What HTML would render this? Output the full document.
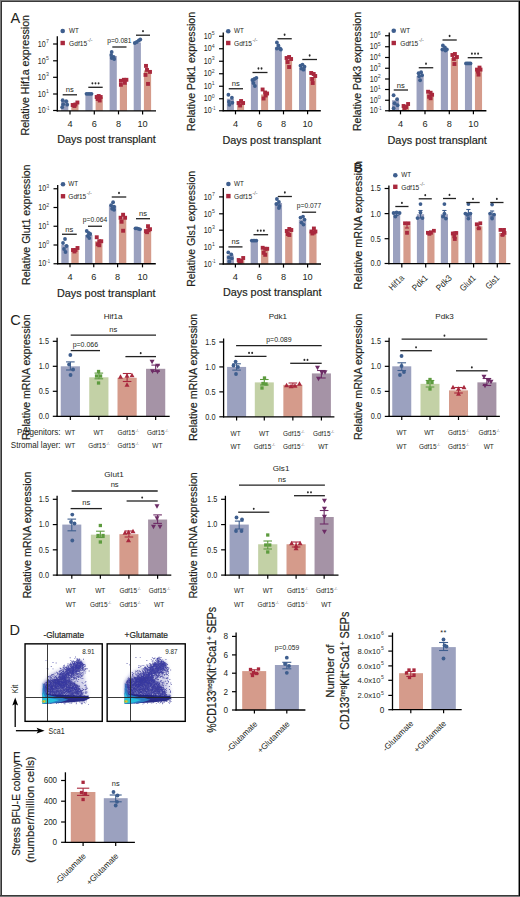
<!DOCTYPE html>
<html><head><meta charset="utf-8"><style>
html,body{margin:0;padding:0;background:#fff;width:520px;height:897px;overflow:hidden}
svg{display:block}
text{font-family:"Liberation Sans", sans-serif}
.b{stroke:#231f20;stroke-width:0.2px}
</style></head><body>
<svg width="520" height="897" viewBox="0 0 520 897">
<rect width="520" height="897" fill="#fff"/>
<text transform="translate(28.80,75.25) rotate(-90)" font-size="11.6" text-anchor="middle" fill="#231f20" textLength="120.5" lengthAdjust="spacingAndGlyphs" class="b">Relative Hif1a expression</text>
<rect x="61.10" y="100.20" width="7.20" height="10.60" fill="#9ba1bf"/>
<rect x="71.30" y="103.50" width="7.20" height="7.30" fill="#d59b8b"/>
<rect x="85.40" y="93.80" width="7.20" height="17.00" fill="#9ba1bf"/>
<rect x="95.60" y="97.00" width="7.20" height="13.80" fill="#d59b8b"/>
<rect x="109.60" y="56.00" width="7.20" height="54.80" fill="#9ba1bf"/>
<rect x="119.80" y="83.80" width="7.20" height="27.00" fill="#d59b8b"/>
<rect x="133.70" y="42.50" width="7.20" height="68.30" fill="#9ba1bf"/>
<rect x="143.90" y="70.40" width="7.20" height="40.40" fill="#d59b8b"/>
<circle cx="62.70" cy="100.20" r="1.9" fill="#3e5e8e"/>
<circle cx="66.20" cy="101.20" r="1.9" fill="#3e5e8e"/>
<circle cx="63.20" cy="104.20" r="1.9" fill="#3e5e8e"/>
<circle cx="67.20" cy="104.70" r="1.9" fill="#3e5e8e"/>
<circle cx="62.20" cy="107.20" r="1.9" fill="#3e5e8e"/>
<rect x="70.75" y="103.05" width="3.9" height="3.9" fill="#a9283d"/>
<rect x="73.45" y="102.55" width="3.9" height="3.9" fill="#a9283d"/>
<rect x="75.45" y="100.55" width="3.9" height="3.9" fill="#a9283d"/>
<rect x="72.45" y="104.05" width="3.9" height="3.9" fill="#a9283d"/>
<circle cx="86.50" cy="93.80" r="1.9" fill="#3e5e8e"/>
<circle cx="88.20" cy="93.80" r="1.9" fill="#3e5e8e"/>
<circle cx="89.80" cy="93.80" r="1.9" fill="#3e5e8e"/>
<circle cx="91.50" cy="93.80" r="1.9" fill="#3e5e8e"/>
<rect x="94.75" y="95.05" width="3.9" height="3.9" fill="#a9283d"/>
<rect x="96.75" y="94.05" width="3.9" height="3.9" fill="#a9283d"/>
<rect x="98.75" y="95.05" width="3.9" height="3.9" fill="#a9283d"/>
<rect x="95.75" y="97.05" width="3.9" height="3.9" fill="#a9283d"/>
<rect x="97.75" y="98.55" width="3.9" height="3.9" fill="#a9283d"/>
<circle cx="111.70" cy="52.00" r="1.9" fill="#3e5e8e"/>
<circle cx="111.20" cy="55.00" r="1.9" fill="#3e5e8e"/>
<circle cx="113.70" cy="57.00" r="1.9" fill="#3e5e8e"/>
<circle cx="111.70" cy="58.00" r="1.9" fill="#3e5e8e"/>
<circle cx="114.20" cy="59.00" r="1.9" fill="#3e5e8e"/>
<rect x="118.95" y="78.85" width="3.9" height="3.9" fill="#a9283d"/>
<rect x="121.95" y="77.85" width="3.9" height="3.9" fill="#a9283d"/>
<rect x="124.45" y="77.85" width="3.9" height="3.9" fill="#a9283d"/>
<rect x="118.95" y="82.85" width="3.9" height="3.9" fill="#a9283d"/>
<rect x="122.95" y="80.85" width="3.9" height="3.9" fill="#a9283d"/>
<circle cx="134.80" cy="43.00" r="1.9" fill="#3e5e8e"/>
<circle cx="136.80" cy="42.00" r="1.9" fill="#3e5e8e"/>
<circle cx="138.80" cy="40.50" r="1.9" fill="#3e5e8e"/>
<circle cx="140.30" cy="39.50" r="1.9" fill="#3e5e8e"/>
<rect x="144.05" y="63.95" width="3.9" height="3.9" fill="#a9283d"/>
<rect x="145.05" y="67.95" width="3.9" height="3.9" fill="#a9283d"/>
<rect x="148.05" y="69.95" width="3.9" height="3.9" fill="#a9283d"/>
<rect x="143.55" y="72.95" width="3.9" height="3.9" fill="#a9283d"/>
<rect x="146.05" y="81.95" width="3.9" height="3.9" fill="#a9283d"/>
<line x1="57.30" y1="36.30" x2="57.30" y2="111.40" stroke="#000" stroke-width="1.3"/>
<line x1="56.70" y1="110.80" x2="156.00" y2="110.80" stroke="#000" stroke-width="1.3"/>
<line x1="53.10" y1="44.00" x2="57.30" y2="44.00" stroke="#000" stroke-width="1.2"/>
<text x="45.70" y="46.70" font-size="8.2" text-anchor="end" fill="#231f20" textLength="7.9" lengthAdjust="spacingAndGlyphs">10</text>
<text x="45.90" y="43.10" font-size="5.4" fill="#444" textLength="2.9" lengthAdjust="spacingAndGlyphs">7</text>
<line x1="53.10" y1="60.80" x2="57.30" y2="60.80" stroke="#000" stroke-width="1.2"/>
<text x="45.70" y="63.50" font-size="8.2" text-anchor="end" fill="#231f20" textLength="7.9" lengthAdjust="spacingAndGlyphs">10</text>
<text x="45.90" y="59.90" font-size="5.4" fill="#444" textLength="2.9" lengthAdjust="spacingAndGlyphs">5</text>
<line x1="53.10" y1="77.30" x2="57.30" y2="77.30" stroke="#000" stroke-width="1.2"/>
<text x="45.70" y="80.00" font-size="8.2" text-anchor="end" fill="#231f20" textLength="7.9" lengthAdjust="spacingAndGlyphs">10</text>
<text x="45.90" y="76.40" font-size="5.4" fill="#444" textLength="2.9" lengthAdjust="spacingAndGlyphs">3</text>
<line x1="53.10" y1="94.00" x2="57.30" y2="94.00" stroke="#000" stroke-width="1.2"/>
<text x="45.70" y="96.70" font-size="8.2" text-anchor="end" fill="#231f20" textLength="7.9" lengthAdjust="spacingAndGlyphs">10</text>
<text x="45.90" y="93.10" font-size="5.4" fill="#444" textLength="2.9" lengthAdjust="spacingAndGlyphs">1</text>
<line x1="53.10" y1="110.50" x2="57.30" y2="110.50" stroke="#000" stroke-width="1.2"/>
<text x="45.70" y="113.20" font-size="8.2" text-anchor="end" fill="#231f20" textLength="7.9" lengthAdjust="spacingAndGlyphs">10</text>
<text x="45.90" y="109.60" font-size="5.4" fill="#444" textLength="3.6" lengthAdjust="spacingAndGlyphs">-1</text>
<line x1="70.00" y1="110.80" x2="70.00" y2="114.40" stroke="#000" stroke-width="1.2"/>
<text x="70.00" y="127.10" font-size="9.2" text-anchor="middle" fill="#231f20">4</text>
<line x1="94.30" y1="110.80" x2="94.30" y2="114.40" stroke="#000" stroke-width="1.2"/>
<text x="94.30" y="127.10" font-size="9.2" text-anchor="middle" fill="#231f20">6</text>
<line x1="118.50" y1="110.80" x2="118.50" y2="114.40" stroke="#000" stroke-width="1.2"/>
<text x="118.50" y="127.10" font-size="9.2" text-anchor="middle" fill="#231f20">8</text>
<line x1="142.60" y1="110.80" x2="142.60" y2="114.40" stroke="#000" stroke-width="1.2"/>
<text x="142.60" y="127.10" font-size="9.2" text-anchor="middle" fill="#231f20">10</text>
<text x="57.30" y="143.40" font-size="11.3" text-anchor="start" fill="#231f20" textLength="98.5" lengthAdjust="spacingAndGlyphs" class="b">Days post transplant</text>
<line x1="62.70" y1="94.80" x2="77.00" y2="94.80" stroke="#222" stroke-width="1.3"/>
<text x="69.85" y="92.30" font-size="7.6" text-anchor="middle" fill="#231f20">ns</text>
<line x1="88.30" y1="87.30" x2="102.70" y2="87.30" stroke="#222" stroke-width="1.3"/>
<ellipse cx="92.40" cy="83.30" rx="0.95" ry="1.15" fill="#2a2a2a"/>
<ellipse cx="95.50" cy="83.30" rx="0.95" ry="1.15" fill="#2a2a2a"/>
<ellipse cx="98.60" cy="83.30" rx="0.95" ry="1.15" fill="#2a2a2a"/>
<line x1="112.30" y1="47.00" x2="126.50" y2="47.00" stroke="#222" stroke-width="1.3"/>
<text x="119.40" y="43.20" font-size="6.8" text-anchor="middle" fill="#231f20" textLength="24.3" lengthAdjust="spacingAndGlyphs">p=0.081</text>
<line x1="136.00" y1="35.20" x2="150.00" y2="35.20" stroke="#222" stroke-width="1.3"/>
<ellipse cx="143.00" cy="31.20" rx="0.95" ry="1.15" fill="#2a2a2a"/>
<circle cx="62.70" cy="31.00" r="2.3" fill="#3e5e8e"/>
<rect x="60.50" y="40.80" width="4.4" height="4.4" fill="#a9283d"/>
<text x="69.10" y="33.10" font-size="7.0" text-anchor="start" fill="#231f20" textLength="9.8" lengthAdjust="spacingAndGlyphs">WT</text>
<text x="69.10" y="45.70" font-size="7.4" text-anchor="start" fill="#231f20" textLength="18.0" lengthAdjust="spacingAndGlyphs">Gdf15</text>
<text x="87.60" y="41.80" font-size="4.8" text-anchor="start" fill="#555" textLength="5.0" lengthAdjust="spacingAndGlyphs">-/-</text>
<text transform="translate(194.50,71.50) rotate(-90)" font-size="11.6" text-anchor="middle" fill="#231f20" textLength="119" lengthAdjust="spacingAndGlyphs" class="b">Relative Pdk1 expression</text>
<rect x="226.90" y="98.75" width="7.00" height="12.00" fill="#9ba1bf"/>
<rect x="237.10" y="103.00" width="7.00" height="7.75" fill="#d59b8b"/>
<rect x="250.90" y="80.00" width="7.00" height="30.75" fill="#9ba1bf"/>
<rect x="261.10" y="94.50" width="7.00" height="16.25" fill="#d59b8b"/>
<rect x="274.90" y="47.50" width="7.00" height="63.25" fill="#9ba1bf"/>
<rect x="285.10" y="60.00" width="7.00" height="50.75" fill="#d59b8b"/>
<rect x="299.00" y="67.70" width="7.00" height="43.05" fill="#9ba1bf"/>
<rect x="309.20" y="77.00" width="7.00" height="33.75" fill="#d59b8b"/>
<circle cx="228.40" cy="94.75" r="1.9" fill="#3e5e8e"/>
<circle cx="231.90" cy="97.75" r="1.9" fill="#3e5e8e"/>
<circle cx="228.90" cy="101.75" r="1.9" fill="#3e5e8e"/>
<circle cx="232.40" cy="102.75" r="1.9" fill="#3e5e8e"/>
<circle cx="229.40" cy="104.75" r="1.9" fill="#3e5e8e"/>
<rect x="236.65" y="101.05" width="3.9" height="3.9" fill="#a9283d"/>
<rect x="239.15" y="99.05" width="3.9" height="3.9" fill="#a9283d"/>
<rect x="241.15" y="101.05" width="3.9" height="3.9" fill="#a9283d"/>
<rect x="238.15" y="103.55" width="3.9" height="3.9" fill="#a9283d"/>
<circle cx="252.40" cy="80.00" r="1.9" fill="#3e5e8e"/>
<circle cx="254.40" cy="79.00" r="1.9" fill="#3e5e8e"/>
<circle cx="256.40" cy="78.00" r="1.9" fill="#3e5e8e"/>
<circle cx="253.40" cy="83.00" r="1.9" fill="#3e5e8e"/>
<circle cx="254.90" cy="86.00" r="1.9" fill="#3e5e8e"/>
<rect x="260.65" y="87.55" width="3.9" height="3.9" fill="#a9283d"/>
<rect x="263.15" y="90.55" width="3.9" height="3.9" fill="#a9283d"/>
<rect x="265.15" y="91.55" width="3.9" height="3.9" fill="#a9283d"/>
<rect x="261.65" y="96.55" width="3.9" height="3.9" fill="#a9283d"/>
<rect x="263.65" y="93.55" width="3.9" height="3.9" fill="#a9283d"/>
<circle cx="276.90" cy="42.50" r="1.9" fill="#3e5e8e"/>
<circle cx="278.40" cy="45.50" r="1.9" fill="#3e5e8e"/>
<circle cx="276.90" cy="48.50" r="1.9" fill="#3e5e8e"/>
<circle cx="279.90" cy="48.50" r="1.9" fill="#3e5e8e"/>
<circle cx="280.90" cy="49.50" r="1.9" fill="#3e5e8e"/>
<rect x="284.65" y="56.05" width="3.9" height="3.9" fill="#a9283d"/>
<rect x="287.15" y="55.05" width="3.9" height="3.9" fill="#a9283d"/>
<rect x="289.15" y="57.05" width="3.9" height="3.9" fill="#a9283d"/>
<rect x="285.65" y="60.05" width="3.9" height="3.9" fill="#a9283d"/>
<rect x="287.15" y="65.05" width="3.9" height="3.9" fill="#a9283d"/>
<circle cx="300.50" cy="65.70" r="1.9" fill="#3e5e8e"/>
<circle cx="302.50" cy="64.70" r="1.9" fill="#3e5e8e"/>
<circle cx="304.50" cy="66.70" r="1.9" fill="#3e5e8e"/>
<circle cx="301.50" cy="68.70" r="1.9" fill="#3e5e8e"/>
<circle cx="303.50" cy="69.70" r="1.9" fill="#3e5e8e"/>
<rect x="309.25" y="71.05" width="3.9" height="3.9" fill="#a9283d"/>
<rect x="311.75" y="72.05" width="3.9" height="3.9" fill="#a9283d"/>
<rect x="313.25" y="74.05" width="3.9" height="3.9" fill="#a9283d"/>
<rect x="310.25" y="77.05" width="3.9" height="3.9" fill="#a9283d"/>
<rect x="310.75" y="81.05" width="3.9" height="3.9" fill="#a9283d"/>
<line x1="223.25" y1="32.50" x2="223.25" y2="111.35" stroke="#000" stroke-width="1.3"/>
<line x1="222.65" y1="110.75" x2="320.80" y2="110.75" stroke="#000" stroke-width="1.3"/>
<line x1="219.05" y1="36.25" x2="223.25" y2="36.25" stroke="#000" stroke-width="1.2"/>
<text x="211.65" y="38.95" font-size="8.2" text-anchor="end" fill="#231f20" textLength="7.9" lengthAdjust="spacingAndGlyphs">10</text>
<text x="211.85" y="35.35" font-size="5.4" fill="#444" textLength="2.9" lengthAdjust="spacingAndGlyphs">5</text>
<line x1="219.05" y1="48.75" x2="223.25" y2="48.75" stroke="#000" stroke-width="1.2"/>
<text x="211.65" y="51.45" font-size="8.2" text-anchor="end" fill="#231f20" textLength="7.9" lengthAdjust="spacingAndGlyphs">10</text>
<text x="211.85" y="47.85" font-size="5.4" fill="#444" textLength="2.9" lengthAdjust="spacingAndGlyphs">4</text>
<line x1="219.05" y1="61.25" x2="223.25" y2="61.25" stroke="#000" stroke-width="1.2"/>
<text x="211.65" y="63.95" font-size="8.2" text-anchor="end" fill="#231f20" textLength="7.9" lengthAdjust="spacingAndGlyphs">10</text>
<text x="211.85" y="60.35" font-size="5.4" fill="#444" textLength="2.9" lengthAdjust="spacingAndGlyphs">3</text>
<line x1="219.05" y1="73.75" x2="223.25" y2="73.75" stroke="#000" stroke-width="1.2"/>
<text x="211.65" y="76.45" font-size="8.2" text-anchor="end" fill="#231f20" textLength="7.9" lengthAdjust="spacingAndGlyphs">10</text>
<text x="211.85" y="72.85" font-size="5.4" fill="#444" textLength="2.9" lengthAdjust="spacingAndGlyphs">2</text>
<line x1="219.05" y1="86.25" x2="223.25" y2="86.25" stroke="#000" stroke-width="1.2"/>
<text x="211.65" y="88.95" font-size="8.2" text-anchor="end" fill="#231f20" textLength="7.9" lengthAdjust="spacingAndGlyphs">10</text>
<text x="211.85" y="85.35" font-size="5.4" fill="#444" textLength="2.9" lengthAdjust="spacingAndGlyphs">1</text>
<line x1="219.05" y1="98.75" x2="223.25" y2="98.75" stroke="#000" stroke-width="1.2"/>
<text x="211.65" y="101.45" font-size="8.2" text-anchor="end" fill="#231f20" textLength="7.9" lengthAdjust="spacingAndGlyphs">10</text>
<text x="211.85" y="97.85" font-size="5.4" fill="#444" textLength="2.9" lengthAdjust="spacingAndGlyphs">0</text>
<line x1="219.05" y1="110.75" x2="223.25" y2="110.75" stroke="#000" stroke-width="1.2"/>
<text x="211.65" y="113.45" font-size="8.2" text-anchor="end" fill="#231f20" textLength="7.9" lengthAdjust="spacingAndGlyphs">10</text>
<text x="211.85" y="109.85" font-size="5.4" fill="#444" textLength="3.6" lengthAdjust="spacingAndGlyphs">-1</text>
<line x1="235.50" y1="110.75" x2="235.50" y2="114.35" stroke="#000" stroke-width="1.2"/>
<text x="235.50" y="127.10" font-size="9.2" text-anchor="middle" fill="#231f20">4</text>
<line x1="259.50" y1="110.75" x2="259.50" y2="114.35" stroke="#000" stroke-width="1.2"/>
<text x="259.50" y="127.10" font-size="9.2" text-anchor="middle" fill="#231f20">6</text>
<line x1="283.50" y1="110.75" x2="283.50" y2="114.35" stroke="#000" stroke-width="1.2"/>
<text x="283.50" y="127.10" font-size="9.2" text-anchor="middle" fill="#231f20">8</text>
<line x1="307.60" y1="110.75" x2="307.60" y2="114.35" stroke="#000" stroke-width="1.2"/>
<text x="307.60" y="127.10" font-size="9.2" text-anchor="middle" fill="#231f20">10</text>
<text x="222.50" y="143.90" font-size="11.3" text-anchor="start" fill="#231f20" textLength="98.5" lengthAdjust="spacingAndGlyphs" class="b">Days post transplant</text>
<line x1="228.75" y1="88.75" x2="243.00" y2="88.75" stroke="#222" stroke-width="1.3"/>
<text x="235.88" y="86.25" font-size="7.6" text-anchor="middle" fill="#231f20">ns</text>
<line x1="252.50" y1="72.50" x2="267.50" y2="72.50" stroke="#222" stroke-width="1.3"/>
<ellipse cx="258.45" cy="68.50" rx="0.95" ry="1.15" fill="#2a2a2a"/>
<ellipse cx="261.55" cy="68.50" rx="0.95" ry="1.15" fill="#2a2a2a"/>
<line x1="277.50" y1="38.75" x2="291.75" y2="38.75" stroke="#222" stroke-width="1.3"/>
<ellipse cx="284.62" cy="34.75" rx="0.95" ry="1.15" fill="#2a2a2a"/>
<line x1="302.30" y1="59.50" x2="317.00" y2="59.50" stroke="#222" stroke-width="1.3"/>
<ellipse cx="309.65" cy="55.50" rx="0.95" ry="1.15" fill="#2a2a2a"/>
<circle cx="228.25" cy="31.25" r="2.3" fill="#3e5e8e"/>
<rect x="226.05" y="40.80" width="4.4" height="4.4" fill="#a9283d"/>
<text x="234.05" y="33.35" font-size="7.0" text-anchor="start" fill="#231f20" textLength="9.8" lengthAdjust="spacingAndGlyphs">WT</text>
<text x="234.05" y="45.70" font-size="7.4" text-anchor="start" fill="#231f20" textLength="18.0" lengthAdjust="spacingAndGlyphs">Gdf15</text>
<text x="252.55" y="41.80" font-size="4.8" text-anchor="start" fill="#555" textLength="5.0" lengthAdjust="spacingAndGlyphs">-/-</text>
<text transform="translate(360.50,71.50) rotate(-90)" font-size="11.6" text-anchor="middle" fill="#231f20" textLength="119" lengthAdjust="spacingAndGlyphs" class="b">Relative Pdk3 expression</text>
<rect x="392.05" y="100.25" width="7.10" height="10.50" fill="#9ba1bf"/>
<rect x="402.05" y="106.00" width="7.10" height="4.75" fill="#d59b8b"/>
<rect x="416.55" y="76.25" width="7.10" height="34.50" fill="#9ba1bf"/>
<rect x="426.55" y="93.75" width="7.10" height="17.00" fill="#d59b8b"/>
<rect x="440.85" y="49.50" width="7.10" height="61.25" fill="#9ba1bf"/>
<rect x="450.85" y="58.00" width="7.10" height="52.75" fill="#d59b8b"/>
<rect x="464.95" y="63.40" width="7.10" height="47.35" fill="#9ba1bf"/>
<rect x="474.95" y="69.60" width="7.10" height="41.15" fill="#d59b8b"/>
<circle cx="393.60" cy="95.25" r="1.9" fill="#3e5e8e"/>
<circle cx="397.10" cy="99.25" r="1.9" fill="#3e5e8e"/>
<circle cx="394.60" cy="103.25" r="1.9" fill="#3e5e8e"/>
<circle cx="397.60" cy="105.25" r="1.9" fill="#3e5e8e"/>
<circle cx="393.60" cy="108.25" r="1.9" fill="#3e5e8e"/>
<rect x="401.65" y="104.05" width="3.9" height="3.9" fill="#a9283d"/>
<rect x="404.15" y="105.05" width="3.9" height="3.9" fill="#a9283d"/>
<rect x="406.15" y="102.05" width="3.9" height="3.9" fill="#a9283d"/>
<rect x="402.65" y="106.05" width="3.9" height="3.9" fill="#a9283d"/>
<circle cx="418.60" cy="73.25" r="1.9" fill="#3e5e8e"/>
<circle cx="421.10" cy="72.25" r="1.9" fill="#3e5e8e"/>
<circle cx="422.10" cy="75.25" r="1.9" fill="#3e5e8e"/>
<circle cx="419.10" cy="76.25" r="1.9" fill="#3e5e8e"/>
<circle cx="420.10" cy="80.25" r="1.9" fill="#3e5e8e"/>
<rect x="426.15" y="89.80" width="3.9" height="3.9" fill="#a9283d"/>
<rect x="428.65" y="90.80" width="3.9" height="3.9" fill="#a9283d"/>
<rect x="430.15" y="92.80" width="3.9" height="3.9" fill="#a9283d"/>
<rect x="427.15" y="94.80" width="3.9" height="3.9" fill="#a9283d"/>
<rect x="428.65" y="96.30" width="3.9" height="3.9" fill="#a9283d"/>
<circle cx="442.90" cy="45.50" r="1.9" fill="#3e5e8e"/>
<circle cx="444.90" cy="47.50" r="1.9" fill="#3e5e8e"/>
<circle cx="442.40" cy="49.50" r="1.9" fill="#3e5e8e"/>
<circle cx="445.40" cy="50.50" r="1.9" fill="#3e5e8e"/>
<circle cx="446.90" cy="49.50" r="1.9" fill="#3e5e8e"/>
<rect x="450.45" y="53.05" width="3.9" height="3.9" fill="#a9283d"/>
<rect x="452.95" y="52.05" width="3.9" height="3.9" fill="#a9283d"/>
<rect x="454.95" y="55.05" width="3.9" height="3.9" fill="#a9283d"/>
<rect x="451.95" y="57.05" width="3.9" height="3.9" fill="#a9283d"/>
<rect x="452.45" y="62.05" width="3.9" height="3.9" fill="#a9283d"/>
<circle cx="466.00" cy="63.40" r="1.9" fill="#3e5e8e"/>
<circle cx="467.50" cy="63.40" r="1.9" fill="#3e5e8e"/>
<circle cx="469.00" cy="63.40" r="1.9" fill="#3e5e8e"/>
<circle cx="470.50" cy="63.40" r="1.9" fill="#3e5e8e"/>
<rect x="475.05" y="67.65" width="3.9" height="3.9" fill="#a9283d"/>
<rect x="477.55" y="65.65" width="3.9" height="3.9" fill="#a9283d"/>
<rect x="478.55" y="67.65" width="3.9" height="3.9" fill="#a9283d"/>
<rect x="476.05" y="69.65" width="3.9" height="3.9" fill="#a9283d"/>
<rect x="476.55" y="72.65" width="3.9" height="3.9" fill="#a9283d"/>
<line x1="389.25" y1="32.50" x2="389.25" y2="111.35" stroke="#000" stroke-width="1.3"/>
<line x1="388.65" y1="110.75" x2="486.40" y2="110.75" stroke="#000" stroke-width="1.3"/>
<line x1="385.05" y1="35.75" x2="389.25" y2="35.75" stroke="#000" stroke-width="1.2"/>
<text x="377.65" y="38.45" font-size="8.2" text-anchor="end" fill="#231f20" textLength="7.9" lengthAdjust="spacingAndGlyphs">10</text>
<text x="377.85" y="34.85" font-size="5.4" fill="#444" textLength="2.9" lengthAdjust="spacingAndGlyphs">6</text>
<line x1="385.05" y1="46.75" x2="389.25" y2="46.75" stroke="#000" stroke-width="1.2"/>
<text x="377.65" y="49.45" font-size="8.2" text-anchor="end" fill="#231f20" textLength="7.9" lengthAdjust="spacingAndGlyphs">10</text>
<text x="377.85" y="45.85" font-size="5.4" fill="#444" textLength="2.9" lengthAdjust="spacingAndGlyphs">5</text>
<line x1="385.05" y1="57.50" x2="389.25" y2="57.50" stroke="#000" stroke-width="1.2"/>
<text x="377.65" y="60.20" font-size="8.2" text-anchor="end" fill="#231f20" textLength="7.9" lengthAdjust="spacingAndGlyphs">10</text>
<text x="377.85" y="56.60" font-size="5.4" fill="#444" textLength="2.9" lengthAdjust="spacingAndGlyphs">4</text>
<line x1="385.05" y1="68.25" x2="389.25" y2="68.25" stroke="#000" stroke-width="1.2"/>
<text x="377.65" y="70.95" font-size="8.2" text-anchor="end" fill="#231f20" textLength="7.9" lengthAdjust="spacingAndGlyphs">10</text>
<text x="377.85" y="67.35" font-size="5.4" fill="#444" textLength="2.9" lengthAdjust="spacingAndGlyphs">3</text>
<line x1="385.05" y1="79.00" x2="389.25" y2="79.00" stroke="#000" stroke-width="1.2"/>
<text x="377.65" y="81.70" font-size="8.2" text-anchor="end" fill="#231f20" textLength="7.9" lengthAdjust="spacingAndGlyphs">10</text>
<text x="377.85" y="78.10" font-size="5.4" fill="#444" textLength="2.9" lengthAdjust="spacingAndGlyphs">2</text>
<line x1="385.05" y1="89.50" x2="389.25" y2="89.50" stroke="#000" stroke-width="1.2"/>
<text x="377.65" y="92.20" font-size="8.2" text-anchor="end" fill="#231f20" textLength="7.9" lengthAdjust="spacingAndGlyphs">10</text>
<text x="377.85" y="88.60" font-size="5.4" fill="#444" textLength="2.9" lengthAdjust="spacingAndGlyphs">1</text>
<line x1="385.05" y1="100.25" x2="389.25" y2="100.25" stroke="#000" stroke-width="1.2"/>
<text x="377.65" y="102.95" font-size="8.2" text-anchor="end" fill="#231f20" textLength="7.9" lengthAdjust="spacingAndGlyphs">10</text>
<text x="377.85" y="99.35" font-size="5.4" fill="#444" textLength="2.9" lengthAdjust="spacingAndGlyphs">0</text>
<line x1="385.05" y1="110.75" x2="389.25" y2="110.75" stroke="#000" stroke-width="1.2"/>
<text x="377.65" y="113.45" font-size="8.2" text-anchor="end" fill="#231f20" textLength="7.9" lengthAdjust="spacingAndGlyphs">10</text>
<text x="377.85" y="109.85" font-size="5.4" fill="#444" textLength="3.6" lengthAdjust="spacingAndGlyphs">-1</text>
<line x1="400.50" y1="110.75" x2="400.50" y2="114.35" stroke="#000" stroke-width="1.2"/>
<text x="400.50" y="127.10" font-size="9.2" text-anchor="middle" fill="#231f20">4</text>
<line x1="425.00" y1="110.75" x2="425.00" y2="114.35" stroke="#000" stroke-width="1.2"/>
<text x="425.00" y="127.10" font-size="9.2" text-anchor="middle" fill="#231f20">6</text>
<line x1="449.30" y1="110.75" x2="449.30" y2="114.35" stroke="#000" stroke-width="1.2"/>
<text x="449.30" y="127.10" font-size="9.2" text-anchor="middle" fill="#231f20">8</text>
<line x1="473.40" y1="110.75" x2="473.40" y2="114.35" stroke="#000" stroke-width="1.2"/>
<text x="473.40" y="127.10" font-size="9.2" text-anchor="middle" fill="#231f20">10</text>
<text x="387.50" y="143.90" font-size="11.3" text-anchor="start" fill="#231f20" textLength="99.3" lengthAdjust="spacingAndGlyphs" class="b">Days post transplant</text>
<line x1="393.75" y1="90.00" x2="408.00" y2="90.00" stroke="#222" stroke-width="1.3"/>
<text x="400.88" y="87.50" font-size="7.6" text-anchor="middle" fill="#231f20">ns</text>
<line x1="418.75" y1="67.75" x2="433.25" y2="67.75" stroke="#222" stroke-width="1.3"/>
<ellipse cx="426.00" cy="63.75" rx="0.95" ry="1.15" fill="#2a2a2a"/>
<line x1="442.50" y1="40.00" x2="456.75" y2="40.00" stroke="#222" stroke-width="1.3"/>
<ellipse cx="449.62" cy="36.00" rx="0.95" ry="1.15" fill="#2a2a2a"/>
<line x1="467.70" y1="57.70" x2="482.30" y2="57.70" stroke="#222" stroke-width="1.3"/>
<ellipse cx="471.90" cy="53.70" rx="0.95" ry="1.15" fill="#2a2a2a"/>
<ellipse cx="475.00" cy="53.70" rx="0.95" ry="1.15" fill="#2a2a2a"/>
<ellipse cx="478.10" cy="53.70" rx="0.95" ry="1.15" fill="#2a2a2a"/>
<circle cx="393.75" cy="30.75" r="2.3" fill="#3e5e8e"/>
<rect x="391.55" y="40.80" width="4.4" height="4.4" fill="#a9283d"/>
<text x="400.30" y="32.85" font-size="7.0" text-anchor="start" fill="#231f20" textLength="9.8" lengthAdjust="spacingAndGlyphs">WT</text>
<text x="400.30" y="45.70" font-size="7.4" text-anchor="start" fill="#231f20" textLength="18.0" lengthAdjust="spacingAndGlyphs">Gdf15</text>
<text x="418.80" y="41.80" font-size="4.8" text-anchor="start" fill="#555" textLength="5.0" lengthAdjust="spacingAndGlyphs">-/-</text>
<text transform="translate(29.50,224.75) rotate(-90)" font-size="11.6" text-anchor="middle" fill="#231f20" textLength="120.5" lengthAdjust="spacingAndGlyphs" class="b">Relative Glut1 expression</text>
<rect x="61.30" y="245.00" width="7.40" height="18.75" fill="#9ba1bf"/>
<rect x="71.30" y="250.00" width="7.40" height="13.75" fill="#d59b8b"/>
<rect x="85.05" y="235.00" width="7.40" height="28.75" fill="#9ba1bf"/>
<rect x="95.05" y="241.25" width="7.40" height="22.50" fill="#d59b8b"/>
<rect x="108.90" y="205.75" width="7.40" height="58.00" fill="#9ba1bf"/>
<rect x="118.90" y="218.75" width="7.40" height="45.00" fill="#d59b8b"/>
<rect x="133.80" y="228.30" width="7.40" height="35.45" fill="#9ba1bf"/>
<rect x="143.80" y="229.20" width="7.40" height="34.55" fill="#d59b8b"/>
<circle cx="65.00" cy="239.00" r="1.9" fill="#3e5e8e"/>
<circle cx="63.00" cy="243.00" r="1.9" fill="#3e5e8e"/>
<circle cx="66.50" cy="246.00" r="1.9" fill="#3e5e8e"/>
<circle cx="64.00" cy="249.00" r="1.9" fill="#3e5e8e"/>
<circle cx="65.50" cy="252.00" r="1.9" fill="#3e5e8e"/>
<rect x="71.05" y="248.05" width="3.9" height="3.9" fill="#a9283d"/>
<rect x="73.55" y="248.05" width="3.9" height="3.9" fill="#a9283d"/>
<rect x="75.55" y="246.05" width="3.9" height="3.9" fill="#a9283d"/>
<rect x="72.55" y="249.55" width="3.9" height="3.9" fill="#a9283d"/>
<circle cx="86.75" cy="231.00" r="1.9" fill="#3e5e8e"/>
<circle cx="88.75" cy="233.00" r="1.9" fill="#3e5e8e"/>
<circle cx="90.25" cy="234.00" r="1.9" fill="#3e5e8e"/>
<circle cx="87.75" cy="236.00" r="1.9" fill="#3e5e8e"/>
<circle cx="89.25" cy="238.00" r="1.9" fill="#3e5e8e"/>
<rect x="94.80" y="235.30" width="3.9" height="3.9" fill="#a9283d"/>
<rect x="97.30" y="239.30" width="3.9" height="3.9" fill="#a9283d"/>
<rect x="99.30" y="239.30" width="3.9" height="3.9" fill="#a9283d"/>
<rect x="95.80" y="242.30" width="3.9" height="3.9" fill="#a9283d"/>
<rect x="97.30" y="243.30" width="3.9" height="3.9" fill="#a9283d"/>
<circle cx="113.10" cy="202.25" r="1.9" fill="#3e5e8e"/>
<circle cx="111.10" cy="205.25" r="1.9" fill="#3e5e8e"/>
<circle cx="114.10" cy="206.75" r="1.9" fill="#3e5e8e"/>
<circle cx="112.10" cy="208.75" r="1.9" fill="#3e5e8e"/>
<circle cx="114.10" cy="209.75" r="1.9" fill="#3e5e8e"/>
<rect x="118.65" y="215.80" width="3.9" height="3.9" fill="#a9283d"/>
<rect x="121.15" y="212.80" width="3.9" height="3.9" fill="#a9283d"/>
<rect x="123.15" y="215.80" width="3.9" height="3.9" fill="#a9283d"/>
<rect x="119.65" y="219.80" width="3.9" height="3.9" fill="#a9283d"/>
<rect x="121.15" y="228.80" width="3.9" height="3.9" fill="#a9283d"/>
<circle cx="135.50" cy="228.30" r="1.9" fill="#3e5e8e"/>
<circle cx="137.00" cy="228.30" r="1.9" fill="#3e5e8e"/>
<circle cx="138.50" cy="228.80" r="1.9" fill="#3e5e8e"/>
<circle cx="140.00" cy="229.30" r="1.9" fill="#3e5e8e"/>
<rect x="144.05" y="229.25" width="3.9" height="3.9" fill="#a9283d"/>
<rect x="146.05" y="224.25" width="3.9" height="3.9" fill="#a9283d"/>
<rect x="148.05" y="227.25" width="3.9" height="3.9" fill="#a9283d"/>
<rect x="145.05" y="230.25" width="3.9" height="3.9" fill="#a9283d"/>
<rect x="146.55" y="228.25" width="3.9" height="3.9" fill="#a9283d"/>
<line x1="57.70" y1="185.00" x2="57.70" y2="264.35" stroke="#000" stroke-width="1.3"/>
<line x1="57.10" y1="263.75" x2="155.80" y2="263.75" stroke="#000" stroke-width="1.3"/>
<line x1="53.50" y1="188.75" x2="57.70" y2="188.75" stroke="#000" stroke-width="1.2"/>
<text x="46.10" y="191.45" font-size="8.2" text-anchor="end" fill="#231f20" textLength="7.9" lengthAdjust="spacingAndGlyphs">10</text>
<text x="46.30" y="187.85" font-size="5.4" fill="#444" textLength="2.9" lengthAdjust="spacingAndGlyphs">3</text>
<line x1="53.50" y1="207.50" x2="57.70" y2="207.50" stroke="#000" stroke-width="1.2"/>
<text x="46.10" y="210.20" font-size="8.2" text-anchor="end" fill="#231f20" textLength="7.9" lengthAdjust="spacingAndGlyphs">10</text>
<text x="46.30" y="206.60" font-size="5.4" fill="#444" textLength="2.9" lengthAdjust="spacingAndGlyphs">2</text>
<line x1="53.50" y1="226.25" x2="57.70" y2="226.25" stroke="#000" stroke-width="1.2"/>
<text x="46.10" y="228.95" font-size="8.2" text-anchor="end" fill="#231f20" textLength="7.9" lengthAdjust="spacingAndGlyphs">10</text>
<text x="46.30" y="225.35" font-size="5.4" fill="#444" textLength="2.9" lengthAdjust="spacingAndGlyphs">1</text>
<line x1="53.50" y1="245.00" x2="57.70" y2="245.00" stroke="#000" stroke-width="1.2"/>
<text x="46.10" y="247.70" font-size="8.2" text-anchor="end" fill="#231f20" textLength="7.9" lengthAdjust="spacingAndGlyphs">10</text>
<text x="46.30" y="244.10" font-size="5.4" fill="#444" textLength="2.9" lengthAdjust="spacingAndGlyphs">0</text>
<line x1="53.50" y1="263.75" x2="57.70" y2="263.75" stroke="#000" stroke-width="1.2"/>
<text x="46.10" y="266.45" font-size="8.2" text-anchor="end" fill="#231f20" textLength="7.9" lengthAdjust="spacingAndGlyphs">10</text>
<text x="46.30" y="262.85" font-size="5.4" fill="#444" textLength="3.6" lengthAdjust="spacingAndGlyphs">-1</text>
<line x1="70.00" y1="263.75" x2="70.00" y2="267.35" stroke="#000" stroke-width="1.2"/>
<text x="70.00" y="280.30" font-size="9.2" text-anchor="middle" fill="#231f20">4</text>
<line x1="93.75" y1="263.75" x2="93.75" y2="267.35" stroke="#000" stroke-width="1.2"/>
<text x="93.75" y="280.30" font-size="9.2" text-anchor="middle" fill="#231f20">6</text>
<line x1="117.60" y1="263.75" x2="117.60" y2="267.35" stroke="#000" stroke-width="1.2"/>
<text x="117.60" y="280.30" font-size="9.2" text-anchor="middle" fill="#231f20">8</text>
<line x1="142.50" y1="263.75" x2="142.50" y2="267.35" stroke="#000" stroke-width="1.2"/>
<text x="142.50" y="280.30" font-size="9.2" text-anchor="middle" fill="#231f20">10</text>
<text x="57.00" y="296.90" font-size="11.3" text-anchor="start" fill="#231f20" textLength="98.5" lengthAdjust="spacingAndGlyphs" class="b">Days post transplant</text>
<line x1="62.00" y1="234.25" x2="76.75" y2="234.25" stroke="#222" stroke-width="1.3"/>
<text x="69.38" y="231.75" font-size="7.6" text-anchor="middle" fill="#231f20">ns</text>
<line x1="88.00" y1="226.25" x2="102.00" y2="226.25" stroke="#222" stroke-width="1.3"/>
<text x="95.00" y="222.45" font-size="6.8" text-anchor="middle" fill="#231f20" textLength="24.3" lengthAdjust="spacingAndGlyphs">p=0.064</text>
<line x1="111.75" y1="197.00" x2="126.25" y2="197.00" stroke="#222" stroke-width="1.3"/>
<ellipse cx="119.00" cy="193.00" rx="0.95" ry="1.15" fill="#2a2a2a"/>
<line x1="136.00" y1="218.70" x2="150.00" y2="218.70" stroke="#222" stroke-width="1.3"/>
<text x="143.00" y="216.20" font-size="7.6" text-anchor="middle" fill="#231f20">ns</text>
<circle cx="63.00" cy="184.25" r="2.3" fill="#3e5e8e"/>
<rect x="60.80" y="194.05" width="4.4" height="4.4" fill="#a9283d"/>
<text x="68.30" y="186.35" font-size="7.0" text-anchor="start" fill="#231f20" textLength="9.8" lengthAdjust="spacingAndGlyphs">WT</text>
<text x="68.30" y="198.95" font-size="7.4" text-anchor="start" fill="#231f20" textLength="18.0" lengthAdjust="spacingAndGlyphs">Gdf15</text>
<text x="86.80" y="195.05" font-size="4.8" text-anchor="start" fill="#555" textLength="5.0" lengthAdjust="spacingAndGlyphs">-/-</text>
<text transform="translate(195.10,228.80) rotate(-90)" font-size="11.6" text-anchor="middle" fill="#231f20" textLength="116.0" lengthAdjust="spacingAndGlyphs" class="b">Relative Gls1 expression</text>
<rect x="226.65" y="255.40" width="7.30" height="8.60" fill="#9ba1bf"/>
<rect x="237.05" y="260.00" width="7.30" height="4.00" fill="#d59b8b"/>
<rect x="250.65" y="240.60" width="7.30" height="23.40" fill="#9ba1bf"/>
<rect x="261.05" y="249.80" width="7.30" height="14.20" fill="#d59b8b"/>
<rect x="274.75" y="203.00" width="7.30" height="61.00" fill="#9ba1bf"/>
<rect x="285.15" y="231.00" width="7.30" height="33.00" fill="#d59b8b"/>
<rect x="298.85" y="219.60" width="7.30" height="44.40" fill="#9ba1bf"/>
<rect x="309.25" y="231.50" width="7.30" height="32.50" fill="#d59b8b"/>
<circle cx="228.30" cy="252.40" r="1.9" fill="#3e5e8e"/>
<circle cx="231.30" cy="254.40" r="1.9" fill="#3e5e8e"/>
<circle cx="228.80" cy="257.40" r="1.9" fill="#3e5e8e"/>
<circle cx="231.80" cy="258.40" r="1.9" fill="#3e5e8e"/>
<circle cx="229.30" cy="261.40" r="1.9" fill="#3e5e8e"/>
<rect x="236.75" y="258.05" width="3.9" height="3.9" fill="#a9283d"/>
<rect x="239.25" y="259.05" width="3.9" height="3.9" fill="#a9283d"/>
<rect x="241.25" y="256.05" width="3.9" height="3.9" fill="#a9283d"/>
<rect x="237.75" y="259.55" width="3.9" height="3.9" fill="#a9283d"/>
<circle cx="251.80" cy="240.60" r="1.9" fill="#3e5e8e"/>
<circle cx="253.30" cy="240.60" r="1.9" fill="#3e5e8e"/>
<circle cx="254.80" cy="240.60" r="1.9" fill="#3e5e8e"/>
<circle cx="256.30" cy="240.60" r="1.9" fill="#3e5e8e"/>
<rect x="260.75" y="245.85" width="3.9" height="3.9" fill="#a9283d"/>
<rect x="263.25" y="246.85" width="3.9" height="3.9" fill="#a9283d"/>
<rect x="265.25" y="246.85" width="3.9" height="3.9" fill="#a9283d"/>
<rect x="261.75" y="250.85" width="3.9" height="3.9" fill="#a9283d"/>
<rect x="263.25" y="252.85" width="3.9" height="3.9" fill="#a9283d"/>
<circle cx="276.90" cy="199.00" r="1.9" fill="#3e5e8e"/>
<circle cx="278.90" cy="202.00" r="1.9" fill="#3e5e8e"/>
<circle cx="276.40" cy="204.00" r="1.9" fill="#3e5e8e"/>
<circle cx="279.40" cy="206.00" r="1.9" fill="#3e5e8e"/>
<circle cx="278.90" cy="208.00" r="1.9" fill="#3e5e8e"/>
<rect x="284.85" y="229.05" width="3.9" height="3.9" fill="#a9283d"/>
<rect x="287.35" y="227.05" width="3.9" height="3.9" fill="#a9283d"/>
<rect x="289.35" y="228.05" width="3.9" height="3.9" fill="#a9283d"/>
<rect x="285.85" y="232.05" width="3.9" height="3.9" fill="#a9283d"/>
<rect x="287.35" y="233.05" width="3.9" height="3.9" fill="#a9283d"/>
<circle cx="300.50" cy="217.60" r="1.9" fill="#3e5e8e"/>
<circle cx="303.00" cy="216.60" r="1.9" fill="#3e5e8e"/>
<circle cx="304.50" cy="219.60" r="1.9" fill="#3e5e8e"/>
<circle cx="301.50" cy="222.60" r="1.9" fill="#3e5e8e"/>
<circle cx="303.50" cy="224.60" r="1.9" fill="#3e5e8e"/>
<rect x="309.45" y="229.55" width="3.9" height="3.9" fill="#a9283d"/>
<rect x="311.95" y="226.55" width="3.9" height="3.9" fill="#a9283d"/>
<rect x="313.45" y="229.55" width="3.9" height="3.9" fill="#a9283d"/>
<rect x="310.45" y="231.55" width="3.9" height="3.9" fill="#a9283d"/>
<rect x="311.95" y="230.55" width="3.9" height="3.9" fill="#a9283d"/>
<line x1="223.30" y1="188.10" x2="223.30" y2="264.60" stroke="#000" stroke-width="1.3"/>
<line x1="222.70" y1="264.00" x2="321.00" y2="264.00" stroke="#000" stroke-width="1.3"/>
<line x1="219.10" y1="196.90" x2="223.30" y2="196.90" stroke="#000" stroke-width="1.2"/>
<text x="211.70" y="199.60" font-size="8.2" text-anchor="end" fill="#231f20" textLength="7.9" lengthAdjust="spacingAndGlyphs">10</text>
<text x="211.90" y="196.00" font-size="5.4" fill="#444" textLength="2.9" lengthAdjust="spacingAndGlyphs">7</text>
<line x1="219.10" y1="213.80" x2="223.30" y2="213.80" stroke="#000" stroke-width="1.2"/>
<text x="211.70" y="216.50" font-size="8.2" text-anchor="end" fill="#231f20" textLength="7.9" lengthAdjust="spacingAndGlyphs">10</text>
<text x="211.90" y="212.90" font-size="5.4" fill="#444" textLength="2.9" lengthAdjust="spacingAndGlyphs">5</text>
<line x1="219.10" y1="230.20" x2="223.30" y2="230.20" stroke="#000" stroke-width="1.2"/>
<text x="211.70" y="232.90" font-size="8.2" text-anchor="end" fill="#231f20" textLength="7.9" lengthAdjust="spacingAndGlyphs">10</text>
<text x="211.90" y="229.30" font-size="5.4" fill="#444" textLength="2.9" lengthAdjust="spacingAndGlyphs">3</text>
<line x1="219.10" y1="247.00" x2="223.30" y2="247.00" stroke="#000" stroke-width="1.2"/>
<text x="211.70" y="249.70" font-size="8.2" text-anchor="end" fill="#231f20" textLength="7.9" lengthAdjust="spacingAndGlyphs">10</text>
<text x="211.90" y="246.10" font-size="5.4" fill="#444" textLength="2.9" lengthAdjust="spacingAndGlyphs">1</text>
<line x1="219.10" y1="264.00" x2="223.30" y2="264.00" stroke="#000" stroke-width="1.2"/>
<text x="211.70" y="266.70" font-size="8.2" text-anchor="end" fill="#231f20" textLength="7.9" lengthAdjust="spacingAndGlyphs">10</text>
<text x="211.90" y="263.10" font-size="5.4" fill="#444" textLength="3.6" lengthAdjust="spacingAndGlyphs">-1</text>
<line x1="235.40" y1="264.00" x2="235.40" y2="267.60" stroke="#000" stroke-width="1.2"/>
<text x="235.40" y="280.30" font-size="9.2" text-anchor="middle" fill="#231f20">4</text>
<line x1="259.40" y1="264.00" x2="259.40" y2="267.60" stroke="#000" stroke-width="1.2"/>
<text x="259.40" y="280.30" font-size="9.2" text-anchor="middle" fill="#231f20">6</text>
<line x1="283.50" y1="264.00" x2="283.50" y2="267.60" stroke="#000" stroke-width="1.2"/>
<text x="283.50" y="280.30" font-size="9.2" text-anchor="middle" fill="#231f20">8</text>
<line x1="307.60" y1="264.00" x2="307.60" y2="267.60" stroke="#000" stroke-width="1.2"/>
<text x="307.60" y="280.30" font-size="9.2" text-anchor="middle" fill="#231f20">10</text>
<text x="223.00" y="296.40" font-size="11.3" text-anchor="start" fill="#231f20" textLength="98.5" lengthAdjust="spacingAndGlyphs" class="b">Days post transplant</text>
<line x1="228.40" y1="246.90" x2="242.50" y2="246.90" stroke="#222" stroke-width="1.3"/>
<text x="235.45" y="244.40" font-size="7.6" text-anchor="middle" fill="#231f20">ns</text>
<line x1="253.50" y1="234.70" x2="268.10" y2="234.70" stroke="#222" stroke-width="1.3"/>
<ellipse cx="257.70" cy="230.70" rx="0.95" ry="1.15" fill="#2a2a2a"/>
<ellipse cx="260.80" cy="230.70" rx="0.95" ry="1.15" fill="#2a2a2a"/>
<ellipse cx="263.90" cy="230.70" rx="0.95" ry="1.15" fill="#2a2a2a"/>
<line x1="277.80" y1="196.50" x2="291.90" y2="196.50" stroke="#222" stroke-width="1.3"/>
<ellipse cx="284.85" cy="192.50" rx="0.95" ry="1.15" fill="#2a2a2a"/>
<line x1="301.90" y1="212.20" x2="316.10" y2="212.20" stroke="#222" stroke-width="1.3"/>
<text x="309.00" y="208.40" font-size="6.8" text-anchor="middle" fill="#231f20" textLength="24.3" lengthAdjust="spacingAndGlyphs">p=0.077</text>
<circle cx="228.40" cy="184.00" r="2.3" fill="#3e5e8e"/>
<rect x="226.20" y="193.90" width="4.4" height="4.4" fill="#a9283d"/>
<text x="234.10" y="186.10" font-size="7.0" text-anchor="start" fill="#231f20" textLength="9.8" lengthAdjust="spacingAndGlyphs">WT</text>
<text x="234.10" y="198.80" font-size="7.4" text-anchor="start" fill="#231f20" textLength="18.0" lengthAdjust="spacingAndGlyphs">Gdf15</text>
<text x="252.60" y="194.90" font-size="4.8" text-anchor="start" fill="#555" textLength="5.0" lengthAdjust="spacingAndGlyphs">-/-</text>
<text x="10.50" y="22.80" font-size="14.5" text-anchor="start" fill="#231f20">A</text>
<text x="10.30" y="324.90" font-size="14.5" text-anchor="start" fill="#231f20">C</text>
<text x="9.60" y="634.60" font-size="14.5" text-anchor="start" fill="#231f20">D</text>
<text x="13.0" y="761.5" font-size="14.5" fill="#231f20" textLength="7.6" lengthAdjust="spacingAndGlyphs">E</text>
<text transform="translate(361.50,225.40) rotate(-90)" font-size="11.2" text-anchor="middle" fill="#231f20" textLength="128.8" lengthAdjust="spacingAndGlyphs" class="b">Relative mRNA expression</text>
<rect x="393.00" y="213.60" width="7.20" height="50.00" fill="#9ba1bf"/>
<rect x="403.40" y="225.30" width="7.20" height="38.30" fill="#d59b8b"/>
<rect x="416.90" y="214.20" width="7.20" height="49.40" fill="#9ba1bf"/>
<rect x="427.30" y="232.80" width="7.20" height="30.80" fill="#d59b8b"/>
<rect x="440.80" y="214.20" width="7.20" height="49.40" fill="#9ba1bf"/>
<rect x="451.20" y="235.00" width="7.20" height="28.60" fill="#d59b8b"/>
<rect x="464.80" y="212.60" width="7.20" height="51.00" fill="#9ba1bf"/>
<rect x="475.20" y="226.30" width="7.20" height="37.30" fill="#d59b8b"/>
<rect x="488.50" y="214.20" width="7.20" height="49.40" fill="#9ba1bf"/>
<rect x="498.90" y="232.90" width="7.20" height="30.70" fill="#d59b8b"/>
<line x1="396.60" y1="212.00" x2="396.60" y2="215.50" stroke="#3e5e8e" stroke-width="1.1"/>
<line x1="394.50" y1="212.00" x2="398.70" y2="212.00" stroke="#3e5e8e" stroke-width="1.1"/>
<line x1="394.50" y1="215.50" x2="398.70" y2="215.50" stroke="#3e5e8e" stroke-width="1.1"/>
<line x1="407.00" y1="223.00" x2="407.00" y2="228.00" stroke="#a9283d" stroke-width="1.1"/>
<line x1="404.90" y1="223.00" x2="409.10" y2="223.00" stroke="#a9283d" stroke-width="1.1"/>
<line x1="404.90" y1="228.00" x2="409.10" y2="228.00" stroke="#a9283d" stroke-width="1.1"/>
<circle cx="393.60" cy="213.00" r="1.9" fill="#3e5e8e"/>
<circle cx="396.60" cy="212.40" r="1.9" fill="#3e5e8e"/>
<circle cx="399.60" cy="213.00" r="1.9" fill="#3e5e8e"/>
<circle cx="395.40" cy="216.60" r="1.9" fill="#3e5e8e"/>
<rect x="403.10" y="221.40" width="3.8" height="3.8" fill="#a9283d"/>
<rect x="406.60" y="221.40" width="3.8" height="3.8" fill="#a9283d"/>
<rect x="405.10" y="230.90" width="3.8" height="3.8" fill="#a9283d"/>
<line x1="420.50" y1="210.50" x2="420.50" y2="218.00" stroke="#3e5e8e" stroke-width="1.1"/>
<line x1="418.40" y1="210.50" x2="422.60" y2="210.50" stroke="#3e5e8e" stroke-width="1.1"/>
<line x1="418.40" y1="218.00" x2="422.60" y2="218.00" stroke="#3e5e8e" stroke-width="1.1"/>
<line x1="430.90" y1="231.50" x2="430.90" y2="234.00" stroke="#a9283d" stroke-width="1.1"/>
<line x1="428.80" y1="231.50" x2="433.00" y2="231.50" stroke="#a9283d" stroke-width="1.1"/>
<line x1="428.80" y1="234.00" x2="433.00" y2="234.00" stroke="#a9283d" stroke-width="1.1"/>
<circle cx="420.50" cy="204.10" r="1.9" fill="#3e5e8e"/>
<circle cx="420.50" cy="212.60" r="1.9" fill="#3e5e8e"/>
<circle cx="417.50" cy="218.10" r="1.9" fill="#3e5e8e"/>
<circle cx="422.50" cy="218.10" r="1.9" fill="#3e5e8e"/>
<rect x="426.00" y="230.90" width="3.8" height="3.8" fill="#a9283d"/>
<rect x="429.00" y="230.40" width="3.8" height="3.8" fill="#a9283d"/>
<rect x="432.00" y="228.90" width="3.8" height="3.8" fill="#a9283d"/>
<rect x="427.50" y="231.90" width="3.8" height="3.8" fill="#a9283d"/>
<line x1="444.40" y1="210.50" x2="444.40" y2="217.50" stroke="#3e5e8e" stroke-width="1.1"/>
<line x1="442.30" y1="210.50" x2="446.50" y2="210.50" stroke="#3e5e8e" stroke-width="1.1"/>
<line x1="442.30" y1="217.50" x2="446.50" y2="217.50" stroke="#3e5e8e" stroke-width="1.1"/>
<line x1="454.80" y1="232.00" x2="454.80" y2="238.00" stroke="#a9283d" stroke-width="1.1"/>
<line x1="452.70" y1="232.00" x2="456.90" y2="232.00" stroke="#a9283d" stroke-width="1.1"/>
<line x1="452.70" y1="238.00" x2="456.90" y2="238.00" stroke="#a9283d" stroke-width="1.1"/>
<circle cx="444.40" cy="204.10" r="1.9" fill="#3e5e8e"/>
<circle cx="444.40" cy="213.60" r="1.9" fill="#3e5e8e"/>
<circle cx="442.90" cy="216.60" r="1.9" fill="#3e5e8e"/>
<circle cx="445.90" cy="218.60" r="1.9" fill="#3e5e8e"/>
<rect x="450.90" y="231.60" width="3.8" height="3.8" fill="#a9283d"/>
<rect x="454.40" y="231.10" width="3.8" height="3.8" fill="#a9283d"/>
<rect x="452.90" y="237.10" width="3.8" height="3.8" fill="#a9283d"/>
<rect x="452.40" y="234.10" width="3.8" height="3.8" fill="#a9283d"/>
<line x1="468.40" y1="209.50" x2="468.40" y2="216.00" stroke="#3e5e8e" stroke-width="1.1"/>
<line x1="466.30" y1="209.50" x2="470.50" y2="209.50" stroke="#3e5e8e" stroke-width="1.1"/>
<line x1="466.30" y1="216.00" x2="470.50" y2="216.00" stroke="#3e5e8e" stroke-width="1.1"/>
<line x1="478.80" y1="224.00" x2="478.80" y2="228.50" stroke="#a9283d" stroke-width="1.1"/>
<line x1="476.70" y1="224.00" x2="480.90" y2="224.00" stroke="#a9283d" stroke-width="1.1"/>
<line x1="476.70" y1="228.50" x2="480.90" y2="228.50" stroke="#a9283d" stroke-width="1.1"/>
<circle cx="465.40" cy="213.60" r="1.9" fill="#3e5e8e"/>
<circle cx="468.40" cy="204.10" r="1.9" fill="#3e5e8e"/>
<circle cx="470.40" cy="213.60" r="1.9" fill="#3e5e8e"/>
<circle cx="468.40" cy="218.60" r="1.9" fill="#3e5e8e"/>
<circle cx="467.40" cy="214.60" r="1.9" fill="#3e5e8e"/>
<rect x="474.90" y="222.40" width="3.8" height="3.8" fill="#a9283d"/>
<rect x="478.40" y="221.40" width="3.8" height="3.8" fill="#a9283d"/>
<rect x="476.90" y="226.40" width="3.8" height="3.8" fill="#a9283d"/>
<line x1="492.10" y1="211.00" x2="492.10" y2="217.00" stroke="#3e5e8e" stroke-width="1.1"/>
<line x1="490.00" y1="211.00" x2="494.20" y2="211.00" stroke="#3e5e8e" stroke-width="1.1"/>
<line x1="490.00" y1="217.00" x2="494.20" y2="217.00" stroke="#3e5e8e" stroke-width="1.1"/>
<line x1="502.50" y1="230.00" x2="502.50" y2="235.50" stroke="#a9283d" stroke-width="1.1"/>
<line x1="500.40" y1="230.00" x2="504.60" y2="230.00" stroke="#a9283d" stroke-width="1.1"/>
<line x1="500.40" y1="235.50" x2="504.60" y2="235.50" stroke="#a9283d" stroke-width="1.1"/>
<circle cx="492.10" cy="204.60" r="1.9" fill="#3e5e8e"/>
<circle cx="490.10" cy="213.60" r="1.9" fill="#3e5e8e"/>
<circle cx="494.10" cy="214.60" r="1.9" fill="#3e5e8e"/>
<circle cx="492.10" cy="218.60" r="1.9" fill="#3e5e8e"/>
<rect x="498.60" y="228.00" width="3.8" height="3.8" fill="#a9283d"/>
<rect x="502.10" y="228.00" width="3.8" height="3.8" fill="#a9283d"/>
<rect x="500.60" y="233.00" width="3.8" height="3.8" fill="#a9283d"/>
<rect x="502.60" y="231.00" width="3.8" height="3.8" fill="#a9283d"/>
<line x1="388.90" y1="185.50" x2="388.90" y2="264.20" stroke="#000" stroke-width="1.3"/>
<line x1="388.30" y1="263.60" x2="510.40" y2="263.60" stroke="#000" stroke-width="1.3"/>
<line x1="384.60" y1="188.50" x2="388.90" y2="188.50" stroke="#000" stroke-width="1.2"/>
<text x="380.80" y="191.40" font-size="8.4" text-anchor="end" fill="#231f20" textLength="10.2" lengthAdjust="spacingAndGlyphs">1.5</text>
<line x1="384.60" y1="213.60" x2="388.90" y2="213.60" stroke="#000" stroke-width="1.2"/>
<text x="380.80" y="216.50" font-size="8.4" text-anchor="end" fill="#231f20" textLength="10.2" lengthAdjust="spacingAndGlyphs">1.0</text>
<line x1="384.60" y1="238.70" x2="388.90" y2="238.70" stroke="#000" stroke-width="1.2"/>
<text x="380.80" y="241.60" font-size="8.4" text-anchor="end" fill="#231f20" textLength="10.2" lengthAdjust="spacingAndGlyphs">0.5</text>
<line x1="384.60" y1="263.50" x2="388.90" y2="263.50" stroke="#000" stroke-width="1.2"/>
<text x="380.80" y="266.40" font-size="8.4" text-anchor="end" fill="#231f20" textLength="10.2" lengthAdjust="spacingAndGlyphs">0.0</text>
<line x1="401.80" y1="263.60" x2="401.80" y2="267.40" stroke="#000" stroke-width="1.2"/>
<line x1="425.70" y1="263.60" x2="425.70" y2="267.40" stroke="#000" stroke-width="1.2"/>
<line x1="449.60" y1="263.60" x2="449.60" y2="267.40" stroke="#000" stroke-width="1.2"/>
<line x1="473.60" y1="263.60" x2="473.60" y2="267.40" stroke="#000" stroke-width="1.2"/>
<line x1="497.30" y1="263.60" x2="497.30" y2="267.40" stroke="#000" stroke-width="1.2"/>
<line x1="395.30" y1="206.50" x2="408.50" y2="206.50" stroke="#222" stroke-width="1.3"/>
<ellipse cx="401.90" cy="202.90" rx="0.95" ry="1.15" fill="#2a2a2a"/>
<line x1="418.70" y1="198.80" x2="431.80" y2="198.80" stroke="#222" stroke-width="1.3"/>
<ellipse cx="425.25" cy="195.20" rx="0.95" ry="1.15" fill="#2a2a2a"/>
<line x1="443.00" y1="198.50" x2="456.00" y2="198.50" stroke="#222" stroke-width="1.3"/>
<ellipse cx="449.50" cy="194.90" rx="0.95" ry="1.15" fill="#2a2a2a"/>
<line x1="466.30" y1="202.50" x2="479.70" y2="202.50" stroke="#222" stroke-width="1.3"/>
<ellipse cx="473.00" cy="198.90" rx="0.95" ry="1.15" fill="#2a2a2a"/>
<line x1="490.20" y1="202.50" x2="503.50" y2="202.50" stroke="#222" stroke-width="1.3"/>
<ellipse cx="496.85" cy="198.90" rx="0.95" ry="1.15" fill="#2a2a2a"/>
<text transform="translate(404.60,278.60) rotate(-45)" font-size="8.8" text-anchor="end" fill="#231f20" textLength="17.5" lengthAdjust="spacingAndGlyphs">Hif1a</text>
<text transform="translate(428.50,278.60) rotate(-45)" font-size="8.8" text-anchor="end" fill="#231f20" textLength="18.3" lengthAdjust="spacingAndGlyphs">Pdk1</text>
<text transform="translate(452.40,278.60) rotate(-45)" font-size="8.8" text-anchor="end" fill="#231f20" textLength="18.3" lengthAdjust="spacingAndGlyphs">Pdk3</text>
<text transform="translate(476.40,278.60) rotate(-45)" font-size="8.8" text-anchor="end" fill="#231f20" textLength="18.6" lengthAdjust="spacingAndGlyphs">Glut1</text>
<text transform="translate(500.10,278.60) rotate(-45)" font-size="8.8" text-anchor="end" fill="#231f20" textLength="15.6" lengthAdjust="spacingAndGlyphs">Gls1</text>
<circle cx="395.30" cy="175.20" r="2.3" fill="#3e5e8e"/>
<rect x="393.10" y="184.60" width="4.4" height="4.4" fill="#a9283d"/>
<text x="401.30" y="177.30" font-size="7.0" text-anchor="start" fill="#231f20" textLength="9.8" lengthAdjust="spacingAndGlyphs">WT</text>
<text x="401.30" y="189.50" font-size="7.4" text-anchor="start" fill="#231f20" textLength="18.0" lengthAdjust="spacingAndGlyphs">Gdf15</text>
<text x="419.80" y="185.60" font-size="4.8" text-anchor="start" fill="#555" textLength="5.0" lengthAdjust="spacingAndGlyphs">-/-</text>
<text x="353.60" y="171.60" font-size="13.6" text-anchor="start" fill="#231f20" class="b">B</text>
<text transform="translate(30.20,377.25) rotate(-90)" font-size="11.2" text-anchor="middle" fill="#231f20" textLength="125.5" lengthAdjust="spacingAndGlyphs" class="b">Relative mRNA expression</text>
<rect x="60.75" y="366.30" width="19.20" height="50.00" fill="#9ba1bf"/>
<rect x="89.25" y="377.30" width="19.20" height="39.00" fill="#c3d1a6"/>
<rect x="117.50" y="377.80" width="19.20" height="38.50" fill="#d59b8b"/>
<rect x="146.05" y="368.80" width="19.20" height="47.50" fill="#a593a6"/>
<line x1="70.35" y1="361.90" x2="70.35" y2="370.00" stroke="#3e5e8e" stroke-width="1.1"/>
<line x1="66.05" y1="361.90" x2="74.65" y2="361.90" stroke="#3e5e8e" stroke-width="1.1"/>
<line x1="66.05" y1="370.00" x2="74.65" y2="370.00" stroke="#3e5e8e" stroke-width="1.1"/>
<circle cx="70.35" cy="355.00" r="1.9" fill="#3e5e8e"/>
<circle cx="69.05" cy="364.50" r="1.9" fill="#3e5e8e"/>
<circle cx="73.05" cy="369.50" r="1.9" fill="#3e5e8e"/>
<circle cx="70.55" cy="375.00" r="1.9" fill="#3e5e8e"/>
<line x1="98.85" y1="373.10" x2="98.85" y2="378.80" stroke="#5d9b3e" stroke-width="1.1"/>
<line x1="94.55" y1="373.10" x2="103.15" y2="373.10" stroke="#5d9b3e" stroke-width="1.1"/>
<line x1="94.55" y1="378.80" x2="103.15" y2="378.80" stroke="#5d9b3e" stroke-width="1.1"/>
<rect x="96.90" y="369.85" width="3.3" height="3.3" fill="#5d9b3e"/>
<rect x="94.90" y="374.35" width="3.3" height="3.3" fill="#5d9b3e"/>
<rect x="98.90" y="374.35" width="3.3" height="3.3" fill="#5d9b3e"/>
<rect x="96.90" y="381.35" width="3.3" height="3.3" fill="#5d9b3e"/>
<line x1="127.10" y1="373.50" x2="127.10" y2="381.50" stroke="#a9283d" stroke-width="1.1"/>
<line x1="122.80" y1="373.50" x2="131.40" y2="373.50" stroke="#a9283d" stroke-width="1.1"/>
<line x1="122.80" y1="381.50" x2="131.40" y2="381.50" stroke="#a9283d" stroke-width="1.1"/>
<path d="M118.00 378.68H123.00L120.50 374.32Z" fill="#a9283d"/>
<path d="M124.50 377.68H129.50L127.00 373.32Z" fill="#a9283d"/>
<path d="M129.50 377.18H134.50L132.00 372.82Z" fill="#a9283d"/>
<path d="M124.50 386.68H129.50L127.00 382.32Z" fill="#a9283d"/>
<line x1="155.65" y1="365.10" x2="155.65" y2="371.40" stroke="#6d2c66" stroke-width="1.1"/>
<line x1="151.35" y1="365.10" x2="159.95" y2="365.10" stroke="#6d2c66" stroke-width="1.1"/>
<line x1="151.35" y1="371.40" x2="159.95" y2="371.40" stroke="#6d2c66" stroke-width="1.1"/>
<path d="M149.55 359.82H154.55L152.05 364.18Z" fill="#6d2c66"/>
<path d="M155.05 363.82H160.05L157.55 368.18Z" fill="#6d2c66"/>
<path d="M150.05 369.32H155.05L152.55 373.68Z" fill="#6d2c66"/>
<path d="M155.05 369.82H160.05L157.55 374.18Z" fill="#6d2c66"/>
<line x1="57.10" y1="337.80" x2="57.10" y2="416.90" stroke="#000" stroke-width="1.3"/>
<line x1="56.50" y1="416.30" x2="169.70" y2="416.30" stroke="#000" stroke-width="1.3"/>
<line x1="52.80" y1="341.30" x2="57.10" y2="341.30" stroke="#000" stroke-width="1.2"/>
<text x="49.00" y="344.15" font-size="8.4" text-anchor="end" fill="#231f20" textLength="10.2" lengthAdjust="spacingAndGlyphs">1.5</text>
<line x1="52.80" y1="366.30" x2="57.10" y2="366.30" stroke="#000" stroke-width="1.2"/>
<text x="49.00" y="369.15" font-size="8.4" text-anchor="end" fill="#231f20" textLength="10.2" lengthAdjust="spacingAndGlyphs">1.0</text>
<line x1="52.80" y1="391.30" x2="57.10" y2="391.30" stroke="#000" stroke-width="1.2"/>
<text x="49.00" y="394.15" font-size="8.4" text-anchor="end" fill="#231f20" textLength="10.2" lengthAdjust="spacingAndGlyphs">0.5</text>
<line x1="52.80" y1="416.30" x2="57.10" y2="416.30" stroke="#000" stroke-width="1.2"/>
<text x="49.00" y="419.15" font-size="8.4" text-anchor="end" fill="#231f20" textLength="10.2" lengthAdjust="spacingAndGlyphs">0.0</text>
<line x1="70.35" y1="416.30" x2="70.35" y2="419.90" stroke="#000" stroke-width="1.2"/>
<line x1="98.85" y1="416.30" x2="98.85" y2="419.90" stroke="#000" stroke-width="1.2"/>
<line x1="127.10" y1="416.30" x2="127.10" y2="419.90" stroke="#000" stroke-width="1.2"/>
<line x1="155.65" y1="416.30" x2="155.65" y2="419.90" stroke="#000" stroke-width="1.2"/>
<line x1="70.70" y1="335.20" x2="156.00" y2="335.20" stroke="#222" stroke-width="1.3"/>
<text x="113.35" y="331.50" font-size="7.6" text-anchor="middle" fill="#231f20">ns</text>
<line x1="70.70" y1="350.60" x2="100.00" y2="350.60" stroke="#222" stroke-width="1.3"/>
<text x="85.35" y="346.60" font-size="7.0" text-anchor="middle" fill="#231f20" textLength="25.4" lengthAdjust="spacingAndGlyphs">p=0.066</text>
<line x1="125.40" y1="356.60" x2="156.00" y2="356.60" stroke="#222" stroke-width="1.3"/>
<ellipse cx="140.70" cy="353.20" rx="0.95" ry="1.15" fill="#2a2a2a"/>
<text x="113.10" y="318.80" font-size="8.1" text-anchor="middle" fill="#231f20">Hif1a</text>
<text x="70.20" y="434.60" font-size="6.6" text-anchor="middle" fill="#231f20" textLength="10.2" lengthAdjust="spacingAndGlyphs">WT</text>
<text x="70.20" y="448.00" font-size="6.6" text-anchor="middle" fill="#231f20" textLength="10.2" lengthAdjust="spacingAndGlyphs">WT</text>
<text x="98.60" y="434.60" font-size="6.6" text-anchor="middle" fill="#231f20" textLength="10.2" lengthAdjust="spacingAndGlyphs">WT</text>
<text x="88.20" y="448.00" font-size="7.0" fill="#231f20" textLength="17.6" lengthAdjust="spacingAndGlyphs">Gdf15</text>
<text x="106.20" y="445.10" font-size="4.4" fill="#444" textLength="3.4" lengthAdjust="spacingAndGlyphs">-/-</text>
<text x="117.60" y="434.60" font-size="7.0" fill="#231f20" textLength="17.6" lengthAdjust="spacingAndGlyphs">Gdf15</text>
<text x="135.60" y="431.70" font-size="4.4" fill="#444" textLength="3.4" lengthAdjust="spacingAndGlyphs">-/-</text>
<text x="117.60" y="448.00" font-size="7.0" fill="#231f20" textLength="17.6" lengthAdjust="spacingAndGlyphs">Gdf15</text>
<text x="135.60" y="445.10" font-size="4.4" fill="#444" textLength="3.4" lengthAdjust="spacingAndGlyphs">-/-</text>
<text x="147.00" y="434.60" font-size="7.0" fill="#231f20" textLength="17.6" lengthAdjust="spacingAndGlyphs">Gdf15</text>
<text x="165.00" y="431.70" font-size="4.4" fill="#444" textLength="3.4" lengthAdjust="spacingAndGlyphs">-/-</text>
<text x="157.40" y="448.00" font-size="6.6" text-anchor="middle" fill="#231f20" textLength="10.2" lengthAdjust="spacingAndGlyphs">WT</text>
<text x="60.60" y="434.60" font-size="8.2" text-anchor="end" fill="#231f20" textLength="43.6" lengthAdjust="spacingAndGlyphs">Progenitors:</text>
<text x="60.60" y="448.00" font-size="8.2" text-anchor="end" fill="#231f20" textLength="49.8" lengthAdjust="spacingAndGlyphs">Stromal layer:</text>
<text transform="translate(197.20,377.35) rotate(-90)" font-size="11.2" text-anchor="middle" fill="#231f20" textLength="127.3" lengthAdjust="spacingAndGlyphs" class="b">Relative mRNA expression</text>
<rect x="227.10" y="366.93" width="19.00" height="49.87" fill="#9ba1bf"/>
<rect x="254.80" y="382.39" width="19.00" height="34.41" fill="#c3d1a6"/>
<rect x="283.35" y="384.89" width="19.00" height="31.91" fill="#d59b8b"/>
<rect x="311.90" y="373.42" width="19.00" height="43.38" fill="#a593a6"/>
<line x1="236.60" y1="363.80" x2="236.60" y2="370.10" stroke="#3e5e8e" stroke-width="1.1"/>
<line x1="232.30" y1="363.80" x2="240.90" y2="363.80" stroke="#3e5e8e" stroke-width="1.1"/>
<line x1="232.30" y1="370.10" x2="240.90" y2="370.10" stroke="#3e5e8e" stroke-width="1.1"/>
<circle cx="235.60" cy="361.60" r="1.9" fill="#3e5e8e"/>
<circle cx="233.50" cy="365.50" r="1.9" fill="#3e5e8e"/>
<circle cx="238.00" cy="367.00" r="1.9" fill="#3e5e8e"/>
<circle cx="236.00" cy="374.00" r="1.9" fill="#3e5e8e"/>
<line x1="264.30" y1="379.50" x2="264.30" y2="385.00" stroke="#5d9b3e" stroke-width="1.1"/>
<line x1="260.00" y1="379.50" x2="268.60" y2="379.50" stroke="#5d9b3e" stroke-width="1.1"/>
<line x1="260.00" y1="385.00" x2="268.60" y2="385.00" stroke="#5d9b3e" stroke-width="1.1"/>
<rect x="262.85" y="376.35" width="3.3" height="3.3" fill="#5d9b3e"/>
<rect x="261.35" y="381.85" width="3.3" height="3.3" fill="#5d9b3e"/>
<rect x="264.35" y="382.35" width="3.3" height="3.3" fill="#5d9b3e"/>
<rect x="260.35" y="386.35" width="3.3" height="3.3" fill="#5d9b3e"/>
<line x1="292.85" y1="383.00" x2="292.85" y2="386.00" stroke="#a9283d" stroke-width="1.1"/>
<line x1="288.55" y1="383.00" x2="297.15" y2="383.00" stroke="#a9283d" stroke-width="1.1"/>
<line x1="288.55" y1="386.00" x2="297.15" y2="386.00" stroke="#a9283d" stroke-width="1.1"/>
<path d="M284.05 387.18H289.05L286.55 382.82Z" fill="#a9283d"/>
<path d="M288.55 388.18H293.55L291.05 383.82Z" fill="#a9283d"/>
<path d="M292.45 387.68H297.45L294.95 383.32Z" fill="#a9283d"/>
<path d="M296.95 385.68H301.95L299.45 381.32Z" fill="#a9283d"/>
<line x1="321.40" y1="370.50" x2="321.40" y2="378.00" stroke="#6d2c66" stroke-width="1.1"/>
<line x1="317.10" y1="370.50" x2="325.70" y2="370.50" stroke="#6d2c66" stroke-width="1.1"/>
<line x1="317.10" y1="378.00" x2="325.70" y2="378.00" stroke="#6d2c66" stroke-width="1.1"/>
<path d="M315.00 365.82H320.00L317.50 370.18Z" fill="#6d2c66"/>
<path d="M319.50 370.82H324.50L322.00 375.18Z" fill="#6d2c66"/>
<path d="M322.50 370.32H327.50L325.00 374.68Z" fill="#6d2c66"/>
<path d="M316.00 376.82H321.00L318.50 381.18Z" fill="#6d2c66"/>
<line x1="223.60" y1="338.50" x2="223.60" y2="417.40" stroke="#000" stroke-width="1.3"/>
<line x1="223.00" y1="416.80" x2="334.40" y2="416.80" stroke="#000" stroke-width="1.3"/>
<line x1="219.30" y1="342.00" x2="223.60" y2="342.00" stroke="#000" stroke-width="1.2"/>
<text x="215.50" y="344.85" font-size="8.4" text-anchor="end" fill="#231f20" textLength="10.2" lengthAdjust="spacingAndGlyphs">1.5</text>
<line x1="219.30" y1="366.93" x2="223.60" y2="366.93" stroke="#000" stroke-width="1.2"/>
<text x="215.50" y="369.78" font-size="8.4" text-anchor="end" fill="#231f20" textLength="10.2" lengthAdjust="spacingAndGlyphs">1.0</text>
<line x1="219.30" y1="391.87" x2="223.60" y2="391.87" stroke="#000" stroke-width="1.2"/>
<text x="215.50" y="394.72" font-size="8.4" text-anchor="end" fill="#231f20" textLength="10.2" lengthAdjust="spacingAndGlyphs">0.5</text>
<line x1="219.30" y1="416.80" x2="223.60" y2="416.80" stroke="#000" stroke-width="1.2"/>
<text x="215.50" y="419.65" font-size="8.4" text-anchor="end" fill="#231f20" textLength="10.2" lengthAdjust="spacingAndGlyphs">0.0</text>
<line x1="236.60" y1="416.80" x2="236.60" y2="420.40" stroke="#000" stroke-width="1.2"/>
<line x1="264.30" y1="416.80" x2="264.30" y2="420.40" stroke="#000" stroke-width="1.2"/>
<line x1="292.85" y1="416.80" x2="292.85" y2="420.40" stroke="#000" stroke-width="1.2"/>
<line x1="321.40" y1="416.80" x2="321.40" y2="420.40" stroke="#000" stroke-width="1.2"/>
<line x1="236.10" y1="345.60" x2="321.70" y2="345.60" stroke="#222" stroke-width="1.3"/>
<text x="278.90" y="341.60" font-size="7.0" text-anchor="middle" fill="#231f20" textLength="25.4" lengthAdjust="spacingAndGlyphs">p=0.089</text>
<line x1="234.70" y1="356.30" x2="266.50" y2="356.30" stroke="#222" stroke-width="1.3"/>
<ellipse cx="249.05" cy="352.90" rx="0.95" ry="1.15" fill="#2a2a2a"/>
<ellipse cx="252.15" cy="352.90" rx="0.95" ry="1.15" fill="#2a2a2a"/>
<line x1="290.20" y1="363.30" x2="321.70" y2="363.30" stroke="#222" stroke-width="1.3"/>
<ellipse cx="304.40" cy="359.90" rx="0.95" ry="1.15" fill="#2a2a2a"/>
<ellipse cx="307.50" cy="359.90" rx="0.95" ry="1.15" fill="#2a2a2a"/>
<text x="277.90" y="318.80" font-size="8.1" text-anchor="middle" fill="#231f20">Pdk1</text>
<text x="235.70" y="435.80" font-size="6.6" text-anchor="middle" fill="#231f20" textLength="10.2" lengthAdjust="spacingAndGlyphs">WT</text>
<text x="235.70" y="449.20" font-size="6.6" text-anchor="middle" fill="#231f20" textLength="10.2" lengthAdjust="spacingAndGlyphs">WT</text>
<text x="264.10" y="435.80" font-size="6.6" text-anchor="middle" fill="#231f20" textLength="10.2" lengthAdjust="spacingAndGlyphs">WT</text>
<text x="253.70" y="449.20" font-size="7.0" fill="#231f20" textLength="17.6" lengthAdjust="spacingAndGlyphs">Gdf15</text>
<text x="271.70" y="446.30" font-size="4.4" fill="#444" textLength="3.4" lengthAdjust="spacingAndGlyphs">-/-</text>
<text x="283.10" y="435.80" font-size="7.0" fill="#231f20" textLength="17.6" lengthAdjust="spacingAndGlyphs">Gdf15</text>
<text x="301.10" y="432.90" font-size="4.4" fill="#444" textLength="3.4" lengthAdjust="spacingAndGlyphs">-/-</text>
<text x="283.10" y="449.20" font-size="7.0" fill="#231f20" textLength="17.6" lengthAdjust="spacingAndGlyphs">Gdf15</text>
<text x="301.10" y="446.30" font-size="4.4" fill="#444" textLength="3.4" lengthAdjust="spacingAndGlyphs">-/-</text>
<text x="312.90" y="435.80" font-size="7.0" fill="#231f20" textLength="17.6" lengthAdjust="spacingAndGlyphs">Gdf15</text>
<text x="330.90" y="432.90" font-size="4.4" fill="#444" textLength="3.4" lengthAdjust="spacingAndGlyphs">-/-</text>
<text x="323.30" y="449.20" font-size="6.6" text-anchor="middle" fill="#231f20" textLength="10.2" lengthAdjust="spacingAndGlyphs">WT</text>
<text transform="translate(361.50,376.85) rotate(-90)" font-size="11.2" text-anchor="middle" fill="#231f20" textLength="126.3" lengthAdjust="spacingAndGlyphs" class="b">Relative mRNA expression</text>
<rect x="392.25" y="366.33" width="19.00" height="50.07" fill="#9ba1bf"/>
<rect x="420.50" y="383.86" width="19.00" height="32.54" fill="#c3d1a6"/>
<rect x="449.00" y="390.37" width="19.00" height="26.03" fill="#d59b8b"/>
<rect x="477.40" y="382.35" width="19.00" height="34.05" fill="#a593a6"/>
<line x1="401.75" y1="362.80" x2="401.75" y2="370.50" stroke="#3e5e8e" stroke-width="1.1"/>
<line x1="397.45" y1="362.80" x2="406.05" y2="362.80" stroke="#3e5e8e" stroke-width="1.1"/>
<line x1="397.45" y1="370.50" x2="406.05" y2="370.50" stroke="#3e5e8e" stroke-width="1.1"/>
<circle cx="401.55" cy="356.00" r="1.9" fill="#3e5e8e"/>
<circle cx="401.55" cy="366.00" r="1.9" fill="#3e5e8e"/>
<circle cx="399.95" cy="375.00" r="1.9" fill="#3e5e8e"/>
<circle cx="403.95" cy="372.00" r="1.9" fill="#3e5e8e"/>
<line x1="430.00" y1="380.50" x2="430.00" y2="387.00" stroke="#5d9b3e" stroke-width="1.1"/>
<line x1="425.70" y1="380.50" x2="434.30" y2="380.50" stroke="#5d9b3e" stroke-width="1.1"/>
<line x1="425.70" y1="387.00" x2="434.30" y2="387.00" stroke="#5d9b3e" stroke-width="1.1"/>
<rect x="428.35" y="377.85" width="3.3" height="3.3" fill="#5d9b3e"/>
<rect x="426.35" y="380.85" width="3.3" height="3.3" fill="#5d9b3e"/>
<rect x="430.35" y="380.85" width="3.3" height="3.3" fill="#5d9b3e"/>
<rect x="428.35" y="387.35" width="3.3" height="3.3" fill="#5d9b3e"/>
<line x1="458.50" y1="387.50" x2="458.50" y2="393.00" stroke="#a9283d" stroke-width="1.1"/>
<line x1="454.20" y1="387.50" x2="462.80" y2="387.50" stroke="#a9283d" stroke-width="1.1"/>
<line x1="454.20" y1="393.00" x2="462.80" y2="393.00" stroke="#a9283d" stroke-width="1.1"/>
<path d="M450.50 389.18H455.50L453.00 384.82Z" fill="#a9283d"/>
<path d="M456.00 390.68H461.00L458.50 386.32Z" fill="#a9283d"/>
<path d="M461.50 389.18H466.50L464.00 384.82Z" fill="#a9283d"/>
<path d="M456.00 395.68H461.00L458.50 391.32Z" fill="#a9283d"/>
<line x1="486.90" y1="378.50" x2="486.90" y2="385.50" stroke="#6d2c66" stroke-width="1.1"/>
<line x1="482.60" y1="378.50" x2="491.20" y2="378.50" stroke="#6d2c66" stroke-width="1.1"/>
<line x1="482.60" y1="385.50" x2="491.20" y2="385.50" stroke="#6d2c66" stroke-width="1.1"/>
<path d="M481.50 374.82H486.50L484.00 379.18Z" fill="#6d2c66"/>
<path d="M486.00 378.82H491.00L488.50 383.18Z" fill="#6d2c66"/>
<path d="M488.50 379.82H493.50L491.00 384.18Z" fill="#6d2c66"/>
<path d="M482.50 383.82H487.50L485.00 388.18Z" fill="#6d2c66"/>
<line x1="389.10" y1="337.80" x2="389.10" y2="417.00" stroke="#000" stroke-width="1.3"/>
<line x1="388.50" y1="416.40" x2="499.90" y2="416.40" stroke="#000" stroke-width="1.3"/>
<line x1="384.80" y1="341.30" x2="389.10" y2="341.30" stroke="#000" stroke-width="1.2"/>
<text x="381.00" y="344.15" font-size="8.4" text-anchor="end" fill="#231f20" textLength="10.2" lengthAdjust="spacingAndGlyphs">1.5</text>
<line x1="384.80" y1="366.33" x2="389.10" y2="366.33" stroke="#000" stroke-width="1.2"/>
<text x="381.00" y="369.18" font-size="8.4" text-anchor="end" fill="#231f20" textLength="10.2" lengthAdjust="spacingAndGlyphs">1.0</text>
<line x1="384.80" y1="391.37" x2="389.10" y2="391.37" stroke="#000" stroke-width="1.2"/>
<text x="381.00" y="394.22" font-size="8.4" text-anchor="end" fill="#231f20" textLength="10.2" lengthAdjust="spacingAndGlyphs">0.5</text>
<line x1="384.80" y1="416.40" x2="389.10" y2="416.40" stroke="#000" stroke-width="1.2"/>
<text x="381.00" y="419.25" font-size="8.4" text-anchor="end" fill="#231f20" textLength="10.2" lengthAdjust="spacingAndGlyphs">0.0</text>
<line x1="401.75" y1="416.40" x2="401.75" y2="420.00" stroke="#000" stroke-width="1.2"/>
<line x1="430.00" y1="416.40" x2="430.00" y2="420.00" stroke="#000" stroke-width="1.2"/>
<line x1="458.50" y1="416.40" x2="458.50" y2="420.00" stroke="#000" stroke-width="1.2"/>
<line x1="486.90" y1="416.40" x2="486.90" y2="420.00" stroke="#000" stroke-width="1.2"/>
<line x1="401.60" y1="339.10" x2="487.30" y2="339.10" stroke="#222" stroke-width="1.3"/>
<ellipse cx="444.45" cy="335.70" rx="0.95" ry="1.15" fill="#2a2a2a"/>
<line x1="400.20" y1="350.70" x2="431.90" y2="350.70" stroke="#222" stroke-width="1.3"/>
<ellipse cx="416.05" cy="347.30" rx="0.95" ry="1.15" fill="#2a2a2a"/>
<line x1="456.00" y1="370.80" x2="487.70" y2="370.80" stroke="#222" stroke-width="1.3"/>
<ellipse cx="471.85" cy="367.40" rx="0.95" ry="1.15" fill="#2a2a2a"/>
<text x="444.50" y="319.00" font-size="8.1" text-anchor="middle" fill="#231f20">Pdk3</text>
<text x="401.60" y="435.20" font-size="6.6" text-anchor="middle" fill="#231f20" textLength="10.2" lengthAdjust="spacingAndGlyphs">WT</text>
<text x="401.60" y="448.60" font-size="6.6" text-anchor="middle" fill="#231f20" textLength="10.2" lengthAdjust="spacingAndGlyphs">WT</text>
<text x="429.30" y="435.20" font-size="6.6" text-anchor="middle" fill="#231f20" textLength="10.2" lengthAdjust="spacingAndGlyphs">WT</text>
<text x="418.90" y="448.60" font-size="7.0" fill="#231f20" textLength="17.6" lengthAdjust="spacingAndGlyphs">Gdf15</text>
<text x="436.90" y="445.70" font-size="4.4" fill="#444" textLength="3.4" lengthAdjust="spacingAndGlyphs">-/-</text>
<text x="447.90" y="435.20" font-size="7.0" fill="#231f20" textLength="17.6" lengthAdjust="spacingAndGlyphs">Gdf15</text>
<text x="465.90" y="432.30" font-size="4.4" fill="#444" textLength="3.4" lengthAdjust="spacingAndGlyphs">-/-</text>
<text x="447.90" y="448.60" font-size="7.0" fill="#231f20" textLength="17.6" lengthAdjust="spacingAndGlyphs">Gdf15</text>
<text x="465.90" y="445.70" font-size="4.4" fill="#444" textLength="3.4" lengthAdjust="spacingAndGlyphs">-/-</text>
<text x="478.40" y="435.20" font-size="7.0" fill="#231f20" textLength="17.6" lengthAdjust="spacingAndGlyphs">Gdf15</text>
<text x="496.40" y="432.30" font-size="4.4" fill="#444" textLength="3.4" lengthAdjust="spacingAndGlyphs">-/-</text>
<text x="488.80" y="448.60" font-size="6.6" text-anchor="middle" fill="#231f20" textLength="10.2" lengthAdjust="spacingAndGlyphs">WT</text>
<text transform="translate(30.50,535.10) rotate(-90)" font-size="11.2" text-anchor="middle" fill="#231f20" textLength="127.0" lengthAdjust="spacingAndGlyphs" class="b">Relative mRNA expression</text>
<rect x="62.30" y="524.57" width="19.00" height="50.53" fill="#9ba1bf"/>
<rect x="90.85" y="534.67" width="19.00" height="40.43" fill="#c3d1a6"/>
<rect x="119.40" y="534.17" width="19.00" height="40.93" fill="#d59b8b"/>
<rect x="148.10" y="519.51" width="19.00" height="55.59" fill="#a593a6"/>
<line x1="71.80" y1="519.10" x2="71.80" y2="530.80" stroke="#3e5e8e" stroke-width="1.1"/>
<line x1="67.50" y1="519.10" x2="76.10" y2="519.10" stroke="#3e5e8e" stroke-width="1.1"/>
<line x1="67.50" y1="530.80" x2="76.10" y2="530.80" stroke="#3e5e8e" stroke-width="1.1"/>
<circle cx="72.30" cy="514.60" r="1.9" fill="#3e5e8e"/>
<circle cx="71.00" cy="522.00" r="1.9" fill="#3e5e8e"/>
<circle cx="74.50" cy="523.50" r="1.9" fill="#3e5e8e"/>
<circle cx="72.30" cy="540.50" r="1.9" fill="#3e5e8e"/>
<line x1="100.35" y1="531.20" x2="100.35" y2="537.50" stroke="#5d9b3e" stroke-width="1.1"/>
<line x1="96.05" y1="531.20" x2="104.65" y2="531.20" stroke="#5d9b3e" stroke-width="1.1"/>
<line x1="96.05" y1="537.50" x2="104.65" y2="537.50" stroke="#5d9b3e" stroke-width="1.1"/>
<rect x="98.70" y="523.85" width="3.3" height="3.3" fill="#5d9b3e"/>
<rect x="96.40" y="533.85" width="3.3" height="3.3" fill="#5d9b3e"/>
<rect x="101.40" y="533.85" width="3.3" height="3.3" fill="#5d9b3e"/>
<rect x="98.70" y="540.35" width="3.3" height="3.3" fill="#5d9b3e"/>
<line x1="128.90" y1="531.00" x2="128.90" y2="537.00" stroke="#a9283d" stroke-width="1.1"/>
<line x1="124.60" y1="531.00" x2="133.20" y2="531.00" stroke="#a9283d" stroke-width="1.1"/>
<line x1="124.60" y1="537.00" x2="133.20" y2="537.00" stroke="#a9283d" stroke-width="1.1"/>
<path d="M122.50 534.67H127.50L125.00 530.33Z" fill="#a9283d"/>
<path d="M126.00 534.17H131.00L128.50 529.83Z" fill="#a9283d"/>
<path d="M130.50 533.17H135.50L133.00 528.83Z" fill="#a9283d"/>
<path d="M126.00 542.17H131.00L128.50 537.83Z" fill="#a9283d"/>
<line x1="157.60" y1="514.90" x2="157.60" y2="523.40" stroke="#6d2c66" stroke-width="1.1"/>
<line x1="153.30" y1="514.90" x2="161.90" y2="514.90" stroke="#6d2c66" stroke-width="1.1"/>
<line x1="153.30" y1="523.40" x2="161.90" y2="523.40" stroke="#6d2c66" stroke-width="1.1"/>
<path d="M154.50 504.32H159.50L157.00 508.68Z" fill="#6d2c66"/>
<path d="M154.50 516.33H159.50L157.00 520.67Z" fill="#6d2c66"/>
<path d="M151.00 524.83H156.00L153.50 529.17Z" fill="#6d2c66"/>
<path d="M157.50 524.83H162.50L160.00 529.17Z" fill="#6d2c66"/>
<line x1="57.10" y1="495.80" x2="57.10" y2="575.70" stroke="#000" stroke-width="1.3"/>
<line x1="56.50" y1="575.10" x2="171.30" y2="575.10" stroke="#000" stroke-width="1.3"/>
<line x1="52.80" y1="499.30" x2="57.10" y2="499.30" stroke="#000" stroke-width="1.2"/>
<text x="49.00" y="502.15" font-size="8.4" text-anchor="end" fill="#231f20" textLength="10.2" lengthAdjust="spacingAndGlyphs">1.5</text>
<line x1="52.80" y1="524.57" x2="57.10" y2="524.57" stroke="#000" stroke-width="1.2"/>
<text x="49.00" y="527.42" font-size="8.4" text-anchor="end" fill="#231f20" textLength="10.2" lengthAdjust="spacingAndGlyphs">1.0</text>
<line x1="52.80" y1="549.83" x2="57.10" y2="549.83" stroke="#000" stroke-width="1.2"/>
<text x="49.00" y="552.68" font-size="8.4" text-anchor="end" fill="#231f20" textLength="10.2" lengthAdjust="spacingAndGlyphs">0.5</text>
<line x1="52.80" y1="575.10" x2="57.10" y2="575.10" stroke="#000" stroke-width="1.2"/>
<text x="49.00" y="577.95" font-size="8.4" text-anchor="end" fill="#231f20" textLength="10.2" lengthAdjust="spacingAndGlyphs">0.0</text>
<line x1="71.80" y1="575.10" x2="71.80" y2="578.70" stroke="#000" stroke-width="1.2"/>
<line x1="100.35" y1="575.10" x2="100.35" y2="578.70" stroke="#000" stroke-width="1.2"/>
<line x1="128.90" y1="575.10" x2="128.90" y2="578.70" stroke="#000" stroke-width="1.2"/>
<line x1="157.60" y1="575.10" x2="157.60" y2="578.70" stroke="#000" stroke-width="1.2"/>
<line x1="71.60" y1="491.00" x2="157.70" y2="491.00" stroke="#222" stroke-width="1.3"/>
<text x="114.65" y="487.30" font-size="7.6" text-anchor="middle" fill="#231f20">ns</text>
<line x1="70.60" y1="508.60" x2="101.90" y2="508.60" stroke="#222" stroke-width="1.3"/>
<text x="86.25" y="504.90" font-size="7.6" text-anchor="middle" fill="#231f20">ns</text>
<line x1="126.60" y1="501.00" x2="157.70" y2="501.00" stroke="#222" stroke-width="1.3"/>
<ellipse cx="142.15" cy="497.60" rx="0.95" ry="1.15" fill="#2a2a2a"/>
<text x="114.00" y="477.00" font-size="8.1" text-anchor="middle" fill="#231f20">Glut1</text>
<text x="70.90" y="592.80" font-size="6.6" text-anchor="middle" fill="#231f20" textLength="10.2" lengthAdjust="spacingAndGlyphs">WT</text>
<text x="70.90" y="607.00" font-size="6.6" text-anchor="middle" fill="#231f20" textLength="10.2" lengthAdjust="spacingAndGlyphs">WT</text>
<text x="100.30" y="592.80" font-size="6.6" text-anchor="middle" fill="#231f20" textLength="10.2" lengthAdjust="spacingAndGlyphs">WT</text>
<text x="89.90" y="607.00" font-size="7.0" fill="#231f20" textLength="17.6" lengthAdjust="spacingAndGlyphs">Gdf15</text>
<text x="107.90" y="604.10" font-size="4.4" fill="#444" textLength="3.4" lengthAdjust="spacingAndGlyphs">-/-</text>
<text x="119.40" y="592.80" font-size="7.0" fill="#231f20" textLength="17.6" lengthAdjust="spacingAndGlyphs">Gdf15</text>
<text x="137.40" y="589.90" font-size="4.4" fill="#444" textLength="3.4" lengthAdjust="spacingAndGlyphs">-/-</text>
<text x="119.40" y="607.00" font-size="7.0" fill="#231f20" textLength="17.6" lengthAdjust="spacingAndGlyphs">Gdf15</text>
<text x="137.40" y="604.10" font-size="4.4" fill="#444" textLength="3.4" lengthAdjust="spacingAndGlyphs">-/-</text>
<text x="148.80" y="592.80" font-size="7.0" fill="#231f20" textLength="17.6" lengthAdjust="spacingAndGlyphs">Gdf15</text>
<text x="166.80" y="589.90" font-size="4.4" fill="#444" textLength="3.4" lengthAdjust="spacingAndGlyphs">-/-</text>
<text x="159.20" y="607.00" font-size="6.6" text-anchor="middle" fill="#231f20" textLength="10.2" lengthAdjust="spacingAndGlyphs">WT</text>
<text transform="translate(197.30,535.45) rotate(-90)" font-size="11.2" text-anchor="middle" fill="#231f20" textLength="126.3" lengthAdjust="spacingAndGlyphs" class="b">Relative mRNA expression</text>
<rect x="229.60" y="524.57" width="19.20" height="50.53" fill="#9ba1bf"/>
<rect x="258.15" y="544.27" width="19.20" height="30.83" fill="#c3d1a6"/>
<rect x="286.50" y="544.27" width="19.20" height="30.83" fill="#d59b8b"/>
<rect x="314.55" y="516.99" width="19.20" height="58.11" fill="#a593a6"/>
<line x1="239.20" y1="521.10" x2="239.20" y2="529.00" stroke="#3e5e8e" stroke-width="1.1"/>
<line x1="234.90" y1="521.10" x2="243.50" y2="521.10" stroke="#3e5e8e" stroke-width="1.1"/>
<line x1="234.90" y1="529.00" x2="243.50" y2="529.00" stroke="#3e5e8e" stroke-width="1.1"/>
<circle cx="236.50" cy="517.50" r="1.9" fill="#3e5e8e"/>
<circle cx="242.00" cy="519.50" r="1.9" fill="#3e5e8e"/>
<circle cx="236.00" cy="531.00" r="1.9" fill="#3e5e8e"/>
<circle cx="241.50" cy="531.00" r="1.9" fill="#3e5e8e"/>
<line x1="267.75" y1="541.00" x2="267.75" y2="549.00" stroke="#5d9b3e" stroke-width="1.1"/>
<line x1="263.45" y1="541.00" x2="272.05" y2="541.00" stroke="#5d9b3e" stroke-width="1.1"/>
<line x1="263.45" y1="549.00" x2="272.05" y2="549.00" stroke="#5d9b3e" stroke-width="1.1"/>
<rect x="266.10" y="533.35" width="3.3" height="3.3" fill="#5d9b3e"/>
<rect x="264.10" y="543.35" width="3.3" height="3.3" fill="#5d9b3e"/>
<rect x="268.10" y="543.35" width="3.3" height="3.3" fill="#5d9b3e"/>
<rect x="266.10" y="550.35" width="3.3" height="3.3" fill="#5d9b3e"/>
<line x1="296.10" y1="542.00" x2="296.10" y2="547.00" stroke="#a9283d" stroke-width="1.1"/>
<line x1="291.80" y1="542.00" x2="300.40" y2="542.00" stroke="#a9283d" stroke-width="1.1"/>
<line x1="291.80" y1="547.00" x2="300.40" y2="547.00" stroke="#a9283d" stroke-width="1.1"/>
<path d="M289.10 545.17H294.10L291.60 540.83Z" fill="#a9283d"/>
<path d="M293.60 547.67H298.60L296.10 543.33Z" fill="#a9283d"/>
<path d="M297.60 545.17H302.60L300.10 540.83Z" fill="#a9283d"/>
<path d="M293.60 550.17H298.60L296.10 545.83Z" fill="#a9283d"/>
<line x1="324.15" y1="510.50" x2="324.15" y2="524.00" stroke="#6d2c66" stroke-width="1.1"/>
<line x1="319.85" y1="510.50" x2="328.45" y2="510.50" stroke="#6d2c66" stroke-width="1.1"/>
<line x1="319.85" y1="524.00" x2="328.45" y2="524.00" stroke="#6d2c66" stroke-width="1.1"/>
<path d="M321.95 498.82H326.95L324.45 503.18Z" fill="#6d2c66"/>
<path d="M321.95 514.83H326.95L324.45 519.17Z" fill="#6d2c66"/>
<path d="M321.95 529.83H326.95L324.45 534.17Z" fill="#6d2c66"/>
<path d="M321.95 506.82H326.95L324.45 511.18Z" fill="#6d2c66"/>
<line x1="225.40" y1="495.80" x2="225.40" y2="575.70" stroke="#000" stroke-width="1.3"/>
<line x1="224.80" y1="575.10" x2="338.50" y2="575.10" stroke="#000" stroke-width="1.3"/>
<line x1="221.10" y1="499.30" x2="225.40" y2="499.30" stroke="#000" stroke-width="1.2"/>
<text x="217.30" y="502.15" font-size="8.4" text-anchor="end" fill="#231f20" textLength="10.2" lengthAdjust="spacingAndGlyphs">1.5</text>
<line x1="221.10" y1="524.57" x2="225.40" y2="524.57" stroke="#000" stroke-width="1.2"/>
<text x="217.30" y="527.42" font-size="8.4" text-anchor="end" fill="#231f20" textLength="10.2" lengthAdjust="spacingAndGlyphs">1.0</text>
<line x1="221.10" y1="549.83" x2="225.40" y2="549.83" stroke="#000" stroke-width="1.2"/>
<text x="217.30" y="552.68" font-size="8.4" text-anchor="end" fill="#231f20" textLength="10.2" lengthAdjust="spacingAndGlyphs">0.5</text>
<line x1="221.10" y1="575.10" x2="225.40" y2="575.10" stroke="#000" stroke-width="1.2"/>
<text x="217.30" y="577.95" font-size="8.4" text-anchor="end" fill="#231f20" textLength="10.2" lengthAdjust="spacingAndGlyphs">0.0</text>
<line x1="239.20" y1="575.10" x2="239.20" y2="578.70" stroke="#000" stroke-width="1.2"/>
<line x1="267.75" y1="575.10" x2="267.75" y2="578.70" stroke="#000" stroke-width="1.2"/>
<line x1="296.10" y1="575.10" x2="296.10" y2="578.70" stroke="#000" stroke-width="1.2"/>
<line x1="324.15" y1="575.10" x2="324.15" y2="578.70" stroke="#000" stroke-width="1.2"/>
<line x1="239.00" y1="485.20" x2="324.90" y2="485.20" stroke="#222" stroke-width="1.3"/>
<text x="281.95" y="481.50" font-size="7.6" text-anchor="middle" fill="#231f20">ns</text>
<line x1="238.20" y1="512.20" x2="269.30" y2="512.20" stroke="#222" stroke-width="1.3"/>
<ellipse cx="253.75" cy="508.80" rx="0.95" ry="1.15" fill="#2a2a2a"/>
<line x1="294.00" y1="495.70" x2="324.90" y2="495.70" stroke="#222" stroke-width="1.3"/>
<ellipse cx="307.90" cy="492.30" rx="0.95" ry="1.15" fill="#2a2a2a"/>
<ellipse cx="311.00" cy="492.30" rx="0.95" ry="1.15" fill="#2a2a2a"/>
<text x="281.10" y="471.30" font-size="8.1" text-anchor="middle" fill="#231f20">Gls1</text>
<text x="239.20" y="592.80" font-size="6.6" text-anchor="middle" fill="#231f20" textLength="10.2" lengthAdjust="spacingAndGlyphs">WT</text>
<text x="239.20" y="607.00" font-size="6.6" text-anchor="middle" fill="#231f20" textLength="10.2" lengthAdjust="spacingAndGlyphs">WT</text>
<text x="267.90" y="592.80" font-size="6.6" text-anchor="middle" fill="#231f20" textLength="10.2" lengthAdjust="spacingAndGlyphs">WT</text>
<text x="257.50" y="607.00" font-size="7.0" fill="#231f20" textLength="17.6" lengthAdjust="spacingAndGlyphs">Gdf15</text>
<text x="275.50" y="604.10" font-size="4.4" fill="#444" textLength="3.4" lengthAdjust="spacingAndGlyphs">-/-</text>
<text x="286.90" y="592.80" font-size="7.0" fill="#231f20" textLength="17.6" lengthAdjust="spacingAndGlyphs">Gdf15</text>
<text x="304.90" y="589.90" font-size="4.4" fill="#444" textLength="3.4" lengthAdjust="spacingAndGlyphs">-/-</text>
<text x="286.90" y="607.00" font-size="7.0" fill="#231f20" textLength="17.6" lengthAdjust="spacingAndGlyphs">Gdf15</text>
<text x="304.90" y="604.10" font-size="4.4" fill="#444" textLength="3.4" lengthAdjust="spacingAndGlyphs">-/-</text>
<text x="316.00" y="592.80" font-size="7.0" fill="#231f20" textLength="17.6" lengthAdjust="spacingAndGlyphs">Gdf15</text>
<text x="334.00" y="589.90" font-size="4.4" fill="#444" textLength="3.4" lengthAdjust="spacingAndGlyphs">-/-</text>
<text x="326.40" y="607.00" font-size="6.6" text-anchor="middle" fill="#231f20" textLength="10.2" lengthAdjust="spacingAndGlyphs">WT</text>
<defs><filter id="bl1" x="-50%" y="-50%" width="200%" height="200%"><feGaussianBlur stdDeviation="0.7"/></filter><filter id="bl2" x="-20%" y="-20%" width="140%" height="140%"><feGaussianBlur stdDeviation="0.5"/></filter><filter id="bl3" x="-20%" y="-20%" width="140%" height="140%"><feGaussianBlur stdDeviation="1.6"/></filter></defs>
<rect x="25.05" y="643.85" width="77.20" height="77.50" fill="none" stroke="#000" stroke-width="1.4"/>
<polygon points="42.8,689.1 44.3,681.1 49.3,674.1 57.3,670.1 66.3,667.6 74.3,663.1 80.3,660.1 84.3,661.1 85.3,668.1 84.3,676.1 86.3,685.1 88.3,693.1 88.3,696.1 42.8,696.1" fill="#5a5ab4" fill-opacity="0.25" filter="url(#bl3)"/>
<polygon points="42.9,684.1 46.3,680.6 54.3,678.6 62.3,678.1 70.3,680.1 76.3,684.1 80.3,689.1 83.3,695.1 42.9,695.1" fill="#2d2e92" fill-opacity="0.45" filter="url(#bl3)"/>
<polygon points="44.4,688.3 79.7,660.6 83.2,664.9 48.8,693.7" fill="#3a3b9e" fill-opacity="0.35" filter="url(#bl3)"/>
<path d="M63.5 666.7h.9v.9h-.9zM66.3 668.6h.9v.9h-.9zM58.6 674.3h.9v.9h-.9zM78.9 668.1h.9v.9h-.9zM55.1 681.9h.9v.9h-.9zM62.3 678.1h.9v.9h-.9zM66.0 667.3h.9v.9h-.9zM72.4 666.4h.9v.9h-.9zM85.4 667.9h.9v.9h-.9zM75.0 666.9h.9v.9h-.9zM68.1 675.1h.9v.9h-.9zM80.4 663.4h.9v.9h-.9zM72.7 669.5h.9v.9h-.9zM58.2 677.1h.9v.9h-.9zM77.8 668.3h.9v.9h-.9zM59.0 675.5h.9v.9h-.9zM75.9 671.0h.9v.9h-.9zM77.5 664.1h.9v.9h-.9zM60.4 673.3h.9v.9h-.9zM80.6 675.6h.9v.9h-.9zM71.6 667.5h.9v.9h-.9zM79.5 665.5h.9v.9h-.9zM59.3 677.6h.9v.9h-.9zM65.9 683.3h.9v.9h-.9zM71.9 668.4h.9v.9h-.9zM58.4 684.0h.9v.9h-.9zM72.6 669.3h.9v.9h-.9zM77.0 669.2h.9v.9h-.9zM56.8 682.5h.9v.9h-.9zM82.0 668.4h.9v.9h-.9zM73.3 666.7h.9v.9h-.9zM61.9 688.2h.9v.9h-.9zM70.0 664.6h.9v.9h-.9zM66.4 676.3h.9v.9h-.9zM68.7 670.2h.9v.9h-.9zM72.8 665.7h.9v.9h-.9zM80.0 666.3h.9v.9h-.9zM77.7 668.5h.9v.9h-.9zM71.8 666.5h.9v.9h-.9zM76.1 672.9h.9v.9h-.9zM79.1 670.6h.9v.9h-.9zM71.6 672.4h.9v.9h-.9zM65.8 678.9h.9v.9h-.9zM59.4 673.3h.9v.9h-.9zM80.4 666.0h.9v.9h-.9zM72.1 669.4h.9v.9h-.9zM70.6 674.4h.9v.9h-.9zM76.5 669.7h.9v.9h-.9zM59.9 676.4h.9v.9h-.9zM60.8 674.2h.9v.9h-.9zM70.1 669.6h.9v.9h-.9zM80.2 661.9h.9v.9h-.9zM56.9 682.8h.9v.9h-.9zM72.9 665.5h.9v.9h-.9zM64.0 677.5h.9v.9h-.9zM70.7 665.4h.9v.9h-.9zM73.4 671.1h.9v.9h-.9zM76.3 669.1h.9v.9h-.9zM76.6 668.5h.9v.9h-.9zM64.3 673.5h.9v.9h-.9zM71.9 669.5h.9v.9h-.9zM77.4 667.2h.9v.9h-.9zM79.2 663.5h.9v.9h-.9zM62.1 668.8h.9v.9h-.9zM76.2 669.9h.9v.9h-.9zM66.0 683.7h.9v.9h-.9zM68.2 679.7h.9v.9h-.9zM70.5 670.9h.9v.9h-.9zM78.7 667.2h.9v.9h-.9zM78.0 667.2h.9v.9h-.9zM67.9 670.4h.9v.9h-.9zM76.6 671.0h.9v.9h-.9zM71.4 669.9h.9v.9h-.9zM68.9 663.7h.9v.9h-.9zM71.6 669.4h.9v.9h-.9zM78.8 666.8h.9v.9h-.9zM80.5 668.4h.9v.9h-.9zM69.6 671.0h.9v.9h-.9zM72.2 679.2h.9v.9h-.9zM63.2 674.8h.9v.9h-.9zM68.4 675.2h.9v.9h-.9zM73.7 670.6h.9v.9h-.9zM78.1 668.2h.9v.9h-.9zM61.5 676.2h.9v.9h-.9zM78.2 669.6h.9v.9h-.9zM65.8 677.8h.9v.9h-.9zM72.2 672.0h.9v.9h-.9zM70.5 666.9h.9v.9h-.9zM73.5 661.0h.9v.9h-.9zM61.2 676.8h.9v.9h-.9zM80.5 665.9h.9v.9h-.9zM75.8 667.3h.9v.9h-.9zM75.1 661.2h.9v.9h-.9zM58.2 676.2h.9v.9h-.9zM69.2 671.6h.9v.9h-.9zM75.1 668.5h.9v.9h-.9zM62.4 683.5h.9v.9h-.9zM69.1 669.8h.9v.9h-.9zM64.9 679.7h.9v.9h-.9zM81.8 663.9h.9v.9h-.9zM76.1 665.2h.9v.9h-.9zM68.4 667.9h.9v.9h-.9zM52.8 681.3h.9v.9h-.9zM58.8 673.9h.9v.9h-.9zM68.8 674.0h.9v.9h-.9zM75.3 677.1h.9v.9h-.9zM71.5 666.0h.9v.9h-.9zM75.5 666.9h.9v.9h-.9zM77.5 669.7h.9v.9h-.9zM78.3 662.3h.9v.9h-.9zM70.6 677.7h.9v.9h-.9zM52.5 679.2h.9v.9h-.9zM65.3 679.5h.9v.9h-.9zM77.2 659.4h.9v.9h-.9zM78.6 675.6h.9v.9h-.9zM65.0 669.4h.9v.9h-.9zM67.5 673.3h.9v.9h-.9zM72.4 669.5h.9v.9h-.9zM66.7 677.7h.9v.9h-.9zM62.5 688.3h.9v.9h-.9zM59.6 683.4h.9v.9h-.9zM73.3 675.2h.9v.9h-.9zM73.1 677.2h.9v.9h-.9zM69.6 672.7h.9v.9h-.9zM73.3 673.1h.9v.9h-.9zM76.3 677.7h.9v.9h-.9zM76.1 667.3h.9v.9h-.9zM58.9 684.0h.9v.9h-.9zM65.6 672.2h.9v.9h-.9zM61.8 670.7h.9v.9h-.9zM78.1 661.6h.9v.9h-.9zM59.5 681.1h.9v.9h-.9zM55.9 677.8h.9v.9h-.9zM75.0 666.6h.9v.9h-.9zM74.9 667.6h.9v.9h-.9zM65.3 674.0h.9v.9h-.9zM57.8 678.9h.9v.9h-.9zM83.3 669.6h.9v.9h-.9zM62.8 670.0h.9v.9h-.9zM69.5 675.0h.9v.9h-.9zM72.4 661.0h.9v.9h-.9zM78.9 664.5h.9v.9h-.9zM67.4 667.8h.9v.9h-.9zM76.8 660.3h.9v.9h-.9zM53.7 676.6h.9v.9h-.9zM62.6 684.6h.9v.9h-.9zM65.9 677.6h.9v.9h-.9zM69.9 671.4h.9v.9h-.9zM69.0 678.8h.9v.9h-.9zM66.2 667.4h.9v.9h-.9zM76.4 670.1h.9v.9h-.9zM77.6 668.8h.9v.9h-.9zM77.8 661.2h.9v.9h-.9zM61.2 675.7h.9v.9h-.9zM56.0 677.0h.9v.9h-.9zM60.8 680.8h.9v.9h-.9zM61.4 676.2h.9v.9h-.9zM71.3 671.9h.9v.9h-.9zM66.3 681.1h.9v.9h-.9zM79.6 661.7h.9v.9h-.9zM53.8 680.4h.9v.9h-.9zM62.8 680.2h.9v.9h-.9zM74.6 673.6h.9v.9h-.9zM79.4 667.5h.9v.9h-.9zM77.9 670.1h.9v.9h-.9zM71.8 675.7h.9v.9h-.9zM78.6 663.4h.9v.9h-.9zM68.7 674.2h.9v.9h-.9zM79.5 666.5h.9v.9h-.9zM74.6 673.9h.9v.9h-.9zM62.1 671.2h.9v.9h-.9zM65.8 673.8h.9v.9h-.9zM62.6 666.7h.9v.9h-.9zM66.0 673.5h.9v.9h-.9zM71.4 669.9h.9v.9h-.9zM80.9 663.3h.9v.9h-.9zM73.3 668.7h.9v.9h-.9zM71.3 670.0h.9v.9h-.9zM61.2 677.5h.9v.9h-.9zM76.3 659.5h.9v.9h-.9zM66.0 675.5h.9v.9h-.9zM64.1 682.7h.9v.9h-.9zM76.8 668.9h.9v.9h-.9zM76.8 664.4h.9v.9h-.9zM64.1 678.0h.9v.9h-.9zM73.3 678.9h.9v.9h-.9zM65.1 669.0h.9v.9h-.9zM65.7 674.5h.9v.9h-.9zM63.1 671.1h.9v.9h-.9zM74.0 664.2h.9v.9h-.9zM55.9 681.5h.9v.9h-.9zM69.5 672.6h.9v.9h-.9zM76.2 672.0h.9v.9h-.9zM73.6 674.3h.9v.9h-.9zM77.4 658.5h.9v.9h-.9zM81.8 667.6h.9v.9h-.9zM67.3 677.3h.9v.9h-.9zM75.3 677.5h.9v.9h-.9zM69.7 668.4h.9v.9h-.9zM83.3 669.2h.9v.9h-.9zM76.8 673.3h.9v.9h-.9zM72.0 671.0h.9v.9h-.9zM78.6 667.8h.9v.9h-.9zM71.5 673.9h.9v.9h-.9zM61.9 674.1h.9v.9h-.9zM67.5 668.9h.9v.9h-.9zM73.9 677.1h.9v.9h-.9zM76.8 662.6h.9v.9h-.9zM69.5 679.3h.9v.9h-.9zM77.5 663.9h.9v.9h-.9zM60.6 683.2h.9v.9h-.9zM69.8 670.8h.9v.9h-.9zM64.4 673.9h.9v.9h-.9zM74.8 670.4h.9v.9h-.9zM79.4 666.7h.9v.9h-.9zM79.7 668.6h.9v.9h-.9zM65.0 675.2h.9v.9h-.9zM65.8 673.7h.9v.9h-.9zM57.7 684.2h.9v.9h-.9zM77.2 663.5h.9v.9h-.9zM64.5 685.0h.9v.9h-.9zM60.9 676.6h.9v.9h-.9zM79.9 665.9h.9v.9h-.9zM75.5 665.1h.9v.9h-.9zM77.7 664.5h.9v.9h-.9zM59.8 674.5h.9v.9h-.9zM62.8 671.1h.9v.9h-.9zM73.3 670.1h.9v.9h-.9zM65.8 669.4h.9v.9h-.9zM63.6 677.0h.9v.9h-.9zM64.0 676.0h.9v.9h-.9zM63.0 674.3h.9v.9h-.9zM79.7 665.1h.9v.9h-.9zM69.4 668.9h.9v.9h-.9zM71.7 672.8h.9v.9h-.9zM79.3 668.3h.9v.9h-.9zM73.3 675.2h.9v.9h-.9zM70.2 662.5h.9v.9h-.9zM68.3 668.9h.9v.9h-.9zM76.3 661.0h.9v.9h-.9zM77.5 666.3h.9v.9h-.9zM67.4 677.7h.9v.9h-.9zM71.2 667.1h.9v.9h-.9zM76.7 674.2h.9v.9h-.9zM62.0 678.4h.9v.9h-.9zM74.9 670.3h.9v.9h-.9zM56.6 679.1h.9v.9h-.9zM63.3 678.2h.9v.9h-.9zM67.4 672.3h.9v.9h-.9zM59.6 677.4h.9v.9h-.9zM68.9 673.7h.9v.9h-.9zM64.4 677.1h.9v.9h-.9zM75.2 672.1h.9v.9h-.9zM75.9 671.1h.9v.9h-.9zM75.6 670.3h.9v.9h-.9zM77.0 661.9h.9v.9h-.9zM62.5 676.4h.9v.9h-.9zM72.7 671.5h.9v.9h-.9zM72.1 676.7h.9v.9h-.9zM79.9 665.7h.9v.9h-.9zM56.6 680.1h.9v.9h-.9zM65.8 677.9h.9v.9h-.9zM61.6 671.5h.9v.9h-.9zM75.8 667.2h.9v.9h-.9zM56.2 681.5h.9v.9h-.9zM67.8 673.7h.9v.9h-.9zM60.2 678.4h.9v.9h-.9zM63.5 672.3h.9v.9h-.9zM63.3 676.9h.9v.9h-.9zM65.8 669.2h.9v.9h-.9zM63.4 676.5h.9v.9h-.9zM63.3 678.0h.9v.9h-.9zM68.8 664.5h.9v.9h-.9zM81.2 661.8h.9v.9h-.9zM81.8 664.9h.9v.9h-.9zM77.7 673.7h.9v.9h-.9zM68.0 672.2h.9v.9h-.9zM67.1 672.3h.9v.9h-.9zM66.6 677.5h.9v.9h-.9zM72.4 674.1h.9v.9h-.9zM65.6 679.0h.9v.9h-.9zM71.0 675.2h.9v.9h-.9zM71.1 663.8h.9v.9h-.9zM57.5 680.5h.9v.9h-.9zM66.0 675.0h.9v.9h-.9zM67.7 677.4h.9v.9h-.9zM62.8 675.5h.9v.9h-.9zM66.8 671.4h.9v.9h-.9zM78.6 667.5h.9v.9h-.9zM80.7 665.6h.9v.9h-.9zM70.4 670.5h.9v.9h-.9zM82.2 664.0h.9v.9h-.9zM52.8 680.9h.9v.9h-.9zM60.3 672.9h.9v.9h-.9zM68.4 668.1h.9v.9h-.9zM79.5 667.9h.9v.9h-.9zM67.2 676.4h.9v.9h-.9zM80.6 663.9h.9v.9h-.9zM70.2 665.7h.9v.9h-.9zM67.7 673.1h.9v.9h-.9zM71.8 671.1h.9v.9h-.9zM68.0 676.5h.9v.9h-.9zM61.0 680.6h.9v.9h-.9zM58.5 679.8h.9v.9h-.9zM68.2 672.9h.9v.9h-.9zM58.7 681.5h.9v.9h-.9zM75.2 662.7h.9v.9h-.9zM62.5 676.1h.9v.9h-.9zM70.7 664.0h.9v.9h-.9zM50.2 677.3h.9v.9h-.9zM84.1 665.9h.9v.9h-.9zM65.9 671.2h.9v.9h-.9zM80.6 664.6h.9v.9h-.9zM75.8 668.2h.9v.9h-.9zM59.8 679.4h.9v.9h-.9zM63.1 673.0h.9v.9h-.9zM78.3 669.4h.9v.9h-.9zM70.4 663.2h.9v.9h-.9zM59.9 679.5h.9v.9h-.9zM74.7 672.7h.9v.9h-.9zM65.9 676.6h.9v.9h-.9zM58.9 683.1h.9v.9h-.9zM84.5 664.3h.9v.9h-.9zM67.2 667.6h.9v.9h-.9zM72.0 667.0h.9v.9h-.9zM82.3 669.5h.9v.9h-.9zM63.0 680.0h.9v.9h-.9zM62.1 682.1h.9v.9h-.9zM76.1 665.6h.9v.9h-.9zM51.5 678.1h.9v.9h-.9zM75.6 665.9h.9v.9h-.9zM77.3 668.2h.9v.9h-.9zM86.8 668.3h.9v.9h-.9zM66.5 672.9h.9v.9h-.9zM73.7 669.6h.9v.9h-.9zM72.9 667.6h.9v.9h-.9zM79.3 663.7h.9v.9h-.9zM72.1 663.1h.9v.9h-.9zM62.9 679.5h.9v.9h-.9zM66.2 674.2h.9v.9h-.9zM69.1 669.5h.9v.9h-.9zM72.2 672.6h.9v.9h-.9zM78.7 662.6h.9v.9h-.9zM61.7 683.0h.9v.9h-.9zM81.9 663.8h.9v.9h-.9zM76.4 668.7h.9v.9h-.9zM60.0 673.0h.9v.9h-.9zM79.7 666.9h.9v.9h-.9zM69.1 670.2h.9v.9h-.9zM75.9 664.3h.9v.9h-.9zM72.6 666.1h.9v.9h-.9zM60.1 674.2h.9v.9h-.9zM65.6 669.5h.9v.9h-.9zM80.1 662.5h.9v.9h-.9zM77.8 669.9h.9v.9h-.9zM85.3 670.7h.9v.9h-.9zM72.2 672.2h.9v.9h-.9zM76.7 673.5h.9v.9h-.9zM69.7 657.3h.9v.9h-.9zM71.5 672.0h.9v.9h-.9zM63.7 675.4h.9v.9h-.9zM70.9 671.2h.9v.9h-.9zM71.2 660.9h.9v.9h-.9zM78.9 667.6h.9v.9h-.9zM61.4 682.7h.9v.9h-.9zM78.5 665.6h.9v.9h-.9zM77.8 664.4h.9v.9h-.9zM73.8 667.9h.9v.9h-.9zM66.2 673.2h.9v.9h-.9zM60.9 672.7h.9v.9h-.9zM70.4 673.1h.9v.9h-.9zM77.9 661.6h.9v.9h-.9zM65.5 682.1h.9v.9h-.9zM75.0 665.6h.9v.9h-.9zM63.7 665.8h.9v.9h-.9zM73.0 668.8h.9v.9h-.9zM65.5 678.4h.9v.9h-.9zM70.6 674.9h.9v.9h-.9zM56.8 679.3h.9v.9h-.9zM70.2 674.9h.9v.9h-.9zM73.2 666.9h.9v.9h-.9zM72.7 677.2h.9v.9h-.9zM78.1 667.8h.9v.9h-.9zM58.2 678.8h.9v.9h-.9zM73.5 666.2h.9v.9h-.9zM79.5 664.9h.9v.9h-.9zM69.3 670.6h.9v.9h-.9zM78.0 676.9h.9v.9h-.9zM68.0 665.8h.9v.9h-.9zM56.1 678.5h.9v.9h-.9zM78.1 670.3h.9v.9h-.9zM67.1 673.6h.9v.9h-.9zM58.4 676.3h.9v.9h-.9zM77.5 667.0h.9v.9h-.9zM75.2 667.5h.9v.9h-.9zM73.9 677.6h.9v.9h-.9zM80.4 664.0h.9v.9h-.9zM63.5 671.2h.9v.9h-.9zM59.2 680.5h.9v.9h-.9zM73.2 673.9h.9v.9h-.9zM63.0 682.3h.9v.9h-.9zM66.3 669.6h.9v.9h-.9zM82.7 669.4h.9v.9h-.9zM63.2 669.2h.9v.9h-.9zM77.6 669.5h.9v.9h-.9zM58.5 684.2h.9v.9h-.9zM56.7 680.8h.9v.9h-.9zM81.2 667.9h.9v.9h-.9zM71.4 673.8h.9v.9h-.9zM64.2 675.5h.9v.9h-.9zM64.9 671.6h.9v.9h-.9zM68.4 668.3h.9v.9h-.9zM65.2 679.4h.9v.9h-.9zM63.9 673.3h.9v.9h-.9zM70.6 667.4h.9v.9h-.9zM66.2 667.0h.9v.9h-.9zM59.4 683.3h.9v.9h-.9zM77.6 664.3h.9v.9h-.9zM76.8 666.6h.9v.9h-.9zM57.4 681.6h.9v.9h-.9zM78.8 675.3h.9v.9h-.9zM75.7 666.6h.9v.9h-.9zM81.5 663.8h.9v.9h-.9zM73.8 662.1h.9v.9h-.9zM65.2 671.2h.9v.9h-.9zM59.7 677.9h.9v.9h-.9zM62.6 684.9h.9v.9h-.9zM72.8 667.1h.9v.9h-.9zM60.1 677.3h.9v.9h-.9zM63.5 668.1h.9v.9h-.9zM60.9 681.8h.9v.9h-.9zM72.8 664.4h.9v.9h-.9zM73.6 670.7h.9v.9h-.9zM60.6 676.5h.9v.9h-.9zM77.1 663.0h.9v.9h-.9zM75.7 668.1h.9v.9h-.9zM73.6 665.4h.9v.9h-.9zM58.1 682.5h.9v.9h-.9zM76.0 676.4h.9v.9h-.9zM78.0 668.7h.9v.9h-.9zM69.6 667.9h.9v.9h-.9zM81.3 669.9h.9v.9h-.9zM64.9 678.4h.9v.9h-.9zM74.8 675.0h.9v.9h-.9zM72.8 663.6h.9v.9h-.9zM54.4 680.6h.9v.9h-.9zM65.4 675.7h.9v.9h-.9zM70.3 671.5h.9v.9h-.9zM59.9 670.5h.9v.9h-.9zM68.8 665.2h.9v.9h-.9zM66.4 667.6h.9v.9h-.9zM76.8 666.4h.9v.9h-.9zM78.8 660.5h.9v.9h-.9zM61.5 674.5h.9v.9h-.9zM77.5 670.3h.9v.9h-.9zM79.0 673.9h.9v.9h-.9zM58.1 678.9h.9v.9h-.9zM49.7 675.3h.9v.9h-.9zM75.4 671.0h.9v.9h-.9zM73.6 674.1h.9v.9h-.9zM72.7 672.9h.9v.9h-.9zM63.3 664.9h.9v.9h-.9zM62.2 672.9h.9v.9h-.9zM84.9 669.0h.9v.9h-.9zM78.6 665.5h.9v.9h-.9zM66.2 668.2h.9v.9h-.9zM67.4 664.6h.9v.9h-.9zM52.9 673.7h.9v.9h-.9zM81.0 664.0h.9v.9h-.9zM75.5 664.3h.9v.9h-.9zM70.4 670.2h.9v.9h-.9zM59.4 688.0h.9v.9h-.9zM81.0 664.4h.9v.9h-.9zM65.9 674.6h.9v.9h-.9zM77.5 666.3h.9v.9h-.9zM71.5 673.0h.9v.9h-.9zM63.2 679.6h.9v.9h-.9zM69.2 672.5h.9v.9h-.9zM61.8 675.7h.9v.9h-.9zM72.6 670.9h.9v.9h-.9zM70.1 675.9h.9v.9h-.9zM70.6 681.5h.9v.9h-.9zM71.2 677.0h.9v.9h-.9zM76.1 663.8h.9v.9h-.9zM72.0 662.1h.9v.9h-.9zM58.8 682.6h.9v.9h-.9zM64.7 682.7h.9v.9h-.9zM79.0 660.3h.9v.9h-.9zM65.4 680.7h.9v.9h-.9zM75.6 663.6h.9v.9h-.9zM68.6 671.5h.9v.9h-.9zM65.0 677.1h.9v.9h-.9zM61.7 677.7h.9v.9h-.9zM67.7 667.6h.9v.9h-.9zM59.1 681.0h.9v.9h-.9zM72.0 672.8h.9v.9h-.9zM78.2 659.4h.9v.9h-.9zM80.6 664.2h.9v.9h-.9zM64.3 680.8h.9v.9h-.9zM73.8 662.0h.9v.9h-.9zM67.0 677.6h.9v.9h-.9zM72.1 667.2h.9v.9h-.9zM76.3 662.1h.9v.9h-.9zM69.4 668.4h.9v.9h-.9zM82.3 664.7h.9v.9h-.9zM78.7 666.3h.9v.9h-.9zM72.1 673.6h.9v.9h-.9zM60.4 678.2h.9v.9h-.9zM77.1 673.6h.9v.9h-.9zM68.3 679.4h.9v.9h-.9zM53.5 681.3h.9v.9h-.9zM73.0 676.9h.9v.9h-.9zM65.3 679.2h.9v.9h-.9zM62.5 666.7h.9v.9h-.9zM68.2 669.5h.9v.9h-.9zM64.9 679.0h.9v.9h-.9zM81.7 672.1h.9v.9h-.9zM74.0 669.4h.9v.9h-.9zM77.1 666.4h.9v.9h-.9zM82.4 667.2h.9v.9h-.9zM65.7 675.7h.9v.9h-.9zM81.6 664.5h.9v.9h-.9zM59.0 676.5h.9v.9h-.9zM79.8 661.8h.9v.9h-.9zM80.2 672.5h.9v.9h-.9zM75.3 667.8h.9v.9h-.9zM74.2 673.9h.9v.9h-.9zM59.9 685.2h.9v.9h-.9zM72.7 665.5h.9v.9h-.9zM66.9 677.7h.9v.9h-.9zM76.0 670.4h.9v.9h-.9zM76.3 665.4h.9v.9h-.9zM76.5 667.0h.9v.9h-.9zM73.0 670.1h.9v.9h-.9zM60.4 683.5h.9v.9h-.9zM73.3 674.7h.9v.9h-.9zM67.1 671.5h.9v.9h-.9zM70.4 673.4h.9v.9h-.9zM65.5 671.0h.9v.9h-.9zM66.3 666.4h.9v.9h-.9zM80.5 664.2h.9v.9h-.9zM79.7 660.9h.9v.9h-.9zM77.6 668.1h.9v.9h-.9zM72.4 669.9h.9v.9h-.9zM71.9 667.9h.9v.9h-.9zM71.1 675.3h.9v.9h-.9zM59.3 680.6h.9v.9h-.9zM71.0 674.8h.9v.9h-.9zM70.8 670.0h.9v.9h-.9zM56.5 681.4h.9v.9h-.9zM57.3 681.0h.9v.9h-.9zM57.1 678.6h.9v.9h-.9zM63.7 679.5h.9v.9h-.9zM63.3 677.6h.9v.9h-.9zM69.0 670.9h.9v.9h-.9zM68.3 671.7h.9v.9h-.9zM64.9 666.8h.9v.9h-.9zM80.3 663.6h.9v.9h-.9zM73.2 668.2h.9v.9h-.9zM71.7 664.7h.9v.9h-.9zM62.2 677.6h.9v.9h-.9zM80.3 660.6h.9v.9h-.9zM53.7 678.8h.9v.9h-.9zM62.3 675.0h.9v.9h-.9zM82.6 667.5h.9v.9h-.9zM69.7 668.7h.9v.9h-.9zM74.0 665.1h.9v.9h-.9zM62.5 674.1h.9v.9h-.9zM61.4 673.1h.9v.9h-.9zM77.4 663.2h.9v.9h-.9zM70.3 666.3h.9v.9h-.9zM75.1 656.6h.9v.9h-.9zM66.1 674.5h.9v.9h-.9zM62.4 674.1h.9v.9h-.9zM76.9 663.9h.9v.9h-.9zM66.1 673.8h.9v.9h-.9zM65.9 673.2h.9v.9h-.9zM58.1 681.9h.9v.9h-.9zM56.6 684.7h.9v.9h-.9zM60.2 676.3h.9v.9h-.9zM66.7 676.2h.9v.9h-.9zM69.6 670.9h.9v.9h-.9zM74.0 662.4h.9v.9h-.9zM78.4 673.4h.9v.9h-.9zM79.7 669.1h.9v.9h-.9zM62.6 675.9h.9v.9h-.9zM78.9 671.5h.9v.9h-.9zM58.4 683.2h.9v.9h-.9zM72.8 670.6h.9v.9h-.9zM69.3 678.2h.9v.9h-.9zM64.1 672.9h.9v.9h-.9zM64.0 676.1h.9v.9h-.9zM56.2 681.5h.9v.9h-.9zM68.7 680.3h.9v.9h-.9zM67.4 669.8h.9v.9h-.9zM77.6 664.6h.9v.9h-.9zM71.8 667.4h.9v.9h-.9zM77.5 667.8h.9v.9h-.9zM56.4 682.4h.9v.9h-.9zM75.1 664.5h.9v.9h-.9zM71.6 666.5h.9v.9h-.9zM67.6 669.6h.9v.9h-.9zM83.5 670.8h.9v.9h-.9zM79.6 667.3h.9v.9h-.9zM77.8 659.9h.9v.9h-.9zM66.1 677.5h.9v.9h-.9zM88.7 670.5h.9v.9h-.9zM76.4 671.6h.9v.9h-.9zM71.0 675.6h.9v.9h-.9zM60.6 674.2h.9v.9h-.9zM62.6 671.4h.9v.9h-.9zM58.1 683.5h.9v.9h-.9zM66.8 681.7h.9v.9h-.9zM68.3 678.3h.9v.9h-.9zM57.5 678.8h.9v.9h-.9zM75.1 665.0h.9v.9h-.9zM60.9 679.4h.9v.9h-.9zM56.2 671.8h.9v.9h-.9zM67.3 674.8h.9v.9h-.9zM83.0 667.1h.9v.9h-.9zM67.3 674.8h.9v.9h-.9zM77.2 668.8h.9v.9h-.9zM81.6 663.3h.9v.9h-.9zM73.4 662.9h.9v.9h-.9zM68.7 669.2h.9v.9h-.9zM72.4 670.4h.9v.9h-.9zM80.2 672.2h.9v.9h-.9zM75.7 666.6h.9v.9h-.9zM67.9 674.6h.9v.9h-.9zM58.9 683.8h.9v.9h-.9zM63.6 679.4h.9v.9h-.9zM70.5 669.7h.9v.9h-.9zM72.0 672.1h.9v.9h-.9zM65.8 673.2h.9v.9h-.9zM75.3 668.4h.9v.9h-.9zM72.9 664.4h.9v.9h-.9zM59.7 673.9h.9v.9h-.9zM76.4 668.8h.9v.9h-.9zM75.9 677.9h.9v.9h-.9zM60.0 679.6h.9v.9h-.9zM74.5 670.6h.9v.9h-.9zM79.9 667.2h.9v.9h-.9zM65.7 673.6h.9v.9h-.9zM80.2 666.3h.9v.9h-.9zM66.2 674.9h.9v.9h-.9zM55.1 682.4h.9v.9h-.9zM80.3 662.1h.9v.9h-.9zM76.6 667.9h.9v.9h-.9zM76.7 671.4h.9v.9h-.9zM68.2 671.9h.9v.9h-.9zM64.2 675.2h.9v.9h-.9zM78.1 670.9h.9v.9h-.9zM82.8 664.3h.9v.9h-.9zM63.6 681.5h.9v.9h-.9zM60.2 677.8h.9v.9h-.9zM74.9 669.2h.9v.9h-.9zM61.8 683.3h.9v.9h-.9zM77.8 664.1h.9v.9h-.9zM57.4 682.9h.9v.9h-.9zM73.9 673.5h.9v.9h-.9zM77.3 664.8h.9v.9h-.9zM71.5 667.6h.9v.9h-.9zM75.9 670.5h.9v.9h-.9zM74.0 664.4h.9v.9h-.9zM54.2 680.9h.9v.9h-.9zM69.8 666.3h.9v.9h-.9zM60.8 684.0h.9v.9h-.9zM78.2 673.0h.9v.9h-.9zM62.6 672.7h.9v.9h-.9zM74.6 661.1h.9v.9h-.9zM68.4 669.3h.9v.9h-.9zM67.3 675.2h.9v.9h-.9zM63.0 680.7h.9v.9h-.9zM70.9 672.9h.9v.9h-.9zM78.6 664.5h.9v.9h-.9zM75.8 668.9h.9v.9h-.9zM69.7 677.8h.9v.9h-.9zM65.7 681.2h.9v.9h-.9zM70.0 670.2h.9v.9h-.9zM82.1 667.5h.9v.9h-.9zM79.7 669.3h.9v.9h-.9zM54.6 672.8h.9v.9h-.9zM79.7 664.9h.9v.9h-.9zM68.7 677.4h.9v.9h-.9zM75.8 665.3h.9v.9h-.9zM74.5 661.6h.9v.9h-.9zM71.6 664.7h.9v.9h-.9zM78.8 659.8h.9v.9h-.9zM76.5 662.3h.9v.9h-.9zM63.8 676.1h.9v.9h-.9zM78.2 668.1h.9v.9h-.9zM68.4 675.1h.9v.9h-.9zM73.8 669.8h.9v.9h-.9zM78.1 662.8h.9v.9h-.9zM62.8 677.0h.9v.9h-.9zM76.4 665.8h.9v.9h-.9zM66.9 670.5h.9v.9h-.9zM55.5 679.9h.9v.9h-.9zM79.3 659.1h.9v.9h-.9zM80.2 668.9h.9v.9h-.9zM61.6 682.7h.9v.9h-.9zM63.8 682.4h.9v.9h-.9zM82.2 668.8h.9v.9h-.9zM76.6 670.2h.9v.9h-.9zM64.4 668.9h.9v.9h-.9zM78.9 666.9h.9v.9h-.9zM62.4 685.5h.9v.9h-.9zM63.5 672.5h.9v.9h-.9zM66.4 671.4h.9v.9h-.9zM70.6 672.1h.9v.9h-.9zM60.9 681.3h.9v.9h-.9zM70.7 670.7h.9v.9h-.9zM81.3 664.2h.9v.9h-.9zM61.4 682.2h.9v.9h-.9zM60.0 678.5h.9v.9h-.9zM63.9 679.3h.9v.9h-.9zM78.3 662.7h.9v.9h-.9zM64.4 673.6h.9v.9h-.9zM56.3 679.9h.9v.9h-.9zM59.3 684.8h.9v.9h-.9zM64.9 673.6h.9v.9h-.9zM68.1 674.5h.9v.9h-.9zM55.4 683.1h.9v.9h-.9zM75.2 667.7h.9v.9h-.9zM62.0 676.2h.9v.9h-.9zM75.9 666.2h.9v.9h-.9zM63.0 669.6h.9v.9h-.9zM63.8 678.7h.9v.9h-.9zM76.9 675.9h.9v.9h-.9zM62.9 680.3h.9v.9h-.9zM79.0 667.6h.9v.9h-.9zM64.7 682.1h.9v.9h-.9zM72.3 673.5h.9v.9h-.9zM72.4 670.2h.9v.9h-.9zM62.4 676.5h.9v.9h-.9zM63.9 678.0h.9v.9h-.9zM65.6 670.6h.9v.9h-.9zM73.9 666.6h.9v.9h-.9zM67.3 673.9h.9v.9h-.9zM65.1 675.3h.9v.9h-.9zM56.2 681.8h.9v.9h-.9zM71.8 672.3h.9v.9h-.9zM73.9 663.3h.9v.9h-.9zM65.1 674.7h.9v.9h-.9zM77.4 669.2h.9v.9h-.9zM73.3 665.9h.9v.9h-.9zM72.8 664.1h.9v.9h-.9zM82.1 667.1h.9v.9h-.9zM68.1 675.6h.9v.9h-.9zM75.2 673.2h.9v.9h-.9zM68.8 671.5h.9v.9h-.9zM80.4 666.5h.9v.9h-.9zM68.2 679.9h.9v.9h-.9zM81.1 673.2h.9v.9h-.9zM73.5 674.1h.9v.9h-.9zM82.4 665.8h.9v.9h-.9zM63.4 675.5h.9v.9h-.9zM64.5 672.2h.9v.9h-.9zM82.3 668.1h.9v.9h-.9zM64.3 677.3h.9v.9h-.9zM70.2 682.1h.9v.9h-.9zM79.1 662.4h.9v.9h-.9zM60.9 672.2h.9v.9h-.9zM81.8 663.6h.9v.9h-.9zM84.5 669.2h.9v.9h-.9zM75.6 674.3h.9v.9h-.9zM77.9 665.8h.9v.9h-.9zM45.5 690.7h.9v.9h-.9zM63.4 694.0h.9v.9h-.9zM71.3 689.4h.9v.9h-.9zM72.0 683.5h.9v.9h-.9zM76.6 685.3h.9v.9h-.9zM59.6 681.0h.9v.9h-.9zM43.8 693.5h.9v.9h-.9zM68.5 690.7h.9v.9h-.9zM68.7 683.2h.9v.9h-.9zM71.0 688.2h.9v.9h-.9zM79.1 688.3h.9v.9h-.9zM77.8 688.6h.9v.9h-.9zM59.5 681.6h.9v.9h-.9zM55.7 684.0h.9v.9h-.9zM48.1 688.1h.9v.9h-.9zM60.7 692.1h.9v.9h-.9zM55.6 694.0h.9v.9h-.9zM77.1 691.5h.9v.9h-.9zM79.3 690.9h.9v.9h-.9zM74.3 692.9h.9v.9h-.9zM49.5 687.4h.9v.9h-.9zM69.1 688.2h.9v.9h-.9zM53.8 680.5h.9v.9h-.9zM55.6 688.2h.9v.9h-.9zM56.3 689.4h.9v.9h-.9zM46.7 687.7h.9v.9h-.9zM73.0 686.6h.9v.9h-.9zM77.3 686.0h.9v.9h-.9zM65.0 694.6h.9v.9h-.9zM73.2 690.1h.9v.9h-.9zM67.2 684.4h.9v.9h-.9zM55.0 693.9h.9v.9h-.9zM57.6 691.5h.9v.9h-.9zM58.3 679.9h.9v.9h-.9zM68.6 688.5h.9v.9h-.9zM52.7 680.5h.9v.9h-.9zM63.6 684.5h.9v.9h-.9zM56.1 692.6h.9v.9h-.9zM71.8 692.8h.9v.9h-.9zM58.4 694.3h.9v.9h-.9zM45.7 682.0h.9v.9h-.9zM44.7 693.7h.9v.9h-.9zM57.9 680.2h.9v.9h-.9zM61.1 688.4h.9v.9h-.9zM61.4 692.3h.9v.9h-.9zM53.9 692.6h.9v.9h-.9zM66.2 686.8h.9v.9h-.9zM51.3 685.7h.9v.9h-.9zM48.0 694.8h.9v.9h-.9zM50.0 690.6h.9v.9h-.9zM46.4 692.2h.9v.9h-.9zM68.4 685.6h.9v.9h-.9zM47.7 688.9h.9v.9h-.9zM48.7 682.2h.9v.9h-.9zM71.5 692.3h.9v.9h-.9zM63.4 694.3h.9v.9h-.9zM78.0 692.7h.9v.9h-.9zM75.0 685.6h.9v.9h-.9zM61.0 693.4h.9v.9h-.9zM80.0 694.6h.9v.9h-.9zM54.3 688.4h.9v.9h-.9zM49.0 687.5h.9v.9h-.9zM45.6 685.3h.9v.9h-.9zM77.2 690.9h.9v.9h-.9zM60.0 679.0h.9v.9h-.9zM60.7 678.8h.9v.9h-.9zM77.6 688.3h.9v.9h-.9zM49.6 681.6h.9v.9h-.9zM78.2 687.8h.9v.9h-.9zM66.4 684.3h.9v.9h-.9zM43.5 687.6h.9v.9h-.9zM53.3 688.4h.9v.9h-.9zM81.2 691.0h.9v.9h-.9zM54.7 688.2h.9v.9h-.9zM71.4 693.9h.9v.9h-.9zM70.1 682.3h.9v.9h-.9zM68.5 680.9h.9v.9h-.9zM48.9 691.2h.9v.9h-.9zM54.4 683.4h.9v.9h-.9zM82.1 692.7h.9v.9h-.9zM68.3 694.8h.9v.9h-.9zM69.0 687.7h.9v.9h-.9zM56.5 683.7h.9v.9h-.9zM66.8 681.0h.9v.9h-.9zM69.9 693.4h.9v.9h-.9zM44.1 683.4h.9v.9h-.9zM61.1 693.0h.9v.9h-.9zM71.4 687.3h.9v.9h-.9zM48.1 684.9h.9v.9h-.9zM80.1 695.0h.9v.9h-.9zM64.7 685.2h.9v.9h-.9zM50.4 691.9h.9v.9h-.9zM54.6 680.2h.9v.9h-.9zM64.9 679.5h.9v.9h-.9zM69.9 688.1h.9v.9h-.9zM69.1 685.7h.9v.9h-.9zM68.6 682.0h.9v.9h-.9zM62.4 689.9h.9v.9h-.9zM58.5 684.7h.9v.9h-.9zM73.8 690.5h.9v.9h-.9zM43.6 687.9h.9v.9h-.9zM73.1 688.4h.9v.9h-.9zM74.1 688.2h.9v.9h-.9zM69.5 687.1h.9v.9h-.9zM70.9 687.3h.9v.9h-.9zM72.5 684.7h.9v.9h-.9zM49.9 686.3h.9v.9h-.9zM57.9 679.4h.9v.9h-.9zM46.6 693.3h.9v.9h-.9zM69.7 685.3h.9v.9h-.9zM49.8 683.2h.9v.9h-.9zM61.4 693.5h.9v.9h-.9zM76.2 688.1h.9v.9h-.9zM68.1 681.5h.9v.9h-.9zM65.9 693.4h.9v.9h-.9zM44.8 689.1h.9v.9h-.9zM61.3 684.5h.9v.9h-.9zM68.9 685.6h.9v.9h-.9zM76.3 692.2h.9v.9h-.9zM65.8 682.8h.9v.9h-.9zM61.2 689.8h.9v.9h-.9zM53.7 693.3h.9v.9h-.9zM54.0 693.5h.9v.9h-.9zM61.3 684.1h.9v.9h-.9zM65.9 687.3h.9v.9h-.9zM63.7 693.0h.9v.9h-.9zM78.8 687.9h.9v.9h-.9zM67.5 691.1h.9v.9h-.9zM46.4 687.0h.9v.9h-.9zM51.1 681.4h.9v.9h-.9zM49.1 689.7h.9v.9h-.9zM61.6 686.9h.9v.9h-.9zM72.4 692.9h.9v.9h-.9zM48.3 686.2h.9v.9h-.9zM50.7 687.3h.9v.9h-.9zM54.8 695.0h.9v.9h-.9zM61.1 692.4h.9v.9h-.9zM59.7 678.6h.9v.9h-.9zM70.6 694.5h.9v.9h-.9zM59.3 691.6h.9v.9h-.9zM43.2 685.7h.9v.9h-.9zM64.4 679.0h.9v.9h-.9zM59.8 681.1h.9v.9h-.9zM47.3 685.9h.9v.9h-.9zM53.5 682.1h.9v.9h-.9zM43.9 694.2h.9v.9h-.9zM43.4 690.8h.9v.9h-.9zM52.7 691.7h.9v.9h-.9zM68.3 686.6h.9v.9h-.9zM67.9 685.3h.9v.9h-.9zM69.6 687.4h.9v.9h-.9zM70.0 684.3h.9v.9h-.9zM71.9 687.1h.9v.9h-.9zM70.7 681.1h.9v.9h-.9zM68.4 684.7h.9v.9h-.9zM53.0 682.2h.9v.9h-.9zM72.2 693.8h.9v.9h-.9zM56.3 682.4h.9v.9h-.9zM69.5 691.2h.9v.9h-.9zM75.1 692.3h.9v.9h-.9zM70.3 682.4h.9v.9h-.9zM66.3 686.5h.9v.9h-.9zM54.6 685.6h.9v.9h-.9zM43.7 693.7h.9v.9h-.9zM77.5 692.8h.9v.9h-.9zM50.4 686.2h.9v.9h-.9zM63.7 692.4h.9v.9h-.9zM48.8 681.2h.9v.9h-.9zM45.4 687.7h.9v.9h-.9zM60.5 694.8h.9v.9h-.9zM55.2 687.1h.9v.9h-.9zM51.5 691.3h.9v.9h-.9zM69.3 693.2h.9v.9h-.9zM66.1 681.2h.9v.9h-.9zM62.7 685.4h.9v.9h-.9zM57.7 687.7h.9v.9h-.9zM49.2 681.2h.9v.9h-.9zM68.5 689.3h.9v.9h-.9zM54.9 694.1h.9v.9h-.9zM57.5 693.0h.9v.9h-.9zM57.0 683.3h.9v.9h-.9zM46.8 692.0h.9v.9h-.9zM57.8 690.3h.9v.9h-.9zM79.8 690.2h.9v.9h-.9zM78.2 694.4h.9v.9h-.9zM78.3 688.7h.9v.9h-.9zM49.1 689.4h.9v.9h-.9zM52.8 688.4h.9v.9h-.9zM61.8 681.5h.9v.9h-.9zM57.5 681.0h.9v.9h-.9zM65.4 689.5h.9v.9h-.9zM56.7 690.6h.9v.9h-.9zM63.7 689.9h.9v.9h-.9zM55.7 679.7h.9v.9h-.9zM44.0 686.6h.9v.9h-.9zM46.9 690.7h.9v.9h-.9zM63.5 682.0h.9v.9h-.9zM75.9 686.2h.9v.9h-.9zM64.9 683.6h.9v.9h-.9zM44.1 692.5h.9v.9h-.9zM59.3 692.6h.9v.9h-.9zM47.3 684.7h.9v.9h-.9zM46.0 694.8h.9v.9h-.9zM65.8 690.8h.9v.9h-.9zM50.1 688.9h.9v.9h-.9zM61.5 689.7h.9v.9h-.9zM47.6 691.4h.9v.9h-.9zM63.0 681.8h.9v.9h-.9zM75.7 686.5h.9v.9h-.9zM61.2 688.3h.9v.9h-.9zM60.1 689.2h.9v.9h-.9zM57.3 689.2h.9v.9h-.9zM51.6 685.9h.9v.9h-.9zM59.2 684.0h.9v.9h-.9zM70.6 694.7h.9v.9h-.9zM64.4 684.3h.9v.9h-.9zM50.4 680.0h.9v.9h-.9zM76.3 686.4h.9v.9h-.9zM44.5 688.4h.9v.9h-.9zM77.8 689.1h.9v.9h-.9zM54.1 679.8h.9v.9h-.9zM62.5 691.0h.9v.9h-.9zM47.8 691.0h.9v.9h-.9zM69.0 688.8h.9v.9h-.9zM46.1 683.4h.9v.9h-.9zM78.0 693.0h.9v.9h-.9zM50.1 682.5h.9v.9h-.9zM49.7 690.8h.9v.9h-.9zM74.0 689.1h.9v.9h-.9zM69.7 691.9h.9v.9h-.9zM54.3 694.0h.9v.9h-.9zM44.1 688.1h.9v.9h-.9zM70.9 684.9h.9v.9h-.9zM52.0 681.6h.9v.9h-.9zM58.1 690.8h.9v.9h-.9zM66.1 682.5h.9v.9h-.9zM74.6 692.8h.9v.9h-.9zM54.7 685.4h.9v.9h-.9zM55.4 692.6h.9v.9h-.9zM44.1 688.2h.9v.9h-.9zM68.3 686.9h.9v.9h-.9zM64.9 682.2h.9v.9h-.9zM52.3 679.2h.9v.9h-.9zM63.2 683.4h.9v.9h-.9zM67.5 689.6h.9v.9h-.9zM54.5 688.2h.9v.9h-.9zM53.8 691.0h.9v.9h-.9zM51.5 688.0h.9v.9h-.9zM73.8 692.1h.9v.9h-.9zM58.0 681.4h.9v.9h-.9zM70.2 683.8h.9v.9h-.9zM81.6 692.2h.9v.9h-.9zM47.6 693.5h.9v.9h-.9zM75.4 685.2h.9v.9h-.9zM43.9 694.4h.9v.9h-.9zM57.1 689.7h.9v.9h-.9zM46.5 691.9h.9v.9h-.9zM75.8 688.8h.9v.9h-.9zM61.1 681.9h.9v.9h-.9zM47.2 694.6h.9v.9h-.9zM52.1 688.0h.9v.9h-.9zM67.5 684.1h.9v.9h-.9zM72.1 683.5h.9v.9h-.9zM46.1 684.6h.9v.9h-.9zM65.5 680.4h.9v.9h-.9zM67.4 682.3h.9v.9h-.9zM50.2 681.9h.9v.9h-.9zM65.9 688.9h.9v.9h-.9zM79.4 692.2h.9v.9h-.9zM55.9 688.1h.9v.9h-.9zM45.3 687.7h.9v.9h-.9zM43.6 685.1h.9v.9h-.9zM63.1 680.7h.9v.9h-.9zM81.7 693.8h.9v.9h-.9zM57.7 691.2h.9v.9h-.9zM74.0 683.1h.9v.9h-.9zM50.2 684.5h.9v.9h-.9zM53.5 686.1h.9v.9h-.9zM72.0 690.9h.9v.9h-.9zM71.9 694.5h.9v.9h-.9zM67.9 689.3h.9v.9h-.9zM66.0 686.8h.9v.9h-.9zM50.9 686.1h.9v.9h-.9zM56.0 690.4h.9v.9h-.9zM51.7 688.5h.9v.9h-.9zM59.5 689.7h.9v.9h-.9zM62.6 678.3h.9v.9h-.9zM46.8 688.4h.9v.9h-.9zM64.1 686.2h.9v.9h-.9zM70.9 692.2h.9v.9h-.9zM77.3 694.6h.9v.9h-.9zM52.4 685.8h.9v.9h-.9zM80.3 690.5h.9v.9h-.9zM67.5 694.0h.9v.9h-.9zM68.7 691.2h.9v.9h-.9zM69.2 690.9h.9v.9h-.9zM50.2 681.3h.9v.9h-.9zM71.7 692.4h.9v.9h-.9zM43.9 693.6h.9v.9h-.9zM57.3 685.9h.9v.9h-.9zM46.4 688.9h.9v.9h-.9zM50.8 685.3h.9v.9h-.9zM76.0 687.4h.9v.9h-.9zM51.3 687.8h.9v.9h-.9zM46.7 682.4h.9v.9h-.9zM60.3 682.8h.9v.9h-.9zM69.5 694.5h.9v.9h-.9zM48.2 688.4h.9v.9h-.9zM68.0 688.4h.9v.9h-.9zM48.7 684.9h.9v.9h-.9zM46.5 687.3h.9v.9h-.9zM52.3 690.1h.9v.9h-.9zM54.7 685.1h.9v.9h-.9zM57.6 680.3h.9v.9h-.9zM73.9 683.4h.9v.9h-.9zM51.8 679.9h.9v.9h-.9zM62.7 687.7h.9v.9h-.9zM62.0 681.2h.9v.9h-.9zM55.1 682.9h.9v.9h-.9zM77.9 689.8h.9v.9h-.9zM50.8 682.4h.9v.9h-.9zM64.3 692.8h.9v.9h-.9zM78.0 693.3h.9v.9h-.9zM47.6 684.9h.9v.9h-.9zM52.2 681.0h.9v.9h-.9zM69.6 680.6h.9v.9h-.9zM44.9 687.0h.9v.9h-.9zM63.3 693.4h.9v.9h-.9zM76.3 690.9h.9v.9h-.9zM63.4 686.6h.9v.9h-.9zM81.5 692.8h.9v.9h-.9zM50.3 683.1h.9v.9h-.9zM53.9 691.6h.9v.9h-.9zM48.2 683.6h.9v.9h-.9zM66.3 691.0h.9v.9h-.9zM53.6 691.1h.9v.9h-.9zM46.2 694.4h.9v.9h-.9zM65.8 679.6h.9v.9h-.9zM77.1 693.8h.9v.9h-.9zM48.4 693.7h.9v.9h-.9zM66.7 683.8h.9v.9h-.9zM56.0 692.4h.9v.9h-.9zM45.8 687.5h.9v.9h-.9zM43.8 694.0h.9v.9h-.9zM69.4 693.8h.9v.9h-.9zM55.2 686.1h.9v.9h-.9zM81.1 693.2h.9v.9h-.9zM60.0 685.9h.9v.9h-.9zM47.3 694.1h.9v.9h-.9zM58.6 681.0h.9v.9h-.9zM57.0 695.1h.9v.9h-.9zM69.5 684.7h.9v.9h-.9zM63.7 686.2h.9v.9h-.9zM56.8 684.7h.9v.9h-.9zM55.3 691.3h.9v.9h-.9zM72.9 683.0h.9v.9h-.9zM56.2 687.3h.9v.9h-.9zM68.6 685.4h.9v.9h-.9zM44.5 686.9h.9v.9h-.9zM46.0 688.6h.9v.9h-.9zM79.9 691.5h.9v.9h-.9zM67.7 693.6h.9v.9h-.9zM69.4 682.9h.9v.9h-.9zM46.7 682.7h.9v.9h-.9zM52.6 688.7h.9v.9h-.9zM62.5 692.1h.9v.9h-.9zM50.6 683.2h.9v.9h-.9zM58.7 681.7h.9v.9h-.9zM69.1 683.9h.9v.9h-.9zM54.4 681.9h.9v.9h-.9zM52.4 690.0h.9v.9h-.9zM48.0 695.1h.9v.9h-.9zM48.6 680.1h.9v.9h-.9zM74.9 691.8h.9v.9h-.9zM72.4 684.6h.9v.9h-.9zM67.0 694.7h.9v.9h-.9zM61.7 693.5h.9v.9h-.9zM72.7 685.8h.9v.9h-.9zM52.3 690.1h.9v.9h-.9zM76.3 689.1h.9v.9h-.9zM76.2 690.9h.9v.9h-.9zM65.2 690.9h.9v.9h-.9zM77.3 686.5h.9v.9h-.9zM44.2 690.2h.9v.9h-.9zM49.6 694.3h.9v.9h-.9zM52.0 692.8h.9v.9h-.9zM73.3 695.1h.9v.9h-.9zM56.4 687.9h.9v.9h-.9zM49.7 680.7h.9v.9h-.9zM43.8 683.7h.9v.9h-.9zM59.1 693.0h.9v.9h-.9zM75.1 689.3h.9v.9h-.9zM60.7 685.3h.9v.9h-.9zM58.4 691.0h.9v.9h-.9zM71.7 688.7h.9v.9h-.9zM60.9 689.7h.9v.9h-.9zM58.4 681.2h.9v.9h-.9zM75.8 693.3h.9v.9h-.9zM64.0 678.6h.9v.9h-.9zM59.7 685.1h.9v.9h-.9zM65.3 679.4h.9v.9h-.9zM50.4 689.7h.9v.9h-.9zM64.6 684.3h.9v.9h-.9zM63.6 684.3h.9v.9h-.9zM71.4 688.0h.9v.9h-.9zM44.9 686.0h.9v.9h-.9zM53.4 687.8h.9v.9h-.9zM62.3 691.3h.9v.9h-.9zM68.8 686.3h.9v.9h-.9zM47.7 690.7h.9v.9h-.9zM67.4 681.4h.9v.9h-.9zM62.4 682.6h.9v.9h-.9zM67.7 694.9h.9v.9h-.9zM61.4 683.5h.9v.9h-.9zM54.2 694.5h.9v.9h-.9zM65.5 694.3h.9v.9h-.9zM78.8 692.4h.9v.9h-.9zM68.5 686.3h.9v.9h-.9zM55.1 679.4h.9v.9h-.9zM61.5 692.8h.9v.9h-.9zM71.3 683.3h.9v.9h-.9zM74.2 684.5h.9v.9h-.9zM72.0 686.2h.9v.9h-.9zM59.2 690.4h.9v.9h-.9zM64.3 681.7h.9v.9h-.9zM55.4 681.1h.9v.9h-.9zM70.3 680.2h.9v.9h-.9zM57.5 679.7h.9v.9h-.9zM68.4 686.8h.9v.9h-.9zM73.2 690.2h.9v.9h-.9zM46.3 685.2h.9v.9h-.9zM63.5 685.5h.9v.9h-.9zM58.1 683.0h.9v.9h-.9zM53.2 694.8h.9v.9h-.9zM47.3 690.1h.9v.9h-.9zM45.7 686.7h.9v.9h-.9zM61.3 692.9h.9v.9h-.9zM58.9 682.2h.9v.9h-.9zM74.0 685.2h.9v.9h-.9zM51.8 695.0h.9v.9h-.9zM47.8 682.2h.9v.9h-.9zM60.4 684.4h.9v.9h-.9zM51.8 693.3h.9v.9h-.9zM61.0 678.8h.9v.9h-.9zM78.8 694.9h.9v.9h-.9zM70.9 683.6h.9v.9h-.9zM59.2 690.0h.9v.9h-.9zM60.3 690.3h.9v.9h-.9zM80.7 693.0h.9v.9h-.9zM66.0 684.8h.9v.9h-.9zM54.6 680.1h.9v.9h-.9zM52.9 682.6h.9v.9h-.9zM60.7 686.2h.9v.9h-.9zM57.8 693.8h.9v.9h-.9zM49.7 680.7h.9v.9h-.9zM66.9 686.8h.9v.9h-.9zM71.9 687.6h.9v.9h-.9zM56.8 682.3h.9v.9h-.9zM53.6 691.5h.9v.9h-.9zM68.2 693.7h.9v.9h-.9zM74.2 685.4h.9v.9h-.9zM80.0 691.5h.9v.9h-.9zM68.0 681.8h.9v.9h-.9zM65.8 684.8h.9v.9h-.9zM46.1 683.4h.9v.9h-.9zM46.9 694.2h.9v.9h-.9zM56.2 681.5h.9v.9h-.9zM73.3 682.2h.9v.9h-.9zM45.3 693.7h.9v.9h-.9zM71.8 681.4h.9v.9h-.9zM69.9 683.3h.9v.9h-.9zM65.6 689.1h.9v.9h-.9zM66.8 687.4h.9v.9h-.9zM79.2 694.6h.9v.9h-.9zM60.0 684.2h.9v.9h-.9zM65.2 691.7h.9v.9h-.9zM68.3 686.5h.9v.9h-.9zM73.2 692.6h.9v.9h-.9zM56.4 694.5h.9v.9h-.9zM47.4 693.7h.9v.9h-.9zM51.7 690.7h.9v.9h-.9zM65.1 679.9h.9v.9h-.9zM80.2 690.5h.9v.9h-.9zM43.0 694.9h.9v.9h-.9zM75.0 687.3h.9v.9h-.9zM58.7 694.7h.9v.9h-.9zM60.1 679.1h.9v.9h-.9zM70.2 683.1h.9v.9h-.9zM77.7 692.6h.9v.9h-.9zM50.4 687.0h.9v.9h-.9zM61.6 678.6h.9v.9h-.9zM62.8 680.5h.9v.9h-.9zM49.3 693.0h.9v.9h-.9zM68.3 691.0h.9v.9h-.9zM66.0 682.2h.9v.9h-.9zM70.4 684.7h.9v.9h-.9zM43.6 684.6h.9v.9h-.9zM46.9 692.7h.9v.9h-.9zM68.5 683.2h.9v.9h-.9zM71.4 690.5h.9v.9h-.9zM64.6 681.7h.9v.9h-.9zM60.2 694.4h.9v.9h-.9zM53.5 684.6h.9v.9h-.9zM77.0 686.8h.9v.9h-.9zM57.6 690.5h.9v.9h-.9zM72.7 685.6h.9v.9h-.9zM71.1 693.4h.9v.9h-.9zM60.0 690.9h.9v.9h-.9zM72.1 686.1h.9v.9h-.9zM75.2 685.8h.9v.9h-.9zM62.3 692.8h.9v.9h-.9zM43.5 693.4h.9v.9h-.9zM72.2 687.6h.9v.9h-.9zM55.0 679.2h.9v.9h-.9zM72.1 689.8h.9v.9h-.9zM49.0 693.0h.9v.9h-.9zM43.7 686.6h.9v.9h-.9zM59.8 694.5h.9v.9h-.9zM69.1 680.6h.9v.9h-.9zM45.6 685.5h.9v.9h-.9zM66.1 685.4h.9v.9h-.9zM55.0 679.9h.9v.9h-.9zM50.4 694.9h.9v.9h-.9zM80.0 694.3h.9v.9h-.9zM73.9 683.2h.9v.9h-.9zM44.4 689.3h.9v.9h-.9zM50.5 689.5h.9v.9h-.9zM54.7 682.3h.9v.9h-.9zM75.4 691.5h.9v.9h-.9zM51.8 683.6h.9v.9h-.9zM56.4 680.2h.9v.9h-.9zM56.1 681.9h.9v.9h-.9zM73.8 684.7h.9v.9h-.9zM50.8 688.8h.9v.9h-.9zM75.2 690.6h.9v.9h-.9zM64.2 690.6h.9v.9h-.9zM74.0 692.1h.9v.9h-.9zM65.6 694.5h.9v.9h-.9zM56.2 686.4h.9v.9h-.9zM66.4 687.1h.9v.9h-.9zM78.3 693.1h.9v.9h-.9zM50.5 690.2h.9v.9h-.9zM65.0 684.2h.9v.9h-.9zM47.8 694.3h.9v.9h-.9zM56.4 682.7h.9v.9h-.9zM46.5 683.6h.9v.9h-.9zM58.3 684.4h.9v.9h-.9zM52.7 685.1h.9v.9h-.9zM58.1 685.8h.9v.9h-.9zM65.5 686.5h.9v.9h-.9zM71.9 683.4h.9v.9h-.9zM46.1 685.1h.9v.9h-.9zM77.2 689.6h.9v.9h-.9zM44.6 692.6h.9v.9h-.9zM50.4 682.1h.9v.9h-.9zM52.6 688.4h.9v.9h-.9zM72.8 693.8h.9v.9h-.9zM63.0 691.8h.9v.9h-.9zM44.6 685.8h.9v.9h-.9zM55.6 688.8h.9v.9h-.9zM69.6 690.3h.9v.9h-.9zM71.6 692.1h.9v.9h-.9zM51.1 680.1h.9v.9h-.9zM43.8 691.0h.9v.9h-.9zM66.5 689.8h.9v.9h-.9zM53.2 691.7h.9v.9h-.9zM49.3 684.4h.9v.9h-.9zM55.2 682.4h.9v.9h-.9zM54.5 687.1h.9v.9h-.9zM54.7 689.4h.9v.9h-.9zM57.9 688.7h.9v.9h-.9zM52.1 692.7h.9v.9h-.9zM67.0 679.9h.9v.9h-.9zM48.4 691.2h.9v.9h-.9zM78.0 688.9h.9v.9h-.9zM77.8 693.0h.9v.9h-.9zM54.2 694.7h.9v.9h-.9zM51.7 686.1h.9v.9h-.9zM51.7 689.7h.9v.9h-.9zM57.7 694.4h.9v.9h-.9zM74.8 687.3h.9v.9h-.9zM76.5 688.7h.9v.9h-.9zM62.4 690.9h.9v.9h-.9zM54.3 691.5h.9v.9h-.9zM66.6 689.2h.9v.9h-.9zM69.6 693.2h.9v.9h-.9zM54.1 679.5h.9v.9h-.9zM60.5 679.4h.9v.9h-.9zM53.8 685.9h.9v.9h-.9zM70.6 687.4h.9v.9h-.9zM54.4 680.7h.9v.9h-.9zM51.7 691.7h.9v.9h-.9zM49.8 684.4h.9v.9h-.9zM56.3 682.5h.9v.9h-.9zM55.5 679.3h.9v.9h-.9zM56.2 689.9h.9v.9h-.9zM44.5 691.9h.9v.9h-.9zM55.4 681.5h.9v.9h-.9zM51.8 679.7h.9v.9h-.9zM58.6 691.9h.9v.9h-.9zM65.7 688.6h.9v.9h-.9zM49.2 692.6h.9v.9h-.9zM75.4 689.1h.9v.9h-.9zM44.7 688.0h.9v.9h-.9zM49.7 683.3h.9v.9h-.9zM62.3 686.1h.9v.9h-.9zM56.1 691.8h.9v.9h-.9zM52.1 692.2h.9v.9h-.9zM53.0 689.4h.9v.9h-.9zM48.6 680.2h.9v.9h-.9zM45.5 690.0h.9v.9h-.9zM57.9 690.1h.9v.9h-.9zM54.4 684.9h.9v.9h-.9zM52.1 690.2h.9v.9h-.9zM63.7 683.5h.9v.9h-.9zM60.0 692.8h.9v.9h-.9zM59.7 687.3h.9v.9h-.9zM70.5 690.5h.9v.9h-.9zM59.3 683.7h.9v.9h-.9zM50.3 688.6h.9v.9h-.9zM44.7 691.3h.9v.9h-.9zM43.3 687.3h.9v.9h-.9zM62.0 687.1h.9v.9h-.9zM78.2 692.9h.9v.9h-.9zM49.2 680.9h.9v.9h-.9zM50.7 681.7h.9v.9h-.9zM65.8 681.3h.9v.9h-.9zM45.8 694.3h.9v.9h-.9zM61.3 685.1h.9v.9h-.9zM43.4 691.8h.9v.9h-.9zM72.5 687.5h.9v.9h-.9zM63.1 684.5h.9v.9h-.9zM67.8 680.1h.9v.9h-.9zM54.8 692.2h.9v.9h-.9zM73.5 685.9h.9v.9h-.9zM64.3 682.3h.9v.9h-.9zM59.2 678.4h.9v.9h-.9zM63.0 686.7h.9v.9h-.9zM81.2 693.6h.9v.9h-.9zM45.5 692.4h.9v.9h-.9zM50.7 692.8h.9v.9h-.9zM72.2 687.0h.9v.9h-.9zM62.8 695.0h.9v.9h-.9zM80.8 693.2h.9v.9h-.9zM59.7 683.5h.9v.9h-.9zM56.2 689.4h.9v.9h-.9zM64.8 689.5h.9v.9h-.9zM43.2 685.7h.9v.9h-.9zM72.0 690.7h.9v.9h-.9zM69.0 692.5h.9v.9h-.9zM51.2 679.9h.9v.9h-.9zM52.0 686.8h.9v.9h-.9zM82.1 692.7h.9v.9h-.9zM79.3 694.7h.9v.9h-.9zM55.7 685.5h.9v.9h-.9zM52.5 690.9h.9v.9h-.9zM55.4 684.4h.9v.9h-.9zM66.1 681.0h.9v.9h-.9zM52.7 692.2h.9v.9h-.9zM63.1 687.4h.9v.9h-.9zM47.6 690.9h.9v.9h-.9zM49.3 680.8h.9v.9h-.9zM77.0 691.8h.9v.9h-.9zM74.3 687.9h.9v.9h-.9zM46.1 685.3h.9v.9h-.9zM51.4 685.5h.9v.9h-.9zM70.6 682.2h.9v.9h-.9zM59.5 686.1h.9v.9h-.9zM71.0 687.4h.9v.9h-.9zM60.8 684.4h.9v.9h-.9zM51.6 684.7h.9v.9h-.9zM65.9 687.9h.9v.9h-.9zM59.2 692.3h.9v.9h-.9zM62.0 694.6h.9v.9h-.9zM75.1 690.0h.9v.9h-.9zM49.7 690.2h.9v.9h-.9zM43.0 689.4h.9v.9h-.9zM80.1 689.8h.9v.9h-.9zM70.8 686.9h.9v.9h-.9zM62.7 688.7h.9v.9h-.9zM73.7 690.5h.9v.9h-.9zM69.7 688.1h.9v.9h-.9zM68.2 682.9h.9v.9h-.9zM76.4 687.0h.9v.9h-.9zM61.2 686.4h.9v.9h-.9zM72.7 692.8h.9v.9h-.9zM62.8 691.2h.9v.9h-.9zM61.4 693.6h.9v.9h-.9zM58.0 685.8h.9v.9h-.9zM54.0 678.7h.9v.9h-.9zM49.1 681.9h.9v.9h-.9zM52.0 680.9h.9v.9h-.9zM70.6 681.0h.9v.9h-.9zM70.1 680.7h.9v.9h-.9zM46.5 693.9h.9v.9h-.9zM56.8 679.6h.9v.9h-.9zM68.3 685.0h.9v.9h-.9zM77.5 691.5h.9v.9h-.9zM50.1 692.3h.9v.9h-.9zM64.8 684.9h.9v.9h-.9zM51.2 686.7h.9v.9h-.9zM52.8 683.8h.9v.9h-.9zM44.0 689.5h.9v.9h-.9zM46.0 681.9h.9v.9h-.9zM47.2 690.0h.9v.9h-.9zM52.0 687.2h.9v.9h-.9zM44.3 687.4h.9v.9h-.9zM57.3 694.3h.9v.9h-.9zM51.0 682.0h.9v.9h-.9zM58.8 681.3h.9v.9h-.9zM72.7 684.4h.9v.9h-.9zM68.5 687.9h.9v.9h-.9zM72.8 694.7h.9v.9h-.9zM66.5 690.0h.9v.9h-.9zM77.9 686.7h.9v.9h-.9zM64.0 695.0h.9v.9h-.9zM60.4 685.5h.9v.9h-.9zM75.3 685.0h.9v.9h-.9zM72.4 687.3h.9v.9h-.9zM66.1 680.4h.9v.9h-.9zM77.2 689.5h.9v.9h-.9zM69.8 690.4h.9v.9h-.9zM76.3 693.5h.9v.9h-.9zM49.9 683.8h.9v.9h-.9zM81.2 692.4h.9v.9h-.9zM81.4 694.1h.9v.9h-.9zM57.5 691.9h.9v.9h-.9zM57.5 680.9h.9v.9h-.9zM50.8 688.3h.9v.9h-.9zM74.1 688.2h.9v.9h-.9zM66.9 686.6h.9v.9h-.9zM56.5 688.0h.9v.9h-.9zM79.9 690.4h.9v.9h-.9zM69.7 686.9h.9v.9h-.9zM61.6 683.7h.9v.9h-.9zM74.9 689.0h.9v.9h-.9zM64.0 686.0h.9v.9h-.9zM59.1 683.8h.9v.9h-.9zM44.1 691.5h.9v.9h-.9zM67.2 689.9h.9v.9h-.9zM57.5 686.9h.9v.9h-.9zM59.5 679.1h.9v.9h-.9zM53.6 694.9h.9v.9h-.9zM76.7 692.8h.9v.9h-.9zM74.7 684.1h.9v.9h-.9zM65.6 682.5h.9v.9h-.9zM45.6 694.6h.9v.9h-.9zM46.3 683.5h.9v.9h-.9zM49.2 685.0h.9v.9h-.9zM44.8 685.4h.9v.9h-.9zM44.3 688.2h.9v.9h-.9zM51.5 681.7h.9v.9h-.9zM56.4 682.2h.9v.9h-.9zM46.1 683.5h.9v.9h-.9zM81.2 694.5h.9v.9h-.9zM62.5 687.7h.9v.9h-.9zM63.2 681.8h.9v.9h-.9zM66.7 681.1h.9v.9h-.9zM65.7 681.2h.9v.9h-.9zM76.0 685.0h.9v.9h-.9zM64.4 689.3h.9v.9h-.9zM53.6 679.9h.9v.9h-.9zM60.0 691.1h.9v.9h-.9zM73.6 685.3h.9v.9h-.9zM68.4 681.2h.9v.9h-.9zM65.3 691.3h.9v.9h-.9zM54.3 691.8h.9v.9h-.9zM56.3 686.4h.9v.9h-.9zM48.9 684.2h.9v.9h-.9zM50.8 686.9h.9v.9h-.9zM70.5 689.8h.9v.9h-.9zM71.7 690.5h.9v.9h-.9zM65.8 681.7h.9v.9h-.9zM44.5 687.1h.9v.9h-.9zM71.0 694.8h.9v.9h-.9zM78.5 687.8h.9v.9h-.9zM62.5 686.7h.9v.9h-.9zM56.3 693.2h.9v.9h-.9zM68.5 682.3h.9v.9h-.9zM50.7 687.5h.9v.9h-.9zM45.5 691.0h.9v.9h-.9zM70.9 690.1h.9v.9h-.9zM46.4 692.4h.9v.9h-.9zM62.3 686.0h.9v.9h-.9zM60.7 690.6h.9v.9h-.9zM55.1 683.3h.9v.9h-.9zM59.0 685.4h.9v.9h-.9zM46.5 693.1h.9v.9h-.9zM46.5 692.7h.9v.9h-.9zM53.0 680.8h.9v.9h-.9zM44.6 691.7h.9v.9h-.9zM74.0 681.4h.9v.9h-.9zM65.2 688.0h.9v.9h-.9zM51.3 674.3h.9v.9h-.9zM55.0 675.9h.9v.9h-.9zM67.0 677.2h.9v.9h-.9zM83.3 692.3h.9v.9h-.9zM70.1 694.5h.9v.9h-.9zM57.2 673.8h.9v.9h-.9zM49.9 692.0h.9v.9h-.9zM70.4 692.5h.9v.9h-.9zM64.6 668.5h.9v.9h-.9zM53.2 676.4h.9v.9h-.9zM76.0 664.7h.9v.9h-.9zM81.8 675.5h.9v.9h-.9zM62.9 681.7h.9v.9h-.9zM82.6 683.2h.9v.9h-.9zM56.3 676.7h.9v.9h-.9zM55.8 695.5h.9v.9h-.9zM66.6 680.8h.9v.9h-.9zM67.7 677.5h.9v.9h-.9zM78.8 669.9h.9v.9h-.9zM62.9 684.8h.9v.9h-.9zM83.9 670.0h.9v.9h-.9zM59.2 677.5h.9v.9h-.9zM55.2 679.0h.9v.9h-.9zM81.1 692.2h.9v.9h-.9zM81.8 674.5h.9v.9h-.9zM50.1 680.8h.9v.9h-.9zM78.2 679.0h.9v.9h-.9zM56.4 682.0h.9v.9h-.9zM55.3 684.5h.9v.9h-.9zM67.7 672.4h.9v.9h-.9zM44.6 692.9h.9v.9h-.9zM78.5 685.0h.9v.9h-.9zM62.3 683.7h.9v.9h-.9zM69.0 681.8h.9v.9h-.9zM73.7 678.7h.9v.9h-.9zM51.8 674.1h.9v.9h-.9zM64.7 677.6h.9v.9h-.9zM70.1 685.3h.9v.9h-.9zM49.8 683.8h.9v.9h-.9zM80.8 675.5h.9v.9h-.9zM81.4 669.7h.9v.9h-.9zM68.3 672.4h.9v.9h-.9zM80.8 662.6h.9v.9h-.9zM73.7 678.7h.9v.9h-.9zM61.9 681.5h.9v.9h-.9zM79.9 695.7h.9v.9h-.9zM51.2 675.0h.9v.9h-.9zM68.1 666.6h.9v.9h-.9zM64.6 676.3h.9v.9h-.9zM61.8 693.3h.9v.9h-.9zM69.5 694.6h.9v.9h-.9zM56.9 695.8h.9v.9h-.9zM65.9 684.6h.9v.9h-.9zM73.1 668.3h.9v.9h-.9zM69.0 688.3h.9v.9h-.9zM57.3 685.7h.9v.9h-.9zM57.5 673.0h.9v.9h-.9zM69.7 676.7h.9v.9h-.9zM64.6 680.9h.9v.9h-.9zM77.8 666.1h.9v.9h-.9zM53.5 685.8h.9v.9h-.9zM65.6 672.8h.9v.9h-.9zM66.2 687.3h.9v.9h-.9zM71.5 673.8h.9v.9h-.9zM59.7 670.8h.9v.9h-.9zM47.3 677.6h.9v.9h-.9zM76.2 691.8h.9v.9h-.9zM69.7 676.5h.9v.9h-.9zM60.5 694.7h.9v.9h-.9zM68.1 682.5h.9v.9h-.9zM84.8 668.4h.9v.9h-.9zM75.3 693.6h.9v.9h-.9zM50.7 687.6h.9v.9h-.9zM66.8 695.4h.9v.9h-.9zM76.7 686.3h.9v.9h-.9zM72.9 688.9h.9v.9h-.9zM77.2 667.3h.9v.9h-.9zM57.3 680.6h.9v.9h-.9zM67.6 679.1h.9v.9h-.9zM83.8 695.2h.9v.9h-.9zM81.1 667.7h.9v.9h-.9zM78.8 686.0h.9v.9h-.9zM59.0 687.2h.9v.9h-.9zM76.9 665.4h.9v.9h-.9zM75.3 664.1h.9v.9h-.9zM83.6 664.0h.9v.9h-.9zM78.0 688.1h.9v.9h-.9zM62.1 673.4h.9v.9h-.9zM53.6 693.2h.9v.9h-.9zM62.7 682.3h.9v.9h-.9zM68.2 672.7h.9v.9h-.9zM51.0 681.6h.9v.9h-.9zM79.4 695.3h.9v.9h-.9zM52.3 680.7h.9v.9h-.9zM50.4 691.2h.9v.9h-.9zM77.6 674.3h.9v.9h-.9zM58.2 676.9h.9v.9h-.9zM62.8 690.2h.9v.9h-.9zM85.5 693.2h.9v.9h-.9zM44.1 689.3h.9v.9h-.9zM76.4 684.1h.9v.9h-.9zM79.4 669.5h.9v.9h-.9zM71.3 682.6h.9v.9h-.9zM85.0 689.3h.9v.9h-.9zM74.6 682.8h.9v.9h-.9zM65.1 680.0h.9v.9h-.9zM50.1 678.9h.9v.9h-.9zM49.5 692.0h.9v.9h-.9zM85.9 688.9h.9v.9h-.9zM52.4 683.2h.9v.9h-.9zM70.0 686.5h.9v.9h-.9zM71.2 682.9h.9v.9h-.9zM86.2 687.8h.9v.9h-.9zM70.4 694.0h.9v.9h-.9zM47.7 680.6h.9v.9h-.9zM63.0 689.2h.9v.9h-.9zM76.2 693.6h.9v.9h-.9zM84.8 664.9h.9v.9h-.9zM73.2 693.5h.9v.9h-.9zM47.8 691.4h.9v.9h-.9zM57.8 681.0h.9v.9h-.9zM59.4 675.8h.9v.9h-.9zM75.7 688.6h.9v.9h-.9zM68.7 692.4h.9v.9h-.9zM72.5 679.7h.9v.9h-.9zM54.6 692.8h.9v.9h-.9zM85.4 681.1h.9v.9h-.9zM60.0 687.3h.9v.9h-.9zM74.2 682.8h.9v.9h-.9zM85.7 685.8h.9v.9h-.9zM82.3 690.1h.9v.9h-.9zM43.9 683.4h.9v.9h-.9zM54.2 684.9h.9v.9h-.9zM51.7 674.1h.9v.9h-.9zM50.1 690.1h.9v.9h-.9zM75.3 680.7h.9v.9h-.9zM86.8 688.2h.9v.9h-.9zM65.7 680.8h.9v.9h-.9zM45.4 684.3h.9v.9h-.9zM80.3 670.3h.9v.9h-.9zM56.0 687.6h.9v.9h-.9zM61.5 691.2h.9v.9h-.9zM75.7 665.2h.9v.9h-.9zM73.7 684.0h.9v.9h-.9zM82.1 662.8h.9v.9h-.9zM76.6 690.1h.9v.9h-.9zM73.0 672.2h.9v.9h-.9zM76.9 693.4h.9v.9h-.9zM68.6 682.9h.9v.9h-.9zM70.5 693.6h.9v.9h-.9zM65.3 675.9h.9v.9h-.9zM55.5 694.5h.9v.9h-.9zM47.8 679.0h.9v.9h-.9zM57.4 673.6h.9v.9h-.9zM46.2 684.5h.9v.9h-.9zM45.9 693.1h.9v.9h-.9zM83.2 689.0h.9v.9h-.9zM48.8 676.2h.9v.9h-.9zM80.1 677.2h.9v.9h-.9zM72.7 691.6h.9v.9h-.9zM69.1 688.6h.9v.9h-.9zM81.9 666.3h.9v.9h-.9zM51.6 681.6h.9v.9h-.9zM58.9 671.5h.9v.9h-.9zM52.8 674.1h.9v.9h-.9zM84.9 687.4h.9v.9h-.9zM63.4 685.0h.9v.9h-.9zM53.9 674.7h.9v.9h-.9zM45.8 692.4h.9v.9h-.9zM81.3 690.1h.9v.9h-.9zM62.8 673.8h.9v.9h-.9zM77.1 685.1h.9v.9h-.9zM70.8 693.2h.9v.9h-.9zM70.4 668.3h.9v.9h-.9zM66.3 670.5h.9v.9h-.9zM47.6 683.8h.9v.9h-.9zM49.6 681.5h.9v.9h-.9zM47.9 676.0h.9v.9h-.9zM59.5 673.5h.9v.9h-.9zM61.7 679.1h.9v.9h-.9zM48.0 679.6h.9v.9h-.9zM46.4 685.6h.9v.9h-.9zM43.1 688.5h.9v.9h-.9zM86.3 687.2h.9v.9h-.9zM63.9 677.3h.9v.9h-.9zM77.6 663.8h.9v.9h-.9zM59.2 677.9h.9v.9h-.9zM50.9 677.1h.9v.9h-.9zM70.0 676.4h.9v.9h-.9zM48.7 679.8h.9v.9h-.9zM53.3 681.0h.9v.9h-.9zM57.6 686.2h.9v.9h-.9zM58.4 687.7h.9v.9h-.9zM58.4 688.1h.9v.9h-.9zM77.5 676.0h.9v.9h-.9zM67.0 691.8h.9v.9h-.9zM65.8 692.7h.9v.9h-.9zM60.7 670.0h.9v.9h-.9zM50.2 676.2h.9v.9h-.9zM78.8 675.8h.9v.9h-.9zM53.7 678.5h.9v.9h-.9zM58.2 682.8h.9v.9h-.9zM78.2 670.9h.9v.9h-.9zM53.1 680.9h.9v.9h-.9zM80.3 677.3h.9v.9h-.9zM74.3 687.4h.9v.9h-.9zM72.7 693.8h.9v.9h-.9zM78.2 677.0h.9v.9h-.9zM66.8 687.8h.9v.9h-.9zM65.0 669.4h.9v.9h-.9zM60.6 695.2h.9v.9h-.9zM59.7 673.5h.9v.9h-.9zM54.3 679.0h.9v.9h-.9zM62.2 677.5h.9v.9h-.9zM81.3 673.4h.9v.9h-.9zM80.6 665.1h.9v.9h-.9zM56.3 690.8h.9v.9h-.9zM45.8 685.7h.9v.9h-.9zM48.7 685.6h.9v.9h-.9zM66.5 689.8h.9v.9h-.9zM72.2 675.4h.9v.9h-.9zM63.8 669.7h.9v.9h-.9zM72.1 693.0h.9v.9h-.9zM58.8 674.0h.9v.9h-.9zM51.7 694.5h.9v.9h-.9zM44.0 693.5h.9v.9h-.9zM61.8 676.6h.9v.9h-.9zM66.0 669.4h.9v.9h-.9zM73.3 690.4h.9v.9h-.9zM52.7 679.0h.9v.9h-.9zM54.9 692.5h.9v.9h-.9zM52.5 674.7h.9v.9h-.9zM75.5 678.3h.9v.9h-.9zM79.5 673.4h.9v.9h-.9zM81.4 690.3h.9v.9h-.9zM61.4 693.9h.9v.9h-.9zM56.8 689.8h.9v.9h-.9zM60.3 694.1h.9v.9h-.9zM83.2 674.4h.9v.9h-.9zM55.7 662.6h.9v.9h-.9zM76.1 673.9h.9v.9h-.9zM68.4 685.9h.9v.9h-.9zM48.1 676.3h.9v.9h-.9zM50.0 688.9h.9v.9h-.9zM46.8 668.0h.9v.9h-.9zM59.6 667.7h.9v.9h-.9zM76.2 662.0h.9v.9h-.9zM43.9 689.9h.9v.9h-.9zM83.1 658.8h.9v.9h-.9zM73.2 675.1h.9v.9h-.9zM63.6 675.7h.9v.9h-.9zM77.7 661.1h.9v.9h-.9zM62.0 681.6h.9v.9h-.9zM61.0 695.8h.9v.9h-.9zM52.7 693.9h.9v.9h-.9zM62.4 693.5h.9v.9h-.9zM76.1 697.1h.9v.9h-.9zM57.9 679.1h.9v.9h-.9zM77.4 696.3h.9v.9h-.9zM81.9 688.3h.9v.9h-.9zM83.0 689.1h.9v.9h-.9zM50.8 666.1h.9v.9h-.9zM57.4 689.6h.9v.9h-.9zM83.0 696.7h.9v.9h-.9zM50.6 691.1h.9v.9h-.9zM64.1 664.7h.9v.9h-.9zM82.7 672.7h.9v.9h-.9zM65.0 677.6h.9v.9h-.9z" fill="#23248a" fill-opacity="0.7"/>
<path d="M58.7 682.1h.8v.8h-.8zM62.5 689.0h.8v.8h-.8zM72.4 667.4h.8v.8h-.8zM68.0 669.1h.8v.8h-.8zM68.9 680.1h.8v.8h-.8zM64.1 680.2h.8v.8h-.8zM80.4 662.1h.8v.8h-.8zM63.6 684.8h.8v.8h-.8zM61.4 677.9h.8v.8h-.8zM64.6 676.6h.8v.8h-.8zM64.2 677.3h.8v.8h-.8zM66.0 674.7h.8v.8h-.8zM57.1 678.8h.8v.8h-.8zM77.7 659.7h.8v.8h-.8zM79.4 665.0h.8v.8h-.8zM76.6 667.5h.8v.8h-.8zM72.3 672.7h.8v.8h-.8zM65.5 677.6h.8v.8h-.8zM59.6 682.6h.8v.8h-.8zM74.0 671.9h.8v.8h-.8zM75.2 668.3h.8v.8h-.8zM78.7 661.5h.8v.8h-.8zM82.6 665.9h.8v.8h-.8zM65.8 673.4h.8v.8h-.8zM68.8 673.3h.8v.8h-.8zM64.9 666.9h.8v.8h-.8zM75.3 668.7h.8v.8h-.8zM77.1 662.6h.8v.8h-.8zM78.8 662.5h.8v.8h-.8zM78.1 667.7h.8v.8h-.8zM73.4 677.5h.8v.8h-.8zM64.2 681.4h.8v.8h-.8zM64.0 668.2h.8v.8h-.8zM78.9 669.0h.8v.8h-.8zM74.0 663.0h.8v.8h-.8zM76.6 658.2h.8v.8h-.8zM68.9 677.1h.8v.8h-.8zM56.5 682.7h.8v.8h-.8zM81.9 665.1h.8v.8h-.8zM73.9 671.2h.8v.8h-.8zM78.3 660.3h.8v.8h-.8zM74.2 663.1h.8v.8h-.8zM77.6 671.1h.8v.8h-.8zM69.6 671.3h.8v.8h-.8zM65.4 673.5h.8v.8h-.8zM67.7 670.8h.8v.8h-.8zM79.3 663.3h.8v.8h-.8zM84.7 665.9h.8v.8h-.8zM58.5 684.0h.8v.8h-.8zM80.4 665.4h.8v.8h-.8zM59.9 684.3h.8v.8h-.8zM73.9 664.5h.8v.8h-.8zM74.0 676.4h.8v.8h-.8zM66.1 680.3h.8v.8h-.8zM76.5 667.5h.8v.8h-.8zM80.5 667.4h.8v.8h-.8zM71.5 674.7h.8v.8h-.8zM71.7 667.5h.8v.8h-.8zM70.9 665.5h.8v.8h-.8zM72.5 668.4h.8v.8h-.8zM63.5 675.8h.8v.8h-.8zM61.8 677.0h.8v.8h-.8zM72.8 674.9h.8v.8h-.8zM54.4 677.1h.8v.8h-.8zM58.2 683.3h.8v.8h-.8zM71.7 673.7h.8v.8h-.8zM60.6 684.5h.8v.8h-.8zM69.3 677.4h.8v.8h-.8zM71.1 674.0h.8v.8h-.8zM75.8 672.5h.8v.8h-.8zM72.6 666.3h.8v.8h-.8zM69.6 665.8h.8v.8h-.8zM78.3 665.2h.8v.8h-.8zM67.7 673.8h.8v.8h-.8zM68.3 667.0h.8v.8h-.8zM77.3 667.6h.8v.8h-.8zM83.7 667.8h.8v.8h-.8zM67.2 672.1h.8v.8h-.8zM72.1 671.8h.8v.8h-.8zM70.9 664.6h.8v.8h-.8zM64.2 674.5h.8v.8h-.8zM62.5 684.6h.8v.8h-.8zM72.5 669.4h.8v.8h-.8zM69.9 672.8h.8v.8h-.8zM60.6 669.4h.8v.8h-.8zM60.6 681.9h.8v.8h-.8zM58.9 679.3h.8v.8h-.8zM68.4 673.5h.8v.8h-.8zM80.0 664.4h.8v.8h-.8zM66.1 672.4h.8v.8h-.8zM74.8 672.4h.8v.8h-.8zM82.6 667.7h.8v.8h-.8zM59.1 679.0h.8v.8h-.8zM73.7 662.9h.8v.8h-.8zM74.8 668.6h.8v.8h-.8zM71.7 675.8h.8v.8h-.8zM80.6 661.6h.8v.8h-.8zM82.7 665.3h.8v.8h-.8zM64.4 681.1h.8v.8h-.8zM72.5 670.6h.8v.8h-.8zM64.4 678.1h.8v.8h-.8zM60.7 678.6h.8v.8h-.8zM60.2 668.1h.8v.8h-.8zM70.1 672.0h.8v.8h-.8zM79.9 664.3h.8v.8h-.8zM69.0 668.8h.8v.8h-.8zM74.9 665.2h.8v.8h-.8zM64.9 678.7h.8v.8h-.8zM75.0 671.1h.8v.8h-.8zM55.3 685.8h.8v.8h-.8zM65.4 674.9h.8v.8h-.8zM77.3 665.3h.8v.8h-.8zM66.0 672.6h.8v.8h-.8zM76.3 667.8h.8v.8h-.8zM75.9 670.8h.8v.8h-.8zM77.0 661.8h.8v.8h-.8zM73.8 669.5h.8v.8h-.8zM59.8 673.0h.8v.8h-.8zM61.9 682.2h.8v.8h-.8zM65.6 677.5h.8v.8h-.8zM71.9 671.2h.8v.8h-.8zM66.7 684.8h.8v.8h-.8zM74.1 667.1h.8v.8h-.8zM74.4 664.4h.8v.8h-.8zM74.1 671.8h.8v.8h-.8zM77.0 672.9h.8v.8h-.8zM63.2 682.7h.8v.8h-.8zM73.1 668.2h.8v.8h-.8zM73.2 673.1h.8v.8h-.8zM67.3 665.6h.8v.8h-.8zM76.2 665.6h.8v.8h-.8zM72.9 665.9h.8v.8h-.8zM61.6 687.2h.8v.8h-.8zM72.3 671.3h.8v.8h-.8zM81.9 665.5h.8v.8h-.8zM79.0 665.5h.8v.8h-.8zM74.5 678.5h.8v.8h-.8zM70.8 672.7h.8v.8h-.8zM80.4 665.4h.8v.8h-.8zM76.5 670.6h.8v.8h-.8zM59.7 681.2h.8v.8h-.8zM76.1 668.2h.8v.8h-.8zM78.2 662.7h.8v.8h-.8zM80.2 675.5h.8v.8h-.8zM55.3 680.0h.8v.8h-.8zM68.2 672.3h.8v.8h-.8zM78.4 662.1h.8v.8h-.8zM73.2 669.3h.8v.8h-.8zM70.9 673.8h.8v.8h-.8zM60.4 672.6h.8v.8h-.8zM76.4 666.8h.8v.8h-.8zM71.7 672.4h.8v.8h-.8zM62.1 678.6h.8v.8h-.8zM64.0 676.7h.8v.8h-.8zM57.6 674.8h.8v.8h-.8zM59.4 682.4h.8v.8h-.8zM79.9 663.0h.8v.8h-.8zM59.1 670.7h.8v.8h-.8zM65.9 670.2h.8v.8h-.8zM76.3 661.8h.8v.8h-.8zM61.0 675.2h.8v.8h-.8zM62.5 681.3h.8v.8h-.8zM73.3 665.6h.8v.8h-.8zM59.5 682.5h.8v.8h-.8zM75.6 665.6h.8v.8h-.8zM59.2 678.8h.8v.8h-.8zM74.2 666.6h.8v.8h-.8zM62.3 676.2h.8v.8h-.8zM55.3 680.5h.8v.8h-.8zM67.3 669.0h.8v.8h-.8zM63.6 667.0h.8v.8h-.8zM60.9 668.4h.8v.8h-.8zM73.2 663.9h.8v.8h-.8zM61.8 676.3h.8v.8h-.8zM72.6 666.1h.8v.8h-.8zM62.6 682.4h.8v.8h-.8zM64.3 675.2h.8v.8h-.8zM75.1 662.9h.8v.8h-.8zM79.2 667.9h.8v.8h-.8zM74.9 668.6h.8v.8h-.8zM60.7 674.9h.8v.8h-.8zM69.1 668.1h.8v.8h-.8zM64.8 677.0h.8v.8h-.8zM61.6 679.7h.8v.8h-.8zM81.0 663.7h.8v.8h-.8zM67.1 674.2h.8v.8h-.8zM60.6 682.2h.8v.8h-.8zM70.6 676.8h.8v.8h-.8zM69.1 674.9h.8v.8h-.8zM59.6 684.8h.8v.8h-.8zM82.4 667.7h.8v.8h-.8zM62.1 675.2h.8v.8h-.8zM65.2 674.7h.8v.8h-.8zM75.8 670.5h.8v.8h-.8zM58.6 677.3h.8v.8h-.8zM75.6 669.7h.8v.8h-.8zM73.8 675.0h.8v.8h-.8zM82.2 665.5h.8v.8h-.8zM59.2 684.2h.8v.8h-.8zM63.5 677.7h.8v.8h-.8zM62.9 678.5h.8v.8h-.8zM59.7 674.1h.8v.8h-.8zM73.4 670.2h.8v.8h-.8zM83.2 663.8h.8v.8h-.8zM65.2 681.2h.8v.8h-.8zM70.9 675.7h.8v.8h-.8zM68.3 674.2h.8v.8h-.8zM65.1 674.0h.8v.8h-.8zM73.2 664.6h.8v.8h-.8zM62.4 674.4h.8v.8h-.8zM76.3 675.4h.8v.8h-.8zM71.4 666.5h.8v.8h-.8zM79.0 658.6h.8v.8h-.8zM62.1 676.5h.8v.8h-.8zM64.5 676.1h.8v.8h-.8zM69.7 675.0h.8v.8h-.8zM63.4 682.2h.8v.8h-.8zM80.3 662.9h.8v.8h-.8zM60.9 680.8h.8v.8h-.8zM76.4 659.9h.8v.8h-.8zM69.2 681.1h.8v.8h-.8zM62.7 671.0h.8v.8h-.8zM65.1 671.3h.8v.8h-.8zM57.5 682.2h.8v.8h-.8zM75.6 666.6h.8v.8h-.8zM68.1 673.7h.8v.8h-.8zM74.1 672.3h.8v.8h-.8zM71.8 668.1h.8v.8h-.8zM63.9 677.0h.8v.8h-.8zM77.3 663.1h.8v.8h-.8zM81.2 675.0h.8v.8h-.8zM67.6 663.2h.8v.8h-.8zM73.5 663.5h.8v.8h-.8zM72.6 672.1h.8v.8h-.8zM55.2 679.8h.8v.8h-.8zM76.0 671.2h.8v.8h-.8zM58.7 680.1h.8v.8h-.8zM69.3 668.4h.8v.8h-.8zM71.5 674.3h.8v.8h-.8zM72.9 664.0h.8v.8h-.8zM67.5 670.4h.8v.8h-.8zM81.7 669.4h.8v.8h-.8zM63.9 683.4h.8v.8h-.8zM76.6 672.9h.8v.8h-.8zM76.0 666.1h.8v.8h-.8zM76.0 667.1h.8v.8h-.8zM62.3 682.2h.8v.8h-.8zM71.4 669.1h.8v.8h-.8zM85.8 668.5h.8v.8h-.8zM81.3 660.8h.8v.8h-.8zM57.1 680.8h.8v.8h-.8zM59.7 675.6h.8v.8h-.8zM67.2 672.1h.8v.8h-.8zM73.5 671.9h.8v.8h-.8zM61.4 686.5h.8v.8h-.8zM70.4 668.9h.8v.8h-.8zM62.9 678.4h.8v.8h-.8zM63.9 674.4h.8v.8h-.8zM75.8 665.1h.8v.8h-.8zM77.0 666.7h.8v.8h-.8zM67.8 673.1h.8v.8h-.8zM53.8 680.2h.8v.8h-.8zM57.0 677.7h.8v.8h-.8zM66.2 676.0h.8v.8h-.8zM70.5 660.1h.8v.8h-.8zM63.4 675.8h.8v.8h-.8zM72.4 668.9h.8v.8h-.8zM76.8 663.5h.8v.8h-.8zM75.8 666.0h.8v.8h-.8zM64.3 679.5h.8v.8h-.8zM69.6 672.4h.8v.8h-.8zM73.1 668.1h.8v.8h-.8zM63.5 671.6h.8v.8h-.8zM77.4 661.2h.8v.8h-.8zM69.4 668.1h.8v.8h-.8zM56.4 677.4h.8v.8h-.8zM75.0 671.1h.8v.8h-.8zM63.6 679.4h.8v.8h-.8zM75.9 662.8h.8v.8h-.8zM77.5 665.1h.8v.8h-.8zM81.7 667.7h.8v.8h-.8zM57.0 680.6h.8v.8h-.8zM69.0 669.8h.8v.8h-.8zM59.5 674.4h.8v.8h-.8zM80.9 665.8h.8v.8h-.8zM74.4 658.3h.8v.8h-.8zM70.1 670.4h.8v.8h-.8zM75.7 661.9h.8v.8h-.8zM75.4 665.4h.8v.8h-.8zM80.7 664.1h.8v.8h-.8zM71.1 667.1h.8v.8h-.8zM63.0 685.3h.8v.8h-.8zM67.7 669.8h.8v.8h-.8zM82.9 664.6h.8v.8h-.8zM65.5 668.7h.8v.8h-.8zM68.1 670.6h.8v.8h-.8zM67.2 668.2h.8v.8h-.8zM77.9 671.2h.8v.8h-.8zM69.0 675.4h.8v.8h-.8zM77.8 667.1h.8v.8h-.8zM71.9 664.5h.8v.8h-.8zM84.9 666.0h.8v.8h-.8zM72.8 673.5h.8v.8h-.8zM76.3 664.6h.8v.8h-.8zM67.3 679.8h.8v.8h-.8zM64.6 677.3h.8v.8h-.8zM60.8 672.1h.8v.8h-.8zM82.0 663.1h.8v.8h-.8zM64.4 672.0h.8v.8h-.8zM60.6 675.8h.8v.8h-.8zM64.7 681.6h.8v.8h-.8zM79.5 666.1h.8v.8h-.8zM55.2 682.1h.8v.8h-.8zM61.3 674.1h.8v.8h-.8zM71.0 668.8h.8v.8h-.8zM66.7 670.7h.8v.8h-.8zM66.5 668.8h.8v.8h-.8zM63.5 681.6h.8v.8h-.8zM58.0 684.6h.8v.8h-.8zM77.3 659.3h.8v.8h-.8zM70.8 668.3h.8v.8h-.8zM61.9 686.3h.8v.8h-.8zM58.8 675.7h.8v.8h-.8zM78.9 663.5h.8v.8h-.8zM62.9 678.3h.8v.8h-.8zM71.9 666.5h.8v.8h-.8zM74.4 666.5h.8v.8h-.8zM64.1 689.4h.8v.8h-.8zM66.8 673.3h.8v.8h-.8zM73.2 671.3h.8v.8h-.8zM66.4 666.9h.8v.8h-.8zM58.7 683.4h.8v.8h-.8zM74.2 661.9h.8v.8h-.8zM78.8 666.6h.8v.8h-.8zM61.7 687.6h.8v.8h-.8zM72.8 660.3h.8v.8h-.8zM74.6 669.7h.8v.8h-.8zM69.5 667.5h.8v.8h-.8zM72.8 675.7h.8v.8h-.8zM62.1 677.8h.8v.8h-.8zM76.5 662.2h.8v.8h-.8zM65.3 674.7h.8v.8h-.8zM82.7 672.5h.8v.8h-.8zM76.6 675.2h.8v.8h-.8zM72.6 661.5h.8v.8h-.8zM59.0 676.2h.8v.8h-.8zM73.7 668.7h.8v.8h-.8zM75.3 664.2h.8v.8h-.8zM75.1 670.8h.8v.8h-.8zM66.6 665.7h.8v.8h-.8zM71.3 677.2h.8v.8h-.8zM71.7 669.9h.8v.8h-.8zM63.4 671.8h.8v.8h-.8zM67.4 683.2h.8v.8h-.8zM78.2 675.7h.8v.8h-.8zM63.0 683.9h.8v.8h-.8zM71.5 676.1h.8v.8h-.8zM61.7 676.9h.8v.8h-.8zM62.7 674.2h.8v.8h-.8zM73.3 667.4h.8v.8h-.8zM61.3 681.2h.8v.8h-.8zM66.3 673.1h.8v.8h-.8zM79.5 661.9h.8v.8h-.8zM71.6 662.2h.8v.8h-.8zM65.7 671.8h.8v.8h-.8zM73.1 667.2h.8v.8h-.8zM77.6 666.5h.8v.8h-.8zM63.2 676.7h.8v.8h-.8zM64.2 676.0h.8v.8h-.8zM73.2 669.7h.8v.8h-.8zM63.0 678.8h.8v.8h-.8zM77.2 663.6h.8v.8h-.8zM70.1 664.1h.8v.8h-.8zM70.3 663.6h.8v.8h-.8zM72.7 669.4h.8v.8h-.8zM66.7 677.7h.8v.8h-.8zM54.1 682.3h.8v.8h-.8zM80.7 666.5h.8v.8h-.8zM72.8 663.2h.8v.8h-.8zM80.7 664.0h.8v.8h-.8zM68.1 674.7h.8v.8h-.8zM74.6 667.9h.8v.8h-.8zM67.2 669.8h.8v.8h-.8zM66.2 670.7h.8v.8h-.8zM80.2 663.9h.8v.8h-.8zM55.8 674.9h.8v.8h-.8zM69.2 674.9h.8v.8h-.8zM61.4 670.0h.8v.8h-.8zM71.8 670.2h.8v.8h-.8zM78.0 662.8h.8v.8h-.8zM68.0 667.9h.8v.8h-.8zM77.6 666.3h.8v.8h-.8zM77.1 670.7h.8v.8h-.8zM71.0 679.3h.8v.8h-.8zM62.9 667.4h.8v.8h-.8zM71.3 666.8h.8v.8h-.8zM81.1 662.5h.8v.8h-.8zM61.4 681.6h.8v.8h-.8zM79.7 667.3h.8v.8h-.8zM62.5 678.2h.8v.8h-.8zM74.9 667.3h.8v.8h-.8zM64.5 674.1h.8v.8h-.8zM78.8 668.3h.8v.8h-.8zM80.7 690.6h.8v.8h-.8zM51.5 685.1h.8v.8h-.8zM71.5 687.1h.8v.8h-.8zM52.4 680.5h.8v.8h-.8zM60.4 690.0h.8v.8h-.8zM71.5 694.3h.8v.8h-.8zM68.7 688.9h.8v.8h-.8zM78.7 691.5h.8v.8h-.8zM51.1 686.7h.8v.8h-.8zM55.1 685.9h.8v.8h-.8zM64.9 681.4h.8v.8h-.8zM57.6 681.8h.8v.8h-.8zM72.3 688.0h.8v.8h-.8zM64.3 681.5h.8v.8h-.8zM45.8 689.5h.8v.8h-.8zM80.2 694.5h.8v.8h-.8zM53.5 692.6h.8v.8h-.8zM43.0 692.0h.8v.8h-.8zM45.5 693.8h.8v.8h-.8zM56.7 691.5h.8v.8h-.8zM65.0 681.6h.8v.8h-.8zM44.1 688.3h.8v.8h-.8zM81.4 694.6h.8v.8h-.8zM53.2 684.0h.8v.8h-.8zM72.9 695.1h.8v.8h-.8zM54.7 687.2h.8v.8h-.8zM46.7 690.0h.8v.8h-.8zM78.6 693.7h.8v.8h-.8zM67.8 689.0h.8v.8h-.8zM76.5 692.6h.8v.8h-.8zM48.9 685.9h.8v.8h-.8zM44.1 693.5h.8v.8h-.8zM45.6 689.6h.8v.8h-.8zM46.3 684.4h.8v.8h-.8zM76.0 687.5h.8v.8h-.8zM70.0 688.8h.8v.8h-.8zM61.0 693.0h.8v.8h-.8zM44.1 692.2h.8v.8h-.8zM55.1 691.3h.8v.8h-.8zM53.7 693.5h.8v.8h-.8zM67.4 681.2h.8v.8h-.8zM47.1 691.6h.8v.8h-.8zM65.9 686.5h.8v.8h-.8zM68.3 687.2h.8v.8h-.8zM66.1 680.8h.8v.8h-.8zM55.2 687.6h.8v.8h-.8zM46.5 680.7h.8v.8h-.8zM51.9 690.8h.8v.8h-.8zM68.8 687.1h.8v.8h-.8zM75.8 684.8h.8v.8h-.8zM46.7 689.6h.8v.8h-.8zM47.7 686.9h.8v.8h-.8zM62.7 687.2h.8v.8h-.8zM63.4 681.9h.8v.8h-.8zM49.6 680.7h.8v.8h-.8zM68.2 681.5h.8v.8h-.8zM53.6 690.4h.8v.8h-.8zM67.2 686.6h.8v.8h-.8zM56.1 685.9h.8v.8h-.8zM53.0 683.5h.8v.8h-.8zM63.0 678.3h.8v.8h-.8zM51.3 685.9h.8v.8h-.8zM53.0 679.8h.8v.8h-.8zM64.1 689.9h.8v.8h-.8zM52.4 689.9h.8v.8h-.8zM64.3 679.7h.8v.8h-.8zM46.5 689.0h.8v.8h-.8zM75.1 685.0h.8v.8h-.8zM75.2 685.9h.8v.8h-.8zM71.8 682.4h.8v.8h-.8zM65.0 683.2h.8v.8h-.8zM68.0 684.7h.8v.8h-.8zM71.6 684.6h.8v.8h-.8zM75.8 687.1h.8v.8h-.8zM64.2 692.1h.8v.8h-.8zM50.8 686.6h.8v.8h-.8zM78.3 686.7h.8v.8h-.8zM77.7 691.5h.8v.8h-.8zM68.6 687.1h.8v.8h-.8zM61.7 684.7h.8v.8h-.8zM61.7 685.0h.8v.8h-.8zM45.8 682.1h.8v.8h-.8zM46.9 683.7h.8v.8h-.8zM55.0 689.4h.8v.8h-.8zM67.5 690.4h.8v.8h-.8zM73.2 687.5h.8v.8h-.8zM65.0 690.9h.8v.8h-.8zM59.8 694.1h.8v.8h-.8zM59.1 683.7h.8v.8h-.8zM49.6 684.1h.8v.8h-.8zM58.2 682.7h.8v.8h-.8zM60.7 685.8h.8v.8h-.8zM65.6 679.2h.8v.8h-.8zM68.2 685.7h.8v.8h-.8zM55.1 683.9h.8v.8h-.8zM60.9 686.6h.8v.8h-.8zM68.5 690.8h.8v.8h-.8zM62.6 681.5h.8v.8h-.8zM66.3 690.8h.8v.8h-.8zM68.7 685.9h.8v.8h-.8zM50.5 686.3h.8v.8h-.8zM62.2 679.4h.8v.8h-.8zM70.0 689.4h.8v.8h-.8zM60.7 685.2h.8v.8h-.8zM45.8 690.7h.8v.8h-.8zM74.3 688.1h.8v.8h-.8zM50.3 692.1h.8v.8h-.8zM44.5 684.4h.8v.8h-.8zM78.7 688.7h.8v.8h-.8zM46.1 693.2h.8v.8h-.8zM77.8 691.3h.8v.8h-.8zM62.3 685.0h.8v.8h-.8zM67.6 694.9h.8v.8h-.8zM66.3 690.6h.8v.8h-.8zM45.2 691.8h.8v.8h-.8zM45.9 687.3h.8v.8h-.8zM65.2 694.3h.8v.8h-.8zM65.2 682.9h.8v.8h-.8zM62.8 689.0h.8v.8h-.8zM82.5 694.4h.8v.8h-.8zM75.5 686.2h.8v.8h-.8zM66.7 679.5h.8v.8h-.8zM57.6 678.9h.8v.8h-.8zM68.1 692.5h.8v.8h-.8zM57.7 694.7h.8v.8h-.8zM69.0 680.0h.8v.8h-.8zM48.7 686.3h.8v.8h-.8zM50.7 679.7h.8v.8h-.8zM48.9 680.5h.8v.8h-.8zM68.3 680.9h.8v.8h-.8zM44.1 690.0h.8v.8h-.8zM68.8 688.6h.8v.8h-.8zM66.1 680.8h.8v.8h-.8zM46.5 693.6h.8v.8h-.8zM58.1 682.3h.8v.8h-.8zM63.9 692.1h.8v.8h-.8zM47.7 690.5h.8v.8h-.8zM76.9 688.1h.8v.8h-.8zM68.7 688.4h.8v.8h-.8zM61.2 692.4h.8v.8h-.8zM51.8 680.7h.8v.8h-.8zM55.2 682.2h.8v.8h-.8zM80.9 691.9h.8v.8h-.8zM66.9 682.6h.8v.8h-.8zM48.1 686.4h.8v.8h-.8zM65.4 692.3h.8v.8h-.8zM75.4 690.8h.8v.8h-.8zM58.2 693.0h.8v.8h-.8zM54.2 686.5h.8v.8h-.8zM45.3 691.5h.8v.8h-.8zM65.8 689.2h.8v.8h-.8zM60.6 692.8h.8v.8h-.8zM61.3 692.4h.8v.8h-.8zM53.6 684.3h.8v.8h-.8zM51.2 687.6h.8v.8h-.8zM54.0 679.7h.8v.8h-.8zM57.0 684.7h.8v.8h-.8zM48.3 693.6h.8v.8h-.8zM51.7 682.5h.8v.8h-.8zM50.2 693.1h.8v.8h-.8zM73.8 683.2h.8v.8h-.8zM75.3 686.9h.8v.8h-.8zM59.5 693.1h.8v.8h-.8zM60.8 687.7h.8v.8h-.8zM76.1 690.5h.8v.8h-.8zM75.8 695.0h.8v.8h-.8zM75.7 690.4h.8v.8h-.8zM56.9 684.9h.8v.8h-.8zM73.3 690.2h.8v.8h-.8zM51.1 684.3h.8v.8h-.8zM46.3 686.8h.8v.8h-.8zM71.8 688.3h.8v.8h-.8zM60.1 694.2h.8v.8h-.8zM46.9 687.2h.8v.8h-.8zM73.5 683.2h.8v.8h-.8zM51.6 688.5h.8v.8h-.8zM70.4 688.7h.8v.8h-.8zM58.4 694.4h.8v.8h-.8zM73.6 688.1h.8v.8h-.8zM72.1 685.8h.8v.8h-.8zM75.7 689.5h.8v.8h-.8zM57.4 685.6h.8v.8h-.8zM49.1 689.1h.8v.8h-.8zM73.7 694.8h.8v.8h-.8zM56.3 682.2h.8v.8h-.8zM52.0 689.3h.8v.8h-.8zM54.9 684.1h.8v.8h-.8zM71.4 693.2h.8v.8h-.8zM78.6 691.2h.8v.8h-.8zM70.5 688.6h.8v.8h-.8zM72.3 687.1h.8v.8h-.8zM60.2 680.8h.8v.8h-.8zM74.1 683.2h.8v.8h-.8zM45.8 685.5h.8v.8h-.8zM66.2 689.9h.8v.8h-.8zM59.8 686.5h.8v.8h-.8zM77.6 689.7h.8v.8h-.8zM59.2 693.7h.8v.8h-.8zM64.0 688.8h.8v.8h-.8zM50.4 687.5h.8v.8h-.8zM51.2 683.7h.8v.8h-.8zM67.0 689.1h.8v.8h-.8zM74.4 687.2h.8v.8h-.8zM76.5 687.0h.8v.8h-.8zM67.7 684.5h.8v.8h-.8zM81.0 692.8h.8v.8h-.8zM50.4 694.1h.8v.8h-.8zM69.4 694.5h.8v.8h-.8zM54.7 687.4h.8v.8h-.8zM79.2 688.9h.8v.8h-.8zM70.1 691.3h.8v.8h-.8zM59.3 684.7h.8v.8h-.8zM74.5 694.5h.8v.8h-.8zM48.4 688.4h.8v.8h-.8zM65.4 686.3h.8v.8h-.8zM68.8 691.6h.8v.8h-.8zM53.5 688.8h.8v.8h-.8zM48.4 694.4h.8v.8h-.8zM61.5 687.7h.8v.8h-.8zM58.1 686.6h.8v.8h-.8zM62.8 685.5h.8v.8h-.8zM50.6 686.5h.8v.8h-.8zM67.1 687.6h.8v.8h-.8zM55.6 687.0h.8v.8h-.8zM65.7 690.7h.8v.8h-.8zM47.7 685.3h.8v.8h-.8zM79.0 691.3h.8v.8h-.8zM63.9 682.2h.8v.8h-.8zM64.1 683.8h.8v.8h-.8zM74.8 689.3h.8v.8h-.8zM53.9 682.0h.8v.8h-.8zM67.8 687.8h.8v.8h-.8zM47.4 680.9h.8v.8h-.8zM73.9 690.9h.8v.8h-.8zM51.8 687.4h.8v.8h-.8zM72.5 693.7h.8v.8h-.8zM66.0 686.2h.8v.8h-.8zM60.0 687.4h.8v.8h-.8zM64.3 682.1h.8v.8h-.8zM64.8 684.6h.8v.8h-.8zM65.4 683.4h.8v.8h-.8zM62.1 681.5h.8v.8h-.8zM61.6 681.4h.8v.8h-.8zM44.0 689.4h.8v.8h-.8zM66.0 681.9h.8v.8h-.8zM64.2 681.6h.8v.8h-.8zM70.5 681.3h.8v.8h-.8zM43.5 684.0h.8v.8h-.8zM43.3 694.2h.8v.8h-.8zM54.0 689.1h.8v.8h-.8zM47.8 681.0h.8v.8h-.8zM70.7 685.5h.8v.8h-.8zM73.9 684.1h.8v.8h-.8zM58.8 693.7h.8v.8h-.8zM57.9 681.0h.8v.8h-.8zM70.3 683.7h.8v.8h-.8zM78.6 690.5h.8v.8h-.8zM48.0 686.6h.8v.8h-.8zM57.6 683.4h.8v.8h-.8zM60.6 693.9h.8v.8h-.8zM58.0 692.7h.8v.8h-.8zM56.7 683.5h.8v.8h-.8zM53.6 693.9h.8v.8h-.8zM62.3 694.9h.8v.8h-.8zM56.9 695.1h.8v.8h-.8zM50.3 691.0h.8v.8h-.8zM44.9 686.5h.8v.8h-.8zM55.3 679.1h.8v.8h-.8zM50.5 686.1h.8v.8h-.8zM64.0 686.1h.8v.8h-.8zM48.5 681.5h.8v.8h-.8zM47.7 687.7h.8v.8h-.8zM50.3 683.3h.8v.8h-.8zM74.0 689.1h.8v.8h-.8zM49.3 688.6h.8v.8h-.8zM45.8 693.2h.8v.8h-.8zM43.1 686.6h.8v.8h-.8zM44.1 689.7h.8v.8h-.8zM56.5 680.3h.8v.8h-.8zM66.4 686.0h.8v.8h-.8zM61.8 679.6h.8v.8h-.8zM49.8 683.3h.8v.8h-.8zM69.4 681.3h.8v.8h-.8zM70.0 690.5h.8v.8h-.8zM50.6 686.6h.8v.8h-.8zM50.2 685.5h.8v.8h-.8zM64.8 679.6h.8v.8h-.8zM64.8 681.5h.8v.8h-.8zM71.9 689.2h.8v.8h-.8zM55.5 682.7h.8v.8h-.8zM57.7 680.7h.8v.8h-.8zM78.0 691.4h.8v.8h-.8zM47.7 689.5h.8v.8h-.8zM45.3 688.5h.8v.8h-.8zM77.7 690.4h.8v.8h-.8zM57.6 681.5h.8v.8h-.8zM75.1 688.7h.8v.8h-.8zM74.7 693.5h.8v.8h-.8zM49.8 688.9h.8v.8h-.8zM50.9 691.8h.8v.8h-.8zM78.2 693.9h.8v.8h-.8zM56.8 691.8h.8v.8h-.8zM49.6 693.5h.8v.8h-.8zM62.2 685.5h.8v.8h-.8zM63.3 685.2h.8v.8h-.8zM55.2 681.6h.8v.8h-.8zM68.6 686.0h.8v.8h-.8zM53.9 682.2h.8v.8h-.8zM54.0 683.2h.8v.8h-.8zM55.3 693.0h.8v.8h-.8zM47.9 683.7h.8v.8h-.8zM74.2 694.6h.8v.8h-.8zM61.5 692.2h.8v.8h-.8zM65.5 684.7h.8v.8h-.8zM70.8 688.5h.8v.8h-.8zM75.6 693.3h.8v.8h-.8zM59.7 689.3h.8v.8h-.8zM43.4 694.9h.8v.8h-.8zM71.8 683.3h.8v.8h-.8zM50.4 686.4h.8v.8h-.8zM65.5 680.5h.8v.8h-.8zM49.1 680.9h.8v.8h-.8zM70.5 691.0h.8v.8h-.8zM64.0 687.1h.8v.8h-.8zM56.4 687.7h.8v.8h-.8zM52.2 689.1h.8v.8h-.8zM56.7 686.5h.8v.8h-.8zM46.0 694.9h.8v.8h-.8zM64.8 681.8h.8v.8h-.8zM73.6 687.0h.8v.8h-.8zM45.8 687.3h.8v.8h-.8zM62.8 684.9h.8v.8h-.8zM77.1 690.3h.8v.8h-.8zM62.8 682.1h.8v.8h-.8zM75.4 684.1h.8v.8h-.8zM50.0 682.4h.8v.8h-.8zM63.5 685.8h.8v.8h-.8zM55.1 679.5h.8v.8h-.8zM44.6 691.0h.8v.8h-.8zM80.5 694.7h.8v.8h-.8zM61.0 690.8h.8v.8h-.8zM54.7 681.2h.8v.8h-.8zM52.1 680.2h.8v.8h-.8zM71.2 691.0h.8v.8h-.8zM77.2 693.0h.8v.8h-.8zM49.5 693.6h.8v.8h-.8zM60.2 690.0h.8v.8h-.8zM65.5 689.3h.8v.8h-.8zM45.0 689.6h.8v.8h-.8zM63.6 688.6h.8v.8h-.8zM47.7 689.1h.8v.8h-.8zM67.4 686.7h.8v.8h-.8zM63.3 691.5h.8v.8h-.8zM63.7 688.0h.8v.8h-.8zM76.1 694.3h.8v.8h-.8zM57.1 688.1h.8v.8h-.8zM69.7 689.9h.8v.8h-.8zM63.7 685.1h.8v.8h-.8zM47.6 686.1h.8v.8h-.8zM69.6 686.9h.8v.8h-.8zM69.6 692.0h.8v.8h-.8zM80.5 692.5h.8v.8h-.8zM46.0 694.2h.8v.8h-.8zM67.2 690.3h.8v.8h-.8zM43.1 686.2h.8v.8h-.8zM74.8 688.6h.8v.8h-.8zM55.4 694.2h.8v.8h-.8zM57.1 684.9h.8v.8h-.8zM79.6 693.3h.8v.8h-.8zM75.9 691.1h.8v.8h-.8zM45.4 688.4h.8v.8h-.8zM56.7 678.7h.8v.8h-.8zM43.0 693.8h.8v.8h-.8zM51.8 686.4h.8v.8h-.8zM52.6 688.8h.8v.8h-.8zM44.7 683.2h.8v.8h-.8zM56.8 691.0h.8v.8h-.8zM52.6 691.2h.8v.8h-.8zM76.0 692.0h.8v.8h-.8zM72.0 692.5h.8v.8h-.8zM66.6 693.2h.8v.8h-.8zM68.8 681.8h.8v.8h-.8zM66.7 680.3h.8v.8h-.8zM63.5 672.8h.8v.8h-.8zM52.7 688.1h.8v.8h-.8zM60.2 674.0h.8v.8h-.8zM57.6 691.3h.8v.8h-.8zM79.0 690.9h.8v.8h-.8zM65.4 673.4h.8v.8h-.8zM48.3 680.3h.8v.8h-.8zM54.6 690.1h.8v.8h-.8zM58.4 684.5h.8v.8h-.8zM79.5 689.2h.8v.8h-.8zM78.5 665.4h.8v.8h-.8zM72.2 692.4h.8v.8h-.8zM53.0 694.8h.8v.8h-.8zM63.5 689.9h.8v.8h-.8zM68.4 666.9h.8v.8h-.8zM59.0 694.7h.8v.8h-.8zM84.7 672.6h.8v.8h-.8zM77.8 675.6h.8v.8h-.8zM70.8 665.3h.8v.8h-.8zM74.6 687.1h.8v.8h-.8zM60.7 685.1h.8v.8h-.8zM78.3 667.3h.8v.8h-.8zM43.7 687.4h.8v.8h-.8zM81.6 662.4h.8v.8h-.8zM55.9 690.5h.8v.8h-.8zM87.7 695.2h.8v.8h-.8zM68.4 690.3h.8v.8h-.8zM76.6 688.2h.8v.8h-.8zM66.7 668.3h.8v.8h-.8zM63.5 688.0h.8v.8h-.8zM59.0 694.2h.8v.8h-.8zM59.9 695.5h.8v.8h-.8zM67.5 688.9h.8v.8h-.8zM78.8 671.7h.8v.8h-.8zM85.5 692.6h.8v.8h-.8zM57.2 672.2h.8v.8h-.8zM58.5 673.2h.8v.8h-.8zM58.2 686.3h.8v.8h-.8zM78.7 673.2h.8v.8h-.8zM67.1 691.8h.8v.8h-.8zM61.4 683.8h.8v.8h-.8zM65.2 685.9h.8v.8h-.8zM77.8 668.6h.8v.8h-.8zM54.2 682.2h.8v.8h-.8zM79.1 691.1h.8v.8h-.8zM71.7 667.9h.8v.8h-.8zM57.7 688.8h.8v.8h-.8zM75.0 666.3h.8v.8h-.8zM61.9 672.9h.8v.8h-.8zM74.3 695.2h.8v.8h-.8zM81.3 676.0h.8v.8h-.8zM72.9 678.0h.8v.8h-.8zM75.4 676.4h.8v.8h-.8zM81.7 682.1h.8v.8h-.8zM55.3 675.9h.8v.8h-.8zM47.7 684.6h.8v.8h-.8zM84.4 685.1h.8v.8h-.8zM68.1 676.7h.8v.8h-.8zM84.7 682.3h.8v.8h-.8zM57.8 692.2h.8v.8h-.8zM73.6 675.9h.8v.8h-.8zM48.3 691.1h.8v.8h-.8zM67.2 669.8h.8v.8h-.8zM78.6 686.0h.8v.8h-.8zM52.4 693.7h.8v.8h-.8zM67.4 667.7h.8v.8h-.8zM53.7 683.0h.8v.8h-.8zM49.9 677.6h.8v.8h-.8zM72.6 684.3h.8v.8h-.8zM77.1 676.7h.8v.8h-.8zM85.0 684.8h.8v.8h-.8zM55.5 676.2h.8v.8h-.8zM60.7 677.2h.8v.8h-.8zM68.1 690.1h.8v.8h-.8zM68.8 679.2h.8v.8h-.8zM59.6 670.4h.8v.8h-.8zM86.5 691.9h.8v.8h-.8zM72.1 694.0h.8v.8h-.8zM71.7 670.9h.8v.8h-.8zM70.0 682.0h.8v.8h-.8zM60.5 687.4h.8v.8h-.8zM56.0 682.9h.8v.8h-.8zM79.1 689.3h.8v.8h-.8zM68.1 686.9h.8v.8h-.8zM51.8 676.2h.8v.8h-.8zM74.2 678.1h.8v.8h-.8zM77.4 681.1h.8v.8h-.8zM78.3 667.9h.8v.8h-.8zM47.2 692.1h.8v.8h-.8zM47.7 691.1h.8v.8h-.8zM47.4 683.0h.8v.8h-.8zM67.4 670.7h.8v.8h-.8zM72.8 685.9h.8v.8h-.8zM85.1 684.9h.8v.8h-.8zM47.9 687.4h.8v.8h-.8zM62.4 688.7h.8v.8h-.8zM50.7 679.5h.8v.8h-.8zM59.7 685.4h.8v.8h-.8zM72.5 682.2h.8v.8h-.8zM64.2 678.6h.8v.8h-.8zM46.6 694.3h.8v.8h-.8zM79.9 694.2h.8v.8h-.8zM59.8 676.9h.8v.8h-.8zM81.5 678.2h.8v.8h-.8zM56.9 673.3h.8v.8h-.8zM84.7 689.2h.8v.8h-.8zM72.5 688.1h.8v.8h-.8zM82.5 693.5h.8v.8h-.8zM79.6 688.6h.8v.8h-.8zM71.9 687.8h.8v.8h-.8zM62.7 683.5h.8v.8h-.8zM57.3 694.5h.8v.8h-.8zM55.8 682.9h.8v.8h-.8zM69.3 691.9h.8v.8h-.8zM65.6 688.7h.8v.8h-.8zM73.7 688.4h.8v.8h-.8zM52.1 686.1h.8v.8h-.8zM62.6 675.2h.8v.8h-.8zM50.0 688.6h.8v.8h-.8zM76.0 678.6h.8v.8h-.8zM70.8 679.0h.8v.8h-.8zM86.4 691.2h.8v.8h-.8zM65.4 680.7h.8v.8h-.8zM85.2 691.6h.8v.8h-.8zM63.1 673.2h.8v.8h-.8zM47.7 689.8h.8v.8h-.8zM51.9 685.6h.8v.8h-.8zM68.0 691.6h.8v.8h-.8zM61.5 672.2h.8v.8h-.8zM68.2 691.6h.8v.8h-.8zM53.4 691.5h.8v.8h-.8zM69.0 671.5h.8v.8h-.8zM67.2 669.0h.8v.8h-.8zM76.5 679.8h.8v.8h-.8zM49.6 694.0h.8v.8h-.8zM80.0 674.1h.8v.8h-.8zM83.1 663.7h.8v.8h-.8zM58.6 671.4h.8v.8h-.8zM52.6 668.4h.8v.8h-.8zM66.1 683.1h.8v.8h-.8zM77.7 666.9h.8v.8h-.8zM45.6 660.0h.8v.8h-.8zM70.9 680.5h.8v.8h-.8zM55.3 676.8h.8v.8h-.8zM43.7 689.6h.8v.8h-.8zM47.6 668.6h.8v.8h-.8zM49.0 677.5h.8v.8h-.8zM79.3 676.6h.8v.8h-.8zM79.8 667.1h.8v.8h-.8zM70.9 685.6h.8v.8h-.8zM61.6 695.7h.8v.8h-.8zM56.5 685.4h.8v.8h-.8zM69.2 680.9h.8v.8h-.8zM52.6 662.1h.8v.8h-.8zM82.5 678.0h.8v.8h-.8zM85.4 684.6h.8v.8h-.8z" fill="#3536a2" fill-opacity="0.85"/>
<polygon points="42.6,693.1 49.3,694.3 64.3,694.9 79.3,695.4 87.8,695.7 89.3,698.6 84.3,701.1 69.3,702.4 54.3,703.3 42.6,703.9" fill="#1f2180" fill-opacity="0.95" filter="url(#bl2)"/>
<path d="M56.7 696.1h.8v.8h-.8zM47.8 697.0h.8v.8h-.8zM45.8 697.5h.8v.8h-.8zM61.4 698.9h.8v.8h-.8zM73.5 699.5h.8v.8h-.8zM84.7 695.8h.8v.8h-.8zM63.7 703.2h.8v.8h-.8zM67.0 700.1h.8v.8h-.8zM66.7 696.7h.8v.8h-.8zM83.6 700.6h.8v.8h-.8zM71.4 696.3h.8v.8h-.8zM78.8 701.3h.8v.8h-.8zM83.2 697.8h.8v.8h-.8zM48.0 702.0h.8v.8h-.8zM73.7 697.0h.8v.8h-.8zM73.1 697.7h.8v.8h-.8zM51.0 702.7h.8v.8h-.8zM70.0 700.9h.8v.8h-.8zM50.5 695.3h.8v.8h-.8zM79.6 700.1h.8v.8h-.8zM85.7 697.7h.8v.8h-.8zM86.2 696.7h.8v.8h-.8zM61.7 701.5h.8v.8h-.8zM74.5 696.6h.8v.8h-.8zM67.9 700.6h.8v.8h-.8zM48.6 701.6h.8v.8h-.8zM83.7 697.9h.8v.8h-.8zM50.4 695.4h.8v.8h-.8zM69.8 697.0h.8v.8h-.8zM78.8 698.3h.8v.8h-.8zM75.5 699.2h.8v.8h-.8zM70.6 697.6h.8v.8h-.8zM50.0 696.8h.8v.8h-.8zM64.7 697.1h.8v.8h-.8zM81.6 703.1h.8v.8h-.8zM76.5 700.8h.8v.8h-.8zM45.5 699.9h.8v.8h-.8zM47.2 696.4h.8v.8h-.8zM61.3 702.5h.8v.8h-.8zM69.6 695.6h.8v.8h-.8zM65.5 700.9h.8v.8h-.8zM71.3 703.0h.8v.8h-.8zM88.0 704.0h.8v.8h-.8zM81.5 703.7h.8v.8h-.8zM43.2 701.4h.8v.8h-.8zM56.3 702.8h.8v.8h-.8zM48.5 699.5h.8v.8h-.8zM67.9 699.1h.8v.8h-.8zM87.8 696.7h.8v.8h-.8zM65.2 702.4h.8v.8h-.8zM75.7 695.5h.8v.8h-.8zM81.2 696.5h.8v.8h-.8zM82.2 702.8h.8v.8h-.8zM61.2 698.1h.8v.8h-.8zM50.3 702.1h.8v.8h-.8zM82.5 701.1h.8v.8h-.8zM85.9 698.2h.8v.8h-.8zM47.3 701.6h.8v.8h-.8zM68.1 698.1h.8v.8h-.8zM78.3 699.5h.8v.8h-.8zM67.6 701.2h.8v.8h-.8zM50.8 701.2h.8v.8h-.8zM45.7 696.1h.8v.8h-.8zM56.5 700.5h.8v.8h-.8zM63.1 700.8h.8v.8h-.8zM49.5 701.8h.8v.8h-.8zM72.1 699.9h.8v.8h-.8zM57.6 697.8h.8v.8h-.8zM88.2 695.9h.8v.8h-.8zM88.5 698.0h.8v.8h-.8zM55.1 701.7h.8v.8h-.8zM60.9 696.1h.8v.8h-.8zM61.4 697.8h.8v.8h-.8zM59.5 698.1h.8v.8h-.8zM67.0 695.3h.8v.8h-.8zM44.8 703.1h.8v.8h-.8zM86.1 698.6h.8v.8h-.8zM57.2 697.7h.8v.8h-.8zM46.1 698.2h.8v.8h-.8zM80.8 702.9h.8v.8h-.8zM50.6 700.1h.8v.8h-.8zM62.1 698.9h.8v.8h-.8zM73.8 701.8h.8v.8h-.8zM45.6 702.2h.8v.8h-.8zM85.8 701.5h.8v.8h-.8zM76.5 696.9h.8v.8h-.8zM85.8 700.2h.8v.8h-.8zM70.0 697.0h.8v.8h-.8zM72.5 697.5h.8v.8h-.8zM84.8 702.7h.8v.8h-.8zM73.0 701.3h.8v.8h-.8zM84.0 700.7h.8v.8h-.8zM50.8 701.3h.8v.8h-.8zM52.7 702.2h.8v.8h-.8zM56.0 703.3h.8v.8h-.8zM81.3 701.5h.8v.8h-.8zM84.9 697.0h.8v.8h-.8zM83.6 702.3h.8v.8h-.8zM81.5 701.9h.8v.8h-.8zM79.6 701.9h.8v.8h-.8zM64.5 703.8h.8v.8h-.8zM60.2 701.6h.8v.8h-.8zM78.4 696.7h.8v.8h-.8zM50.6 702.8h.8v.8h-.8zM73.2 697.5h.8v.8h-.8zM77.6 699.3h.8v.8h-.8zM74.6 699.0h.8v.8h-.8zM84.2 702.2h.8v.8h-.8zM47.7 701.7h.8v.8h-.8zM67.9 695.6h.8v.8h-.8zM58.4 702.1h.8v.8h-.8zM63.1 696.5h.8v.8h-.8zM65.6 696.0h.8v.8h-.8zM47.8 697.3h.8v.8h-.8zM43.0 699.0h.8v.8h-.8zM79.8 701.5h.8v.8h-.8zM75.7 702.2h.8v.8h-.8zM88.7 697.9h.8v.8h-.8zM69.1 700.7h.8v.8h-.8zM52.4 700.8h.8v.8h-.8zM61.5 696.8h.8v.8h-.8zM57.9 702.6h.8v.8h-.8zM76.0 697.5h.8v.8h-.8zM50.2 703.1h.8v.8h-.8zM43.3 698.4h.8v.8h-.8zM84.8 699.5h.8v.8h-.8zM74.8 699.5h.8v.8h-.8zM70.2 696.3h.8v.8h-.8zM78.9 697.3h.8v.8h-.8zM75.8 703.4h.8v.8h-.8zM46.6 701.9h.8v.8h-.8zM45.0 696.2h.8v.8h-.8zM71.5 702.0h.8v.8h-.8zM72.6 696.8h.8v.8h-.8zM81.4 697.1h.8v.8h-.8zM63.7 702.8h.8v.8h-.8zM56.2 697.0h.8v.8h-.8zM83.8 697.7h.8v.8h-.8zM44.5 695.4h.8v.8h-.8zM77.4 700.1h.8v.8h-.8zM66.0 696.9h.8v.8h-.8zM76.2 702.7h.8v.8h-.8zM88.7 697.3h.8v.8h-.8zM75.0 698.3h.8v.8h-.8zM65.8 697.4h.8v.8h-.8zM48.0 701.9h.8v.8h-.8zM54.1 695.1h.8v.8h-.8zM52.5 697.4h.8v.8h-.8zM47.7 700.2h.8v.8h-.8zM54.7 698.5h.8v.8h-.8zM69.6 702.9h.8v.8h-.8zM50.6 698.0h.8v.8h-.8zM59.5 699.6h.8v.8h-.8zM70.2 695.5h.8v.8h-.8zM75.9 696.0h.8v.8h-.8zM85.8 699.0h.8v.8h-.8zM60.0 698.6h.8v.8h-.8zM66.1 699.3h.8v.8h-.8zM67.0 697.6h.8v.8h-.8zM67.9 701.4h.8v.8h-.8z" fill="#2a2b90" fill-opacity="0.7"/>
<g filter="url(#bl1)">
<polygon points="42.6,683.1 44.8,685.1 45.8,693.1 42.6,695.1" fill="#2a6fc0" fill-opacity="0.7"/>
<polygon points="42.6,688.1 46.3,694.6 54.3,696.6 62.3,698.1 68.3,699.7 60.3,702.3 50.3,703.4 42.6,703.9" fill="#2a86c8" fill-opacity="0.9"/>
<polygon points="42.6,692.1 45.3,696.9 52.3,698.6 59.3,700.1 51.3,702.5 42.6,703.6" fill="#27c0dc"/>
<ellipse cx="44.1" cy="701.3" rx="2.4" ry="1.5" fill="#6cd06a"/>
<ellipse cx="43.9" cy="701.5" rx="1.3" ry="0.9" fill="#f4d23a"/>
</g>
<rect x="43.2" y="701.0" width="1.0" height="0.9" fill="#e8602a"/>
<line x1="47.50" y1="644.10" x2="47.50" y2="721.10" stroke="#222" stroke-width="0.9"/>
<line x1="25.30" y1="697.50" x2="102.00" y2="697.50" stroke="#222" stroke-width="0.9"/>
<text x="94.50" y="653.50" font-size="7.8" text-anchor="end" fill="#231f20" textLength="12.3" lengthAdjust="spacingAndGlyphs">8.91</text>
<rect x="107.15" y="643.85" width="78.10" height="77.50" fill="none" stroke="#000" stroke-width="1.4"/>
<polygon points="124.9,687.1 126.4,678.1 131.4,672.1 139.4,668.6 148.4,666.1 156.4,662.6 162.4,660.1 166.9,661.6 168.4,668.1 167.9,677.1 169.4,686.1 171.4,693.1 171.4,696.1 124.9,696.1" fill="#5a5ab4" fill-opacity="0.25" filter="url(#bl3)"/>
<polygon points="125.0,682.1 128.4,678.6 136.4,676.6 144.4,676.1 152.4,678.1 158.4,682.1 163.4,688.1 166.4,695.1 125.0,695.1" fill="#2d2e92" fill-opacity="0.45" filter="url(#bl3)"/>
<polygon points="126.6,687.2 162.4,660.6 165.7,665.0 130.8,692.8" fill="#3a3b9e" fill-opacity="0.35" filter="url(#bl3)"/>
<path d="M152.8 672.9h.9v.9h-.9zM150.8 677.9h.9v.9h-.9zM154.9 664.4h.9v.9h-.9zM148.1 675.5h.9v.9h-.9zM142.7 680.0h.9v.9h-.9zM147.5 672.7h.9v.9h-.9zM146.9 675.7h.9v.9h-.9zM155.8 674.1h.9v.9h-.9zM168.4 667.8h.9v.9h-.9zM139.6 680.2h.9v.9h-.9zM154.8 662.4h.9v.9h-.9zM162.7 661.5h.9v.9h-.9zM139.2 678.2h.9v.9h-.9zM140.0 677.6h.9v.9h-.9zM153.6 671.3h.9v.9h-.9zM152.1 675.5h.9v.9h-.9zM150.9 678.8h.9v.9h-.9zM159.7 663.1h.9v.9h-.9zM157.5 669.9h.9v.9h-.9zM146.0 675.5h.9v.9h-.9zM155.6 662.6h.9v.9h-.9zM163.7 669.0h.9v.9h-.9zM143.3 668.8h.9v.9h-.9zM152.2 667.8h.9v.9h-.9zM151.6 666.7h.9v.9h-.9zM143.5 676.4h.9v.9h-.9zM150.6 671.0h.9v.9h-.9zM153.8 662.8h.9v.9h-.9zM150.3 666.8h.9v.9h-.9zM148.0 676.3h.9v.9h-.9zM156.3 664.3h.9v.9h-.9zM149.4 677.9h.9v.9h-.9zM146.7 668.2h.9v.9h-.9zM150.0 669.3h.9v.9h-.9zM148.6 677.5h.9v.9h-.9zM147.2 678.1h.9v.9h-.9zM150.4 664.1h.9v.9h-.9zM146.8 677.4h.9v.9h-.9zM162.8 662.3h.9v.9h-.9zM160.3 665.3h.9v.9h-.9zM143.2 679.2h.9v.9h-.9zM156.2 663.2h.9v.9h-.9zM153.0 681.5h.9v.9h-.9zM161.8 672.6h.9v.9h-.9zM162.4 664.3h.9v.9h-.9zM149.7 670.8h.9v.9h-.9zM159.1 668.3h.9v.9h-.9zM141.7 681.2h.9v.9h-.9zM150.6 670.8h.9v.9h-.9zM154.2 672.8h.9v.9h-.9zM164.7 664.6h.9v.9h-.9zM148.4 674.4h.9v.9h-.9zM137.2 677.3h.9v.9h-.9zM156.8 664.5h.9v.9h-.9zM152.5 675.6h.9v.9h-.9zM151.0 674.5h.9v.9h-.9zM155.4 666.3h.9v.9h-.9zM153.2 658.1h.9v.9h-.9zM150.9 668.1h.9v.9h-.9zM159.2 662.8h.9v.9h-.9zM161.6 662.7h.9v.9h-.9zM139.1 678.7h.9v.9h-.9zM156.0 667.0h.9v.9h-.9zM155.3 663.7h.9v.9h-.9zM143.0 672.3h.9v.9h-.9zM147.1 675.0h.9v.9h-.9zM153.4 671.0h.9v.9h-.9zM155.1 671.4h.9v.9h-.9zM146.3 686.7h.9v.9h-.9zM140.4 681.6h.9v.9h-.9zM160.1 660.7h.9v.9h-.9zM138.5 666.8h.9v.9h-.9zM156.7 670.1h.9v.9h-.9zM161.4 666.6h.9v.9h-.9zM139.0 679.8h.9v.9h-.9zM167.8 668.8h.9v.9h-.9zM155.2 662.8h.9v.9h-.9zM158.2 664.8h.9v.9h-.9zM158.6 663.4h.9v.9h-.9zM154.3 673.7h.9v.9h-.9zM151.9 663.6h.9v.9h-.9zM144.6 679.0h.9v.9h-.9zM152.7 672.5h.9v.9h-.9zM147.5 664.4h.9v.9h-.9zM163.7 664.8h.9v.9h-.9zM142.5 679.7h.9v.9h-.9zM160.2 662.7h.9v.9h-.9zM154.1 670.3h.9v.9h-.9zM158.9 675.0h.9v.9h-.9zM154.9 668.9h.9v.9h-.9zM141.2 683.2h.9v.9h-.9zM151.2 677.2h.9v.9h-.9zM151.7 672.4h.9v.9h-.9zM146.5 683.4h.9v.9h-.9zM161.2 671.8h.9v.9h-.9zM152.7 660.6h.9v.9h-.9zM156.0 675.1h.9v.9h-.9zM149.6 663.5h.9v.9h-.9zM148.5 672.8h.9v.9h-.9zM161.5 664.7h.9v.9h-.9zM159.1 670.5h.9v.9h-.9zM151.6 674.4h.9v.9h-.9zM137.6 676.4h.9v.9h-.9zM163.5 676.9h.9v.9h-.9zM149.4 671.4h.9v.9h-.9zM143.3 680.7h.9v.9h-.9zM138.4 673.4h.9v.9h-.9zM152.7 677.8h.9v.9h-.9zM144.0 669.7h.9v.9h-.9zM149.7 671.6h.9v.9h-.9zM159.0 665.6h.9v.9h-.9zM158.2 667.5h.9v.9h-.9zM160.8 667.0h.9v.9h-.9zM160.9 672.5h.9v.9h-.9zM156.8 668.7h.9v.9h-.9zM160.0 663.2h.9v.9h-.9zM160.8 665.7h.9v.9h-.9zM161.0 667.7h.9v.9h-.9zM152.2 676.6h.9v.9h-.9zM163.6 664.5h.9v.9h-.9zM161.3 665.7h.9v.9h-.9zM156.1 668.1h.9v.9h-.9zM165.2 667.9h.9v.9h-.9zM144.9 676.9h.9v.9h-.9zM146.3 676.0h.9v.9h-.9zM142.0 680.3h.9v.9h-.9zM147.0 677.1h.9v.9h-.9zM157.7 661.4h.9v.9h-.9zM139.3 681.0h.9v.9h-.9zM136.1 680.5h.9v.9h-.9zM158.8 675.0h.9v.9h-.9zM159.1 658.8h.9v.9h-.9zM161.3 668.6h.9v.9h-.9zM156.9 676.3h.9v.9h-.9zM159.0 664.3h.9v.9h-.9zM160.3 666.5h.9v.9h-.9zM167.1 670.2h.9v.9h-.9zM146.0 668.8h.9v.9h-.9zM154.3 671.5h.9v.9h-.9zM145.2 682.9h.9v.9h-.9zM140.5 680.6h.9v.9h-.9zM141.1 682.1h.9v.9h-.9zM138.9 682.2h.9v.9h-.9zM162.3 672.0h.9v.9h-.9zM164.3 665.1h.9v.9h-.9zM159.6 669.2h.9v.9h-.9zM154.3 670.8h.9v.9h-.9zM150.4 665.0h.9v.9h-.9zM144.0 679.3h.9v.9h-.9zM137.6 675.9h.9v.9h-.9zM160.4 671.7h.9v.9h-.9zM156.3 664.9h.9v.9h-.9zM135.4 678.9h.9v.9h-.9zM159.7 663.0h.9v.9h-.9zM147.9 683.2h.9v.9h-.9zM158.5 664.6h.9v.9h-.9zM156.1 671.5h.9v.9h-.9zM148.4 672.2h.9v.9h-.9zM147.8 669.1h.9v.9h-.9zM141.9 685.7h.9v.9h-.9zM140.7 679.7h.9v.9h-.9zM146.9 674.7h.9v.9h-.9zM154.8 677.6h.9v.9h-.9zM159.3 664.0h.9v.9h-.9zM141.7 675.9h.9v.9h-.9zM149.6 680.5h.9v.9h-.9zM142.7 678.2h.9v.9h-.9zM156.4 666.6h.9v.9h-.9zM166.8 668.7h.9v.9h-.9zM159.3 665.6h.9v.9h-.9zM147.0 675.7h.9v.9h-.9zM153.4 666.2h.9v.9h-.9zM159.4 667.0h.9v.9h-.9zM144.4 679.8h.9v.9h-.9zM157.5 666.2h.9v.9h-.9zM155.7 675.6h.9v.9h-.9zM143.2 675.2h.9v.9h-.9zM147.9 675.8h.9v.9h-.9zM147.5 671.7h.9v.9h-.9zM146.5 668.9h.9v.9h-.9zM150.2 667.5h.9v.9h-.9zM151.1 668.5h.9v.9h-.9zM146.1 677.8h.9v.9h-.9zM147.9 671.4h.9v.9h-.9zM148.1 675.1h.9v.9h-.9zM159.2 667.0h.9v.9h-.9zM152.5 678.5h.9v.9h-.9zM144.1 678.2h.9v.9h-.9zM167.9 671.0h.9v.9h-.9zM152.6 663.9h.9v.9h-.9zM161.1 667.8h.9v.9h-.9zM136.6 679.5h.9v.9h-.9zM144.6 688.6h.9v.9h-.9zM142.8 674.2h.9v.9h-.9zM144.0 673.8h.9v.9h-.9zM146.1 674.7h.9v.9h-.9zM150.4 677.3h.9v.9h-.9zM160.3 662.1h.9v.9h-.9zM149.0 670.1h.9v.9h-.9zM145.2 679.4h.9v.9h-.9zM140.8 679.3h.9v.9h-.9zM158.1 661.0h.9v.9h-.9zM147.6 679.1h.9v.9h-.9zM165.5 667.3h.9v.9h-.9zM145.3 676.6h.9v.9h-.9zM143.1 679.0h.9v.9h-.9zM149.3 669.1h.9v.9h-.9zM145.8 686.7h.9v.9h-.9zM160.5 669.5h.9v.9h-.9zM149.4 679.7h.9v.9h-.9zM143.4 678.5h.9v.9h-.9zM142.9 674.4h.9v.9h-.9zM162.2 668.2h.9v.9h-.9zM153.7 664.6h.9v.9h-.9zM151.4 665.1h.9v.9h-.9zM157.4 676.9h.9v.9h-.9zM141.9 679.1h.9v.9h-.9zM142.8 673.7h.9v.9h-.9zM149.9 667.9h.9v.9h-.9zM140.3 681.1h.9v.9h-.9zM156.5 672.3h.9v.9h-.9zM145.7 668.6h.9v.9h-.9zM162.6 666.2h.9v.9h-.9zM158.3 669.6h.9v.9h-.9zM150.4 668.2h.9v.9h-.9zM157.8 671.0h.9v.9h-.9zM160.3 667.5h.9v.9h-.9zM154.6 669.1h.9v.9h-.9zM148.9 674.4h.9v.9h-.9zM151.2 669.0h.9v.9h-.9zM142.8 682.2h.9v.9h-.9zM138.8 674.1h.9v.9h-.9zM151.0 668.5h.9v.9h-.9zM138.8 680.2h.9v.9h-.9zM143.1 676.7h.9v.9h-.9zM159.5 669.1h.9v.9h-.9zM144.9 667.7h.9v.9h-.9zM140.7 673.4h.9v.9h-.9zM147.4 680.3h.9v.9h-.9zM153.2 675.7h.9v.9h-.9zM149.4 671.7h.9v.9h-.9zM154.7 668.7h.9v.9h-.9zM136.8 681.1h.9v.9h-.9zM157.5 671.4h.9v.9h-.9zM153.9 674.5h.9v.9h-.9zM158.3 676.2h.9v.9h-.9zM142.7 677.8h.9v.9h-.9zM139.3 682.2h.9v.9h-.9zM163.3 668.1h.9v.9h-.9zM155.5 673.2h.9v.9h-.9zM149.7 663.0h.9v.9h-.9zM143.4 680.5h.9v.9h-.9zM151.0 676.7h.9v.9h-.9zM160.7 671.2h.9v.9h-.9zM151.4 675.0h.9v.9h-.9zM163.9 665.5h.9v.9h-.9zM152.4 669.5h.9v.9h-.9zM141.4 686.0h.9v.9h-.9zM144.8 680.4h.9v.9h-.9zM160.3 664.7h.9v.9h-.9zM161.1 660.3h.9v.9h-.9zM155.9 672.7h.9v.9h-.9zM138.2 681.5h.9v.9h-.9zM140.6 672.8h.9v.9h-.9zM154.1 664.4h.9v.9h-.9zM148.4 676.4h.9v.9h-.9zM158.6 666.5h.9v.9h-.9zM143.6 679.7h.9v.9h-.9zM145.2 681.2h.9v.9h-.9zM154.5 663.8h.9v.9h-.9zM156.6 666.4h.9v.9h-.9zM151.8 678.1h.9v.9h-.9zM160.1 669.1h.9v.9h-.9zM152.2 668.7h.9v.9h-.9zM147.1 669.1h.9v.9h-.9zM149.0 675.8h.9v.9h-.9zM160.2 657.4h.9v.9h-.9zM159.6 672.0h.9v.9h-.9zM162.9 663.7h.9v.9h-.9zM162.2 677.4h.9v.9h-.9zM152.8 668.7h.9v.9h-.9zM135.3 677.9h.9v.9h-.9zM154.4 671.5h.9v.9h-.9zM139.3 679.6h.9v.9h-.9zM162.3 663.4h.9v.9h-.9zM163.3 663.4h.9v.9h-.9zM154.0 666.5h.9v.9h-.9zM161.0 661.1h.9v.9h-.9zM149.3 678.8h.9v.9h-.9zM158.5 668.3h.9v.9h-.9zM161.7 670.2h.9v.9h-.9zM148.4 671.9h.9v.9h-.9zM160.6 657.0h.9v.9h-.9zM150.1 666.3h.9v.9h-.9zM138.7 681.4h.9v.9h-.9zM165.2 664.9h.9v.9h-.9zM146.3 674.3h.9v.9h-.9zM158.6 668.7h.9v.9h-.9zM154.6 680.6h.9v.9h-.9zM148.7 673.5h.9v.9h-.9zM156.0 670.2h.9v.9h-.9zM144.1 678.0h.9v.9h-.9zM148.1 676.9h.9v.9h-.9zM145.4 670.6h.9v.9h-.9zM146.6 671.2h.9v.9h-.9zM145.8 680.1h.9v.9h-.9zM162.4 668.0h.9v.9h-.9zM144.5 682.7h.9v.9h-.9zM141.8 677.9h.9v.9h-.9zM151.0 666.2h.9v.9h-.9zM158.9 656.8h.9v.9h-.9zM153.0 662.8h.9v.9h-.9zM142.9 684.4h.9v.9h-.9zM150.4 669.1h.9v.9h-.9zM161.1 665.2h.9v.9h-.9zM148.2 677.9h.9v.9h-.9zM157.6 667.9h.9v.9h-.9zM139.8 671.4h.9v.9h-.9zM144.6 673.4h.9v.9h-.9zM138.7 677.1h.9v.9h-.9zM152.6 677.1h.9v.9h-.9zM150.3 666.6h.9v.9h-.9zM135.9 679.9h.9v.9h-.9zM149.8 675.9h.9v.9h-.9zM146.5 680.6h.9v.9h-.9zM144.6 684.9h.9v.9h-.9zM165.5 665.6h.9v.9h-.9zM156.1 675.1h.9v.9h-.9zM160.8 666.5h.9v.9h-.9zM151.3 666.7h.9v.9h-.9zM160.4 663.3h.9v.9h-.9zM161.9 668.3h.9v.9h-.9zM147.9 674.6h.9v.9h-.9zM149.6 666.6h.9v.9h-.9zM149.1 663.2h.9v.9h-.9zM152.3 669.7h.9v.9h-.9zM164.8 665.0h.9v.9h-.9zM165.2 667.1h.9v.9h-.9zM157.6 659.4h.9v.9h-.9zM156.9 669.5h.9v.9h-.9zM140.6 675.2h.9v.9h-.9zM162.7 666.0h.9v.9h-.9zM157.0 670.4h.9v.9h-.9zM151.8 677.3h.9v.9h-.9zM152.4 666.9h.9v.9h-.9zM153.2 672.2h.9v.9h-.9zM148.4 675.4h.9v.9h-.9zM150.6 668.1h.9v.9h-.9zM137.0 678.5h.9v.9h-.9zM150.0 667.6h.9v.9h-.9zM159.1 672.4h.9v.9h-.9zM149.8 671.4h.9v.9h-.9zM161.3 666.8h.9v.9h-.9zM144.6 678.9h.9v.9h-.9zM161.9 667.9h.9v.9h-.9zM157.2 660.5h.9v.9h-.9zM157.0 676.3h.9v.9h-.9zM152.6 668.7h.9v.9h-.9zM158.0 661.6h.9v.9h-.9zM151.8 676.5h.9v.9h-.9zM140.7 665.4h.9v.9h-.9zM142.1 679.5h.9v.9h-.9zM162.3 662.4h.9v.9h-.9zM159.1 666.3h.9v.9h-.9zM163.1 660.8h.9v.9h-.9zM134.5 677.3h.9v.9h-.9zM136.6 681.6h.9v.9h-.9zM150.7 672.7h.9v.9h-.9zM161.2 666.1h.9v.9h-.9zM141.8 675.8h.9v.9h-.9zM148.9 666.8h.9v.9h-.9zM146.4 676.0h.9v.9h-.9zM151.0 674.3h.9v.9h-.9zM141.2 685.6h.9v.9h-.9zM158.4 659.5h.9v.9h-.9zM149.9 669.8h.9v.9h-.9zM148.3 667.1h.9v.9h-.9zM155.9 670.2h.9v.9h-.9zM157.9 667.9h.9v.9h-.9zM154.0 666.2h.9v.9h-.9zM165.0 662.6h.9v.9h-.9zM152.0 676.4h.9v.9h-.9zM157.2 670.6h.9v.9h-.9zM156.8 674.6h.9v.9h-.9zM158.1 667.1h.9v.9h-.9zM161.1 669.1h.9v.9h-.9zM154.3 675.5h.9v.9h-.9zM160.5 666.1h.9v.9h-.9zM147.9 671.6h.9v.9h-.9zM151.8 668.9h.9v.9h-.9zM148.3 680.6h.9v.9h-.9zM165.7 665.4h.9v.9h-.9zM158.7 664.5h.9v.9h-.9zM147.7 673.5h.9v.9h-.9zM142.9 681.6h.9v.9h-.9zM153.7 664.6h.9v.9h-.9zM151.8 672.1h.9v.9h-.9zM157.1 675.5h.9v.9h-.9zM156.9 679.1h.9v.9h-.9zM154.8 673.3h.9v.9h-.9zM147.9 674.6h.9v.9h-.9zM147.1 670.5h.9v.9h-.9zM141.0 683.2h.9v.9h-.9zM159.9 662.8h.9v.9h-.9zM153.8 663.9h.9v.9h-.9zM140.8 680.3h.9v.9h-.9zM157.9 660.0h.9v.9h-.9zM154.2 665.6h.9v.9h-.9zM145.0 678.5h.9v.9h-.9zM154.6 668.9h.9v.9h-.9zM156.4 661.3h.9v.9h-.9zM140.3 683.7h.9v.9h-.9zM155.5 671.6h.9v.9h-.9zM151.9 657.3h.9v.9h-.9zM144.2 684.2h.9v.9h-.9zM149.4 676.9h.9v.9h-.9zM157.1 665.6h.9v.9h-.9zM156.2 670.6h.9v.9h-.9zM145.5 669.9h.9v.9h-.9zM152.5 672.3h.9v.9h-.9zM146.7 671.2h.9v.9h-.9zM147.0 665.9h.9v.9h-.9zM140.2 684.7h.9v.9h-.9zM148.3 673.2h.9v.9h-.9zM151.6 673.0h.9v.9h-.9zM144.2 674.3h.9v.9h-.9zM163.6 665.7h.9v.9h-.9zM142.1 684.3h.9v.9h-.9zM145.0 666.6h.9v.9h-.9zM145.5 684.1h.9v.9h-.9zM159.7 672.2h.9v.9h-.9zM140.7 685.4h.9v.9h-.9zM158.2 672.0h.9v.9h-.9zM162.6 672.2h.9v.9h-.9zM157.7 672.3h.9v.9h-.9zM159.3 665.5h.9v.9h-.9zM146.7 680.1h.9v.9h-.9zM155.9 669.9h.9v.9h-.9zM139.1 682.2h.9v.9h-.9zM143.7 676.7h.9v.9h-.9zM154.9 672.2h.9v.9h-.9zM143.5 677.8h.9v.9h-.9zM148.3 677.3h.9v.9h-.9zM151.1 671.5h.9v.9h-.9zM139.0 677.0h.9v.9h-.9zM153.1 684.8h.9v.9h-.9zM136.6 680.8h.9v.9h-.9zM161.2 663.2h.9v.9h-.9zM142.1 673.2h.9v.9h-.9zM158.5 673.0h.9v.9h-.9zM142.4 670.5h.9v.9h-.9zM152.5 670.3h.9v.9h-.9zM142.5 681.2h.9v.9h-.9zM158.4 667.0h.9v.9h-.9zM162.7 663.7h.9v.9h-.9zM161.2 671.2h.9v.9h-.9zM149.5 674.1h.9v.9h-.9zM154.6 669.0h.9v.9h-.9zM138.4 678.5h.9v.9h-.9zM144.7 671.2h.9v.9h-.9zM154.5 664.3h.9v.9h-.9zM166.3 665.7h.9v.9h-.9zM151.3 673.4h.9v.9h-.9zM143.1 679.8h.9v.9h-.9zM160.4 658.9h.9v.9h-.9zM141.3 680.7h.9v.9h-.9zM160.0 673.7h.9v.9h-.9zM142.3 673.7h.9v.9h-.9zM145.7 672.4h.9v.9h-.9zM147.4 672.6h.9v.9h-.9zM164.5 667.0h.9v.9h-.9zM146.6 669.5h.9v.9h-.9zM155.9 674.3h.9v.9h-.9zM156.8 666.7h.9v.9h-.9zM156.7 660.1h.9v.9h-.9zM148.2 673.9h.9v.9h-.9zM141.0 681.1h.9v.9h-.9zM161.3 667.8h.9v.9h-.9zM145.8 682.1h.9v.9h-.9zM162.8 663.0h.9v.9h-.9zM165.5 667.5h.9v.9h-.9zM146.9 671.9h.9v.9h-.9zM142.2 678.2h.9v.9h-.9zM146.2 664.5h.9v.9h-.9zM153.8 665.1h.9v.9h-.9zM156.9 663.8h.9v.9h-.9zM147.8 673.3h.9v.9h-.9zM136.0 680.4h.9v.9h-.9zM156.7 672.8h.9v.9h-.9zM148.9 680.3h.9v.9h-.9zM145.1 675.9h.9v.9h-.9zM149.8 679.1h.9v.9h-.9zM161.3 668.2h.9v.9h-.9zM164.5 663.4h.9v.9h-.9zM147.1 678.8h.9v.9h-.9zM161.4 663.5h.9v.9h-.9zM144.5 679.9h.9v.9h-.9zM141.1 681.1h.9v.9h-.9zM158.3 669.3h.9v.9h-.9zM162.1 670.9h.9v.9h-.9zM140.9 675.9h.9v.9h-.9zM163.1 664.7h.9v.9h-.9zM143.0 675.6h.9v.9h-.9zM138.5 667.0h.9v.9h-.9zM158.4 667.4h.9v.9h-.9zM160.4 675.4h.9v.9h-.9zM157.6 663.3h.9v.9h-.9zM152.5 670.7h.9v.9h-.9zM157.0 658.1h.9v.9h-.9zM140.2 674.6h.9v.9h-.9zM144.3 671.7h.9v.9h-.9zM150.1 673.6h.9v.9h-.9zM150.2 673.3h.9v.9h-.9zM150.4 671.3h.9v.9h-.9zM162.8 665.3h.9v.9h-.9zM138.8 679.8h.9v.9h-.9zM146.7 671.7h.9v.9h-.9zM152.1 663.2h.9v.9h-.9zM157.7 661.8h.9v.9h-.9zM162.9 668.6h.9v.9h-.9zM158.2 663.3h.9v.9h-.9zM153.5 668.6h.9v.9h-.9zM144.4 682.5h.9v.9h-.9zM162.4 670.1h.9v.9h-.9zM153.4 658.6h.9v.9h-.9zM150.6 673.2h.9v.9h-.9zM164.5 663.8h.9v.9h-.9zM153.1 673.0h.9v.9h-.9zM143.9 673.0h.9v.9h-.9zM157.7 675.2h.9v.9h-.9zM155.8 668.2h.9v.9h-.9zM157.5 657.4h.9v.9h-.9zM150.9 671.3h.9v.9h-.9zM141.8 672.3h.9v.9h-.9zM153.8 674.7h.9v.9h-.9zM155.2 667.6h.9v.9h-.9zM160.3 662.1h.9v.9h-.9zM140.3 681.7h.9v.9h-.9zM140.6 676.5h.9v.9h-.9zM152.8 678.9h.9v.9h-.9zM158.1 666.5h.9v.9h-.9zM143.4 685.2h.9v.9h-.9zM152.8 669.3h.9v.9h-.9zM141.1 676.0h.9v.9h-.9zM147.2 671.8h.9v.9h-.9zM158.8 664.2h.9v.9h-.9zM151.9 676.7h.9v.9h-.9zM155.0 668.5h.9v.9h-.9zM142.0 681.0h.9v.9h-.9zM148.8 677.3h.9v.9h-.9zM153.7 671.5h.9v.9h-.9zM157.2 666.9h.9v.9h-.9zM162.8 661.7h.9v.9h-.9zM140.4 678.8h.9v.9h-.9zM166.5 678.2h.9v.9h-.9zM155.2 660.0h.9v.9h-.9zM140.7 684.9h.9v.9h-.9zM143.6 682.4h.9v.9h-.9zM147.6 678.0h.9v.9h-.9zM151.4 667.0h.9v.9h-.9zM163.2 671.9h.9v.9h-.9zM139.5 678.6h.9v.9h-.9zM158.6 668.7h.9v.9h-.9zM160.3 664.0h.9v.9h-.9zM168.3 667.2h.9v.9h-.9zM160.5 663.2h.9v.9h-.9zM141.8 680.2h.9v.9h-.9zM136.7 681.2h.9v.9h-.9zM151.7 671.4h.9v.9h-.9zM159.6 667.0h.9v.9h-.9zM158.9 665.5h.9v.9h-.9zM159.0 673.0h.9v.9h-.9zM169.4 679.0h.9v.9h-.9zM149.2 671.6h.9v.9h-.9zM167.3 670.6h.9v.9h-.9zM141.3 684.8h.9v.9h-.9zM157.8 671.8h.9v.9h-.9zM156.9 664.6h.9v.9h-.9zM144.3 676.9h.9v.9h-.9zM155.2 665.6h.9v.9h-.9zM160.1 658.9h.9v.9h-.9zM149.1 675.2h.9v.9h-.9zM160.1 660.8h.9v.9h-.9zM160.0 670.9h.9v.9h-.9zM139.0 684.1h.9v.9h-.9zM155.7 658.9h.9v.9h-.9zM148.0 675.6h.9v.9h-.9zM158.1 675.4h.9v.9h-.9zM145.7 675.2h.9v.9h-.9zM149.3 670.9h.9v.9h-.9zM145.0 673.5h.9v.9h-.9zM165.2 667.9h.9v.9h-.9zM150.8 672.6h.9v.9h-.9zM145.9 677.0h.9v.9h-.9zM151.3 674.9h.9v.9h-.9zM154.4 669.6h.9v.9h-.9zM146.9 675.9h.9v.9h-.9zM150.3 664.5h.9v.9h-.9zM158.7 664.2h.9v.9h-.9zM135.4 670.5h.9v.9h-.9zM142.0 670.9h.9v.9h-.9zM154.5 685.7h.9v.9h-.9zM159.2 667.6h.9v.9h-.9zM166.3 667.5h.9v.9h-.9zM142.0 676.2h.9v.9h-.9zM146.7 682.5h.9v.9h-.9zM154.5 667.8h.9v.9h-.9zM152.7 666.4h.9v.9h-.9zM157.8 661.4h.9v.9h-.9zM164.9 670.2h.9v.9h-.9zM163.3 669.2h.9v.9h-.9zM146.9 668.1h.9v.9h-.9zM154.6 662.8h.9v.9h-.9zM138.4 681.3h.9v.9h-.9zM151.0 676.1h.9v.9h-.9zM149.3 681.9h.9v.9h-.9zM155.8 668.9h.9v.9h-.9zM146.4 660.0h.9v.9h-.9zM148.2 673.0h.9v.9h-.9zM145.6 688.5h.9v.9h-.9zM148.8 671.8h.9v.9h-.9zM151.0 667.0h.9v.9h-.9zM151.2 673.6h.9v.9h-.9zM152.8 681.2h.9v.9h-.9zM147.7 674.8h.9v.9h-.9zM144.5 668.1h.9v.9h-.9zM160.6 663.6h.9v.9h-.9zM161.1 661.8h.9v.9h-.9zM136.7 675.7h.9v.9h-.9zM153.4 671.9h.9v.9h-.9zM161.0 668.8h.9v.9h-.9zM150.2 667.5h.9v.9h-.9zM143.9 675.0h.9v.9h-.9zM139.3 670.9h.9v.9h-.9zM164.3 671.9h.9v.9h-.9zM152.4 682.1h.9v.9h-.9zM163.5 666.0h.9v.9h-.9zM146.5 676.4h.9v.9h-.9zM144.0 680.4h.9v.9h-.9zM151.6 676.4h.9v.9h-.9zM156.8 668.2h.9v.9h-.9zM155.7 664.7h.9v.9h-.9zM150.4 665.0h.9v.9h-.9zM158.4 670.3h.9v.9h-.9zM154.6 666.2h.9v.9h-.9zM166.1 668.3h.9v.9h-.9zM139.2 676.6h.9v.9h-.9zM166.8 671.2h.9v.9h-.9zM154.5 671.0h.9v.9h-.9zM165.9 665.5h.9v.9h-.9zM151.2 668.6h.9v.9h-.9zM158.7 665.2h.9v.9h-.9zM148.0 681.1h.9v.9h-.9zM162.6 667.7h.9v.9h-.9zM155.9 662.6h.9v.9h-.9zM140.4 678.0h.9v.9h-.9zM137.3 683.6h.9v.9h-.9zM157.1 671.8h.9v.9h-.9zM153.5 673.4h.9v.9h-.9zM154.8 662.4h.9v.9h-.9zM142.5 673.1h.9v.9h-.9zM148.4 671.8h.9v.9h-.9zM146.1 676.9h.9v.9h-.9zM153.7 662.5h.9v.9h-.9zM140.2 684.0h.9v.9h-.9zM153.9 681.2h.9v.9h-.9zM166.3 670.9h.9v.9h-.9zM153.9 666.0h.9v.9h-.9zM142.0 679.9h.9v.9h-.9zM140.7 678.8h.9v.9h-.9zM163.1 668.2h.9v.9h-.9zM136.2 673.7h.9v.9h-.9zM161.7 661.3h.9v.9h-.9zM145.0 675.2h.9v.9h-.9zM155.7 678.5h.9v.9h-.9zM155.9 671.6h.9v.9h-.9zM151.0 671.2h.9v.9h-.9zM148.0 678.1h.9v.9h-.9zM164.3 669.5h.9v.9h-.9zM137.6 680.9h.9v.9h-.9zM145.0 681.7h.9v.9h-.9zM155.2 664.7h.9v.9h-.9zM156.0 666.6h.9v.9h-.9zM141.7 682.9h.9v.9h-.9zM160.4 670.0h.9v.9h-.9zM147.6 675.8h.9v.9h-.9zM158.8 667.3h.9v.9h-.9zM162.1 673.1h.9v.9h-.9zM152.4 660.3h.9v.9h-.9zM164.6 664.6h.9v.9h-.9zM165.7 667.8h.9v.9h-.9zM156.6 667.0h.9v.9h-.9zM153.4 671.5h.9v.9h-.9zM149.8 664.6h.9v.9h-.9zM167.1 669.4h.9v.9h-.9zM144.8 685.4h.9v.9h-.9zM153.6 664.7h.9v.9h-.9zM146.9 681.7h.9v.9h-.9zM155.7 665.6h.9v.9h-.9zM155.6 675.4h.9v.9h-.9zM156.6 669.5h.9v.9h-.9zM152.2 672.2h.9v.9h-.9zM154.8 678.5h.9v.9h-.9zM149.4 669.7h.9v.9h-.9zM142.6 676.1h.9v.9h-.9zM154.0 663.1h.9v.9h-.9zM165.1 666.1h.9v.9h-.9zM160.7 663.6h.9v.9h-.9zM163.3 664.2h.9v.9h-.9zM145.2 672.2h.9v.9h-.9zM156.1 670.1h.9v.9h-.9zM152.4 671.2h.9v.9h-.9zM145.2 671.5h.9v.9h-.9zM154.6 662.0h.9v.9h-.9zM157.4 661.7h.9v.9h-.9zM146.1 680.0h.9v.9h-.9zM139.0 678.9h.9v.9h-.9zM162.5 664.1h.9v.9h-.9zM160.0 660.7h.9v.9h-.9zM160.7 662.8h.9v.9h-.9zM140.6 683.8h.9v.9h-.9zM155.7 674.4h.9v.9h-.9zM165.3 664.2h.9v.9h-.9zM145.1 676.9h.9v.9h-.9zM162.3 669.8h.9v.9h-.9zM154.0 671.9h.9v.9h-.9zM143.1 678.1h.9v.9h-.9zM140.2 666.4h.9v.9h-.9zM150.9 666.9h.9v.9h-.9zM155.6 665.0h.9v.9h-.9zM138.3 681.2h.9v.9h-.9zM150.5 673.2h.9v.9h-.9zM151.0 675.3h.9v.9h-.9zM162.1 674.3h.9v.9h-.9zM159.4 663.9h.9v.9h-.9zM161.8 668.6h.9v.9h-.9zM162.9 664.5h.9v.9h-.9zM152.7 666.8h.9v.9h-.9zM148.4 679.4h.9v.9h-.9zM157.2 677.5h.9v.9h-.9zM161.4 664.3h.9v.9h-.9zM158.2 674.9h.9v.9h-.9zM152.7 669.5h.9v.9h-.9zM148.6 674.4h.9v.9h-.9zM147.1 682.7h.9v.9h-.9zM163.2 661.5h.9v.9h-.9zM159.1 670.7h.9v.9h-.9zM144.5 669.8h.9v.9h-.9zM162.1 665.5h.9v.9h-.9zM139.9 676.8h.9v.9h-.9zM160.6 668.7h.9v.9h-.9zM155.6 677.9h.9v.9h-.9zM140.2 680.9h.9v.9h-.9zM138.3 675.9h.9v.9h-.9zM157.6 671.2h.9v.9h-.9zM145.4 677.6h.9v.9h-.9zM152.1 669.5h.9v.9h-.9zM153.5 663.8h.9v.9h-.9zM136.9 674.8h.9v.9h-.9zM138.0 676.2h.9v.9h-.9zM137.2 671.6h.9v.9h-.9zM160.2 665.8h.9v.9h-.9zM151.2 669.7h.9v.9h-.9zM170.2 669.6h.9v.9h-.9zM157.4 662.4h.9v.9h-.9zM151.5 670.4h.9v.9h-.9zM160.0 675.9h.9v.9h-.9zM144.5 672.5h.9v.9h-.9zM142.5 679.3h.9v.9h-.9zM149.5 680.9h.9v.9h-.9zM153.2 677.0h.9v.9h-.9zM157.2 659.0h.9v.9h-.9zM143.9 675.3h.9v.9h-.9zM134.5 676.9h.9v.9h-.9zM141.9 681.8h.9v.9h-.9zM158.4 657.5h.9v.9h-.9zM165.5 669.3h.9v.9h-.9zM143.0 683.7h.9v.9h-.9zM147.7 676.1h.9v.9h-.9zM140.9 683.1h.9v.9h-.9zM149.9 664.6h.9v.9h-.9zM143.9 677.9h.9v.9h-.9zM149.1 681.5h.9v.9h-.9zM146.7 683.7h.9v.9h-.9zM139.9 676.8h.9v.9h-.9zM158.6 656.8h.9v.9h-.9zM162.5 665.9h.9v.9h-.9zM159.7 676.5h.9v.9h-.9zM144.0 672.7h.9v.9h-.9zM146.0 675.1h.9v.9h-.9zM167.1 669.4h.9v.9h-.9zM156.2 669.6h.9v.9h-.9zM155.7 666.3h.9v.9h-.9zM137.3 670.0h.9v.9h-.9zM151.3 671.8h.9v.9h-.9zM148.3 667.2h.9v.9h-.9zM165.2 669.5h.9v.9h-.9zM153.8 669.6h.9v.9h-.9zM151.0 669.6h.9v.9h-.9zM143.2 675.6h.9v.9h-.9zM149.0 672.7h.9v.9h-.9zM147.0 669.5h.9v.9h-.9zM150.1 677.8h.9v.9h-.9zM164.0 669.7h.9v.9h-.9zM140.2 680.7h.9v.9h-.9zM151.3 675.3h.9v.9h-.9zM146.8 679.3h.9v.9h-.9zM145.9 678.3h.9v.9h-.9zM144.3 680.4h.9v.9h-.9zM167.1 666.9h.9v.9h-.9zM144.6 680.2h.9v.9h-.9zM156.4 664.0h.9v.9h-.9zM157.5 666.3h.9v.9h-.9zM151.1 676.8h.9v.9h-.9zM148.7 676.5h.9v.9h-.9zM138.8 670.3h.9v.9h-.9zM160.4 664.5h.9v.9h-.9zM140.3 680.5h.9v.9h-.9zM149.9 676.4h.9v.9h-.9zM161.4 662.8h.9v.9h-.9zM149.9 678.0h.9v.9h-.9zM148.7 672.1h.9v.9h-.9zM167.5 670.7h.9v.9h-.9zM149.4 665.3h.9v.9h-.9zM160.7 666.3h.9v.9h-.9zM161.3 662.7h.9v.9h-.9zM152.0 666.0h.9v.9h-.9zM149.2 669.2h.9v.9h-.9zM148.0 680.4h.9v.9h-.9zM146.9 666.3h.9v.9h-.9zM150.5 669.9h.9v.9h-.9zM146.8 679.7h.9v.9h-.9zM150.2 672.9h.9v.9h-.9zM156.8 663.3h.9v.9h-.9zM157.6 664.0h.9v.9h-.9zM156.7 661.7h.9v.9h-.9zM156.9 670.1h.9v.9h-.9zM157.5 671.6h.9v.9h-.9zM162.1 663.1h.9v.9h-.9zM160.1 662.5h.9v.9h-.9zM165.9 665.8h.9v.9h-.9zM135.3 677.8h.9v.9h-.9zM151.4 674.2h.9v.9h-.9zM157.6 665.7h.9v.9h-.9zM156.7 659.4h.9v.9h-.9zM151.0 676.2h.9v.9h-.9zM163.8 664.9h.9v.9h-.9zM141.7 677.6h.9v.9h-.9zM154.1 658.2h.9v.9h-.9zM142.3 679.5h.9v.9h-.9zM141.9 678.1h.9v.9h-.9zM146.7 672.2h.9v.9h-.9zM148.6 673.7h.9v.9h-.9zM153.3 665.6h.9v.9h-.9zM154.1 670.2h.9v.9h-.9zM147.3 676.2h.9v.9h-.9zM144.5 672.8h.9v.9h-.9zM160.2 668.3h.9v.9h-.9zM148.9 681.4h.9v.9h-.9zM150.3 676.0h.9v.9h-.9zM152.5 667.8h.9v.9h-.9zM158.2 667.2h.9v.9h-.9zM149.9 664.6h.9v.9h-.9zM149.4 668.4h.9v.9h-.9zM142.8 682.3h.9v.9h-.9zM159.8 670.7h.9v.9h-.9zM160.6 665.7h.9v.9h-.9zM165.0 664.3h.9v.9h-.9zM156.8 668.4h.9v.9h-.9zM163.7 674.1h.9v.9h-.9zM145.8 676.8h.9v.9h-.9zM158.5 672.6h.9v.9h-.9zM150.3 677.6h.9v.9h-.9zM160.6 672.3h.9v.9h-.9zM158.7 673.7h.9v.9h-.9zM149.0 675.7h.9v.9h-.9zM157.8 669.3h.9v.9h-.9zM161.4 667.9h.9v.9h-.9zM149.4 671.3h.9v.9h-.9zM163.3 663.6h.9v.9h-.9zM140.3 680.1h.9v.9h-.9zM147.5 672.9h.9v.9h-.9zM146.0 678.2h.9v.9h-.9zM147.5 669.1h.9v.9h-.9zM141.7 684.4h.9v.9h-.9zM154.9 674.3h.9v.9h-.9zM153.2 670.7h.9v.9h-.9zM160.8 665.3h.9v.9h-.9zM158.4 666.5h.9v.9h-.9zM149.3 668.2h.9v.9h-.9zM155.9 660.7h.9v.9h-.9zM149.7 678.7h.9v.9h-.9zM146.5 672.0h.9v.9h-.9zM137.6 673.0h.9v.9h-.9zM152.3 679.2h.9v.9h-.9zM157.9 669.0h.9v.9h-.9zM160.8 662.4h.9v.9h-.9zM155.6 671.8h.9v.9h-.9zM138.1 675.0h.9v.9h-.9zM139.3 673.5h.9v.9h-.9zM146.3 673.9h.9v.9h-.9zM145.8 668.1h.9v.9h-.9zM157.2 671.4h.9v.9h-.9zM142.1 679.5h.9v.9h-.9zM151.0 673.2h.9v.9h-.9zM150.5 672.2h.9v.9h-.9zM153.8 682.3h.9v.9h-.9zM152.9 664.8h.9v.9h-.9zM157.5 663.8h.9v.9h-.9zM165.2 670.4h.9v.9h-.9zM146.9 688.1h.9v.9h-.9zM145.4 678.8h.9v.9h-.9zM143.9 692.7h.9v.9h-.9zM131.7 693.1h.9v.9h-.9zM148.9 681.6h.9v.9h-.9zM148.2 677.3h.9v.9h-.9zM151.8 688.9h.9v.9h-.9zM135.9 689.9h.9v.9h-.9zM136.8 686.1h.9v.9h-.9zM134.2 680.6h.9v.9h-.9zM133.3 677.7h.9v.9h-.9zM131.9 689.5h.9v.9h-.9zM142.5 683.2h.9v.9h-.9zM127.4 690.7h.9v.9h-.9zM151.6 679.1h.9v.9h-.9zM154.9 684.4h.9v.9h-.9zM138.2 690.6h.9v.9h-.9zM138.1 684.4h.9v.9h-.9zM125.3 689.5h.9v.9h-.9zM128.2 691.7h.9v.9h-.9zM146.9 687.1h.9v.9h-.9zM135.4 686.1h.9v.9h-.9zM153.0 694.8h.9v.9h-.9zM132.5 679.9h.9v.9h-.9zM144.6 688.0h.9v.9h-.9zM140.9 684.7h.9v.9h-.9zM144.4 681.7h.9v.9h-.9zM125.5 687.5h.9v.9h-.9zM147.6 686.4h.9v.9h-.9zM147.8 695.1h.9v.9h-.9zM140.7 681.3h.9v.9h-.9zM162.5 687.5h.9v.9h-.9zM154.2 688.2h.9v.9h-.9zM137.4 692.5h.9v.9h-.9zM149.6 679.4h.9v.9h-.9zM146.6 694.8h.9v.9h-.9zM146.7 684.2h.9v.9h-.9zM139.1 686.4h.9v.9h-.9zM146.0 691.9h.9v.9h-.9zM125.0 693.5h.9v.9h-.9zM146.5 684.3h.9v.9h-.9zM132.4 687.3h.9v.9h-.9zM132.9 683.8h.9v.9h-.9zM159.1 692.1h.9v.9h-.9zM145.0 676.8h.9v.9h-.9zM142.9 694.2h.9v.9h-.9zM137.9 681.2h.9v.9h-.9zM155.6 694.8h.9v.9h-.9zM128.8 693.7h.9v.9h-.9zM139.5 684.0h.9v.9h-.9zM157.4 686.3h.9v.9h-.9zM125.9 689.4h.9v.9h-.9zM129.7 686.4h.9v.9h-.9zM140.0 684.3h.9v.9h-.9zM149.6 690.2h.9v.9h-.9zM139.8 692.4h.9v.9h-.9zM143.2 694.4h.9v.9h-.9zM145.8 678.3h.9v.9h-.9zM144.5 682.4h.9v.9h-.9zM129.2 682.3h.9v.9h-.9zM139.4 694.5h.9v.9h-.9zM156.7 689.2h.9v.9h-.9zM150.9 684.5h.9v.9h-.9zM143.2 680.7h.9v.9h-.9zM150.3 688.8h.9v.9h-.9zM150.6 677.7h.9v.9h-.9zM127.7 693.0h.9v.9h-.9zM151.7 690.9h.9v.9h-.9zM141.7 683.3h.9v.9h-.9zM163.2 691.5h.9v.9h-.9zM150.0 679.8h.9v.9h-.9zM131.5 686.9h.9v.9h-.9zM152.1 692.1h.9v.9h-.9zM153.3 691.1h.9v.9h-.9zM135.1 678.4h.9v.9h-.9zM147.6 685.9h.9v.9h-.9zM153.9 682.3h.9v.9h-.9zM153.0 694.3h.9v.9h-.9zM140.3 683.0h.9v.9h-.9zM129.2 691.3h.9v.9h-.9zM138.2 689.4h.9v.9h-.9zM140.3 679.6h.9v.9h-.9zM133.1 681.1h.9v.9h-.9zM155.8 688.6h.9v.9h-.9zM152.0 689.6h.9v.9h-.9zM149.4 679.2h.9v.9h-.9zM157.3 685.6h.9v.9h-.9zM141.5 678.3h.9v.9h-.9zM159.2 687.1h.9v.9h-.9zM140.1 679.3h.9v.9h-.9zM142.5 689.7h.9v.9h-.9zM132.1 692.3h.9v.9h-.9zM144.3 684.2h.9v.9h-.9zM159.1 690.7h.9v.9h-.9zM139.9 691.3h.9v.9h-.9zM142.9 681.3h.9v.9h-.9zM129.7 691.6h.9v.9h-.9zM142.0 679.5h.9v.9h-.9zM158.0 686.3h.9v.9h-.9zM150.1 694.7h.9v.9h-.9zM154.1 681.8h.9v.9h-.9zM146.1 692.4h.9v.9h-.9zM143.5 688.6h.9v.9h-.9zM138.2 690.4h.9v.9h-.9zM148.5 682.5h.9v.9h-.9zM130.7 686.9h.9v.9h-.9zM133.4 694.1h.9v.9h-.9zM140.8 677.9h.9v.9h-.9zM139.1 690.1h.9v.9h-.9zM153.5 684.8h.9v.9h-.9zM127.3 686.7h.9v.9h-.9zM140.8 692.4h.9v.9h-.9zM138.2 679.2h.9v.9h-.9zM162.3 691.8h.9v.9h-.9zM146.5 678.2h.9v.9h-.9zM138.6 690.2h.9v.9h-.9zM129.8 680.1h.9v.9h-.9zM144.5 689.6h.9v.9h-.9zM149.9 694.5h.9v.9h-.9zM155.7 688.5h.9v.9h-.9zM133.0 688.5h.9v.9h-.9zM157.7 688.9h.9v.9h-.9zM142.7 678.5h.9v.9h-.9zM153.4 691.6h.9v.9h-.9zM157.2 687.9h.9v.9h-.9zM147.8 691.4h.9v.9h-.9zM155.0 688.5h.9v.9h-.9zM151.9 683.9h.9v.9h-.9zM151.0 685.0h.9v.9h-.9zM134.2 678.3h.9v.9h-.9zM133.4 683.6h.9v.9h-.9zM149.8 682.3h.9v.9h-.9zM143.5 692.3h.9v.9h-.9zM153.9 679.3h.9v.9h-.9zM143.8 682.0h.9v.9h-.9zM161.7 692.4h.9v.9h-.9zM136.9 678.9h.9v.9h-.9zM129.4 685.4h.9v.9h-.9zM147.2 682.3h.9v.9h-.9zM138.6 676.8h.9v.9h-.9zM146.5 684.7h.9v.9h-.9zM146.1 692.1h.9v.9h-.9zM159.3 684.2h.9v.9h-.9zM140.6 682.1h.9v.9h-.9zM162.4 688.7h.9v.9h-.9zM136.6 684.8h.9v.9h-.9zM135.2 691.3h.9v.9h-.9zM136.3 693.5h.9v.9h-.9zM156.6 683.5h.9v.9h-.9zM131.3 682.5h.9v.9h-.9zM129.6 687.6h.9v.9h-.9zM162.3 691.0h.9v.9h-.9zM125.4 689.5h.9v.9h-.9zM158.6 682.7h.9v.9h-.9zM144.5 693.3h.9v.9h-.9zM136.2 679.0h.9v.9h-.9zM141.5 686.2h.9v.9h-.9zM146.0 686.0h.9v.9h-.9zM139.4 688.2h.9v.9h-.9zM139.5 679.8h.9v.9h-.9zM143.1 679.6h.9v.9h-.9zM135.9 682.1h.9v.9h-.9zM135.3 685.3h.9v.9h-.9zM130.2 683.3h.9v.9h-.9zM154.9 687.4h.9v.9h-.9zM148.4 680.0h.9v.9h-.9zM149.8 683.8h.9v.9h-.9zM133.5 689.9h.9v.9h-.9zM157.2 685.6h.9v.9h-.9zM125.1 683.7h.9v.9h-.9zM143.9 678.8h.9v.9h-.9zM155.5 694.9h.9v.9h-.9zM135.5 677.3h.9v.9h-.9zM154.9 693.1h.9v.9h-.9zM161.7 690.2h.9v.9h-.9zM153.7 680.3h.9v.9h-.9zM138.9 681.5h.9v.9h-.9zM129.7 694.2h.9v.9h-.9zM145.2 691.1h.9v.9h-.9zM139.9 694.6h.9v.9h-.9zM149.5 693.4h.9v.9h-.9zM134.8 688.8h.9v.9h-.9zM141.8 684.3h.9v.9h-.9zM125.2 684.7h.9v.9h-.9zM128.0 687.0h.9v.9h-.9zM156.3 687.8h.9v.9h-.9zM145.9 686.1h.9v.9h-.9zM157.3 688.4h.9v.9h-.9zM147.4 687.8h.9v.9h-.9zM144.3 680.4h.9v.9h-.9zM157.3 682.7h.9v.9h-.9zM132.1 690.7h.9v.9h-.9zM129.1 681.3h.9v.9h-.9zM127.6 694.0h.9v.9h-.9zM156.3 688.8h.9v.9h-.9zM130.1 690.4h.9v.9h-.9zM154.2 688.4h.9v.9h-.9zM152.7 679.2h.9v.9h-.9zM129.6 684.3h.9v.9h-.9zM132.7 687.0h.9v.9h-.9zM138.0 685.7h.9v.9h-.9zM141.6 684.4h.9v.9h-.9zM159.4 691.5h.9v.9h-.9zM139.9 689.8h.9v.9h-.9zM157.2 687.6h.9v.9h-.9zM126.1 681.8h.9v.9h-.9zM155.0 687.5h.9v.9h-.9zM142.7 695.1h.9v.9h-.9zM140.2 680.1h.9v.9h-.9zM158.4 685.5h.9v.9h-.9zM130.4 678.9h.9v.9h-.9zM137.9 691.1h.9v.9h-.9zM128.6 695.0h.9v.9h-.9zM140.3 679.5h.9v.9h-.9zM144.8 686.4h.9v.9h-.9zM143.6 689.7h.9v.9h-.9zM150.4 684.9h.9v.9h-.9zM134.7 680.9h.9v.9h-.9zM140.4 689.2h.9v.9h-.9zM145.2 678.7h.9v.9h-.9zM131.5 685.9h.9v.9h-.9zM140.2 694.0h.9v.9h-.9zM149.2 683.0h.9v.9h-.9zM152.1 689.8h.9v.9h-.9zM142.1 676.3h.9v.9h-.9zM131.2 682.2h.9v.9h-.9zM157.6 688.8h.9v.9h-.9zM142.0 678.1h.9v.9h-.9zM138.8 682.3h.9v.9h-.9zM135.4 678.5h.9v.9h-.9zM143.8 683.3h.9v.9h-.9zM138.9 677.2h.9v.9h-.9zM149.3 684.0h.9v.9h-.9zM153.4 689.1h.9v.9h-.9zM151.8 689.1h.9v.9h-.9zM137.4 686.9h.9v.9h-.9zM162.8 692.1h.9v.9h-.9zM131.9 690.9h.9v.9h-.9zM151.8 692.9h.9v.9h-.9zM149.6 693.6h.9v.9h-.9zM139.7 683.1h.9v.9h-.9zM129.1 694.9h.9v.9h-.9zM130.8 693.3h.9v.9h-.9zM151.1 693.8h.9v.9h-.9zM132.7 682.4h.9v.9h-.9zM128.6 684.8h.9v.9h-.9zM134.1 678.0h.9v.9h-.9zM152.9 694.1h.9v.9h-.9zM134.9 687.7h.9v.9h-.9zM127.4 689.8h.9v.9h-.9zM155.2 690.6h.9v.9h-.9zM148.2 693.0h.9v.9h-.9zM155.1 692.7h.9v.9h-.9zM154.4 681.6h.9v.9h-.9zM144.9 682.2h.9v.9h-.9zM159.2 687.8h.9v.9h-.9zM127.2 684.5h.9v.9h-.9zM165.3 693.7h.9v.9h-.9zM156.6 690.7h.9v.9h-.9zM138.9 689.3h.9v.9h-.9zM130.9 693.3h.9v.9h-.9zM144.5 685.0h.9v.9h-.9zM125.7 685.9h.9v.9h-.9zM138.4 682.2h.9v.9h-.9zM140.0 691.1h.9v.9h-.9zM145.3 687.8h.9v.9h-.9zM146.8 689.9h.9v.9h-.9zM148.8 679.5h.9v.9h-.9zM158.9 690.3h.9v.9h-.9zM137.1 690.6h.9v.9h-.9zM165.9 694.0h.9v.9h-.9zM158.7 692.5h.9v.9h-.9zM146.0 685.4h.9v.9h-.9zM140.0 680.7h.9v.9h-.9zM163.1 691.0h.9v.9h-.9zM135.9 681.1h.9v.9h-.9zM160.7 693.6h.9v.9h-.9zM142.1 693.3h.9v.9h-.9zM153.9 681.9h.9v.9h-.9zM139.3 685.4h.9v.9h-.9zM161.2 687.2h.9v.9h-.9zM156.3 691.6h.9v.9h-.9zM129.9 692.5h.9v.9h-.9zM129.6 678.7h.9v.9h-.9zM150.0 688.9h.9v.9h-.9zM153.6 681.7h.9v.9h-.9zM133.3 688.0h.9v.9h-.9zM131.4 694.3h.9v.9h-.9zM155.6 684.3h.9v.9h-.9zM153.5 693.0h.9v.9h-.9zM158.9 694.8h.9v.9h-.9zM161.8 687.2h.9v.9h-.9zM130.0 695.1h.9v.9h-.9zM136.5 680.6h.9v.9h-.9zM147.6 683.1h.9v.9h-.9zM137.6 679.3h.9v.9h-.9zM145.2 688.0h.9v.9h-.9zM146.8 684.1h.9v.9h-.9zM154.2 691.0h.9v.9h-.9zM129.8 683.2h.9v.9h-.9zM140.0 691.7h.9v.9h-.9zM154.8 685.9h.9v.9h-.9zM139.0 679.7h.9v.9h-.9zM140.1 678.0h.9v.9h-.9zM137.0 694.3h.9v.9h-.9zM144.8 687.4h.9v.9h-.9zM148.7 694.0h.9v.9h-.9zM131.8 679.6h.9v.9h-.9zM156.9 687.4h.9v.9h-.9zM138.1 681.3h.9v.9h-.9zM143.1 686.4h.9v.9h-.9zM125.7 692.9h.9v.9h-.9zM129.7 694.4h.9v.9h-.9zM145.4 677.5h.9v.9h-.9zM139.0 689.1h.9v.9h-.9zM132.8 687.4h.9v.9h-.9zM158.2 686.9h.9v.9h-.9zM159.1 694.6h.9v.9h-.9zM137.9 693.5h.9v.9h-.9zM153.9 692.8h.9v.9h-.9zM156.2 688.5h.9v.9h-.9zM134.4 682.2h.9v.9h-.9zM140.3 691.9h.9v.9h-.9zM158.8 691.3h.9v.9h-.9zM148.6 682.6h.9v.9h-.9zM137.5 690.9h.9v.9h-.9zM145.8 694.4h.9v.9h-.9zM151.6 686.7h.9v.9h-.9zM163.9 691.1h.9v.9h-.9zM159.0 688.8h.9v.9h-.9zM145.0 676.3h.9v.9h-.9zM138.7 678.1h.9v.9h-.9zM154.3 691.2h.9v.9h-.9zM163.1 694.0h.9v.9h-.9zM143.0 691.4h.9v.9h-.9zM138.2 690.4h.9v.9h-.9zM164.6 694.8h.9v.9h-.9zM141.9 682.1h.9v.9h-.9zM126.6 686.9h.9v.9h-.9zM125.0 691.3h.9v.9h-.9zM145.5 693.3h.9v.9h-.9zM137.5 684.1h.9v.9h-.9zM160.4 694.4h.9v.9h-.9zM133.8 694.0h.9v.9h-.9zM132.7 692.7h.9v.9h-.9zM158.1 685.5h.9v.9h-.9zM139.0 693.5h.9v.9h-.9zM150.4 690.7h.9v.9h-.9zM127.5 689.6h.9v.9h-.9zM142.3 693.0h.9v.9h-.9zM160.2 694.3h.9v.9h-.9zM157.9 690.6h.9v.9h-.9zM152.7 691.6h.9v.9h-.9zM145.5 677.3h.9v.9h-.9zM155.2 693.7h.9v.9h-.9zM127.6 692.3h.9v.9h-.9zM153.9 693.3h.9v.9h-.9zM139.7 687.3h.9v.9h-.9zM137.2 694.9h.9v.9h-.9zM133.2 685.6h.9v.9h-.9zM164.0 692.5h.9v.9h-.9zM143.2 677.2h.9v.9h-.9zM129.7 692.0h.9v.9h-.9zM127.3 687.4h.9v.9h-.9zM127.8 682.6h.9v.9h-.9zM145.0 677.1h.9v.9h-.9zM147.1 681.8h.9v.9h-.9zM148.2 694.1h.9v.9h-.9zM153.7 690.3h.9v.9h-.9zM128.3 693.5h.9v.9h-.9zM153.2 691.1h.9v.9h-.9zM139.7 686.2h.9v.9h-.9zM148.9 679.5h.9v.9h-.9zM151.7 687.8h.9v.9h-.9zM151.4 687.0h.9v.9h-.9zM162.1 693.5h.9v.9h-.9zM156.0 694.5h.9v.9h-.9zM142.1 690.1h.9v.9h-.9zM153.7 690.0h.9v.9h-.9zM137.0 681.7h.9v.9h-.9zM125.0 693.4h.9v.9h-.9zM137.8 687.2h.9v.9h-.9zM156.4 686.9h.9v.9h-.9zM154.2 689.8h.9v.9h-.9zM125.8 691.5h.9v.9h-.9zM146.3 687.4h.9v.9h-.9zM140.6 690.7h.9v.9h-.9zM156.3 687.2h.9v.9h-.9zM128.7 682.2h.9v.9h-.9zM131.3 692.5h.9v.9h-.9zM138.0 686.6h.9v.9h-.9zM153.7 687.0h.9v.9h-.9zM131.4 688.9h.9v.9h-.9zM133.7 689.1h.9v.9h-.9zM145.3 677.7h.9v.9h-.9zM135.9 688.5h.9v.9h-.9zM145.7 688.6h.9v.9h-.9zM140.4 684.0h.9v.9h-.9zM140.2 688.7h.9v.9h-.9zM139.1 688.3h.9v.9h-.9zM150.9 692.2h.9v.9h-.9zM153.9 684.1h.9v.9h-.9zM131.0 682.8h.9v.9h-.9zM128.6 682.1h.9v.9h-.9zM133.2 680.7h.9v.9h-.9zM149.6 683.1h.9v.9h-.9zM154.4 695.1h.9v.9h-.9zM141.8 692.3h.9v.9h-.9zM154.8 692.4h.9v.9h-.9zM134.7 694.5h.9v.9h-.9zM148.5 680.8h.9v.9h-.9zM150.9 689.8h.9v.9h-.9zM134.5 686.5h.9v.9h-.9zM133.4 688.9h.9v.9h-.9zM147.1 688.6h.9v.9h-.9zM131.0 682.0h.9v.9h-.9zM134.1 692.6h.9v.9h-.9zM135.0 679.9h.9v.9h-.9zM127.0 684.5h.9v.9h-.9zM140.0 688.8h.9v.9h-.9zM136.2 689.5h.9v.9h-.9zM161.3 686.6h.9v.9h-.9zM138.8 681.1h.9v.9h-.9zM143.8 689.1h.9v.9h-.9zM137.3 681.7h.9v.9h-.9zM157.9 687.9h.9v.9h-.9zM129.6 691.4h.9v.9h-.9zM140.8 682.1h.9v.9h-.9zM140.0 682.2h.9v.9h-.9zM142.9 687.8h.9v.9h-.9zM150.8 683.4h.9v.9h-.9zM132.1 679.2h.9v.9h-.9zM137.6 678.4h.9v.9h-.9zM157.9 691.6h.9v.9h-.9zM141.6 690.8h.9v.9h-.9zM144.6 686.5h.9v.9h-.9zM139.2 684.8h.9v.9h-.9zM136.8 687.1h.9v.9h-.9zM148.6 682.6h.9v.9h-.9zM138.0 679.6h.9v.9h-.9zM158.3 684.1h.9v.9h-.9zM139.3 691.2h.9v.9h-.9zM141.4 691.9h.9v.9h-.9zM151.6 688.4h.9v.9h-.9zM135.8 692.2h.9v.9h-.9zM128.3 694.5h.9v.9h-.9zM127.9 685.9h.9v.9h-.9zM146.4 678.4h.9v.9h-.9zM159.4 692.1h.9v.9h-.9zM129.2 682.3h.9v.9h-.9zM159.8 689.1h.9v.9h-.9zM157.5 690.1h.9v.9h-.9zM129.9 688.2h.9v.9h-.9zM164.4 692.0h.9v.9h-.9zM140.3 688.5h.9v.9h-.9zM125.1 694.4h.9v.9h-.9zM144.6 693.9h.9v.9h-.9zM136.0 677.3h.9v.9h-.9zM144.2 681.0h.9v.9h-.9zM130.0 692.0h.9v.9h-.9zM144.2 677.3h.9v.9h-.9zM158.2 687.3h.9v.9h-.9zM145.4 685.1h.9v.9h-.9zM137.7 684.6h.9v.9h-.9zM154.8 689.3h.9v.9h-.9zM152.9 684.4h.9v.9h-.9zM152.7 687.8h.9v.9h-.9zM156.6 688.1h.9v.9h-.9zM147.4 683.7h.9v.9h-.9zM126.8 686.8h.9v.9h-.9zM141.9 688.4h.9v.9h-.9zM127.1 694.1h.9v.9h-.9zM157.7 694.0h.9v.9h-.9zM149.5 694.4h.9v.9h-.9zM144.0 692.9h.9v.9h-.9zM155.7 689.0h.9v.9h-.9zM147.6 693.4h.9v.9h-.9zM151.9 686.5h.9v.9h-.9zM158.7 685.3h.9v.9h-.9zM158.1 687.4h.9v.9h-.9zM131.1 689.3h.9v.9h-.9zM148.6 682.0h.9v.9h-.9zM156.6 688.4h.9v.9h-.9zM147.6 690.3h.9v.9h-.9zM126.9 691.2h.9v.9h-.9zM155.7 684.4h.9v.9h-.9zM143.7 684.2h.9v.9h-.9zM158.4 688.2h.9v.9h-.9zM141.1 681.8h.9v.9h-.9zM140.9 678.0h.9v.9h-.9zM142.3 676.3h.9v.9h-.9zM132.7 693.6h.9v.9h-.9zM150.8 691.4h.9v.9h-.9zM138.4 688.2h.9v.9h-.9zM148.1 685.0h.9v.9h-.9zM159.3 685.2h.9v.9h-.9zM158.0 684.1h.9v.9h-.9zM143.4 676.8h.9v.9h-.9zM164.1 691.0h.9v.9h-.9zM155.6 684.5h.9v.9h-.9zM154.1 686.7h.9v.9h-.9zM138.1 689.3h.9v.9h-.9zM155.0 682.4h.9v.9h-.9zM136.0 684.6h.9v.9h-.9zM153.6 685.8h.9v.9h-.9zM159.6 690.6h.9v.9h-.9zM143.9 688.4h.9v.9h-.9zM155.0 690.9h.9v.9h-.9zM131.0 690.9h.9v.9h-.9zM144.2 679.7h.9v.9h-.9zM128.7 679.7h.9v.9h-.9zM133.6 684.4h.9v.9h-.9zM154.7 690.1h.9v.9h-.9zM131.3 686.0h.9v.9h-.9zM153.7 692.6h.9v.9h-.9zM128.6 689.3h.9v.9h-.9zM142.3 683.4h.9v.9h-.9zM137.8 687.2h.9v.9h-.9zM125.8 694.4h.9v.9h-.9zM132.6 680.8h.9v.9h-.9zM146.5 687.1h.9v.9h-.9zM141.2 679.7h.9v.9h-.9zM157.4 685.3h.9v.9h-.9zM163.6 693.8h.9v.9h-.9zM127.8 691.8h.9v.9h-.9zM151.8 686.0h.9v.9h-.9zM135.0 685.9h.9v.9h-.9zM162.1 691.6h.9v.9h-.9zM149.5 682.4h.9v.9h-.9zM130.8 688.9h.9v.9h-.9zM146.0 683.2h.9v.9h-.9zM149.4 694.8h.9v.9h-.9zM131.6 693.7h.9v.9h-.9zM149.8 685.4h.9v.9h-.9zM158.0 694.1h.9v.9h-.9zM143.0 694.9h.9v.9h-.9zM135.0 695.0h.9v.9h-.9zM126.8 691.7h.9v.9h-.9zM134.7 687.9h.9v.9h-.9zM139.9 687.0h.9v.9h-.9zM158.5 690.2h.9v.9h-.9zM131.2 679.8h.9v.9h-.9zM127.5 683.5h.9v.9h-.9zM136.6 679.0h.9v.9h-.9zM159.8 693.8h.9v.9h-.9zM153.6 690.2h.9v.9h-.9zM145.0 690.0h.9v.9h-.9zM145.3 694.8h.9v.9h-.9zM153.0 693.8h.9v.9h-.9zM125.7 692.7h.9v.9h-.9zM152.8 679.4h.9v.9h-.9zM134.3 683.1h.9v.9h-.9zM134.9 694.1h.9v.9h-.9zM133.7 692.7h.9v.9h-.9zM142.5 679.7h.9v.9h-.9zM132.3 693.5h.9v.9h-.9zM157.2 692.8h.9v.9h-.9zM150.5 692.3h.9v.9h-.9zM139.8 680.9h.9v.9h-.9zM142.4 679.6h.9v.9h-.9zM156.5 691.3h.9v.9h-.9zM132.7 679.4h.9v.9h-.9zM143.6 691.3h.9v.9h-.9zM149.7 684.3h.9v.9h-.9zM152.4 684.6h.9v.9h-.9zM125.2 691.7h.9v.9h-.9zM133.6 684.1h.9v.9h-.9zM131.2 693.1h.9v.9h-.9zM159.7 695.0h.9v.9h-.9zM162.4 690.7h.9v.9h-.9zM151.5 686.4h.9v.9h-.9zM147.1 682.3h.9v.9h-.9zM151.6 679.8h.9v.9h-.9zM127.4 685.8h.9v.9h-.9zM133.1 688.6h.9v.9h-.9zM152.8 694.7h.9v.9h-.9zM149.5 691.5h.9v.9h-.9zM142.1 689.3h.9v.9h-.9zM135.5 689.1h.9v.9h-.9zM130.8 693.0h.9v.9h-.9zM152.0 686.2h.9v.9h-.9zM158.2 693.0h.9v.9h-.9zM128.0 693.3h.9v.9h-.9zM155.3 688.3h.9v.9h-.9zM133.9 687.7h.9v.9h-.9zM131.1 692.7h.9v.9h-.9zM161.7 694.4h.9v.9h-.9zM160.4 689.6h.9v.9h-.9zM149.6 691.9h.9v.9h-.9zM155.5 693.1h.9v.9h-.9zM151.1 683.8h.9v.9h-.9zM151.3 688.4h.9v.9h-.9zM161.1 693.8h.9v.9h-.9zM147.5 689.1h.9v.9h-.9zM133.3 683.8h.9v.9h-.9zM152.9 687.2h.9v.9h-.9zM137.7 691.9h.9v.9h-.9zM141.0 694.2h.9v.9h-.9zM146.8 679.0h.9v.9h-.9zM146.1 693.6h.9v.9h-.9zM138.2 682.8h.9v.9h-.9zM150.2 679.6h.9v.9h-.9zM144.7 676.4h.9v.9h-.9zM130.9 680.7h.9v.9h-.9zM133.5 688.5h.9v.9h-.9zM162.9 687.5h.9v.9h-.9zM163.9 691.7h.9v.9h-.9zM149.6 686.0h.9v.9h-.9zM146.1 682.0h.9v.9h-.9zM155.9 694.4h.9v.9h-.9zM151.9 687.5h.9v.9h-.9zM134.2 682.0h.9v.9h-.9zM143.5 690.0h.9v.9h-.9zM157.5 689.5h.9v.9h-.9zM162.0 694.3h.9v.9h-.9zM152.7 680.9h.9v.9h-.9zM164.8 693.0h.9v.9h-.9zM159.2 692.4h.9v.9h-.9zM151.5 681.6h.9v.9h-.9zM130.0 690.6h.9v.9h-.9zM132.1 690.1h.9v.9h-.9zM135.8 679.3h.9v.9h-.9zM146.4 677.6h.9v.9h-.9zM154.2 683.6h.9v.9h-.9zM146.0 677.8h.9v.9h-.9zM142.1 686.5h.9v.9h-.9zM162.4 693.4h.9v.9h-.9zM133.4 693.1h.9v.9h-.9zM160.1 687.2h.9v.9h-.9zM137.2 677.1h.9v.9h-.9zM138.0 680.9h.9v.9h-.9zM141.6 677.8h.9v.9h-.9zM139.9 695.0h.9v.9h-.9zM146.9 680.7h.9v.9h-.9zM154.2 688.2h.9v.9h-.9zM125.2 693.6h.9v.9h-.9zM138.2 678.1h.9v.9h-.9zM150.4 690.0h.9v.9h-.9zM153.0 679.4h.9v.9h-.9zM147.1 677.4h.9v.9h-.9zM142.1 680.2h.9v.9h-.9zM139.5 680.5h.9v.9h-.9zM128.5 678.9h.9v.9h-.9zM142.6 688.8h.9v.9h-.9zM132.9 692.0h.9v.9h-.9zM136.2 693.9h.9v.9h-.9zM146.7 688.8h.9v.9h-.9zM130.1 682.9h.9v.9h-.9zM151.0 680.6h.9v.9h-.9zM136.3 683.7h.9v.9h-.9zM126.4 686.7h.9v.9h-.9zM149.2 682.3h.9v.9h-.9zM154.2 685.4h.9v.9h-.9zM161.8 689.2h.9v.9h-.9zM133.0 692.8h.9v.9h-.9zM139.5 683.8h.9v.9h-.9zM146.7 686.4h.9v.9h-.9zM160.8 688.8h.9v.9h-.9zM128.3 687.4h.9v.9h-.9zM127.1 694.9h.9v.9h-.9zM158.4 688.8h.9v.9h-.9zM138.1 683.5h.9v.9h-.9zM126.6 681.0h.9v.9h-.9zM139.4 691.7h.9v.9h-.9zM125.1 692.0h.9v.9h-.9zM141.4 691.9h.9v.9h-.9zM134.8 694.9h.9v.9h-.9zM140.3 685.4h.9v.9h-.9zM154.2 683.9h.9v.9h-.9zM151.1 690.8h.9v.9h-.9zM151.9 688.3h.9v.9h-.9zM155.4 688.6h.9v.9h-.9zM141.3 689.1h.9v.9h-.9zM149.3 681.8h.9v.9h-.9zM137.2 690.1h.9v.9h-.9zM154.4 685.7h.9v.9h-.9zM132.1 692.0h.9v.9h-.9zM125.8 687.9h.9v.9h-.9zM128.8 688.9h.9v.9h-.9zM129.5 694.0h.9v.9h-.9zM138.2 683.5h.9v.9h-.9zM147.5 684.4h.9v.9h-.9zM155.3 682.6h.9v.9h-.9zM134.5 687.0h.9v.9h-.9zM132.0 680.8h.9v.9h-.9zM137.2 687.0h.9v.9h-.9zM150.8 689.3h.9v.9h-.9zM158.6 685.7h.9v.9h-.9zM155.6 689.7h.9v.9h-.9zM148.6 683.2h.9v.9h-.9zM149.0 692.9h.9v.9h-.9zM138.2 678.7h.9v.9h-.9zM126.7 680.5h.9v.9h-.9zM160.4 692.9h.9v.9h-.9zM142.6 690.8h.9v.9h-.9zM162.6 691.9h.9v.9h-.9zM129.2 686.9h.9v.9h-.9zM152.8 682.0h.9v.9h-.9zM134.5 678.0h.9v.9h-.9zM144.4 677.9h.9v.9h-.9zM145.8 678.6h.9v.9h-.9zM137.0 688.7h.9v.9h-.9zM155.2 686.3h.9v.9h-.9zM132.8 690.9h.9v.9h-.9zM148.5 687.1h.9v.9h-.9zM132.3 684.4h.9v.9h-.9zM148.5 689.3h.9v.9h-.9zM128.3 689.4h.9v.9h-.9zM132.7 692.2h.9v.9h-.9zM152.6 685.6h.9v.9h-.9zM126.5 683.8h.9v.9h-.9zM149.3 683.3h.9v.9h-.9zM150.0 682.7h.9v.9h-.9zM130.7 688.8h.9v.9h-.9zM146.1 691.4h.9v.9h-.9zM125.6 687.0h.9v.9h-.9zM138.5 685.9h.9v.9h-.9zM132.5 680.1h.9v.9h-.9zM156.8 693.0h.9v.9h-.9zM150.2 695.1h.9v.9h-.9zM138.3 690.6h.9v.9h-.9zM130.3 693.0h.9v.9h-.9zM148.6 682.5h.9v.9h-.9zM141.6 689.5h.9v.9h-.9zM153.3 687.9h.9v.9h-.9zM138.4 682.5h.9v.9h-.9zM130.8 679.4h.9v.9h-.9zM155.4 683.1h.9v.9h-.9zM160.9 688.1h.9v.9h-.9zM127.8 692.3h.9v.9h-.9zM136.5 683.5h.9v.9h-.9zM145.8 680.3h.9v.9h-.9zM133.6 693.1h.9v.9h-.9zM129.4 681.2h.9v.9h-.9zM147.1 694.1h.9v.9h-.9zM140.3 677.6h.9v.9h-.9zM141.4 688.9h.9v.9h-.9zM143.1 686.9h.9v.9h-.9zM129.5 692.0h.9v.9h-.9zM148.7 685.7h.9v.9h-.9zM129.1 681.3h.9v.9h-.9zM125.2 691.1h.9v.9h-.9zM164.4 690.6h.9v.9h-.9zM141.3 685.2h.9v.9h-.9zM143.6 681.8h.9v.9h-.9zM129.7 687.7h.9v.9h-.9zM151.3 679.0h.9v.9h-.9zM137.9 694.4h.9v.9h-.9zM155.8 688.1h.9v.9h-.9zM155.9 683.8h.9v.9h-.9zM156.1 692.7h.9v.9h-.9zM125.9 686.9h.9v.9h-.9zM155.0 694.5h.9v.9h-.9zM158.6 689.3h.9v.9h-.9zM129.6 693.9h.9v.9h-.9zM125.2 689.1h.9v.9h-.9zM154.2 685.5h.9v.9h-.9zM127.4 693.2h.9v.9h-.9zM127.7 688.4h.9v.9h-.9zM134.0 677.6h.9v.9h-.9zM151.0 681.7h.9v.9h-.9zM155.9 682.6h.9v.9h-.9zM142.7 688.0h.9v.9h-.9zM147.2 679.2h.9v.9h-.9zM130.4 693.6h.9v.9h-.9zM125.7 693.6h.9v.9h-.9zM143.8 685.2h.9v.9h-.9zM140.4 689.2h.9v.9h-.9zM142.1 684.9h.9v.9h-.9zM130.3 689.4h.9v.9h-.9zM157.5 694.9h.9v.9h-.9zM151.9 689.7h.9v.9h-.9zM125.9 684.4h.9v.9h-.9zM132.0 685.2h.9v.9h-.9zM139.2 681.9h.9v.9h-.9zM149.3 690.3h.9v.9h-.9zM127.0 682.4h.9v.9h-.9zM132.4 684.4h.9v.9h-.9zM134.5 687.3h.9v.9h-.9zM134.0 677.7h.9v.9h-.9zM142.7 695.0h.9v.9h-.9zM159.3 694.9h.9v.9h-.9zM127.9 685.8h.9v.9h-.9zM156.4 682.9h.9v.9h-.9zM137.9 692.1h.9v.9h-.9zM146.4 681.6h.9v.9h-.9zM144.8 678.8h.9v.9h-.9zM154.8 692.5h.9v.9h-.9zM141.2 687.5h.9v.9h-.9zM134.8 685.0h.9v.9h-.9zM131.4 695.0h.9v.9h-.9zM126.7 683.7h.9v.9h-.9zM131.7 685.8h.9v.9h-.9zM125.5 691.5h.9v.9h-.9zM157.1 686.5h.9v.9h-.9zM153.6 686.0h.9v.9h-.9zM136.7 681.8h.9v.9h-.9zM125.2 686.6h.9v.9h-.9zM145.1 681.9h.9v.9h-.9zM155.2 687.7h.9v.9h-.9zM139.1 693.3h.9v.9h-.9zM142.1 683.4h.9v.9h-.9zM129.2 691.7h.9v.9h-.9zM161.2 693.5h.9v.9h-.9zM138.5 684.0h.9v.9h-.9zM154.2 681.3h.9v.9h-.9zM150.5 680.9h.9v.9h-.9zM125.1 694.8h.9v.9h-.9zM152.5 691.7h.9v.9h-.9zM127.8 680.7h.9v.9h-.9zM157.5 684.9h.9v.9h-.9zM134.6 681.5h.9v.9h-.9zM130.1 682.6h.9v.9h-.9zM138.0 685.4h.9v.9h-.9zM133.8 690.1h.9v.9h-.9zM136.3 678.7h.9v.9h-.9zM152.7 680.0h.9v.9h-.9zM127.5 683.4h.9v.9h-.9zM125.4 687.4h.9v.9h-.9zM136.3 687.0h.9v.9h-.9zM131.3 684.9h.9v.9h-.9zM143.9 683.9h.9v.9h-.9zM137.9 678.9h.9v.9h-.9zM128.8 694.2h.9v.9h-.9zM132.1 694.4h.9v.9h-.9zM135.8 678.6h.9v.9h-.9zM136.2 679.4h.9v.9h-.9zM125.3 685.9h.9v.9h-.9zM129.5 694.8h.9v.9h-.9zM147.6 677.4h.9v.9h-.9zM131.7 679.2h.9v.9h-.9zM137.0 677.9h.9v.9h-.9zM154.1 694.4h.9v.9h-.9zM159.4 684.7h.9v.9h-.9zM144.4 681.3h.9v.9h-.9zM131.6 682.1h.9v.9h-.9zM132.0 678.9h.9v.9h-.9zM131.5 678.6h.9v.9h-.9zM126.1 695.0h.9v.9h-.9zM137.1 678.1h.9v.9h-.9zM131.3 690.5h.9v.9h-.9zM128.0 684.6h.9v.9h-.9zM128.6 687.7h.9v.9h-.9zM142.9 679.9h.9v.9h-.9zM161.8 693.2h.9v.9h-.9zM135.6 683.8h.9v.9h-.9zM150.7 693.6h.9v.9h-.9zM157.7 693.5h.9v.9h-.9zM140.2 685.2h.9v.9h-.9zM135.4 693.2h.9v.9h-.9zM148.7 690.4h.9v.9h-.9zM138.1 683.5h.9v.9h-.9zM144.5 682.5h.9v.9h-.9zM137.6 680.9h.9v.9h-.9zM151.3 681.7h.9v.9h-.9zM145.2 689.9h.9v.9h-.9zM151.7 680.1h.9v.9h-.9zM145.3 685.9h.9v.9h-.9zM156.9 685.1h.9v.9h-.9zM135.9 681.6h.9v.9h-.9zM163.1 691.7h.9v.9h-.9zM145.7 679.0h.9v.9h-.9zM132.0 684.2h.9v.9h-.9zM152.3 679.4h.9v.9h-.9zM156.7 692.5h.9v.9h-.9zM141.0 679.1h.9v.9h-.9zM155.2 691.1h.9v.9h-.9zM134.9 686.2h.9v.9h-.9zM153.7 680.2h.9v.9h-.9zM128.0 687.8h.9v.9h-.9zM129.1 692.6h.9v.9h-.9zM164.1 694.3h.9v.9h-.9zM152.8 686.6h.9v.9h-.9zM127.7 680.5h.9v.9h-.9zM145.0 687.5h.9v.9h-.9zM147.0 680.1h.9v.9h-.9zM142.0 685.4h.9v.9h-.9zM133.9 688.3h.9v.9h-.9zM161.8 689.3h.9v.9h-.9zM135.1 691.7h.9v.9h-.9zM156.9 685.6h.9v.9h-.9zM126.0 692.1h.9v.9h-.9zM131.5 694.7h.9v.9h-.9zM157.6 693.0h.9v.9h-.9zM151.3 690.3h.9v.9h-.9zM153.4 681.1h.9v.9h-.9zM157.2 685.8h.9v.9h-.9zM136.6 683.8h.9v.9h-.9zM151.3 679.1h.9v.9h-.9zM126.6 682.6h.9v.9h-.9zM142.8 693.7h.9v.9h-.9zM147.7 683.9h.9v.9h-.9zM164.2 690.5h.9v.9h-.9zM135.4 690.4h.9v.9h-.9zM156.7 689.9h.9v.9h-.9zM141.4 675.4h.9v.9h-.9zM136.2 687.5h.9v.9h-.9zM160.9 667.1h.9v.9h-.9zM167.0 674.1h.9v.9h-.9zM146.3 687.4h.9v.9h-.9zM135.2 683.9h.9v.9h-.9zM145.3 680.0h.9v.9h-.9zM140.9 682.4h.9v.9h-.9zM141.9 693.7h.9v.9h-.9zM157.1 682.7h.9v.9h-.9zM165.1 691.6h.9v.9h-.9zM165.7 678.1h.9v.9h-.9zM155.2 686.8h.9v.9h-.9zM165.7 677.8h.9v.9h-.9zM158.3 675.4h.9v.9h-.9zM132.1 674.0h.9v.9h-.9zM141.0 680.8h.9v.9h-.9zM132.5 679.7h.9v.9h-.9zM162.5 669.4h.9v.9h-.9zM152.2 688.8h.9v.9h-.9zM138.0 683.4h.9v.9h-.9zM164.0 695.0h.9v.9h-.9zM163.5 688.3h.9v.9h-.9zM141.7 668.6h.9v.9h-.9zM146.7 695.4h.9v.9h-.9zM134.4 694.2h.9v.9h-.9zM156.9 685.9h.9v.9h-.9zM149.1 677.7h.9v.9h-.9zM152.6 679.7h.9v.9h-.9zM158.4 687.0h.9v.9h-.9zM151.2 665.4h.9v.9h-.9zM152.4 684.6h.9v.9h-.9zM155.5 665.6h.9v.9h-.9zM154.7 669.0h.9v.9h-.9zM136.2 680.4h.9v.9h-.9zM154.0 666.2h.9v.9h-.9zM134.1 682.8h.9v.9h-.9zM132.3 679.0h.9v.9h-.9zM147.2 669.9h.9v.9h-.9zM158.1 679.1h.9v.9h-.9zM134.7 685.0h.9v.9h-.9zM140.0 681.4h.9v.9h-.9zM164.7 689.3h.9v.9h-.9zM143.1 671.5h.9v.9h-.9zM166.9 682.9h.9v.9h-.9zM158.6 696.0h.9v.9h-.9zM137.9 695.5h.9v.9h-.9zM155.6 682.3h.9v.9h-.9zM146.9 685.0h.9v.9h-.9zM133.6 689.8h.9v.9h-.9zM159.6 686.8h.9v.9h-.9zM140.1 681.6h.9v.9h-.9zM155.8 663.1h.9v.9h-.9zM149.6 674.1h.9v.9h-.9zM142.2 695.0h.9v.9h-.9zM129.6 689.6h.9v.9h-.9zM158.8 692.0h.9v.9h-.9zM135.5 684.0h.9v.9h-.9zM132.0 693.5h.9v.9h-.9zM156.6 666.0h.9v.9h-.9zM162.4 685.1h.9v.9h-.9zM145.5 691.1h.9v.9h-.9zM152.3 668.5h.9v.9h-.9zM136.1 684.1h.9v.9h-.9zM162.4 692.0h.9v.9h-.9zM150.3 673.1h.9v.9h-.9zM130.6 681.6h.9v.9h-.9zM145.5 688.3h.9v.9h-.9zM163.2 693.3h.9v.9h-.9zM162.8 686.8h.9v.9h-.9zM131.3 678.3h.9v.9h-.9zM126.1 689.7h.9v.9h-.9zM131.8 672.0h.9v.9h-.9zM140.3 675.2h.9v.9h-.9zM153.0 696.1h.9v.9h-.9zM165.8 670.6h.9v.9h-.9zM138.2 685.6h.9v.9h-.9zM168.6 693.9h.9v.9h-.9zM158.6 681.8h.9v.9h-.9zM143.4 688.5h.9v.9h-.9zM146.7 682.3h.9v.9h-.9zM156.2 691.4h.9v.9h-.9zM132.0 674.4h.9v.9h-.9zM132.5 673.5h.9v.9h-.9zM160.2 681.2h.9v.9h-.9zM152.0 682.9h.9v.9h-.9zM135.3 682.7h.9v.9h-.9zM135.5 681.8h.9v.9h-.9zM131.5 677.5h.9v.9h-.9zM161.9 675.7h.9v.9h-.9zM148.9 667.1h.9v.9h-.9zM150.7 694.2h.9v.9h-.9zM147.1 678.9h.9v.9h-.9zM158.5 673.4h.9v.9h-.9zM127.2 679.9h.9v.9h-.9zM169.4 695.4h.9v.9h-.9zM141.6 676.8h.9v.9h-.9zM158.3 673.9h.9v.9h-.9zM166.1 689.9h.9v.9h-.9zM160.3 694.8h.9v.9h-.9zM161.5 664.4h.9v.9h-.9zM127.5 678.6h.9v.9h-.9zM147.8 692.0h.9v.9h-.9zM135.1 671.7h.9v.9h-.9zM138.0 675.3h.9v.9h-.9zM146.3 688.5h.9v.9h-.9zM151.6 669.0h.9v.9h-.9zM161.3 680.4h.9v.9h-.9zM126.4 694.5h.9v.9h-.9zM141.3 695.2h.9v.9h-.9zM165.5 691.4h.9v.9h-.9zM131.5 692.3h.9v.9h-.9zM149.1 672.2h.9v.9h-.9zM145.7 688.8h.9v.9h-.9zM152.5 676.7h.9v.9h-.9zM163.5 681.6h.9v.9h-.9zM133.2 692.0h.9v.9h-.9zM164.6 693.8h.9v.9h-.9zM132.4 680.7h.9v.9h-.9zM149.0 695.9h.9v.9h-.9zM162.4 684.4h.9v.9h-.9zM152.3 666.5h.9v.9h-.9zM166.5 674.3h.9v.9h-.9zM162.6 670.4h.9v.9h-.9zM155.6 690.6h.9v.9h-.9zM145.7 673.5h.9v.9h-.9zM152.9 665.5h.9v.9h-.9zM144.8 685.8h.9v.9h-.9zM163.2 667.5h.9v.9h-.9zM164.4 662.2h.9v.9h-.9zM128.9 678.0h.9v.9h-.9zM139.7 687.2h.9v.9h-.9zM146.2 674.9h.9v.9h-.9zM163.2 685.3h.9v.9h-.9zM161.1 675.9h.9v.9h-.9zM136.0 685.2h.9v.9h-.9zM167.9 675.3h.9v.9h-.9zM126.7 681.3h.9v.9h-.9zM153.6 681.8h.9v.9h-.9zM140.5 691.6h.9v.9h-.9zM128.3 686.2h.9v.9h-.9zM133.5 692.1h.9v.9h-.9zM140.1 676.5h.9v.9h-.9zM125.1 695.9h.9v.9h-.9zM165.2 689.0h.9v.9h-.9zM167.3 669.5h.9v.9h-.9zM165.7 692.2h.9v.9h-.9zM136.6 681.4h.9v.9h-.9zM160.7 681.8h.9v.9h-.9zM148.7 688.1h.9v.9h-.9zM128.7 684.9h.9v.9h-.9zM168.1 681.6h.9v.9h-.9zM150.2 667.5h.9v.9h-.9zM130.8 687.3h.9v.9h-.9zM158.6 681.6h.9v.9h-.9zM161.4 691.4h.9v.9h-.9zM158.2 684.2h.9v.9h-.9zM166.5 694.3h.9v.9h-.9zM137.6 693.1h.9v.9h-.9zM151.4 683.1h.9v.9h-.9zM166.3 694.2h.9v.9h-.9zM134.6 690.6h.9v.9h-.9zM147.2 674.5h.9v.9h-.9zM134.7 677.0h.9v.9h-.9zM133.3 694.3h.9v.9h-.9zM127.9 693.8h.9v.9h-.9zM155.3 672.4h.9v.9h-.9zM150.5 679.9h.9v.9h-.9zM158.0 674.8h.9v.9h-.9zM147.3 691.0h.9v.9h-.9zM130.2 685.0h.9v.9h-.9zM129.2 680.1h.9v.9h-.9zM134.6 694.7h.9v.9h-.9zM140.5 674.2h.9v.9h-.9zM167.7 670.9h.9v.9h-.9zM131.2 684.1h.9v.9h-.9zM127.0 684.8h.9v.9h-.9zM169.9 692.1h.9v.9h-.9zM129.2 694.8h.9v.9h-.9zM128.1 677.4h.9v.9h-.9zM147.5 674.3h.9v.9h-.9zM143.1 685.5h.9v.9h-.9zM151.8 675.0h.9v.9h-.9zM165.2 680.8h.9v.9h-.9zM138.5 695.8h.9v.9h-.9zM165.7 673.1h.9v.9h-.9zM160.9 680.2h.9v.9h-.9zM155.1 693.5h.9v.9h-.9zM149.1 690.7h.9v.9h-.9zM148.7 668.9h.9v.9h-.9zM160.9 687.6h.9v.9h-.9zM163.9 688.6h.9v.9h-.9zM159.1 686.5h.9v.9h-.9zM136.1 670.9h.9v.9h-.9zM148.1 685.0h.9v.9h-.9zM152.0 672.6h.9v.9h-.9zM140.1 686.9h.9v.9h-.9zM138.4 682.3h.9v.9h-.9zM160.6 685.6h.9v.9h-.9zM161.6 683.8h.9v.9h-.9zM161.2 669.0h.9v.9h-.9zM150.1 666.0h.9v.9h-.9zM164.5 666.6h.9v.9h-.9zM158.2 693.2h.9v.9h-.9zM156.5 667.3h.9v.9h-.9zM156.7 690.3h.9v.9h-.9zM133.3 672.9h.9v.9h-.9zM154.1 684.6h.9v.9h-.9zM162.2 675.8h.9v.9h-.9zM166.1 683.2h.9v.9h-.9zM148.1 693.1h.9v.9h-.9zM156.9 669.7h.9v.9h-.9zM166.4 673.7h.9v.9h-.9zM161.9 682.2h.9v.9h-.9zM151.3 695.3h.9v.9h-.9zM157.6 691.5h.9v.9h-.9zM157.0 686.3h.9v.9h-.9zM134.2 691.2h.9v.9h-.9zM151.3 673.4h.9v.9h-.9zM162.3 664.5h.9v.9h-.9zM139.7 678.2h.9v.9h-.9zM167.1 664.1h.9v.9h-.9zM133.6 677.0h.9v.9h-.9zM165.5 674.2h.9v.9h-.9zM132.7 679.4h.9v.9h-.9zM157.3 693.1h.9v.9h-.9zM154.4 688.0h.9v.9h-.9zM128.5 680.5h.9v.9h-.9zM137.4 688.3h.9v.9h-.9zM150.2 665.7h.9v.9h-.9zM138.1 695.1h.9v.9h-.9zM138.6 691.9h.9v.9h-.9zM159.2 683.0h.9v.9h-.9zM163.6 683.4h.9v.9h-.9zM155.8 663.4h.9v.9h-.9zM166.3 683.3h.9v.9h-.9zM148.3 693.8h.9v.9h-.9zM158.9 692.3h.9v.9h-.9zM157.9 671.7h.9v.9h-.9zM142.6 689.5h.9v.9h-.9zM152.7 680.3h.9v.9h-.9zM160.9 676.2h.9v.9h-.9zM168.9 686.1h.9v.9h-.9zM164.2 674.2h.9v.9h-.9zM164.4 663.2h.9v.9h-.9zM146.5 689.4h.9v.9h-.9zM125.2 691.7h.9v.9h-.9zM132.4 675.0h.9v.9h-.9zM140.0 673.2h.9v.9h-.9zM140.5 665.6h.9v.9h-.9zM133.2 689.6h.9v.9h-.9zM165.5 659.1h.9v.9h-.9zM149.7 668.1h.9v.9h-.9zM147.5 695.4h.9v.9h-.9zM134.2 687.0h.9v.9h-.9zM131.8 675.9h.9v.9h-.9zM156.5 684.1h.9v.9h-.9zM170.8 684.0h.9v.9h-.9zM150.6 682.3h.9v.9h-.9zM158.2 658.0h.9v.9h-.9zM142.9 675.1h.9v.9h-.9zM153.6 681.5h.9v.9h-.9zM153.4 669.8h.9v.9h-.9zM138.5 665.1h.9v.9h-.9zM144.3 690.8h.9v.9h-.9zM163.9 675.2h.9v.9h-.9zM128.4 690.8h.9v.9h-.9zM133.8 678.8h.9v.9h-.9zM142.1 678.6h.9v.9h-.9zM126.6 663.1h.9v.9h-.9zM143.4 664.9h.9v.9h-.9zM169.1 689.0h.9v.9h-.9zM137.0 686.2h.9v.9h-.9zM135.5 657.1h.9v.9h-.9zM143.6 683.6h.9v.9h-.9zM151.0 696.1h.9v.9h-.9zM170.3 682.6h.9v.9h-.9z" fill="#23248a" fill-opacity="0.7"/>
<path d="M166.5 670.2h.8v.8h-.8zM138.2 677.3h.8v.8h-.8zM154.9 672.1h.8v.8h-.8zM142.7 686.1h.8v.8h-.8zM146.5 667.5h.8v.8h-.8zM153.6 679.1h.8v.8h-.8zM151.7 667.2h.8v.8h-.8zM161.9 659.6h.8v.8h-.8zM145.4 669.5h.8v.8h-.8zM157.2 669.5h.8v.8h-.8zM141.9 670.3h.8v.8h-.8zM150.7 680.3h.8v.8h-.8zM157.7 668.6h.8v.8h-.8zM162.1 669.6h.8v.8h-.8zM162.7 662.8h.8v.8h-.8zM163.9 665.8h.8v.8h-.8zM146.8 677.4h.8v.8h-.8zM160.1 670.4h.8v.8h-.8zM163.8 670.2h.8v.8h-.8zM162.2 667.1h.8v.8h-.8zM147.1 674.0h.8v.8h-.8zM140.8 677.8h.8v.8h-.8zM159.0 672.5h.8v.8h-.8zM154.6 668.8h.8v.8h-.8zM145.4 670.8h.8v.8h-.8zM162.3 661.3h.8v.8h-.8zM151.4 672.9h.8v.8h-.8zM159.7 677.1h.8v.8h-.8zM155.8 667.3h.8v.8h-.8zM142.5 683.9h.8v.8h-.8zM157.0 667.9h.8v.8h-.8zM158.5 673.3h.8v.8h-.8zM151.6 669.4h.8v.8h-.8zM167.6 668.8h.8v.8h-.8zM160.0 672.3h.8v.8h-.8zM142.0 680.0h.8v.8h-.8zM157.6 666.9h.8v.8h-.8zM163.0 667.5h.8v.8h-.8zM146.0 681.3h.8v.8h-.8zM160.8 660.5h.8v.8h-.8zM159.9 667.2h.8v.8h-.8zM155.3 671.6h.8v.8h-.8zM152.3 669.7h.8v.8h-.8zM156.5 676.6h.8v.8h-.8zM161.0 669.3h.8v.8h-.8zM154.4 661.6h.8v.8h-.8zM154.9 664.5h.8v.8h-.8zM139.9 685.3h.8v.8h-.8zM157.4 658.6h.8v.8h-.8zM143.2 677.4h.8v.8h-.8zM149.9 672.1h.8v.8h-.8zM137.7 680.9h.8v.8h-.8zM138.7 677.2h.8v.8h-.8zM160.9 664.9h.8v.8h-.8zM150.9 683.7h.8v.8h-.8zM140.9 677.8h.8v.8h-.8zM157.5 664.9h.8v.8h-.8zM154.9 670.2h.8v.8h-.8zM158.9 666.1h.8v.8h-.8zM158.9 672.2h.8v.8h-.8zM153.8 673.2h.8v.8h-.8zM159.3 658.2h.8v.8h-.8zM141.1 675.3h.8v.8h-.8zM142.3 680.9h.8v.8h-.8zM149.1 673.6h.8v.8h-.8zM150.1 671.2h.8v.8h-.8zM160.9 674.5h.8v.8h-.8zM152.8 671.4h.8v.8h-.8zM148.0 666.7h.8v.8h-.8zM161.3 661.0h.8v.8h-.8zM162.4 664.5h.8v.8h-.8zM163.0 663.6h.8v.8h-.8zM149.9 677.8h.8v.8h-.8zM145.6 682.5h.8v.8h-.8zM144.3 667.1h.8v.8h-.8zM157.4 661.9h.8v.8h-.8zM164.0 665.7h.8v.8h-.8zM145.6 674.2h.8v.8h-.8zM164.6 665.1h.8v.8h-.8zM146.6 674.2h.8v.8h-.8zM163.1 667.7h.8v.8h-.8zM157.7 671.2h.8v.8h-.8zM149.5 674.0h.8v.8h-.8zM151.7 675.0h.8v.8h-.8zM151.7 676.8h.8v.8h-.8zM156.0 668.0h.8v.8h-.8zM149.9 670.9h.8v.8h-.8zM154.4 662.9h.8v.8h-.8zM137.6 674.5h.8v.8h-.8zM155.6 664.3h.8v.8h-.8zM152.7 664.6h.8v.8h-.8zM154.6 664.0h.8v.8h-.8zM155.9 673.5h.8v.8h-.8zM157.8 662.1h.8v.8h-.8zM156.1 666.9h.8v.8h-.8zM146.0 677.6h.8v.8h-.8zM153.1 675.7h.8v.8h-.8zM160.2 666.0h.8v.8h-.8zM152.1 668.6h.8v.8h-.8zM143.2 682.6h.8v.8h-.8zM137.5 678.3h.8v.8h-.8zM143.2 673.8h.8v.8h-.8zM149.4 682.0h.8v.8h-.8zM151.9 673.3h.8v.8h-.8zM163.4 667.0h.8v.8h-.8zM148.1 673.1h.8v.8h-.8zM151.3 670.5h.8v.8h-.8zM162.5 666.5h.8v.8h-.8zM159.7 661.8h.8v.8h-.8zM160.9 663.5h.8v.8h-.8zM146.0 667.4h.8v.8h-.8zM150.1 669.5h.8v.8h-.8zM150.8 668.4h.8v.8h-.8zM144.3 668.5h.8v.8h-.8zM138.1 682.9h.8v.8h-.8zM159.9 672.3h.8v.8h-.8zM162.3 663.3h.8v.8h-.8zM143.7 677.7h.8v.8h-.8zM158.0 668.7h.8v.8h-.8zM153.0 665.5h.8v.8h-.8zM138.4 679.1h.8v.8h-.8zM145.8 673.5h.8v.8h-.8zM147.6 676.6h.8v.8h-.8zM151.1 672.2h.8v.8h-.8zM157.2 669.1h.8v.8h-.8zM157.0 667.9h.8v.8h-.8zM141.2 682.8h.8v.8h-.8zM158.1 668.0h.8v.8h-.8zM159.9 667.7h.8v.8h-.8zM142.3 684.1h.8v.8h-.8zM150.3 667.3h.8v.8h-.8zM140.9 685.5h.8v.8h-.8zM147.3 666.2h.8v.8h-.8zM151.8 681.2h.8v.8h-.8zM143.0 671.3h.8v.8h-.8zM147.5 686.6h.8v.8h-.8zM136.9 682.0h.8v.8h-.8zM158.5 664.7h.8v.8h-.8zM139.3 678.9h.8v.8h-.8zM149.8 673.4h.8v.8h-.8zM158.8 661.6h.8v.8h-.8zM137.0 684.8h.8v.8h-.8zM157.5 671.7h.8v.8h-.8zM144.1 666.7h.8v.8h-.8zM146.6 673.4h.8v.8h-.8zM157.7 658.7h.8v.8h-.8zM155.2 664.9h.8v.8h-.8zM149.9 668.3h.8v.8h-.8zM145.8 680.9h.8v.8h-.8zM139.4 685.5h.8v.8h-.8zM161.9 672.5h.8v.8h-.8zM163.1 668.6h.8v.8h-.8zM149.5 668.8h.8v.8h-.8zM155.3 675.7h.8v.8h-.8zM140.7 672.4h.8v.8h-.8zM147.8 668.5h.8v.8h-.8zM140.6 687.2h.8v.8h-.8zM144.8 674.4h.8v.8h-.8zM151.5 682.6h.8v.8h-.8zM141.2 677.0h.8v.8h-.8zM140.0 681.7h.8v.8h-.8zM158.8 668.6h.8v.8h-.8zM155.5 663.3h.8v.8h-.8zM158.1 666.9h.8v.8h-.8zM150.8 667.3h.8v.8h-.8zM150.1 679.8h.8v.8h-.8zM148.0 673.2h.8v.8h-.8zM139.7 681.6h.8v.8h-.8zM149.9 679.0h.8v.8h-.8zM164.3 664.0h.8v.8h-.8zM142.7 676.2h.8v.8h-.8zM157.0 668.1h.8v.8h-.8zM152.5 670.4h.8v.8h-.8zM143.2 672.1h.8v.8h-.8zM139.2 674.6h.8v.8h-.8zM142.8 676.5h.8v.8h-.8zM153.3 672.8h.8v.8h-.8zM152.5 677.0h.8v.8h-.8zM151.8 673.4h.8v.8h-.8zM146.6 680.0h.8v.8h-.8zM160.6 665.8h.8v.8h-.8zM157.4 671.3h.8v.8h-.8zM156.5 658.0h.8v.8h-.8zM149.9 677.7h.8v.8h-.8zM161.2 670.9h.8v.8h-.8zM159.7 667.6h.8v.8h-.8zM139.8 673.7h.8v.8h-.8zM146.9 669.6h.8v.8h-.8zM163.6 668.1h.8v.8h-.8zM158.5 663.0h.8v.8h-.8zM162.5 664.5h.8v.8h-.8zM152.7 666.0h.8v.8h-.8zM160.3 668.3h.8v.8h-.8zM164.4 669.4h.8v.8h-.8zM135.3 678.9h.8v.8h-.8zM141.0 685.0h.8v.8h-.8zM153.4 668.2h.8v.8h-.8zM142.6 677.5h.8v.8h-.8zM157.5 663.8h.8v.8h-.8zM163.7 670.5h.8v.8h-.8zM156.4 671.3h.8v.8h-.8zM136.6 680.8h.8v.8h-.8zM161.2 662.0h.8v.8h-.8zM156.4 663.8h.8v.8h-.8zM145.2 684.0h.8v.8h-.8zM153.1 666.1h.8v.8h-.8zM147.7 674.0h.8v.8h-.8zM157.5 669.8h.8v.8h-.8zM152.5 665.9h.8v.8h-.8zM156.2 677.2h.8v.8h-.8zM155.9 665.4h.8v.8h-.8zM141.7 679.1h.8v.8h-.8zM151.4 675.4h.8v.8h-.8zM162.6 664.0h.8v.8h-.8zM164.4 664.5h.8v.8h-.8zM155.4 672.4h.8v.8h-.8zM141.7 678.2h.8v.8h-.8zM139.4 679.4h.8v.8h-.8zM153.9 664.0h.8v.8h-.8zM146.7 673.7h.8v.8h-.8zM160.6 665.7h.8v.8h-.8zM146.8 678.0h.8v.8h-.8zM150.2 674.0h.8v.8h-.8zM144.9 681.2h.8v.8h-.8zM144.9 681.5h.8v.8h-.8zM143.8 677.7h.8v.8h-.8zM150.4 677.3h.8v.8h-.8zM164.2 669.0h.8v.8h-.8zM155.3 670.0h.8v.8h-.8zM164.8 667.4h.8v.8h-.8zM143.0 680.2h.8v.8h-.8zM158.9 669.8h.8v.8h-.8zM157.1 671.1h.8v.8h-.8zM144.6 679.0h.8v.8h-.8zM142.7 686.4h.8v.8h-.8zM139.7 678.9h.8v.8h-.8zM141.7 681.0h.8v.8h-.8zM151.4 670.0h.8v.8h-.8zM164.5 663.9h.8v.8h-.8zM150.7 678.3h.8v.8h-.8zM158.1 670.0h.8v.8h-.8zM150.9 678.2h.8v.8h-.8zM149.6 667.8h.8v.8h-.8zM145.0 677.2h.8v.8h-.8zM163.0 664.6h.8v.8h-.8zM160.5 670.9h.8v.8h-.8zM145.3 668.2h.8v.8h-.8zM151.7 679.3h.8v.8h-.8zM151.1 666.2h.8v.8h-.8zM157.6 665.5h.8v.8h-.8zM154.6 657.6h.8v.8h-.8zM150.1 675.4h.8v.8h-.8zM161.6 668.1h.8v.8h-.8zM148.6 674.2h.8v.8h-.8zM155.3 667.6h.8v.8h-.8zM153.9 673.0h.8v.8h-.8zM158.2 660.3h.8v.8h-.8zM155.4 671.1h.8v.8h-.8zM153.1 672.9h.8v.8h-.8zM149.6 679.2h.8v.8h-.8zM145.3 685.5h.8v.8h-.8zM151.3 668.4h.8v.8h-.8zM139.1 674.8h.8v.8h-.8zM147.8 675.5h.8v.8h-.8zM144.8 677.4h.8v.8h-.8zM161.4 664.4h.8v.8h-.8zM157.9 673.9h.8v.8h-.8zM143.9 682.7h.8v.8h-.8zM139.6 681.8h.8v.8h-.8zM159.1 660.5h.8v.8h-.8zM149.7 676.9h.8v.8h-.8zM155.6 665.9h.8v.8h-.8zM146.8 679.5h.8v.8h-.8zM165.9 663.5h.8v.8h-.8zM143.7 677.0h.8v.8h-.8zM162.6 667.7h.8v.8h-.8zM152.0 670.7h.8v.8h-.8zM154.3 672.1h.8v.8h-.8zM163.1 673.3h.8v.8h-.8zM145.4 672.7h.8v.8h-.8zM151.8 679.6h.8v.8h-.8zM162.4 663.8h.8v.8h-.8zM153.4 675.3h.8v.8h-.8zM143.6 679.3h.8v.8h-.8zM165.4 665.2h.8v.8h-.8zM164.0 667.7h.8v.8h-.8zM139.1 679.4h.8v.8h-.8zM148.6 669.8h.8v.8h-.8zM165.4 663.6h.8v.8h-.8zM155.9 674.6h.8v.8h-.8zM156.0 664.4h.8v.8h-.8zM159.1 671.9h.8v.8h-.8zM151.3 664.3h.8v.8h-.8zM142.8 673.2h.8v.8h-.8zM162.1 663.6h.8v.8h-.8zM158.1 663.7h.8v.8h-.8zM160.3 662.9h.8v.8h-.8zM163.7 663.4h.8v.8h-.8zM140.3 682.8h.8v.8h-.8zM160.1 667.7h.8v.8h-.8zM141.7 681.5h.8v.8h-.8zM167.2 667.3h.8v.8h-.8zM151.3 674.8h.8v.8h-.8zM137.9 678.4h.8v.8h-.8zM157.9 670.3h.8v.8h-.8zM135.8 674.5h.8v.8h-.8zM159.1 674.6h.8v.8h-.8zM151.5 671.0h.8v.8h-.8zM162.8 667.2h.8v.8h-.8zM151.0 675.3h.8v.8h-.8zM162.6 663.1h.8v.8h-.8zM163.6 661.7h.8v.8h-.8zM148.3 675.8h.8v.8h-.8zM143.0 681.9h.8v.8h-.8zM140.2 680.2h.8v.8h-.8zM144.0 681.0h.8v.8h-.8zM150.1 669.3h.8v.8h-.8zM143.5 675.0h.8v.8h-.8zM143.1 674.8h.8v.8h-.8zM160.7 669.0h.8v.8h-.8zM135.9 674.8h.8v.8h-.8zM148.9 674.6h.8v.8h-.8zM151.3 675.3h.8v.8h-.8zM161.8 668.8h.8v.8h-.8zM159.2 666.7h.8v.8h-.8zM152.9 675.0h.8v.8h-.8zM142.5 681.3h.8v.8h-.8zM165.6 667.2h.8v.8h-.8zM153.0 665.5h.8v.8h-.8zM159.7 667.1h.8v.8h-.8zM163.5 662.5h.8v.8h-.8zM166.1 664.4h.8v.8h-.8zM163.3 665.8h.8v.8h-.8zM163.0 663.3h.8v.8h-.8zM141.4 680.2h.8v.8h-.8zM156.8 660.7h.8v.8h-.8zM156.8 666.7h.8v.8h-.8zM143.6 672.2h.8v.8h-.8zM150.9 678.9h.8v.8h-.8zM141.5 682.9h.8v.8h-.8zM153.4 664.2h.8v.8h-.8zM148.7 676.8h.8v.8h-.8zM154.5 665.4h.8v.8h-.8zM151.6 672.9h.8v.8h-.8zM148.6 669.9h.8v.8h-.8zM154.8 662.1h.8v.8h-.8zM145.0 667.1h.8v.8h-.8zM141.9 680.2h.8v.8h-.8zM143.9 669.6h.8v.8h-.8zM151.8 675.6h.8v.8h-.8zM152.8 672.4h.8v.8h-.8zM139.3 677.5h.8v.8h-.8zM141.8 686.8h.8v.8h-.8zM144.2 685.3h.8v.8h-.8zM137.6 678.6h.8v.8h-.8zM152.3 674.8h.8v.8h-.8zM158.0 661.6h.8v.8h-.8zM139.0 675.7h.8v.8h-.8zM160.4 663.6h.8v.8h-.8zM142.4 665.3h.8v.8h-.8zM143.3 677.4h.8v.8h-.8zM151.4 676.5h.8v.8h-.8zM157.5 664.7h.8v.8h-.8zM155.6 664.0h.8v.8h-.8zM148.4 673.0h.8v.8h-.8zM150.6 673.1h.8v.8h-.8zM146.4 677.2h.8v.8h-.8zM147.0 670.0h.8v.8h-.8zM166.3 671.9h.8v.8h-.8zM139.4 678.3h.8v.8h-.8zM149.7 673.6h.8v.8h-.8zM143.8 674.1h.8v.8h-.8zM160.0 665.7h.8v.8h-.8zM148.7 671.8h.8v.8h-.8zM143.0 673.0h.8v.8h-.8zM150.4 684.8h.8v.8h-.8zM144.0 687.9h.8v.8h-.8zM152.5 667.2h.8v.8h-.8zM162.4 672.2h.8v.8h-.8zM143.9 682.8h.8v.8h-.8zM151.9 676.9h.8v.8h-.8zM143.0 667.9h.8v.8h-.8zM149.7 679.6h.8v.8h-.8zM144.8 669.0h.8v.8h-.8zM152.9 669.0h.8v.8h-.8zM146.6 671.6h.8v.8h-.8zM148.9 667.3h.8v.8h-.8zM149.9 667.5h.8v.8h-.8zM148.0 673.7h.8v.8h-.8zM141.3 676.9h.8v.8h-.8zM147.8 670.2h.8v.8h-.8zM150.9 659.0h.8v.8h-.8zM158.5 660.5h.8v.8h-.8zM159.2 666.2h.8v.8h-.8zM146.8 674.0h.8v.8h-.8zM159.0 671.0h.8v.8h-.8zM143.2 676.8h.8v.8h-.8zM152.3 680.9h.8v.8h-.8zM159.1 661.0h.8v.8h-.8zM148.7 672.0h.8v.8h-.8zM147.9 678.7h.8v.8h-.8zM152.4 668.1h.8v.8h-.8zM139.5 680.2h.8v.8h-.8zM157.8 666.9h.8v.8h-.8zM159.1 666.0h.8v.8h-.8zM153.8 664.1h.8v.8h-.8zM147.0 682.7h.8v.8h-.8zM146.2 681.6h.8v.8h-.8zM160.2 665.0h.8v.8h-.8zM152.2 668.8h.8v.8h-.8zM137.2 676.0h.8v.8h-.8zM144.7 674.9h.8v.8h-.8zM157.5 670.3h.8v.8h-.8zM164.6 663.0h.8v.8h-.8zM160.5 667.0h.8v.8h-.8zM144.9 681.1h.8v.8h-.8zM159.2 662.9h.8v.8h-.8zM153.2 670.4h.8v.8h-.8zM162.1 666.1h.8v.8h-.8zM162.5 672.0h.8v.8h-.8zM160.1 658.9h.8v.8h-.8zM152.9 668.5h.8v.8h-.8zM146.0 680.5h.8v.8h-.8zM145.5 682.4h.8v.8h-.8zM149.2 673.3h.8v.8h-.8zM165.0 667.2h.8v.8h-.8zM154.9 668.0h.8v.8h-.8zM149.0 672.7h.8v.8h-.8zM153.9 665.5h.8v.8h-.8zM151.6 660.7h.8v.8h-.8zM145.0 671.5h.8v.8h-.8zM138.2 676.8h.8v.8h-.8zM167.3 677.9h.8v.8h-.8zM157.2 658.0h.8v.8h-.8zM153.0 666.8h.8v.8h-.8zM154.1 664.7h.8v.8h-.8zM162.7 663.2h.8v.8h-.8zM157.0 676.6h.8v.8h-.8zM150.5 677.1h.8v.8h-.8zM155.2 671.1h.8v.8h-.8zM158.4 665.4h.8v.8h-.8zM139.1 686.2h.8v.8h-.8zM164.2 662.8h.8v.8h-.8zM155.1 670.4h.8v.8h-.8zM153.9 670.6h.8v.8h-.8zM158.3 660.0h.8v.8h-.8zM156.6 675.3h.8v.8h-.8zM147.1 677.5h.8v.8h-.8zM159.9 669.2h.8v.8h-.8zM140.0 671.2h.8v.8h-.8zM163.1 670.6h.8v.8h-.8zM152.2 661.7h.8v.8h-.8zM155.4 668.3h.8v.8h-.8zM147.8 675.2h.8v.8h-.8zM161.0 671.6h.8v.8h-.8zM133.1 685.2h.8v.8h-.8zM137.9 684.0h.8v.8h-.8zM133.4 684.1h.8v.8h-.8zM152.9 689.8h.8v.8h-.8zM126.9 692.2h.8v.8h-.8zM161.0 688.6h.8v.8h-.8zM150.7 693.8h.8v.8h-.8zM151.1 681.2h.8v.8h-.8zM142.0 685.5h.8v.8h-.8zM143.9 686.9h.8v.8h-.8zM125.7 685.7h.8v.8h-.8zM139.9 682.0h.8v.8h-.8zM151.1 686.6h.8v.8h-.8zM133.5 681.4h.8v.8h-.8zM158.5 682.9h.8v.8h-.8zM150.0 682.9h.8v.8h-.8zM130.5 688.2h.8v.8h-.8zM131.0 680.7h.8v.8h-.8zM154.1 693.5h.8v.8h-.8zM145.7 684.9h.8v.8h-.8zM134.5 681.4h.8v.8h-.8zM159.5 693.7h.8v.8h-.8zM145.4 687.3h.8v.8h-.8zM140.5 684.2h.8v.8h-.8zM162.2 691.8h.8v.8h-.8zM138.3 678.3h.8v.8h-.8zM125.9 694.8h.8v.8h-.8zM141.0 687.6h.8v.8h-.8zM158.9 693.2h.8v.8h-.8zM155.2 694.7h.8v.8h-.8zM149.0 691.9h.8v.8h-.8zM161.8 691.4h.8v.8h-.8zM145.0 680.2h.8v.8h-.8zM137.8 685.1h.8v.8h-.8zM130.8 683.3h.8v.8h-.8zM153.5 680.2h.8v.8h-.8zM126.8 681.5h.8v.8h-.8zM158.6 685.5h.8v.8h-.8zM142.7 687.9h.8v.8h-.8zM136.8 677.7h.8v.8h-.8zM152.5 688.4h.8v.8h-.8zM136.2 688.6h.8v.8h-.8zM158.6 694.8h.8v.8h-.8zM148.6 687.2h.8v.8h-.8zM129.6 679.1h.8v.8h-.8zM132.7 690.4h.8v.8h-.8zM148.2 694.5h.8v.8h-.8zM155.8 685.3h.8v.8h-.8zM162.0 694.8h.8v.8h-.8zM138.1 682.8h.8v.8h-.8zM139.5 679.6h.8v.8h-.8zM134.2 677.7h.8v.8h-.8zM140.3 684.2h.8v.8h-.8zM141.1 683.6h.8v.8h-.8zM154.0 680.8h.8v.8h-.8zM135.1 681.5h.8v.8h-.8zM146.6 683.3h.8v.8h-.8zM159.9 689.1h.8v.8h-.8zM149.3 689.6h.8v.8h-.8zM159.8 686.8h.8v.8h-.8zM152.3 680.0h.8v.8h-.8zM138.0 685.8h.8v.8h-.8zM142.6 692.3h.8v.8h-.8zM140.2 679.4h.8v.8h-.8zM128.4 680.4h.8v.8h-.8zM149.7 682.3h.8v.8h-.8zM159.0 686.3h.8v.8h-.8zM131.6 692.5h.8v.8h-.8zM136.7 677.1h.8v.8h-.8zM162.6 693.6h.8v.8h-.8zM140.9 677.6h.8v.8h-.8zM139.4 686.0h.8v.8h-.8zM127.1 686.2h.8v.8h-.8zM150.9 694.7h.8v.8h-.8zM130.5 692.3h.8v.8h-.8zM143.6 694.7h.8v.8h-.8zM127.3 687.6h.8v.8h-.8zM159.2 690.3h.8v.8h-.8zM129.4 689.6h.8v.8h-.8zM152.4 684.7h.8v.8h-.8zM146.0 694.4h.8v.8h-.8zM157.1 689.4h.8v.8h-.8zM153.5 684.2h.8v.8h-.8zM136.7 688.7h.8v.8h-.8zM149.7 688.7h.8v.8h-.8zM134.3 684.4h.8v.8h-.8zM137.6 691.5h.8v.8h-.8zM130.1 693.2h.8v.8h-.8zM135.0 678.9h.8v.8h-.8zM144.2 688.9h.8v.8h-.8zM133.6 694.3h.8v.8h-.8zM147.3 683.2h.8v.8h-.8zM154.5 683.2h.8v.8h-.8zM146.6 688.1h.8v.8h-.8zM127.2 682.5h.8v.8h-.8zM148.0 690.0h.8v.8h-.8zM159.2 683.5h.8v.8h-.8zM135.0 680.3h.8v.8h-.8zM151.3 694.2h.8v.8h-.8zM125.4 684.7h.8v.8h-.8zM139.1 691.8h.8v.8h-.8zM131.8 684.7h.8v.8h-.8zM144.9 687.7h.8v.8h-.8zM133.2 679.7h.8v.8h-.8zM148.2 688.9h.8v.8h-.8zM134.3 688.2h.8v.8h-.8zM147.6 680.9h.8v.8h-.8zM157.9 684.1h.8v.8h-.8zM136.4 678.6h.8v.8h-.8zM136.3 678.2h.8v.8h-.8zM152.0 689.1h.8v.8h-.8zM135.4 685.2h.8v.8h-.8zM154.7 684.5h.8v.8h-.8zM147.2 688.2h.8v.8h-.8zM134.9 679.3h.8v.8h-.8zM157.1 682.1h.8v.8h-.8zM128.9 685.8h.8v.8h-.8zM157.4 684.2h.8v.8h-.8zM151.6 692.1h.8v.8h-.8zM137.9 680.8h.8v.8h-.8zM133.6 688.1h.8v.8h-.8zM162.0 690.7h.8v.8h-.8zM145.5 681.7h.8v.8h-.8zM163.8 693.1h.8v.8h-.8zM151.4 678.2h.8v.8h-.8zM156.9 683.0h.8v.8h-.8zM135.1 683.3h.8v.8h-.8zM125.5 691.6h.8v.8h-.8zM129.0 686.9h.8v.8h-.8zM148.2 682.0h.8v.8h-.8zM160.8 694.6h.8v.8h-.8zM157.2 691.1h.8v.8h-.8zM146.2 694.5h.8v.8h-.8zM131.9 681.7h.8v.8h-.8zM148.9 686.6h.8v.8h-.8zM135.7 685.7h.8v.8h-.8zM132.4 691.2h.8v.8h-.8zM135.6 677.5h.8v.8h-.8zM153.1 682.5h.8v.8h-.8zM149.3 688.4h.8v.8h-.8zM135.0 677.4h.8v.8h-.8zM137.8 684.0h.8v.8h-.8zM127.2 686.9h.8v.8h-.8zM152.6 689.1h.8v.8h-.8zM143.9 689.3h.8v.8h-.8zM156.1 681.0h.8v.8h-.8zM146.9 687.8h.8v.8h-.8zM135.9 694.2h.8v.8h-.8zM141.6 690.7h.8v.8h-.8zM138.6 689.3h.8v.8h-.8zM136.2 688.5h.8v.8h-.8zM155.5 694.3h.8v.8h-.8zM133.9 684.7h.8v.8h-.8zM161.4 689.7h.8v.8h-.8zM127.7 685.2h.8v.8h-.8zM141.3 680.1h.8v.8h-.8zM163.2 689.3h.8v.8h-.8zM151.9 682.3h.8v.8h-.8zM131.1 695.0h.8v.8h-.8zM157.2 686.2h.8v.8h-.8zM129.9 679.1h.8v.8h-.8zM153.5 693.5h.8v.8h-.8zM131.5 686.0h.8v.8h-.8zM134.1 688.1h.8v.8h-.8zM126.0 693.4h.8v.8h-.8zM146.1 690.7h.8v.8h-.8zM138.5 687.3h.8v.8h-.8zM150.7 680.5h.8v.8h-.8zM165.2 693.4h.8v.8h-.8zM134.5 688.8h.8v.8h-.8zM143.2 679.8h.8v.8h-.8zM145.2 693.6h.8v.8h-.8zM149.2 694.6h.8v.8h-.8zM127.5 681.4h.8v.8h-.8zM147.5 688.3h.8v.8h-.8zM134.3 677.6h.8v.8h-.8zM135.9 681.1h.8v.8h-.8zM153.0 687.8h.8v.8h-.8zM132.0 684.8h.8v.8h-.8zM158.1 691.7h.8v.8h-.8zM136.8 684.2h.8v.8h-.8zM162.1 692.9h.8v.8h-.8zM136.1 688.6h.8v.8h-.8zM148.6 679.6h.8v.8h-.8zM147.8 679.6h.8v.8h-.8zM158.3 683.7h.8v.8h-.8zM160.5 694.0h.8v.8h-.8zM156.9 691.6h.8v.8h-.8zM135.5 689.9h.8v.8h-.8zM160.6 686.8h.8v.8h-.8zM149.8 683.1h.8v.8h-.8zM161.2 690.2h.8v.8h-.8zM161.2 687.2h.8v.8h-.8zM128.1 687.2h.8v.8h-.8zM130.7 687.9h.8v.8h-.8zM142.4 679.3h.8v.8h-.8zM136.3 682.8h.8v.8h-.8zM131.4 681.4h.8v.8h-.8zM151.6 679.5h.8v.8h-.8zM139.5 691.4h.8v.8h-.8zM148.6 682.0h.8v.8h-.8zM138.6 686.3h.8v.8h-.8zM128.4 678.8h.8v.8h-.8zM147.0 685.5h.8v.8h-.8zM145.1 693.9h.8v.8h-.8zM162.1 688.8h.8v.8h-.8zM147.6 681.3h.8v.8h-.8zM152.5 695.1h.8v.8h-.8zM137.0 688.4h.8v.8h-.8zM129.3 688.6h.8v.8h-.8zM153.0 692.3h.8v.8h-.8zM136.5 680.1h.8v.8h-.8zM135.2 683.0h.8v.8h-.8zM143.6 687.8h.8v.8h-.8zM142.5 688.2h.8v.8h-.8zM138.2 682.6h.8v.8h-.8zM158.6 687.5h.8v.8h-.8zM153.7 684.0h.8v.8h-.8zM131.1 682.3h.8v.8h-.8zM130.7 692.7h.8v.8h-.8zM132.0 684.7h.8v.8h-.8zM139.0 680.2h.8v.8h-.8zM153.1 684.8h.8v.8h-.8zM139.2 683.5h.8v.8h-.8zM152.4 678.4h.8v.8h-.8zM144.5 693.0h.8v.8h-.8zM160.4 687.8h.8v.8h-.8zM161.5 692.9h.8v.8h-.8zM151.5 689.0h.8v.8h-.8zM147.2 677.9h.8v.8h-.8zM129.9 684.7h.8v.8h-.8zM162.3 694.8h.8v.8h-.8zM148.3 684.0h.8v.8h-.8zM137.8 684.0h.8v.8h-.8zM139.7 683.8h.8v.8h-.8zM140.3 691.5h.8v.8h-.8zM144.5 686.1h.8v.8h-.8zM152.1 679.9h.8v.8h-.8zM145.1 690.9h.8v.8h-.8zM146.9 693.9h.8v.8h-.8zM156.4 689.0h.8v.8h-.8zM133.1 693.0h.8v.8h-.8zM145.7 691.8h.8v.8h-.8zM148.8 683.2h.8v.8h-.8zM144.9 689.3h.8v.8h-.8zM144.9 679.4h.8v.8h-.8zM150.5 685.7h.8v.8h-.8zM142.2 678.9h.8v.8h-.8zM152.1 680.1h.8v.8h-.8zM133.4 684.9h.8v.8h-.8zM130.3 692.4h.8v.8h-.8zM141.5 678.7h.8v.8h-.8zM148.1 684.0h.8v.8h-.8zM137.8 680.9h.8v.8h-.8zM135.0 685.5h.8v.8h-.8zM159.9 695.0h.8v.8h-.8zM135.9 686.0h.8v.8h-.8zM131.6 690.1h.8v.8h-.8zM149.2 678.3h.8v.8h-.8zM144.2 684.1h.8v.8h-.8zM151.3 687.2h.8v.8h-.8zM147.5 683.1h.8v.8h-.8zM156.8 687.0h.8v.8h-.8zM164.9 694.3h.8v.8h-.8zM125.7 693.7h.8v.8h-.8zM149.3 688.3h.8v.8h-.8zM143.9 689.8h.8v.8h-.8zM130.9 689.1h.8v.8h-.8zM149.7 693.0h.8v.8h-.8zM141.8 681.2h.8v.8h-.8zM130.1 681.4h.8v.8h-.8zM147.7 686.4h.8v.8h-.8zM153.3 692.0h.8v.8h-.8zM148.5 683.1h.8v.8h-.8zM138.9 692.3h.8v.8h-.8zM135.3 689.8h.8v.8h-.8zM129.0 691.2h.8v.8h-.8zM129.9 688.7h.8v.8h-.8zM163.9 692.0h.8v.8h-.8zM155.3 688.0h.8v.8h-.8zM141.3 691.1h.8v.8h-.8zM147.7 692.7h.8v.8h-.8zM159.8 693.0h.8v.8h-.8zM138.7 680.7h.8v.8h-.8zM139.3 681.1h.8v.8h-.8zM135.5 681.0h.8v.8h-.8zM147.4 692.8h.8v.8h-.8zM163.5 692.0h.8v.8h-.8zM143.4 690.4h.8v.8h-.8zM157.8 685.7h.8v.8h-.8zM150.6 693.8h.8v.8h-.8zM140.5 687.8h.8v.8h-.8zM138.5 695.0h.8v.8h-.8zM164.3 690.6h.8v.8h-.8zM154.9 686.8h.8v.8h-.8zM142.9 693.5h.8v.8h-.8zM139.2 679.2h.8v.8h-.8zM158.5 686.7h.8v.8h-.8zM140.8 691.4h.8v.8h-.8zM131.9 678.0h.8v.8h-.8zM151.5 683.3h.8v.8h-.8zM133.1 683.6h.8v.8h-.8zM132.6 678.7h.8v.8h-.8zM133.9 694.6h.8v.8h-.8zM138.8 679.4h.8v.8h-.8zM160.4 689.7h.8v.8h-.8zM158.0 684.0h.8v.8h-.8zM155.1 686.2h.8v.8h-.8zM136.8 686.2h.8v.8h-.8zM147.5 681.6h.8v.8h-.8zM131.7 683.3h.8v.8h-.8zM133.6 684.9h.8v.8h-.8zM138.7 687.6h.8v.8h-.8zM160.9 694.9h.8v.8h-.8zM141.9 676.4h.8v.8h-.8zM154.7 691.0h.8v.8h-.8zM149.1 679.4h.8v.8h-.8zM158.0 685.4h.8v.8h-.8zM127.1 680.7h.8v.8h-.8zM137.9 689.3h.8v.8h-.8zM143.1 680.0h.8v.8h-.8zM135.2 683.5h.8v.8h-.8zM153.5 681.7h.8v.8h-.8zM129.9 692.1h.8v.8h-.8zM143.4 692.5h.8v.8h-.8zM160.5 688.6h.8v.8h-.8zM156.0 686.2h.8v.8h-.8zM161.2 689.4h.8v.8h-.8zM160.1 687.8h.8v.8h-.8zM140.5 692.5h.8v.8h-.8zM148.0 684.6h.8v.8h-.8zM144.6 683.5h.8v.8h-.8zM146.5 681.9h.8v.8h-.8zM146.8 692.6h.8v.8h-.8zM131.0 689.8h.8v.8h-.8zM139.7 689.1h.8v.8h-.8zM130.0 693.4h.8v.8h-.8zM154.9 683.3h.8v.8h-.8zM153.3 692.0h.8v.8h-.8zM126.6 690.5h.8v.8h-.8zM130.9 681.8h.8v.8h-.8zM135.4 694.7h.8v.8h-.8zM138.9 685.8h.8v.8h-.8zM135.7 693.5h.8v.8h-.8zM146.7 685.8h.8v.8h-.8zM153.2 682.7h.8v.8h-.8zM131.7 683.6h.8v.8h-.8zM137.5 686.5h.8v.8h-.8zM136.2 693.4h.8v.8h-.8zM126.4 692.7h.8v.8h-.8zM152.9 686.0h.8v.8h-.8zM156.1 687.0h.8v.8h-.8zM125.8 682.6h.8v.8h-.8zM147.3 693.2h.8v.8h-.8zM139.8 687.1h.8v.8h-.8zM125.3 685.9h.8v.8h-.8zM147.8 689.1h.8v.8h-.8zM133.6 694.8h.8v.8h-.8zM127.9 681.4h.8v.8h-.8zM133.7 684.1h.8v.8h-.8zM147.1 694.6h.8v.8h-.8zM148.6 680.4h.8v.8h-.8zM155.4 681.0h.8v.8h-.8zM165.7 694.9h.8v.8h-.8zM162.6 687.3h.8v.8h-.8zM136.4 690.5h.8v.8h-.8zM138.9 685.1h.8v.8h-.8zM129.5 680.2h.8v.8h-.8zM130.0 689.0h.8v.8h-.8zM160.1 686.0h.8v.8h-.8zM141.8 688.3h.8v.8h-.8zM148.1 686.0h.8v.8h-.8zM160.7 686.7h.8v.8h-.8zM157.5 682.3h.8v.8h-.8zM129.7 694.3h.8v.8h-.8zM132.9 685.6h.8v.8h-.8zM136.8 694.2h.8v.8h-.8zM130.0 681.2h.8v.8h-.8zM135.0 682.6h.8v.8h-.8zM127.9 692.8h.8v.8h-.8zM151.5 691.7h.8v.8h-.8zM163.5 689.5h.8v.8h-.8zM151.2 692.9h.8v.8h-.8zM154.2 688.5h.8v.8h-.8zM159.9 687.3h.8v.8h-.8zM126.3 684.4h.8v.8h-.8zM158.5 686.6h.8v.8h-.8zM125.6 691.0h.8v.8h-.8zM125.8 686.2h.8v.8h-.8zM128.3 688.7h.8v.8h-.8zM126.6 684.3h.8v.8h-.8zM147.3 690.8h.8v.8h-.8zM146.4 694.9h.8v.8h-.8zM133.3 692.0h.8v.8h-.8zM145.3 691.9h.8v.8h-.8zM157.1 681.6h.8v.8h-.8zM134.6 691.1h.8v.8h-.8zM158.3 691.0h.8v.8h-.8zM144.8 695.1h.8v.8h-.8zM131.0 690.8h.8v.8h-.8zM144.7 694.2h.8v.8h-.8zM142.4 688.7h.8v.8h-.8zM136.1 694.3h.8v.8h-.8zM150.9 695.1h.8v.8h-.8zM152.6 680.9h.8v.8h-.8zM149.5 684.8h.8v.8h-.8zM141.4 688.3h.8v.8h-.8zM143.1 687.8h.8v.8h-.8zM147.5 691.8h.8v.8h-.8zM125.8 691.0h.8v.8h-.8zM136.9 677.0h.8v.8h-.8zM142.5 694.0h.8v.8h-.8zM147.8 677.5h.8v.8h-.8zM126.2 689.9h.8v.8h-.8zM137.6 680.1h.8v.8h-.8zM126.4 684.8h.8v.8h-.8zM148.0 682.6h.8v.8h-.8zM127.1 686.8h.8v.8h-.8zM162.1 689.7h.8v.8h-.8zM139.1 689.7h.8v.8h-.8zM148.8 682.2h.8v.8h-.8zM128.0 686.4h.8v.8h-.8zM147.3 679.6h.8v.8h-.8zM129.9 685.6h.8v.8h-.8zM152.8 683.1h.8v.8h-.8zM152.1 690.1h.8v.8h-.8zM137.2 686.3h.8v.8h-.8zM146.4 680.7h.8v.8h-.8zM147.3 687.7h.8v.8h-.8zM135.7 677.8h.8v.8h-.8zM142.9 692.5h.8v.8h-.8zM147.4 683.0h.8v.8h-.8zM154.8 683.1h.8v.8h-.8zM148.5 690.8h.8v.8h-.8zM138.9 684.2h.8v.8h-.8zM144.5 682.2h.8v.8h-.8zM163.5 694.9h.8v.8h-.8zM130.6 685.7h.8v.8h-.8zM147.1 694.8h.8v.8h-.8zM135.8 682.5h.8v.8h-.8zM151.0 684.3h.8v.8h-.8zM163.7 689.4h.8v.8h-.8zM132.5 688.5h.8v.8h-.8zM159.6 692.5h.8v.8h-.8zM129.6 691.9h.8v.8h-.8zM155.4 680.6h.8v.8h-.8zM141.2 678.4h.8v.8h-.8zM139.4 689.5h.8v.8h-.8zM130.1 681.0h.8v.8h-.8zM137.8 679.6h.8v.8h-.8zM141.5 692.4h.8v.8h-.8zM140.9 692.7h.8v.8h-.8zM128.6 692.0h.8v.8h-.8zM127.3 685.6h.8v.8h-.8zM150.3 684.0h.8v.8h-.8zM140.3 689.0h.8v.8h-.8zM138.3 693.1h.8v.8h-.8zM147.9 689.0h.8v.8h-.8zM127.8 684.1h.8v.8h-.8zM143.4 677.2h.8v.8h-.8zM143.6 677.5h.8v.8h-.8zM133.2 684.5h.8v.8h-.8zM146.1 691.1h.8v.8h-.8zM125.9 689.5h.8v.8h-.8zM151.4 680.7h.8v.8h-.8zM134.7 683.7h.8v.8h-.8zM140.4 681.0h.8v.8h-.8zM151.9 689.8h.8v.8h-.8zM136.3 680.6h.8v.8h-.8zM129.4 684.5h.8v.8h-.8zM156.4 665.7h.8v.8h-.8zM142.8 683.2h.8v.8h-.8zM133.0 695.3h.8v.8h-.8zM135.2 688.4h.8v.8h-.8zM133.0 684.1h.8v.8h-.8zM148.4 667.5h.8v.8h-.8zM129.2 680.2h.8v.8h-.8zM135.6 685.3h.8v.8h-.8zM139.3 689.8h.8v.8h-.8zM167.6 677.6h.8v.8h-.8zM156.3 678.4h.8v.8h-.8zM158.1 691.9h.8v.8h-.8zM153.7 679.5h.8v.8h-.8zM162.6 666.2h.8v.8h-.8zM141.4 674.2h.8v.8h-.8zM151.1 673.5h.8v.8h-.8zM132.9 691.6h.8v.8h-.8zM126.0 691.3h.8v.8h-.8zM156.1 690.0h.8v.8h-.8zM156.4 666.5h.8v.8h-.8zM145.5 680.5h.8v.8h-.8zM130.2 692.8h.8v.8h-.8zM156.0 669.4h.8v.8h-.8zM148.0 687.7h.8v.8h-.8zM141.3 675.5h.8v.8h-.8zM152.6 667.7h.8v.8h-.8zM132.0 693.9h.8v.8h-.8zM141.8 680.6h.8v.8h-.8zM140.5 685.3h.8v.8h-.8zM166.8 676.9h.8v.8h-.8zM135.0 673.6h.8v.8h-.8zM160.2 680.6h.8v.8h-.8zM165.5 685.3h.8v.8h-.8zM154.3 680.4h.8v.8h-.8zM162.2 694.1h.8v.8h-.8zM170.1 690.6h.8v.8h-.8zM139.3 674.6h.8v.8h-.8zM150.0 685.4h.8v.8h-.8zM141.6 682.2h.8v.8h-.8zM144.2 681.6h.8v.8h-.8zM155.4 677.4h.8v.8h-.8zM151.9 674.2h.8v.8h-.8zM162.6 666.5h.8v.8h-.8zM140.2 693.9h.8v.8h-.8zM158.2 672.8h.8v.8h-.8zM162.4 682.3h.8v.8h-.8zM162.9 676.7h.8v.8h-.8zM126.3 694.5h.8v.8h-.8zM135.6 691.6h.8v.8h-.8zM139.2 678.9h.8v.8h-.8zM168.0 673.0h.8v.8h-.8zM154.1 686.6h.8v.8h-.8zM149.3 675.5h.8v.8h-.8zM150.8 685.2h.8v.8h-.8zM159.5 670.0h.8v.8h-.8zM169.7 694.7h.8v.8h-.8zM148.5 684.4h.8v.8h-.8zM168.1 681.0h.8v.8h-.8zM160.7 670.2h.8v.8h-.8zM162.0 667.6h.8v.8h-.8zM156.6 688.2h.8v.8h-.8zM157.6 680.4h.8v.8h-.8zM151.9 695.9h.8v.8h-.8zM152.5 686.6h.8v.8h-.8zM155.4 663.7h.8v.8h-.8zM159.3 669.7h.8v.8h-.8zM127.0 695.0h.8v.8h-.8zM133.5 676.3h.8v.8h-.8zM153.7 680.0h.8v.8h-.8zM164.2 663.5h.8v.8h-.8zM126.2 692.6h.8v.8h-.8zM147.7 691.4h.8v.8h-.8zM149.4 685.5h.8v.8h-.8zM162.9 682.5h.8v.8h-.8zM135.3 679.4h.8v.8h-.8zM150.5 695.4h.8v.8h-.8zM135.7 679.1h.8v.8h-.8zM149.5 688.9h.8v.8h-.8zM167.7 680.8h.8v.8h-.8zM158.2 689.3h.8v.8h-.8zM134.9 685.0h.8v.8h-.8zM128.1 693.4h.8v.8h-.8zM164.3 662.1h.8v.8h-.8zM148.2 682.2h.8v.8h-.8zM137.9 671.7h.8v.8h-.8zM158.0 676.5h.8v.8h-.8zM163.4 689.5h.8v.8h-.8zM162.3 682.9h.8v.8h-.8zM141.9 684.4h.8v.8h-.8zM154.6 672.8h.8v.8h-.8zM161.5 664.1h.8v.8h-.8zM166.0 688.3h.8v.8h-.8zM130.2 689.3h.8v.8h-.8zM148.5 670.2h.8v.8h-.8zM157.1 672.6h.8v.8h-.8zM163.6 691.6h.8v.8h-.8zM153.9 691.9h.8v.8h-.8zM130.6 694.6h.8v.8h-.8zM148.3 674.4h.8v.8h-.8zM150.2 686.4h.8v.8h-.8zM141.2 676.2h.8v.8h-.8zM129.0 682.8h.8v.8h-.8zM151.7 666.0h.8v.8h-.8zM137.6 673.4h.8v.8h-.8zM140.7 673.4h.8v.8h-.8zM166.1 694.5h.8v.8h-.8zM144.6 695.4h.8v.8h-.8zM165.3 671.6h.8v.8h-.8zM152.7 680.5h.8v.8h-.8zM158.5 681.7h.8v.8h-.8zM138.6 684.8h.8v.8h-.8zM160.9 661.3h.8v.8h-.8zM155.7 692.6h.8v.8h-.8zM144.5 678.3h.8v.8h-.8zM166.3 663.2h.8v.8h-.8zM151.4 676.9h.8v.8h-.8zM126.0 695.2h.8v.8h-.8zM155.1 695.4h.8v.8h-.8zM151.1 673.1h.8v.8h-.8zM158.9 690.9h.8v.8h-.8zM142.9 674.3h.8v.8h-.8zM167.8 672.2h.8v.8h-.8zM135.9 679.5h.8v.8h-.8zM136.5 695.2h.8v.8h-.8zM131.1 690.2h.8v.8h-.8zM164.1 670.5h.8v.8h-.8zM148.4 687.3h.8v.8h-.8zM148.6 675.4h.8v.8h-.8zM158.3 688.8h.8v.8h-.8zM170.1 691.1h.8v.8h-.8zM167.0 679.8h.8v.8h-.8zM148.1 677.3h.8v.8h-.8zM138.9 693.0h.8v.8h-.8zM139.8 657.2h.8v.8h-.8zM136.9 690.6h.8v.8h-.8zM148.1 696.2h.8v.8h-.8zM129.0 664.5h.8v.8h-.8zM131.2 696.2h.8v.8h-.8zM131.6 685.2h.8v.8h-.8zM154.6 683.8h.8v.8h-.8zM161.5 673.3h.8v.8h-.8zM160.6 691.1h.8v.8h-.8zM162.4 689.3h.8v.8h-.8zM131.6 694.0h.8v.8h-.8zM151.3 676.6h.8v.8h-.8zM156.6 682.3h.8v.8h-.8zM138.4 666.9h.8v.8h-.8zM156.2 684.2h.8v.8h-.8zM163.6 678.2h.8v.8h-.8zM135.4 679.4h.8v.8h-.8zM154.2 665.4h.8v.8h-.8zM153.0 691.6h.8v.8h-.8zM147.3 665.2h.8v.8h-.8z" fill="#3536a2" fill-opacity="0.85"/>
<polygon points="124.7,693.1 131.4,694.3 146.4,694.9 161.4,695.4 169.9,695.7 171.4,698.6 166.4,701.1 151.4,702.4 136.4,703.3 124.7,703.9" fill="#1f2180" fill-opacity="0.95" filter="url(#bl2)"/>
<path d="M167.3 697.6h.8v.8h-.8zM147.5 699.0h.8v.8h-.8zM143.6 703.2h.8v.8h-.8zM142.8 702.1h.8v.8h-.8zM146.8 696.0h.8v.8h-.8zM160.5 701.4h.8v.8h-.8zM142.1 695.5h.8v.8h-.8zM142.8 697.8h.8v.8h-.8zM127.4 703.2h.8v.8h-.8zM150.9 702.7h.8v.8h-.8zM160.1 702.1h.8v.8h-.8zM138.2 697.6h.8v.8h-.8zM153.3 702.2h.8v.8h-.8zM162.6 697.5h.8v.8h-.8zM155.1 697.6h.8v.8h-.8zM126.2 698.1h.8v.8h-.8zM169.7 699.8h.8v.8h-.8zM153.2 695.5h.8v.8h-.8zM159.2 696.9h.8v.8h-.8zM149.4 698.7h.8v.8h-.8zM135.3 698.4h.8v.8h-.8zM156.0 700.1h.8v.8h-.8zM161.1 698.4h.8v.8h-.8zM146.9 696.6h.8v.8h-.8zM157.0 698.4h.8v.8h-.8zM169.6 701.1h.8v.8h-.8zM157.7 702.1h.8v.8h-.8zM130.1 695.1h.8v.8h-.8zM166.7 698.4h.8v.8h-.8zM139.5 699.9h.8v.8h-.8zM147.1 702.9h.8v.8h-.8zM158.6 697.9h.8v.8h-.8zM161.3 699.5h.8v.8h-.8zM162.4 703.0h.8v.8h-.8zM128.3 697.2h.8v.8h-.8zM170.5 697.8h.8v.8h-.8zM158.5 697.6h.8v.8h-.8zM167.5 695.5h.8v.8h-.8zM160.3 697.9h.8v.8h-.8zM156.0 695.2h.8v.8h-.8zM169.6 695.2h.8v.8h-.8zM164.9 700.4h.8v.8h-.8zM165.9 701.0h.8v.8h-.8zM135.6 698.6h.8v.8h-.8zM134.2 697.5h.8v.8h-.8zM137.4 702.9h.8v.8h-.8zM139.5 695.7h.8v.8h-.8zM165.4 695.7h.8v.8h-.8zM140.2 702.2h.8v.8h-.8zM162.0 698.6h.8v.8h-.8zM129.9 698.7h.8v.8h-.8zM160.9 696.9h.8v.8h-.8zM159.4 702.7h.8v.8h-.8zM163.5 700.3h.8v.8h-.8zM145.1 699.0h.8v.8h-.8zM166.7 700.9h.8v.8h-.8zM136.5 696.5h.8v.8h-.8zM147.2 699.8h.8v.8h-.8zM127.0 700.9h.8v.8h-.8zM165.8 695.6h.8v.8h-.8zM163.9 702.3h.8v.8h-.8zM163.9 701.3h.8v.8h-.8zM134.9 701.5h.8v.8h-.8zM134.5 698.3h.8v.8h-.8zM160.8 698.6h.8v.8h-.8zM157.1 698.0h.8v.8h-.8zM143.3 697.0h.8v.8h-.8zM126.2 695.2h.8v.8h-.8zM142.7 698.7h.8v.8h-.8zM137.7 698.5h.8v.8h-.8zM139.5 701.4h.8v.8h-.8zM170.5 695.7h.8v.8h-.8zM141.6 700.0h.8v.8h-.8zM162.8 695.9h.8v.8h-.8zM160.7 700.7h.8v.8h-.8zM154.8 699.7h.8v.8h-.8zM164.7 701.0h.8v.8h-.8zM157.1 699.3h.8v.8h-.8zM166.3 701.3h.8v.8h-.8zM135.8 703.2h.8v.8h-.8zM164.3 695.8h.8v.8h-.8zM149.3 699.1h.8v.8h-.8zM166.6 700.9h.8v.8h-.8zM159.6 698.9h.8v.8h-.8zM150.6 700.2h.8v.8h-.8zM142.8 702.0h.8v.8h-.8zM153.7 700.5h.8v.8h-.8zM141.7 699.0h.8v.8h-.8zM135.8 700.7h.8v.8h-.8zM138.4 703.0h.8v.8h-.8zM156.3 699.5h.8v.8h-.8zM167.8 695.6h.8v.8h-.8zM136.5 695.2h.8v.8h-.8zM168.5 702.1h.8v.8h-.8zM136.5 697.1h.8v.8h-.8zM169.0 703.2h.8v.8h-.8zM163.2 701.6h.8v.8h-.8zM155.0 700.2h.8v.8h-.8zM135.2 699.6h.8v.8h-.8zM137.2 696.6h.8v.8h-.8zM156.7 700.2h.8v.8h-.8zM151.6 695.2h.8v.8h-.8zM161.2 701.1h.8v.8h-.8zM140.5 697.0h.8v.8h-.8zM158.2 697.7h.8v.8h-.8zM127.5 700.0h.8v.8h-.8zM136.6 703.1h.8v.8h-.8zM143.6 698.0h.8v.8h-.8zM128.1 699.6h.8v.8h-.8zM136.4 697.7h.8v.8h-.8zM129.3 695.6h.8v.8h-.8zM149.3 696.3h.8v.8h-.8zM162.0 702.5h.8v.8h-.8zM152.2 699.9h.8v.8h-.8zM133.5 696.3h.8v.8h-.8zM152.5 702.5h.8v.8h-.8zM167.7 697.1h.8v.8h-.8zM130.5 697.7h.8v.8h-.8zM134.3 702.6h.8v.8h-.8zM146.8 701.9h.8v.8h-.8zM139.6 700.3h.8v.8h-.8zM166.6 695.9h.8v.8h-.8zM133.6 701.3h.8v.8h-.8zM168.0 699.8h.8v.8h-.8zM167.9 695.5h.8v.8h-.8zM170.6 699.2h.8v.8h-.8zM158.1 701.6h.8v.8h-.8zM155.1 698.9h.8v.8h-.8zM169.4 699.5h.8v.8h-.8zM161.6 701.9h.8v.8h-.8zM129.9 702.5h.8v.8h-.8zM137.9 698.5h.8v.8h-.8zM169.5 696.3h.8v.8h-.8zM136.1 697.9h.8v.8h-.8zM142.1 696.1h.8v.8h-.8zM131.9 701.3h.8v.8h-.8zM162.0 703.4h.8v.8h-.8zM153.5 700.8h.8v.8h-.8zM170.8 701.2h.8v.8h-.8zM155.1 700.8h.8v.8h-.8zM164.9 695.3h.8v.8h-.8zM147.7 700.8h.8v.8h-.8zM143.8 697.7h.8v.8h-.8zM169.8 701.7h.8v.8h-.8zM161.8 700.2h.8v.8h-.8zM169.9 700.4h.8v.8h-.8zM147.6 699.0h.8v.8h-.8zM160.7 699.9h.8v.8h-.8zM167.3 699.7h.8v.8h-.8zM143.7 700.1h.8v.8h-.8zM126.7 696.3h.8v.8h-.8zM159.7 696.3h.8v.8h-.8zM134.3 699.8h.8v.8h-.8zM165.1 696.4h.8v.8h-.8zM169.1 700.5h.8v.8h-.8zM150.9 700.6h.8v.8h-.8zM155.9 703.0h.8v.8h-.8zM170.6 697.7h.8v.8h-.8zM142.5 703.7h.8v.8h-.8zM137.8 699.9h.8v.8h-.8z" fill="#2a2b90" fill-opacity="0.7"/>
<g filter="url(#bl1)">
<polygon points="124.7,683.1 126.9,685.1 127.9,693.1 124.7,695.1" fill="#2a6fc0" fill-opacity="0.7"/>
<polygon points="124.7,688.1 128.4,694.6 136.4,696.6 144.4,698.1 150.4,699.7 142.4,702.3 132.4,703.4 124.7,703.9" fill="#2a86c8" fill-opacity="0.9"/>
<polygon points="124.7,692.1 127.4,696.9 134.4,698.6 141.4,700.1 133.4,702.5 124.7,703.6" fill="#27c0dc"/>
<ellipse cx="126.2" cy="701.3" rx="2.4" ry="1.5" fill="#6cd06a"/>
<ellipse cx="126.0" cy="701.5" rx="1.3" ry="0.9" fill="#f4d23a"/>
</g>
<rect x="125.3" y="701.0" width="1.0" height="0.9" fill="#e8602a"/>
<line x1="130.50" y1="644.10" x2="130.50" y2="721.10" stroke="#222" stroke-width="0.9"/>
<line x1="107.40" y1="697.50" x2="185.00" y2="697.50" stroke="#222" stroke-width="0.9"/>
<text x="177.50" y="653.50" font-size="7.8" text-anchor="end" fill="#231f20" textLength="12.3" lengthAdjust="spacingAndGlyphs">9.87</text>
<text x="43.40" y="638.20" font-size="9.4" text-anchor="start" fill="#231f20" textLength="40.8" lengthAdjust="spacingAndGlyphs" class="b">-Glutamate</text>
<text x="124.60" y="638.20" font-size="9.4" text-anchor="start" fill="#231f20" textLength="43.4" lengthAdjust="spacingAndGlyphs" class="b">+Glutamate</text>
<line x1="15.20" y1="727.00" x2="15.20" y2="703.00" stroke="#000" stroke-width="1.3"/>
<path d="M15.2 697.6 L12.3 705.6 L15.2 704.0 L18.1 705.6 Z" fill="#000"/>
<line x1="15.90" y1="730.70" x2="39.00" y2="730.70" stroke="#000" stroke-width="1.3"/>
<path d="M44.6 730.7 L36.6 727.8 L38.2 730.7 L36.6 733.6 Z" fill="#000"/>
<text transform="translate(18.00,689.00) rotate(-90)" font-size="8.8" text-anchor="middle" fill="#231f20" textLength="9.0" lengthAdjust="spacingAndGlyphs">Kit</text>
<text x="48.60" y="733.90" font-size="9.0" text-anchor="start" fill="#231f20" textLength="16.0" lengthAdjust="spacingAndGlyphs">Sca1</text>
<text class="b" transform="translate(216.00,669.90) rotate(-90)" font-size="11.9" text-anchor="middle" fill="#231f20" textLength="125.8" lengthAdjust="spacingAndGlyphs">%CD133<tspan font-size="7.2" dy="-4.3">neg</tspan><tspan dy="4.3">Kit</tspan><tspan font-size="7.2" dy="-4.3">+</tspan><tspan dy="4.3">Sca1</tspan><tspan font-size="7.2" dy="-4.3">+</tspan><tspan dy="4.3"> SEPs</tspan></text>
<rect x="242.20" y="671.10" width="24.00" height="38.90" fill="#d59b8b"/>
<rect x="274.90" y="665.00" width="24.00" height="45.00" fill="#9ba1bf"/>
<line x1="236.10" y1="632.40" x2="236.10" y2="710.60" stroke="#000" stroke-width="1.3"/>
<line x1="235.50" y1="710.00" x2="305.40" y2="710.00" stroke="#000" stroke-width="1.3"/>
<line x1="254.40" y1="710.00" x2="254.40" y2="713.60" stroke="#000" stroke-width="1.2"/>
<line x1="286.80" y1="710.00" x2="286.80" y2="713.60" stroke="#000" stroke-width="1.2"/>
<line x1="232.00" y1="636.40" x2="236.10" y2="636.40" stroke="#000" stroke-width="1.2"/>
<text x="228.00" y="639.30" font-size="8.2" text-anchor="end" fill="#231f20">8</text>
<line x1="232.00" y1="654.90" x2="236.10" y2="654.90" stroke="#000" stroke-width="1.2"/>
<text x="228.00" y="657.80" font-size="8.2" text-anchor="end" fill="#231f20">6</text>
<line x1="232.00" y1="673.20" x2="236.10" y2="673.20" stroke="#000" stroke-width="1.2"/>
<text x="228.00" y="676.10" font-size="8.2" text-anchor="end" fill="#231f20">4</text>
<line x1="232.00" y1="691.70" x2="236.10" y2="691.70" stroke="#000" stroke-width="1.2"/>
<text x="228.00" y="694.60" font-size="8.2" text-anchor="end" fill="#231f20">2</text>
<line x1="232.00" y1="710.00" x2="236.10" y2="710.00" stroke="#000" stroke-width="1.2"/>
<text x="228.00" y="712.90" font-size="8.2" text-anchor="end" fill="#231f20">0</text>
<line x1="254.40" y1="669.80" x2="254.40" y2="673.80" stroke="#a9283d" stroke-width="1.1"/>
<line x1="249.90" y1="669.80" x2="258.90" y2="669.80" stroke="#a9283d" stroke-width="1.1"/>
<line x1="249.90" y1="673.80" x2="258.90" y2="673.80" stroke="#a9283d" stroke-width="1.1"/>
<rect x="248.85" y="667.85" width="3.3" height="3.3" fill="#a9283d"/>
<rect x="256.85" y="667.35" width="3.3" height="3.3" fill="#a9283d"/>
<rect x="251.85" y="670.85" width="3.3" height="3.3" fill="#a9283d"/>
<rect x="254.85" y="671.85" width="3.3" height="3.3" fill="#a9283d"/>
<rect x="250.85" y="673.85" width="3.3" height="3.3" fill="#a9283d"/>
<line x1="286.80" y1="662.30" x2="286.80" y2="668.80" stroke="#3e5e8e" stroke-width="1.1"/>
<line x1="282.30" y1="662.30" x2="291.30" y2="662.30" stroke="#3e5e8e" stroke-width="1.1"/>
<line x1="282.30" y1="668.80" x2="291.30" y2="668.80" stroke="#3e5e8e" stroke-width="1.1"/>
<circle cx="286.80" cy="657.70" r="1.9" fill="#3e5e8e"/>
<circle cx="285.00" cy="664.00" r="1.9" fill="#3e5e8e"/>
<circle cx="289.00" cy="666.00" r="1.9" fill="#3e5e8e"/>
<circle cx="286.80" cy="672.80" r="1.9" fill="#3e5e8e"/>
<text x="287.10" y="650.00" font-size="7.0" text-anchor="middle" fill="#231f20" textLength="24.5" lengthAdjust="spacingAndGlyphs">p=0.059</text>
<text transform="translate(257.80,724.50) rotate(-45)" font-size="8.3" text-anchor="end" fill="#231f20" textLength="39.5" lengthAdjust="spacingAndGlyphs">-Glutamate</text>
<text transform="translate(290.20,724.50) rotate(-45)" font-size="8.3" text-anchor="end" fill="#231f20" textLength="41.5" lengthAdjust="spacingAndGlyphs">+Glutamate</text>
<text class="b" transform="translate(333.60,671.10) rotate(-90)" font-size="11.6" text-anchor="middle" fill="#231f20" textLength="53.2" lengthAdjust="spacingAndGlyphs">Number of</text>
<text class="b" transform="translate(348.80,670.70) rotate(-90)" font-size="11.9" text-anchor="middle" fill="#231f20" textLength="118.0" lengthAdjust="spacingAndGlyphs">CD133<tspan font-size="7.2" dy="-4.3">neg</tspan><tspan dy="4.3">Kit</tspan><tspan font-size="7.2" dy="-4.3">+</tspan><tspan dy="4.3">Sca1</tspan><tspan font-size="7.2" dy="-4.3">+</tspan><tspan dy="4.3"> SEPs</tspan></text>
<rect x="399.10" y="673.20" width="23.90" height="36.50" fill="#d59b8b"/>
<rect x="431.40" y="647.10" width="24.40" height="62.60" fill="#9ba1bf"/>
<line x1="392.50" y1="632.70" x2="392.50" y2="710.30" stroke="#000" stroke-width="1.3"/>
<line x1="391.90" y1="709.70" x2="461.70" y2="709.70" stroke="#000" stroke-width="1.3"/>
<line x1="410.80" y1="709.70" x2="410.80" y2="713.30" stroke="#000" stroke-width="1.2"/>
<line x1="443.60" y1="709.70" x2="443.60" y2="713.30" stroke="#000" stroke-width="1.2"/>
<line x1="388.30" y1="636.10" x2="392.50" y2="636.10" stroke="#000" stroke-width="1.2"/>
<text x="380.60" y="638.90" font-size="7.8" text-anchor="end" fill="#231f20" textLength="23.0" lengthAdjust="spacingAndGlyphs">1.0x10</text>
<text x="380.90" y="635.20" font-size="5.2" fill="#444" textLength="2.9" lengthAdjust="spacingAndGlyphs">6</text>
<line x1="388.30" y1="651.10" x2="392.50" y2="651.10" stroke="#000" stroke-width="1.2"/>
<text x="380.60" y="653.90" font-size="7.8" text-anchor="end" fill="#231f20" textLength="23.0" lengthAdjust="spacingAndGlyphs">8.0x10</text>
<text x="380.90" y="650.20" font-size="5.2" fill="#444" textLength="2.9" lengthAdjust="spacingAndGlyphs">5</text>
<line x1="388.30" y1="665.90" x2="392.50" y2="665.90" stroke="#000" stroke-width="1.2"/>
<text x="380.60" y="668.70" font-size="7.8" text-anchor="end" fill="#231f20" textLength="23.0" lengthAdjust="spacingAndGlyphs">6.0x10</text>
<text x="380.90" y="665.00" font-size="5.2" fill="#444" textLength="2.9" lengthAdjust="spacingAndGlyphs">5</text>
<line x1="388.30" y1="680.30" x2="392.50" y2="680.30" stroke="#000" stroke-width="1.2"/>
<text x="380.60" y="683.10" font-size="7.8" text-anchor="end" fill="#231f20" textLength="23.0" lengthAdjust="spacingAndGlyphs">4.0x10</text>
<text x="380.90" y="679.40" font-size="5.2" fill="#444" textLength="2.9" lengthAdjust="spacingAndGlyphs">5</text>
<line x1="388.30" y1="695.40" x2="392.50" y2="695.40" stroke="#000" stroke-width="1.2"/>
<text x="380.60" y="698.20" font-size="7.8" text-anchor="end" fill="#231f20" textLength="23.0" lengthAdjust="spacingAndGlyphs">2.0x10</text>
<text x="380.90" y="694.50" font-size="5.2" fill="#444" textLength="2.9" lengthAdjust="spacingAndGlyphs">5</text>
<line x1="388.30" y1="709.70" x2="392.50" y2="709.70" stroke="#000" stroke-width="1.2"/>
<text x="384.40" y="712.60" font-size="8.2" text-anchor="end" fill="#231f20">0</text>
<line x1="410.80" y1="671.50" x2="410.80" y2="676.50" stroke="#a9283d" stroke-width="1.1"/>
<line x1="406.30" y1="671.50" x2="415.30" y2="671.50" stroke="#a9283d" stroke-width="1.1"/>
<line x1="406.30" y1="676.50" x2="415.30" y2="676.50" stroke="#a9283d" stroke-width="1.1"/>
<rect x="407.35" y="668.35" width="3.3" height="3.3" fill="#a9283d"/>
<rect x="412.35" y="668.35" width="3.3" height="3.3" fill="#a9283d"/>
<rect x="404.85" y="671.35" width="3.3" height="3.3" fill="#a9283d"/>
<rect x="412.35" y="673.35" width="3.3" height="3.3" fill="#a9283d"/>
<rect x="407.85" y="675.85" width="3.3" height="3.3" fill="#a9283d"/>
<line x1="443.60" y1="642.50" x2="443.60" y2="650.50" stroke="#3e5e8e" stroke-width="1.1"/>
<line x1="439.10" y1="642.50" x2="448.10" y2="642.50" stroke="#3e5e8e" stroke-width="1.1"/>
<line x1="439.10" y1="650.50" x2="448.10" y2="650.50" stroke="#3e5e8e" stroke-width="1.1"/>
<circle cx="443.50" cy="639.50" r="1.9" fill="#3e5e8e"/>
<circle cx="444.50" cy="645.50" r="1.9" fill="#3e5e8e"/>
<circle cx="446.50" cy="646.50" r="1.9" fill="#3e5e8e"/>
<circle cx="443.50" cy="658.50" r="1.9" fill="#3e5e8e"/>
<text x="443.60" y="635.20" font-size="7.4" text-anchor="middle" fill="#231f20" letter-spacing="0.5">**</text>
<text transform="translate(413.90,724.00) rotate(-45)" font-size="8.3" text-anchor="end" fill="#231f20" textLength="39.5" lengthAdjust="spacingAndGlyphs">-Glutamate</text>
<text transform="translate(446.70,724.00) rotate(-45)" font-size="8.3" text-anchor="end" fill="#231f20" textLength="41.5" lengthAdjust="spacingAndGlyphs">+Glutamate</text>
<text class="b" transform="translate(19.90,808.90) rotate(-90)" font-size="11.0" text-anchor="middle" fill="#231f20" textLength="93.8" lengthAdjust="spacingAndGlyphs">Stress BFU-E colony</text>
<text class="b" transform="translate(33.90,809.60) rotate(-90)" font-size="11.0" text-anchor="middle" fill="#231f20" textLength="106.2" lengthAdjust="spacingAndGlyphs">(number/million cells)</text>
<rect x="70.80" y="792.00" width="24.60" height="50.30" fill="#d59b8b"/>
<rect x="103.80" y="798.20" width="23.90" height="44.10" fill="#9ba1bf"/>
<line x1="65.40" y1="772.30" x2="65.40" y2="842.90" stroke="#000" stroke-width="1.3"/>
<line x1="64.80" y1="842.30" x2="134.90" y2="842.30" stroke="#000" stroke-width="1.3"/>
<line x1="83.10" y1="842.30" x2="83.10" y2="845.90" stroke="#000" stroke-width="1.2"/>
<line x1="115.70" y1="842.30" x2="115.70" y2="845.90" stroke="#000" stroke-width="1.2"/>
<line x1="61.10" y1="780.50" x2="65.40" y2="780.50" stroke="#000" stroke-width="1.2"/>
<text x="57.10" y="783.20" font-size="8.2" text-anchor="end" fill="#231f20" textLength="13.4" lengthAdjust="spacingAndGlyphs">600</text>
<line x1="61.10" y1="801.20" x2="65.40" y2="801.20" stroke="#000" stroke-width="1.2"/>
<text x="57.10" y="803.90" font-size="8.2" text-anchor="end" fill="#231f20" textLength="13.4" lengthAdjust="spacingAndGlyphs">400</text>
<line x1="61.10" y1="822.00" x2="65.40" y2="822.00" stroke="#000" stroke-width="1.2"/>
<text x="57.10" y="824.70" font-size="8.2" text-anchor="end" fill="#231f20" textLength="13.4" lengthAdjust="spacingAndGlyphs">200</text>
<line x1="61.10" y1="842.30" x2="65.40" y2="842.30" stroke="#000" stroke-width="1.2"/>
<text x="57.10" y="845.00" font-size="8.2" text-anchor="end" fill="#231f20">0</text>
<line x1="83.10" y1="788.20" x2="83.10" y2="795.40" stroke="#a9283d" stroke-width="1.1"/>
<line x1="76.95" y1="788.20" x2="89.25" y2="788.20" stroke="#a9283d" stroke-width="1.1"/>
<line x1="76.95" y1="795.40" x2="89.25" y2="795.40" stroke="#a9283d" stroke-width="1.1"/>
<rect x="81.45" y="780.65" width="3.3" height="3.3" fill="#a9283d"/>
<rect x="79.85" y="790.85" width="3.3" height="3.3" fill="#a9283d"/>
<rect x="83.85" y="791.85" width="3.3" height="3.3" fill="#a9283d"/>
<rect x="81.45" y="797.85" width="3.3" height="3.3" fill="#a9283d"/>
<line x1="115.70" y1="795.00" x2="115.70" y2="801.80" stroke="#3e5e8e" stroke-width="1.1"/>
<line x1="109.70" y1="795.00" x2="121.70" y2="795.00" stroke="#3e5e8e" stroke-width="1.1"/>
<line x1="109.70" y1="801.80" x2="121.70" y2="801.80" stroke="#3e5e8e" stroke-width="1.1"/>
<circle cx="113.50" cy="792.00" r="1.9" fill="#3e5e8e"/>
<circle cx="117.50" cy="795.50" r="1.9" fill="#3e5e8e"/>
<circle cx="117.00" cy="801.80" r="1.9" fill="#3e5e8e"/>
<circle cx="115.70" cy="805.50" r="1.9" fill="#3e5e8e"/>
<text x="115.70" y="785.60" font-size="7.4" text-anchor="middle" fill="#231f20">ns</text>
<text transform="translate(86.40,856.50) rotate(-45)" font-size="8.3" text-anchor="end" fill="#231f20" textLength="39.5" lengthAdjust="spacingAndGlyphs">-Glutamate</text>
<text transform="translate(119.00,856.50) rotate(-45)" font-size="8.3" text-anchor="end" fill="#231f20" textLength="41.5" lengthAdjust="spacingAndGlyphs">+Glutamate</text>
<rect x="0" y="0" width="520" height="1" fill="#7a7a7a"/>
<rect x="0" y="1" width="520" height="1" fill="#3a3a3a"/>
<rect x="0" y="0" width="1" height="897" fill="#7a7a7a"/>
<rect x="1" y="1" width="1" height="895" fill="#333"/>
<rect x="518" y="2" width="1" height="893" fill="#8a8a8a"/>
<rect x="519" y="1" width="1" height="895" fill="#000"/>
<rect x="0" y="895" width="519" height="1" fill="#3a3a3a"/>
<rect x="0" y="896" width="520" height="1" fill="#777"/>
</svg></body></html>
